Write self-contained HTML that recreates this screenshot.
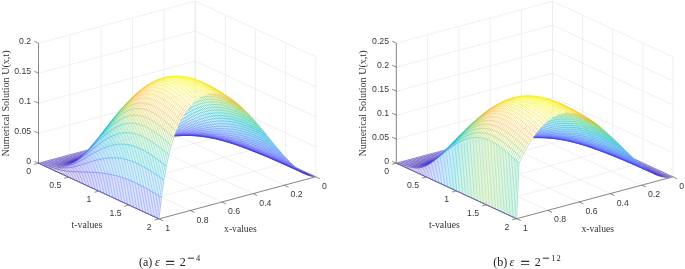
<!DOCTYPE html>
<html><head><meta charset="utf-8"><title>Numerical Solution</title>
<style>html,body{margin:0;padding:0;background:#fff}svg{display:block}
text{font-family:"Liberation Sans",sans-serif;font-size:8.7px;fill:#383838}
.s{font-family:"Liberation Serif",serif;font-size:10px;fill:#333}
.c{font-family:"Liberation Serif",serif;font-size:12px;fill:#222}
</style></head><body>
<svg width="685" height="269" viewBox="0 0 685 269">
<rect width="685" height="269" fill="#fff"/>
<path d="M38.50 163.20 L195.20 121.10M68.62 177.12 L225.32 135.03M98.75 191.05 L255.45 148.95M128.88 204.97 L285.57 162.88M159.00 218.90 L315.70 176.80M195.20 121.10 L315.70 176.80M163.86 129.52 L284.36 185.22M132.52 137.94 L253.02 193.64M101.18 146.36 L221.68 202.06M69.84 154.78 L190.34 210.48M38.50 163.20 L159.00 218.90M195.20 121.10 L195.20 1.10M163.86 129.52 L163.86 9.52M132.52 137.94 L132.52 17.94M101.18 146.36 L101.18 26.36M69.84 154.78 L69.84 34.78M38.50 163.20 L38.50 43.20M38.50 163.20 L195.20 121.10M195.20 121.10 L315.70 176.80M38.50 133.20 L195.20 91.10M195.20 91.10 L315.70 146.80M38.50 103.20 L195.20 61.10M195.20 61.10 L315.70 116.80M38.50 73.20 L195.20 31.10M195.20 31.10 L315.70 86.80M38.50 43.20 L195.20 1.10M195.20 1.10 L315.70 56.80M195.20 121.10 L195.20 1.10M225.32 135.03 L225.32 15.03M255.45 148.95 L255.45 28.95M285.57 162.88 L285.57 42.88M315.70 176.80 L315.70 56.80" fill="none" stroke="#e6e6e6" stroke-width="0.6"/>
<path d="M396.30 163.10 L552.60 121.20M426.38 177.00 L582.67 135.10M456.45 190.90 L612.75 149.00M486.53 204.80 L642.83 162.90M516.60 218.70 L672.90 176.80M552.60 121.20 L672.90 176.80M521.34 129.58 L641.64 185.18M490.08 137.96 L610.38 193.56M458.82 146.34 L579.12 201.94M427.56 154.72 L547.86 210.32M396.30 163.10 L516.60 218.70M552.60 121.20 L552.60 1.30M521.34 129.58 L521.34 9.68M490.08 137.96 L490.08 18.06M458.82 146.34 L458.82 26.44M427.56 154.72 L427.56 34.82M396.30 163.10 L396.30 43.20M396.30 163.10 L552.60 121.20M552.60 121.20 L672.90 176.80M396.30 139.12 L552.60 97.22M552.60 97.22 L672.90 152.82M396.30 115.14 L552.60 73.24M552.60 73.24 L672.90 128.84M396.30 91.16 L552.60 49.26M552.60 49.26 L672.90 104.86M396.30 67.18 L552.60 25.28M552.60 25.28 L672.90 80.88M396.30 43.20 L552.60 1.30M552.60 1.30 L672.90 56.90M552.60 121.20 L552.60 1.30M582.67 135.10 L582.67 15.20M612.75 149.00 L612.75 29.10M642.82 162.90 L642.82 43.00M672.90 176.80 L672.90 56.90" fill="none" stroke="#e6e6e6" stroke-width="0.6"/>
<path d="M38.50 163.20 L38.50 43.20M38.50 163.20 L159.00 218.90M159.00 218.90 L315.70 176.80M38.50 163.20 L34.06 164.39M68.62 177.12 L64.18 178.32M98.75 191.05 L94.31 192.24M128.88 204.97 L124.43 206.17M159.00 218.90 L154.56 220.09M315.70 176.80 L319.88 178.73M284.36 185.22 L288.54 187.15M253.02 193.64 L257.20 195.57M221.68 202.06 L225.86 203.99M190.34 210.48 L194.52 212.41M159.00 218.90 L163.18 220.83M38.50 163.20 L34.32 161.27M38.50 133.20 L34.32 131.27M38.50 103.20 L34.32 101.27M38.50 73.20 L34.32 71.27M38.50 43.20 L34.32 41.27" fill="none" stroke="#505050" stroke-width="0.65"/>
<path d="M396.30 163.10 L396.30 43.20M396.30 163.10 L516.60 218.70M516.60 218.70 L672.90 176.80M396.30 163.10 L391.86 164.29M426.38 177.00 L421.93 178.19M456.45 190.90 L452.01 192.09M486.53 204.80 L482.08 205.99M516.60 218.70 L512.16 219.89M672.90 176.80 L677.08 178.73M641.64 185.18 L645.82 187.11M610.38 193.56 L614.56 195.49M579.12 201.94 L583.30 203.87M547.86 210.32 L552.04 212.25M516.60 218.70 L520.78 220.63M396.30 163.10 L392.12 161.17M396.30 139.12 L392.12 137.19M396.30 115.14 L392.12 113.21M396.30 91.16 L392.12 89.23M396.30 67.18 L392.12 65.25M396.30 43.20 L392.12 41.27" fill="none" stroke="#505050" stroke-width="0.65"/>
<path fill="#fff" stroke="#fff" stroke-width="0.3" d="M195.2 121.1l-2.4 .7-2.5 .6-2.4 .7-2.5 .6-2.4 .7-2.5 .6-2.4 .7-2.5 .7-2.4 .6-2.5 .7-2.4 .6-2.5 .7-2.4 .7-2.5 .6-2.4 .7-2.5 .6-2.4 .7-2.5 .6-2.4 .7-2.5 .7-2.4 .6-2.5 .7-2.4 .6-2.5 .7-2.4 .6-2.5 .7-2.4 .7-2.5 .6-2.4 .7-2.5 .6-2.4 .7-2.5 .6-2.4 .7-2.4 .7-2.5 .6-2.4 .7-2.5 .6-2.4 .7-2.5 .7-2.4 .6-2.5 .7-2.4 .6-2.5 .7-2.4 .6-2.5 .7-2.4 .7-2.5 .6-2.4 .7-2.5 .6-2.4 .7-2.5 .6-2.4 .7-2.5 .7-2.4 .6-2.5 .7-2.4 .6-2.5 .7-2.4 .7-2.5 .6-2.4 .7-2.5 .6-2.4 .7-2.5 .6-2.4 .7 7.5 3.5 2.5-.8 2.4-.8 2.5-.7 2.4-.7 2.5-.7 2.4-.8 2.5-.7 2.4-.7 2.5-.7 2.4-.7 2.5-.7 2.4-.7 2.5-.7 2.4-.7 2.5-.6 2.4-.7 2.5-.7 2.4-.7 2.5-.7 2.4-.6 2.4-.7 2.5-.7 2.4-.7 2.5-.6 2.4-.7 2.5-.6 2.4-.7 2.5-.7 2.4-.6 2.5-.7 2.4-.6 2.5-.7 2.4-.6 2.5-.7 2.4-.6 2.5-.6 2.4-.7 2.5-.6 2.4-.6 2.5-.7 2.4-.6 2.5-.6 2.4-.7 2.5-.6 2.4-.6 2.5-.6 2.4-.7 2.5-.6 2.4-.6 2.5-.6 2.4-.6 2.5-.6 2.4-.7 2.4-.6 2.5-.6 2.4-.6 2.5-.6 2.4-.6 2.5-.7 2.4-.6 2.5-.6 2.4-.6 2.5-.7 2.4-.6zM199.7 123.2l-2.4 .6-2.5 .7-2.4 .6-2.5 .7-2.4 .6-2.5 .7-2.4 .6-2.5 .7-2.4 .6-2.5 .7-2.4 .6-2.5 .7-2.4 .6-2.5 .6-2.4 .7-2.5 .6-2.4 .7-2.5 .6-2.4 .7-2.4 .6-2.5 .7-2.4 .6-2.5 .7-2.4 .6-2.5 .7-2.4 .6-2.5 .7-2.4 .6-2.5 .7-2.4 .7-2.5 .6-2.4 .7-2.5 .6-2.4 .7-2.5 .6-2.4 .7-2.5 .6-2.4 .7-2.5 .7-2.4 .6-2.5 .7-2.4 .6-2.5 .7-2.4 .7-2.5 .6-2.4 .7-2.5 .7-2.4 .6-2.5 .7-2.4 .7-2.5 .6-2.4 .7-2.4 .7-2.5 .6-2.4 .7-2.5 .7-2.4 .6-2.5 .7-2.4 .7-2.5 .7-2.4 .6-2.5 .7-2.4 .7-2.5 .7 7.6 3.5 2.4-1.1 2.4-1.1 2.5-.9 2.4-.9 2.5-.9 2.4-.9 2.5-.8 2.4-.8 2.5-.8 2.4-.8 2.5-.8 2.4-.8 2.5-.7 2.4-.8 2.5-.7 2.4-.8 2.5-.7 2.4-.7 2.5-.7 2.4-.7 2.5-.7 2.4-.7 2.5-.7 2.4-.7 2.5-.7 2.4-.6 2.5-.7 2.4-.6 2.5-.6 2.4-.7 2.5-.6 2.4-.6 2.4-.6 2.5-.6 2.4-.6 2.5-.6 2.4-.6 2.5-.5 2.4-.6 2.5-.6 2.4-.5 2.5-.6 2.4-.5 2.5-.6 2.4-.5 2.5-.6 2.4-.5 2.5-.5 2.4-.5 2.5-.6 2.4-.5 2.5-.5 2.4-.5 2.5-.6 2.4-.5 2.5-.5 2.4-.6 2.5-.5 2.4-.6 2.5-.6 2.4-.5 2.5-.6 2.4-.6 2.4-.6zM204.2 125.3l-2.4 .6-2.5 .6-2.4 .7-2.5 .6-2.4 .6-2.5 .6-2.4 .6-2.5 .6-2.4 .6-2.4 .6-2.5 .6-2.4 .5-2.5 .6-2.4 .6-2.5 .6-2.4 .6-2.5 .6-2.4 .6-2.5 .6-2.4 .6-2.5 .6-2.4 .6-2.5 .6-2.4 .6-2.5 .7-2.4 .6-2.5 .6-2.4 .6-2.5 .6-2.4 .7-2.5 .6-2.4 .6-2.5 .7-2.4 .6-2.5 .7-2.4 .6-2.5 .7-2.4 .6-2.5 .7-2.4 .7-2.4 .6-2.5 .7-2.4 .7-2.5 .7-2.4 .7-2.5 .6-2.4 .7-2.5 .7-2.4 .7-2.5 .7-2.4 .7-2.5 .8-2.4 .7-2.5 .7-2.4 .7-2.5 .7-2.4 .8-2.5 .7-2.4 .8-2.5 .7-2.4 .8-2.5 .8-2.4 .8-2.5 .9 7.6 3.5 2.4-1.8 2.5-1.5 2.4-1.4 2.5-1.2 2.4-1.2 2.5-1.1 2.4-1 2.5-1 2.4-1 2.5-1 2.4-.9 2.4-.9 2.5-.9 2.4-.8 2.5-.9 2.4-.8 2.5-.8 2.4-.8 2.5-.7 2.4-.8 2.5-.7 2.4-.7 2.5-.7 2.4-.6 2.5-.7 2.4-.6 2.5-.6 2.4-.6 2.5-.6 2.4-.6 2.5-.5 2.4-.6 2.5-.5 2.4-.5 2.5-.5 2.4-.5 2.5-.5 2.4-.4 2.5-.5 2.4-.4 2.5-.4 2.4-.5 2.5-.4 2.4-.4 2.4-.4 2.5-.4 2.4-.3 2.5-.4 2.4-.4 2.5-.4 2.4-.4 2.5-.4 2.4-.4 2.5-.4 2.4-.4 2.5-.4 2.4-.4 2.5-.5 2.4-.4 2.5-.5 2.4-.5 2.5-.5 2.4-.6 2.5-.5zM208.8 127.4l-2.5 .6-2.4 .6-2.5 .5-2.4 .6-2.5 .5-2.4 .5-2.5 .6-2.4 .5-2.5 .5-2.4 .5-2.5 .4-2.4 .5-2.5 .5-2.4 .5-2.5 .5-2.4 .5-2.5 .5-2.4 .5-2.5 .4-2.4 .5-2.5 .5-2.4 .6-2.5 .5-2.4 .5-2.5 .5-2.4 .5-2.5 .6-2.4 .5-2.4 .6-2.5 .6-2.4 .5-2.5 .6-2.4 .6-2.5 .6-2.4 .6-2.5 .7-2.4 .6-2.5 .6-2.4 .7-2.5 .6-2.4 .7-2.5 .7-2.4 .7-2.5 .7-2.4 .7-2.5 .8-2.4 .7-2.5 .7-2.4 .8-2.5 .8-2.4 .8-2.5 .8-2.4 .8-2.5 .8-2.4 .8-2.5 .9-2.4 .9-2.5 .9-2.4 .9-2.5 .9-2.4 1.1-2.4 1-2.5 1.2-2.4 1.3 7.5 3.4 2.4-2.7 2.5-2.3 2.4-2 2.5-1.7 2.4-1.6 2.5-1.5 2.4-1.3 2.5-1.3 2.4-1.2 2.5-1.2 2.4-1.1 2.5-1 2.4-1 2.5-1 2.4-1 2.5-.9 2.4-.8 2.5-.9 2.4-.8 2.5-.7 2.4-.8 2.5-.7 2.4-.6 2.5-.7 2.4-.6 2.4-.6 2.5-.5 2.4-.5 2.5-.5 2.4-.5 2.5-.4 2.4-.4 2.5-.4 2.4-.4 2.5-.3 2.4-.4 2.5-.3 2.4-.3 2.5-.2 2.4-.3 2.5-.2 2.4-.3 2.5-.2 2.4-.2 2.5-.2 2.4-.2 2.5-.2 2.4-.2 2.5-.2 2.4-.2 2.5-.2 2.4-.2 2.5-.2 2.4-.2 2.5-.3 2.4-.3 2.4-.3 2.5-.3 2.4-.3 2.5-.4 2.4-.4 2.5-.4 2.4-.5 2.5-.6zM213.3 129.5l-2.5 .5-2.4 .5-2.5 .5-2.4 .5-2.5 .5-2.4 .4-2.5 .4-2.4 .4-2.5 .3-2.4 .4-2.5 .3-2.4 .4-2.5 .3-2.4 .3-2.5 .4-2.4 .3-2.4 .3-2.5 .3-2.4 .4-2.5 .3-2.4 .4-2.5 .3-2.4 .4-2.5 .3-2.4 .4-2.5 .4-2.4 .4-2.5 .5-2.4 .4-2.5 .4-2.4 .5-2.5 .5-2.4 .5-2.5 .5-2.4 .6-2.5 .5-2.4 .6-2.5 .6-2.4 .6-2.5 .7-2.4 .6-2.5 .7-2.4 .7-2.5 .7-2.4 .8-2.5 .8-2.4 .8-2.4 .8-2.5 .8-2.4 .9-2.5 .9-2.4 .9-2.5 1-2.4 .9-2.5 1-2.4 1.1-2.5 1.1-2.4 1.1-2.5 1.2-2.4 1.3-2.5 1.4-2.4 1.6-2.5 1.7-2.4 2.1 7.5 3.4 2.5-4 2.4-3.4 2.5-2.8 2.4-2.4 2.4-2.1 2.5-1.9 2.4-1.8 2.5-1.6 2.4-1.5 2.5-1.4 2.4-1.3 2.5-1.2 2.4-1.2 2.5-1.1 2.4-1 2.5-1 2.4-.9 2.5-.9 2.4-.8 2.5-.8 2.4-.7 2.5-.7 2.4-.6 2.5-.6 2.4-.5 2.5-.5 2.4-.5 2.5-.4 2.4-.3 2.5-.4 2.4-.2 2.5-.3 2.4-.2 2.5-.2 2.4-.1 2.4-.2 2.5-.1 2.4 0 2.5-.1 2.4 0 2.5 0 2.4 0 2.5 0 2.4 0 2.5 0 2.4 .1 2.5 0 2.4 0 2.5 .1 2.4 0 2.5 0 2.4 0 2.5 0 2.4-.1 2.5 0 2.4-.1 2.5-.2 2.4-.1 2.5-.2 2.4-.3 2.5-.3 2.4-.4 2.5-.4 2.4-.5zM217.8 131.5l-2.5 .6-2.4 .4-2.5 .4-2.4 .4-2.4 .3-2.5 .3-2.4 .3-2.5 .3-2.4 .2-2.5 .2-2.4 .1-2.5 .2-2.4 .1-2.5 .2-2.4 .1-2.5 .1-2.4 .1-2.5 .2-2.4 .1-2.5 .1-2.4 .1-2.5 .2-2.4 .1-2.5 .2-2.4 .2-2.5 .2-2.4 .2-2.5 .3-2.4 .2-2.5 .3-2.4 .3-2.5 .4-2.4 .3-2.5 .4-2.4 .5-2.5 .4-2.4 .5-2.4 .5-2.5 .6-2.4 .5-2.5 .7-2.4 .6-2.5 .7-2.4 .7-2.5 .8-2.4 .8-2.5 .9-2.4 .9-2.5 .9-2.4 1-2.5 1-2.4 1.1-2.5 1.1-2.4 1.2-2.5 1.2-2.4 1.3-2.5 1.4-2.4 1.4-2.5 1.6-2.4 1.8-2.5 1.9-2.4 2.3-2.5 2.6-2.4 3.1 7.5 3.5 2.5-5.6 2.4-4.6 2.5-3.8 2.4-3.3 2.5-2.7 2.4-2.5 2.5-2.2 2.4-1.9 2.5-1.8 2.4-1.7 2.5-1.5 2.4-1.4 2.5-1.4 2.4-1.2 2.5-1.1 2.4-1.1 2.4-1 2.5-.9 2.4-.8 2.5-.8 2.4-.7 2.5-.6 2.4-.5 2.5-.5 2.4-.4 2.5-.4 2.4-.3 2.5-.2 2.4-.2 2.5-.2 2.4-.1 2.5 0 2.4 0 2.5 0 2.4 .1 2.5 .1 2.4 .1 2.5 .2 2.4 .2 2.5 .2 2.4 .3 2.5 .2 2.4 .3 2.5 .3 2.4 .3 2.5 .2 2.4 .3 2.4 .3 2.5 .3 2.4 .3 2.5 .2 2.4 .2 2.5 .2 2.4 .2 2.5 .1 2.4 .1 2.5 .1 2.4-.1 2.5 0 2.4-.1 2.5-.2 2.4-.3 2.5-.3 2.4-.5zM222.3 133.6l-2.4 .5-2.5 .4-2.4 .3-2.5 .3-2.4 .2-2.5 .2-2.4 .1-2.5 0-2.4 .1-2.5 0-2.4 0-2.5-.1-2.4-.1-2.5-.1-2.4-.1-2.5-.1-2.4-.1-2.5-.1-2.4-.1-2.5-.1-2.4-.1-2.5-.1-2.4-.1-2.4-.1-2.5 0-2.4-.1-2.5 0-2.4 .1-2.5 0-2.4 .1-2.5 .1-2.4 .2-2.5 .1-2.4 .3-2.5 .2-2.4 .3-2.5 .4-2.4 .4-2.5 .4-2.4 .5-2.5 .6-2.4 .6-2.5 .7-2.4 .7-2.5 .7-2.4 .9-2.5 .8-2.4 1-2.5 1-2.4 1.1-2.5 1.1-2.4 1.3-2.5 1.3-2.4 1.3-2.5 1.5-2.4 1.6-2.4 1.7-2.5 1.9-2.4 2.1-2.5 2.3-2.4 2.7-2.5 3.1-2.4 3.8-2.5 4.5 7.5 3.5 2.5-7.5 2.4-6 2.5-4.9 2.4-4.1 2.5-3.5 2.4-3 2.5-2.7 2.4-2.4 2.5-2.1 2.4-1.9 2.5-1.8 2.4-1.6 2.5-1.4 2.4-1.4 2.5-1.2 2.4-1.1 2.5-1.1 2.4-.9 2.5-.8 2.4-.7 2.5-.6 2.4-.6 2.5-.4 2.4-.4 2.5-.3 2.4-.2 2.5-.1 2.4-.1 2.4 0 2.5 0 2.4 .1 2.5 .2 2.4 .2 2.5 .3 2.4 .3 2.5 .4 2.4 .4 2.5 .5 2.4 .4 2.5 .5 2.4 .5 2.5 .6 2.4 .5 2.5 .6 2.4 .5 2.5 .6 2.4 .6 2.5 .5 2.4 .5 2.5 .6 2.4 .4 2.5 .5 2.4 .4 2.5 .4 2.4 .3 2.5 .3 2.4 .2 2.5 .2 2.4 .1 2.4 0 2.5-.1 2.4-.1 2.5-.3 2.4-.4zM226.8 135.7l-2.4 .4-2.5 .4-2.4 .2-2.5 .1-2.4 .1-2.5 0-2.4 0-2.5-.1-2.4-.2-2.5-.2-2.4-.2-2.5-.3-2.4-.3-2.4-.3-2.5-.3-2.4-.4-2.5-.4-2.4-.4-2.5-.3-2.4-.4-2.5-.4-2.4-.4-2.5-.3-2.4-.3-2.5-.3-2.4-.3-2.5-.3-2.4-.2-2.5-.2-2.4-.2-2.5-.1-2.4 0-2.5-.1-2.4 .1-2.5 0-2.4 .2-2.5 .2-2.4 .2-2.5 .3-2.4 .4-2.5 .5-2.4 .5-2.5 .6-2.4 .6-2.4 .8-2.5 .8-2.4 .9-2.5 1-2.4 1.1-2.5 1.2-2.4 1.2-2.5 1.4-2.4 1.5-2.5 1.6-2.4 1.8-2.5 1.9-2.4 2.1-2.5 2.3-2.4 2.6-2.5 3-2.4 3.5-2.5 4.2-2.4 5.1-2.5 6.2 7.6 3.5 2.4-9.4 2.5-7.6 2.4-6.1 2.5-5 2.4-4.3 2.5-3.6 2.4-3.2 2.4-2.7 2.5-2.5 2.4-2.2 2.5-2 2.4-1.8 2.5-1.6 2.4-1.4 2.5-1.3 2.4-1.2 2.5-1 2.4-.9 2.5-.8 2.4-.7 2.5-.5 2.4-.5 2.5-.3 2.4-.3 2.5-.1 2.4-.1 2.5 .1 2.4 .1 2.5 .2 2.4 .3 2.5 .3 2.4 .4 2.5 .5 2.4 .5 2.5 .6 2.4 .6 2.5 .7 2.4 .7 2.5 .7 2.4 .8 2.4 .8 2.5 .8 2.4 .9 2.5 .8 2.4 .9 2.5 .8 2.4 .8 2.5 .9 2.4 .8 2.5 .7 2.4 .8 2.5 .7 2.4 .6 2.5 .6 2.4 .6 2.5 .4 2.4 .4 2.5 .4 2.4 .2 2.5 .1 2.4 .1 2.5-.1 2.4-.2 2.5-.3zM231.4 137.8l-2.5 .4-2.4 .2-2.5 .1-2.4 .1-2.5-.1-2.4-.1-2.5-.2-2.4-.3-2.5-.4-2.4-.4-2.5-.4-2.4-.5-2.5-.5-2.4-.6-2.5-.6-2.4-.6-2.5-.7-2.4-.6-2.5-.7-2.4-.6-2.5-.7-2.4-.6-2.5-.7-2.4-.6-2.5-.6-2.4-.5-2.5-.6-2.4-.5-2.5-.4-2.4-.4-2.5-.4-2.4-.3-2.4-.2-2.5-.2-2.4-.1-2.5-.1-2.4 0-2.5 .1-2.4 .2-2.5 .2-2.4 .3-2.5 .4-2.4 .6-2.5 .6-2.4 .7-2.5 .8-2.4 .9-2.5 1-2.4 1.1-2.5 1.3-2.4 1.4-2.5 1.5-2.4 1.7-2.5 1.8-2.4 2-2.5 2.2-2.4 2.5-2.5 2.9-2.4 3.2-2.5 3.7-2.4 4.5-2.5 5.3-2.4 6.5-2.5 8.1 7.6 3.5 2.4-11.4 2.5-9.1 2.4-7.4 2.5-6 2.4-5 2.5-4.2 2.4-3.7 2.5-3.2 2.4-2.7 2.5-2.5 2.4-2.2 2.5-1.9 2.4-1.8 2.5-1.5 2.4-1.4 2.5-1.2 2.4-1 2.5-.9 2.4-.8 2.5-.6 2.4-.4 2.4-.4 2.5-.2 2.4-.1 2.5 0 2.4 .1 2.5 .2 2.4 .3 2.5 .4 2.4 .5 2.5 .6 2.4 .6 2.5 .7 2.4 .8 2.5 .9 2.4 .9 2.5 .9 2.4 1 2.5 1 2.4 1.1 2.5 1.1 2.4 1.1 2.5 1.1 2.4 1.1 2.5 1.1 2.4 1.1 2.5 1.1 2.4 1.1 2.5 1.1 2.4 1 2.5 1 2.4 .9 2.4 .9 2.5 .8 2.4 .8 2.5 .7 2.4 .5 2.5 .5 2.4 .4 2.5 .3 2.4 .1 2.5 .1 2.4-.1 2.5-.3zM235.9 139.9l-2.5 .3-2.4 .2-2.5 0-2.4-.1-2.5-.2-2.4-.2-2.5-.4-2.4-.5-2.5-.5-2.4-.6-2.5-.7-2.4-.8-2.5-.7-2.4-.9-2.5-.8-2.4-.9-2.5-.9-2.4-.9-2.5-1-2.4-.9-2.4-.9-2.5-1-2.4-.9-2.5-.9-2.4-.8-2.5-.9-2.4-.8-2.5-.8-2.4-.7-2.5-.6-2.4-.7-2.5-.5-2.4-.5-2.5-.4-2.4-.4-2.5-.2-2.4-.2-2.5-.1-2.4 0-2.5 .1-2.4 .2-2.5 .3-2.4 .4-2.5 .6-2.4 .6-2.5 .8-2.4 .9-2.5 1-2.4 1.2-2.5 1.3-2.4 1.5-2.4 1.7-2.5 1.8-2.4 2-2.5 2.3-2.4 2.6-2.5 2.9-2.4 3.3-2.5 3.8-2.4 4.5-2.5 5.4-2.4 6.6-2.5 8-2.4 10.1 7.5 3.5 2.4-13.4 2.5-10.6 2.4-8.6 2.5-6.9 2.4-5.8 2.5-4.9 2.4-4.1 2.5-3.5 2.4-3.1 2.5-2.7 2.4-2.4 2.5-2.1 2.4-1.9 2.5-1.6 2.4-1.5 2.5-1.2 2.4-1 2.5-.9 2.4-.7 2.5-.5 2.4-.4 2.5-.3 2.4-.1 2.5 0 2.4 .2 2.5 .3 2.4 .3 2.5 .5 2.4 .6 2.5 .7 2.4 .8 2.4 .9 2.5 1 2.4 1 2.5 1.1 2.4 1.2 2.5 1.2 2.4 1.2 2.5 1.3 2.4 1.4 2.5 1.3 2.4 1.4 2.5 1.4 2.4 1.4 2.5 1.4 2.4 1.4 2.5 1.3 2.4 1.4 2.5 1.3 2.4 1.3 2.5 1.2 2.4 1.2 2.5 1.1 2.4 1 2.5 .9 2.4 .9 2.5 .8 2.4 .6 2.5 .5 2.4 .4 2.5 .3 2.4 .1 2.5 0 2.4-.2zM240.4 142l-2.5 .2-2.4 .1-2.5 0-2.4-.2-2.5-.3-2.4-.5-2.5-.5-2.4-.7-2.4-.7-2.5-.8-2.4-.9-2.5-1-2.4-1-2.5-1-2.4-1.2-2.5-1.1-2.4-1.2-2.5-1.2-2.4-1.2-2.5-1.2-2.4-1.2-2.5-1.2-2.4-1.2-2.5-1.2-2.4-1.1-2.5-1.2-2.4-1-2.5-1.1-2.4-1-2.5-.9-2.4-.8-2.5-.8-2.4-.8-2.5-.6-2.4-.6-2.5-.4-2.4-.4-2.5-.3-2.4-.2-2.5 0-2.4 .1-2.4 .1-2.5 .4-2.4 .4-2.5 .6-2.4 .7-2.5 .9-2.4 1.1-2.5 1.2-2.4 1.3-2.5 1.6-2.4 1.8-2.5 2-2.4 2.3-2.5 2.5-2.4 2.9-2.5 3.3-2.4 3.8-2.5 4.4-2.4 5.3-2.5 6.4-2.4 7.7-2.5 9.6-2.4 12.1 7.5 3.5 2.5-15.3 2.4-12.1 2.5-9.7 2.4-7.9 2.5-6.5 2.4-5.4 2.5-4.6 2.4-3.9 2.5-3.4 2.4-2.9 2.5-2.6 2.4-2.3 2.4-1.9 2.5-1.8 2.4-1.4 2.5-1.3 2.4-1 2.5-.9 2.4-.6 2.5-.5 2.4-.3 2.5-.2 2.4 0 2.5 .2 2.4 .3 2.5 .4 2.4 .5 2.5 .7 2.4 .8 2.5 .9 2.4 1 2.5 1.1 2.4 1.2 2.5 1.3 2.4 1.3 2.5 1.4 2.4 1.5 2.5 1.5 2.4 1.6 2.5 1.6 2.4 1.6 2.5 1.6 2.4 1.7 2.5 1.6 2.4 1.7 2.4 1.6 2.5 1.7 2.4 1.6 2.5 1.5 2.4 1.5 2.5 1.5 2.4 1.4 2.5 1.3 2.4 1.2 2.5 1.2 2.4 1 2.5 .9 2.4 .8 2.5 .7 2.4 .5 2.5 .4 2.4 .2 2.5 0 2.4-.1zM244.9 144.1l-2.4 .2-2.5 0-2.4-.2-2.5-.3-2.4-.4-2.5-.6-2.4-.7-2.5-.8-2.4-.9-2.5-1-2.4-1.1-2.5-1.2-2.4-1.3-2.5-1.3-2.4-1.3-2.5-1.4-2.4-1.4-2.5-1.5-2.4-1.5-2.5-1.5-2.4-1.4-2.5-1.5-2.4-1.5-2.5-1.4-2.4-1.5-2.5-1.3-2.4-1.4-2.4-1.3-2.5-1.2-2.4-1.2-2.5-1.1-2.4-1.1-2.5-.9-2.4-.9-2.5-.7-2.4-.7-2.5-.6-2.4-.4-2.5-.3-2.4-.2-2.5-.1-2.4 .1-2.5 .2-2.4 .3-2.5 .6-2.4 .7-2.5 .8-2.4 1.1-2.5 1.2-2.4 1.4-2.5 1.7-2.4 1.9-2.5 2.2-2.4 2.4-2.5 2.8-2.4 3.2-2.5 3.7-2.4 4.3-2.5 5-2.4 6-2.4 7.3-2.5 8.9-2.4 11.2-2.5 14 7.5 3.5 2.5-17.1 2.4-13.4 2.5-10.8 2.4-8.7 2.5-7.2 2.4-6 2.5-5 2.4-4.3 2.5-3.6 2.4-3.2 2.5-2.8 2.4-2.4 2.5-2 2.4-1.8 2.5-1.5 2.4-1.3 2.5-1.1 2.4-.8 2.5-.6 2.4-.5 2.5-.2 2.4-.1 2.5 .1 2.4 .3 2.4 .4 2.5 .6 2.4 .7 2.5 .9 2.4 .9 2.5 1.1 2.4 1.2 2.5 1.3 2.4 1.4 2.5 1.5 2.4 1.6 2.5 1.6 2.4 1.7 2.5 1.8 2.4 1.8 2.5 1.8 2.4 1.9 2.5 1.9 2.4 1.9 2.5 1.9 2.4 1.9 2.5 1.9 2.4 1.8 2.5 1.9 2.4 1.8 2.5 1.7 2.4 1.7 2.5 1.6 2.4 1.5 2.5 1.4 2.4 1.3 2.4 1.2 2.5 1.1 2.4 1 2.5 .8 2.4 .6 2.5 .5 2.4 .3 2.5 .1 2.4-.1zM249.4 146.2l-2.4 .1-2.5 0-2.4-.3-2.5-.4-2.4-.6-2.5-.7-2.4-.8-2.5-1-2.4-1.1-2.5-1.2-2.4-1.3-2.5-1.4-2.4-1.4-2.5-1.6-2.4-1.6-2.5-1.6-2.4-1.7-2.4-1.7-2.5-1.7-2.4-1.7-2.5-1.8-2.4-1.7-2.5-1.7-2.4-1.7-2.5-1.7-2.4-1.7-2.5-1.6-2.4-1.5-2.5-1.5-2.4-1.4-2.5-1.4-2.4-1.2-2.5-1.2-2.4-1.1-2.5-.9-2.4-.9-2.5-.7-2.4-.6-2.5-.5-2.4-.4-2.5-.1-2.4-.1-2.5 .1-2.4 .3-2.5 .5-2.4 .6-2.5 .9-2.4 1-2.4 1.3-2.5 1.5-2.4 1.7-2.5 2-2.4 2.3-2.5 2.7-2.4 3-2.5 3.5-2.4 4-2.5 4.8-2.4 5.6-2.5 6.7-2.4 8.2-2.5 10-2.4 12.6-2.5 15.9 7.6 3.4 2.4-18.6 2.5-14.7 2.4-11.8 2.4-9.5 2.5-7.8 2.4-6.4 2.5-5.4 2.4-4.6 2.5-3.9 2.4-3.4 2.5-3 2.4-2.5 2.5-2.2 2.4-1.8 2.5-1.6 2.4-1.3 2.5-1.1 2.4-.8 2.5-.6 2.4-.4 2.5-.2 2.4 .1 2.5 .2 2.4 .3 2.5 .6 2.4 .7 2.5 .8 2.4 1 2.5 1.2 2.4 1.3 2.5 1.3 2.4 1.5 2.5 1.6 2.4 1.7 2.5 1.8 2.4 1.8 2.4 2 2.5 1.9 2.4 2.1 2.5 2 2.4 2.1 2.5 2.1 2.4 2.2 2.5 2.1 2.4 2.1 2.5 2.1 2.4 2.1 2.5 2.1 2.4 2 2.5 1.9 2.4 1.9 2.5 1.8 2.4 1.7 2.5 1.6 2.4 1.5 2.5 1.3 2.4 1.3 2.5 1 2.4 1 2.5 .7 2.4 .6 2.5 .4 2.4 .1 2.5-.1zM253.9 148.3l-2.4 0-2.5-.1-2.4-.3-2.4-.5-2.5-.7-2.4-.8-2.5-1-2.4-1.1-2.5-1.3-2.4-1.4-2.5-1.5-2.4-1.5-2.5-1.7-2.4-1.8-2.5-1.8-2.4-1.8-2.5-1.9-2.4-2-2.5-1.9-2.4-2-2.5-2-2.4-2-2.5-1.9-2.4-2-2.5-1.9-2.4-1.9-2.5-1.8-2.4-1.8-2.5-1.7-2.4-1.6-2.5-1.6-2.4-1.4-2.5-1.4-2.4-1.3-2.5-1.1-2.4-1.1-2.4-.9-2.5-.7-2.4-.7-2.5-.4-2.4-.3-2.5-.2-2.4 .1-2.5 .2-2.4 .4-2.5 .6-2.4 .8-2.5 1.1-2.4 1.3-2.5 1.5-2.4 1.8-2.5 2.2-2.4 2.4-2.5 2.8-2.4 3.3-2.5 3.7-2.4 4.4-2.5 5.2-2.4 6.1-2.5 7.4-2.4 9-2.5 11.1-2.4 13.9-2.5 17.6 7.6 3.4 2.4-20 2.5-15.9 2.4-12.6 2.5-10.2 2.4-8.3 2.5-6.9 2.4-5.8 2.5-4.9 2.4-4.2 2.5-3.5 2.4-3.1 2.5-2.7 2.4-2.2 2.5-2 2.4-1.6 2.5-1.3 2.4-1.1 2.4-.8 2.5-.6 2.4-.3 2.5-.2 2.4 .1 2.5 .3 2.4 .5 2.5 .6 2.4 .8 2.5 1 2.4 1.1 2.5 1.3 2.4 1.4 2.5 1.6 2.4 1.7 2.5 1.7 2.4 1.9 2.5 2 2.4 2 2.5 2.1 2.4 2.2 2.5 2.2 2.4 2.3 2.5 2.3 2.4 2.3 2.5 2.3 2.4 2.4 2.5 2.3 2.4 2.3 2.5 2.3 2.4 2.3 2.4 2.1 2.5 2.2 2.4 2 2.5 2 2.4 1.9 2.5 1.7 2.4 1.7 2.5 1.5 2.4 1.4 2.5 1.2 2.4 1 2.5 .8 2.4 .7 2.5 .4 2.4 .3 2.5-.1zM258.5 150.3l-2.5 .1-2.4-.2-2.5-.4-2.4-.6-2.5-.8-2.4-.9-2.5-1.1-2.4-1.3-2.5-1.4-2.4-1.6-2.5-1.6-2.4-1.8-2.5-1.9-2.4-1.9-2.5-2-2.4-2.1-2.5-2.1-2.4-2.1-2.5-2.2-2.4-2.2-2.5-2.2-2.4-2.2-2.5-2.2-2.4-2.2-2.4-2.1-2.5-2.1-2.4-2-2.5-2-2.4-1.9-2.5-1.9-2.4-1.7-2.5-1.7-2.4-1.5-2.5-1.5-2.4-1.3-2.5-1.2-2.4-1-2.5-.9-2.4-.8-2.5-.6-2.4-.4-2.5-.2-2.4 0-2.5 .1-2.4 .4-2.5 .6-2.4 .8-2.5 1.1-2.4 1.3-2.5 1.6-2.4 1.9-2.5 2.2-2.4 2.5-2.5 3-2.4 3.5-2.4 4-2.5 4.7-2.4 5.5-2.5 6.6-2.4 8-2.5 9.7-2.4 12.1-2.5 15.1-2.4 19.1 7.5 3.5 2.4-21.3 2.5-16.8 2.4-13.4 2.5-10.8 2.4-8.8 2.5-7.3 2.4-6.1 2.5-5.1 2.4-4.4 2.5-3.7 2.4-3.2 2.5-2.8 2.4-2.4 2.5-2 2.4-1.6 2.5-1.4 2.4-1.1 2.5-.8 2.4-.6 2.5-.3 2.4-.1 2.5 .2 2.4 .3 2.5 .5 2.4 .8 2.5 .9 2.4 1.1 2.4 1.2 2.5 1.4 2.4 1.6 2.5 1.7 2.4 1.8 2.5 1.9 2.4 2 2.5 2.2 2.4 2.2 2.5 2.3 2.4 2.3 2.5 2.4 2.4 2.5 2.5 2.4 2.4 2.5 2.5 2.6 2.4 2.5 2.5 2.5 2.4 2.5 2.5 2.5 2.4 2.4 2.5 2.3 2.4 2.3 2.5 2.2 2.4 2.2 2.5 2 2.4 1.9 2.5 1.8 2.4 1.6 2.5 1.5 2.4 1.3 2.5 1.2 2.4 .9 2.4 .7 2.5 .5 2.4 .3 2.5 0zM263 152.4l-2.5 0-2.4-.2-2.5-.5-2.4-.6-2.5-.9-2.4-1.1-2.5-1.2-2.4-1.4-2.5-1.6-2.4-1.7-2.5-1.8-2.4-1.9-2.4-2-2.5-2.2-2.4-2.1-2.5-2.3-2.4-2.3-2.5-2.3-2.4-2.4-2.5-2.4-2.4-2.4-2.5-2.4-2.4-2.4-2.5-2.4-2.4-2.3-2.5-2.3-2.4-2.2-2.5-2.2-2.4-2.1-2.5-2-2.4-2-2.5-1.8-2.4-1.7-2.5-1.6-2.4-1.5-2.5-1.3-2.4-1.2-2.5-1-2.4-.8-2.5-.7-2.4-.5-2.5-.3-2.4-.1-2.5 .1-2.4 .3-2.4 .6-2.5 .8-2.4 1.1-2.5 1.4-2.4 1.6-2.5 2-2.4 2.3-2.5 2.7-2.4 3.1-2.5 3.6-2.4 4.3-2.5 4.9-2.4 5.9-2.5 7-2.4 8.5-2.5 10.4-2.4 12.9-2.5 16.2-2.4 20.5 7.5 3.5 2.5-22.3 2.4-17.6 2.5-14 2.4-11.3 2.5-9.2 2.4-7.6 2.5-6.4 2.4-5.3 2.4-4.6 2.5-3.9 2.4-3.3 2.5-2.9 2.4-2.4 2.5-2.1 2.4-1.7 2.5-1.4 2.4-1.1 2.5-.9 2.4-.5 2.5-.3 2.4-.1 2.5 .2 2.4 .4 2.5 .6 2.4 .8 2.5 1 2.4 1.1 2.5 1.4 2.4 1.5 2.5 1.7 2.4 1.7 2.5 2 2.4 2 2.5 2.2 2.4 2.2 2.5 2.4 2.4 2.4 2.5 2.5 2.4 2.6 2.5 2.6 2.4 2.6 2.4 2.7 2.5 2.6 2.4 2.7 2.5 2.7 2.4 2.6 2.5 2.7 2.4 2.5 2.5 2.5 2.4 2.5 2.5 2.3 2.4 2.3 2.5 2.2 2.4 2 2.5 1.9 2.4 1.7 2.5 1.6 2.4 1.4 2.5 1.3 2.4 1 2.5 .8 2.4 .6 2.5 .3 2.4 0zM267.5 154.5l-2.4 0-2.5-.3-2.4-.5-2.5-.8-2.4-.9-2.5-1.2-2.4-1.4-2.5-1.5-2.4-1.7-2.5-1.8-2.4-1.9-2.5-2.1-2.4-2.2-2.5-2.2-2.4-2.4-2.5-2.4-2.4-2.5-2.5-2.5-2.4-2.5-2.5-2.6-2.4-2.6-2.5-2.6-2.4-2.5-2.5-2.6-2.4-2.5-2.5-2.4-2.4-2.4-2.5-2.4-2.4-2.2-2.5-2.2-2.4-2.1-2.4-1.9-2.5-1.9-2.4-1.7-2.5-1.6-2.4-1.4-2.5-1.3-2.4-1.1-2.5-1-2.4-.7-2.5-.6-2.4-.4-2.5-.1-2.4 .1-2.5 .3-2.4 .5-2.5 .8-2.4 1.1-2.5 1.4-2.4 1.7-2.5 2-2.4 2.4-2.5 2.8-2.4 3.3-2.5 3.8-2.4 4.4-2.5 5.2-2.4 6.2-2.5 7.4-2.4 9-2.5 10.9-2.4 13.7-2.5 17.1-2.4 21.6 7.5 3.5 2.5-23.1 2.4-18.2 2.5-14.5 2.4-11.7 2.5-9.5 2.4-7.9 2.5-6.6 2.4-5.5 2.5-4.7 2.4-4 2.5-3.5 2.4-2.9 2.5-2.5 2.4-2.2 2.5-1.7 2.4-1.5 2.5-1.1 2.4-.9 2.5-.5 2.4-.3 2.4-.1 2.5 .2 2.4 .5 2.5 .6 2.4 .8 2.5 1.1 2.4 1.2 2.5 1.4 2.4 1.6 2.5 1.8 2.4 1.8 2.5 2.1 2.4 2.1 2.5 2.3 2.4 2.3 2.5 2.5 2.4 2.5 2.5 2.6 2.4 2.7 2.5 2.7 2.4 2.8 2.5 2.8 2.4 2.8 2.5 2.8 2.4 2.8 2.5 2.8 2.4 2.7 2.5 2.7 2.4 2.6 2.5 2.6 2.4 2.5 2.4 2.4 2.5 2.2 2.4 2.2 2.5 2 2.4 1.8 2.5 1.7 2.4 1.5 2.5 1.3 2.4 1.1 2.5 .9 2.4 .6 2.5 .3 2.4 .1zM272 156.6l-2.4 0-2.5-.4-2.4-.6-2.5-.8-2.4-1-2.5-1.3-2.4-1.4-2.5-1.6-2.4-1.8-2.5-2-2.4-2-2.5-2.2-2.4-2.3-2.5-2.4-2.4-2.5-2.5-2.6-2.4-2.6-2.5-2.7-2.4-2.6-2.5-2.8-2.4-2.7-2.4-2.7-2.5-2.7-2.4-2.7-2.5-2.6-2.4-2.6-2.5-2.6-2.4-2.4-2.5-2.4-2.4-2.3-2.5-2.2-2.4-2.1-2.5-2-2.4-1.8-2.5-1.7-2.4-1.5-2.5-1.4-2.4-1.2-2.5-1-2.4-.8-2.5-.6-2.4-.4-2.5-.2-2.4 0-2.5 .3-2.4 .6-2.5 .8-2.4 1.1-2.5 1.5-2.4 1.7-2.5 2.1-2.4 2.5-2.4 2.8-2.5 3.4-2.4 4-2.5 4.6-2.4 5.4-2.5 6.4-2.4 7.7-2.5 9.3-2.4 11.5-2.5 14.2-2.4 17.8-2.5 22.6 7.5 3.5 2.5-23.7 2.4-18.6 2.5-14.9 2.4-11.9 2.5-9.8 2.4-8 2.5-6.8 2.4-5.6 2.5-4.8 2.4-4.2 2.5-3.5 2.4-3 2.5-2.6 2.4-2.2 2.5-1.8 2.4-1.5 2.5-1.2 2.4-.9 2.5-.5 2.4-.4 2.5 0 2.4 .2 2.5 .4 2.4 .7 2.5 .9 2.4 1 2.5 1.3 2.4 1.5 2.5 1.6 2.4 1.8 2.5 1.9 2.4 2.1 2.4 2.2 2.5 2.4 2.4 2.4 2.5 2.5 2.4 2.7 2.5 2.7 2.4 2.7 2.5 2.8 2.4 2.9 2.5 2.9 2.4 2.9 2.5 2.9 2.4 2.9 2.5 2.9 2.4 2.8 2.5 2.8 2.4 2.8 2.5 2.6 2.4 2.6 2.5 2.5 2.4 2.3 2.5 2.3 2.4 2.1 2.5 1.9 2.4 1.7 2.5 1.6 2.4 1.4 2.5 1.1 2.4 .9 2.5 .7 2.4 .4 2.5 .1zM276.5 158.7l-2.4-.1-2.5-.4-2.4-.6-2.5-.9-2.4-1.1-2.5-1.3-2.4-1.5-2.4-1.7-2.5-1.9-2.4-2-2.5-2.2-2.4-2.3-2.5-2.4-2.4-2.5-2.5-2.6-2.4-2.7-2.5-2.7-2.4-2.8-2.5-2.8-2.4-2.9-2.5-2.8-2.4-2.9-2.5-2.8-2.4-2.8-2.5-2.7-2.4-2.7-2.5-2.7-2.4-2.6-2.5-2.4-2.4-2.4-2.5-2.3-2.4-2.2-2.5-2-2.4-2-2.5-1.7-2.4-1.6-2.5-1.4-2.4-1.3-2.5-1-2.4-.9-2.4-.7-2.5-.4-2.4-.2-2.5 .1-2.4 .3-2.5 .5-2.4 .9-2.5 1.1-2.4 1.5-2.5 1.8-2.4 2.1-2.5 2.6-2.4 2.9-2.5 3.5-2.4 4.1-2.5 4.7-2.4 5.6-2.5 6.6-2.4 8-2.5 9.6-2.4 11.8-2.5 14.6-2.4 18.4-2.5 23.3 7.6 3.5 2.4-24 2.5-18.9 2.4-15 2.5-12.2 2.4-9.9 2.5-8.2 2.4-6.8 2.5-5.8 2.4-4.9 2.5-4.2 2.4-3.6 2.5-3.1 2.4-2.7 2.4-2.2 2.5-1.9 2.4-1.5 2.5-1.2 2.4-.9 2.5-.7 2.4-.3 2.5-.1 2.4 .2 2.5 .4 2.4 .7 2.5 .9 2.4 1.1 2.5 1.2 2.4 1.5 2.5 1.7 2.4 1.8 2.5 2 2.4 2.1 2.5 2.2 2.4 2.4 2.5 2.5 2.4 2.6 2.5 2.7 2.4 2.7 2.5 2.9 2.4 2.9 2.5 2.9 2.4 3 2.5 2.9 2.4 3 2.4 3 2.5 2.9 2.4 3 2.5 2.8 2.4 2.9 2.5 2.7 2.4 2.7 2.5 2.5 2.4 2.5 2.5 2.3 2.4 2.1 2.5 2 2.4 1.8 2.5 1.7 2.4 1.4 2.5 1.2 2.4 .9 2.5 .7 2.4 .5 2.5 .1zM281.1 160.8l-2.5-.1-2.4-.4-2.5-.7-2.4-.9-2.5-1.2-2.4-1.4-2.5-1.6-2.4-1.7-2.5-2-2.4-2.1-2.5-2.3-2.4-2.4-2.5-2.5-2.4-2.6-2.5-2.7-2.4-2.7-2.5-2.9-2.4-2.8-2.5-2.9-2.4-3-2.5-2.9-2.4-2.9-2.5-2.9-2.4-2.9-2.5-2.9-2.4-2.8-2.5-2.7-2.4-2.6-2.4-2.6-2.5-2.5-2.4-2.3-2.5-2.2-2.4-2.1-2.5-2-2.4-1.8-2.5-1.6-2.4-1.5-2.5-1.3-2.4-1.1-2.5-.8-2.4-.7-2.5-.4-2.4-.2-2.5 0-2.4 .4-2.5 .5-2.4 .9-2.5 1.2-2.4 1.5-2.5 1.8-2.4 2.2-2.5 2.7-2.4 3-2.5 3.6-2.4 4.1-2.5 4.9-2.4 5.7-2.5 6.8-2.4 8.1-2.4 9.8-2.5 12-2.4 15-2.5 18.7-2.4 23.8 7.5 3.5 2.4-24.1 2.5-19 2.4-15.1 2.5-12.2 2.4-10 2.5-8.3 2.4-6.9 2.5-5.8 2.4-5 2.5-4.3 2.4-3.7 2.5-3.1 2.4-2.8 2.5-2.3 2.4-1.9 2.5-1.6 2.4-1.2 2.5-1 2.4-.6 2.5-.4 2.4-.1 2.5 .1 2.4 .4 2.4 .7 2.5 .8 2.4 1.1 2.5 1.3 2.4 1.4 2.5 1.7 2.4 1.8 2.5 2 2.4 2.1 2.5 2.3 2.4 2.4 2.5 2.5 2.4 2.6 2.5 2.8 2.4 2.8 2.5 2.8 2.4 3 2.5 2.9 2.4 3 2.5 3.1 2.4 3 2.5 3 2.4 3.1 2.5 2.9 2.4 3 2.5 2.9 2.4 2.8 2.5 2.7 2.4 2.6 2.5 2.5 2.4 2.3 2.5 2.3 2.4 2 2.4 1.9 2.5 1.7 2.4 1.4 2.5 1.3 2.4 1 2.5 .7 2.4 .4 2.5 .2zM285.6 162.9l-2.5-.2-2.4-.4-2.5-.7-2.4-1-2.5-1.2-2.4-1.4-2.5-1.6-2.4-1.9-2.5-2-2.4-2.2-2.5-2.3-2.4-2.5-2.5-2.6-2.4-2.6-2.5-2.8-2.4-2.8-2.4-2.9-2.5-3-2.4-3-2.5-3-2.4-3-2.5-3-2.4-2.9-2.5-3-2.4-2.9-2.5-2.8-2.4-2.8-2.5-2.7-2.4-2.6-2.5-2.5-2.4-2.4-2.5-2.3-2.4-2.1-2.5-2-2.4-1.8-2.5-1.6-2.4-1.5-2.5-1.3-2.4-1.1-2.5-.9-2.4-.6-2.5-.4-2.4-.2-2.5 .1-2.4 .3-2.5 .7-2.4 .9-2.5 1.2-2.4 1.5-2.4 1.9-2.5 2.3-2.4 2.7-2.5 3.1-2.4 3.6-2.5 4.3-2.4 4.9-2.5 5.8-2.4 6.9-2.5 8.2-2.4 9.9-2.5 12.2-2.4 15.1-2.5 19-2.4 24 7.5 3.5 2.5-24 2.4-19 2.5-15.1 2.4-12.2 2.4-10 2.5-8.2 2.4-7 2.5-5.9 2.4-5 2.5-4.3 2.4-3.8 2.5-3.2 2.4-2.8 2.5-2.3 2.4-2 2.5-1.7 2.4-1.3 2.5-1 2.4-.7 2.5-.4 2.4-.2 2.5 .2 2.4 .3 2.5 .6 2.4 .8 2.5 1.1 2.4 1.2 2.5 1.5 2.4 1.6 2.5 1.8 2.4 2 2.5 2.1 2.4 2.3 2.5 2.4 2.4 2.5 2.5 2.6 2.4 2.8 2.4 2.8 2.5 2.9 2.4 2.9 2.5 3 2.4 3.1 2.5 3 2.4 3.1 2.5 3.1 2.4 3 2.5 3 2.4 3 2.5 2.9 2.4 2.9 2.5 2.7 2.4 2.7 2.5 2.5 2.4 2.4 2.5 2.3 2.4 2.1 2.5 1.9 2.4 1.7 2.5 1.5 2.4 1.3 2.5 1 2.4 .7 2.5 .5 2.4 .2zM290.1 165l-2.5-.2-2.4-.4-2.5-.8-2.4-1-2.4-1.2-2.5-1.5-2.4-1.7-2.5-1.9-2.4-2-2.5-2.3-2.4-2.3-2.5-2.6-2.4-2.6-2.5-2.7-2.4-2.8-2.5-2.9-2.4-3-2.5-3-2.4-3-2.5-3.1-2.4-3-2.5-3-2.4-3.1-2.5-3-2.4-2.9-2.5-2.9-2.4-2.8-2.5-2.7-2.4-2.6-2.5-2.6-2.4-2.4-2.5-2.2-2.4-2.2-2.5-1.9-2.4-1.9-2.4-1.6-2.5-1.5-2.4-1.2-2.5-1.1-2.4-.9-2.5-.6-2.4-.4-2.5-.1-2.4 .1-2.5 .4-2.4 .7-2.5 .9-2.4 1.3-2.5 1.6-2.4 2-2.5 2.3-2.4 2.7-2.5 3.2-2.4 3.7-2.5 4.3-2.4 5-2.5 5.9-2.4 6.9-2.5 8.3-2.4 10-2.5 12.2-2.4 15.1-2.5 19-2.4 24.1 7.5 3.4 2.5-23.7 2.4-18.8 2.5-14.9 2.4-12.2 2.5-9.9 2.4-8.2 2.5-7 2.4-5.9 2.5-5 2.4-4.4 2.5-3.8 2.4-3.3 2.5-2.8 2.4-2.4 2.5-2.1 2.4-1.7 2.4-1.3 2.5-1.1 2.4-.8 2.5-.4 2.4-.3 2.5 .1 2.4 .3 2.5 .6 2.4 .7 2.5 1 2.4 1.2 2.5 1.4 2.4 1.6 2.5 1.8 2.4 2 2.5 2.1 2.4 2.2 2.5 2.4 2.4 2.5 2.5 2.6 2.4 2.7 2.5 2.9 2.4 2.8 2.5 3 2.4 3 2.5 3 2.4 3.1 2.5 3.1 2.4 3.1 2.5 3.1 2.4 3 2.4 3 2.5 2.9 2.4 2.9 2.5 2.8 2.4 2.7 2.5 2.6 2.4 2.4 2.5 2.3 2.4 2.1 2.5 1.9 2.4 1.8 2.5 1.5 2.4 1.3 2.5 1 2.4 .8 2.5 .5 2.4 .1zM294.6 167.1l-2.4-.2-2.5-.5-2.4-.7-2.5-1.1-2.4-1.2-2.5-1.5-2.4-1.8-2.5-1.9-2.4-2.1-2.5-2.3-2.4-2.4-2.5-2.5-2.4-2.7-2.5-2.8-2.4-2.8-2.5-3-2.4-2.9-2.5-3.1-2.4-3-2.5-3.1-2.4-3.1-2.5-3-2.4-3.1-2.5-3-2.4-2.9-2.4-2.9-2.5-2.8-2.4-2.8-2.5-2.6-2.4-2.5-2.5-2.4-2.4-2.3-2.5-2.1-2.4-2-2.5-1.8-2.4-1.6-2.5-1.4-2.4-1.3-2.5-1-2.4-.8-2.5-.6-2.4-.3-2.5-.1-2.4 .2-2.5 .4-2.4 .7-2.5 1-2.4 1.4-2.5 1.6-2.4 2-2.5 2.4-2.4 2.8-2.5 3.3-2.4 3.7-2.5 4.4-2.4 5-2.4 5.9-2.5 6.9-2.4 8.3-2.5 10-2.4 12.2-2.5 15-2.4 18.9-2.5 24 7.5 3.4 2.5-23.3 2.4-18.5 2.5-14.8 2.4-12 2.5-9.8 2.4-8.2 2.5-6.9 2.4-5.9 2.5-5 2.4-4.4 2.5-3.9 2.4-3.3 2.5-2.9 2.4-2.4 2.5-2.1 2.4-1.8 2.5-1.4 2.4-1.2 2.5-.8 2.4-.5 2.5-.3 2.4 0 2.5 .2 2.4 .5 2.5 .7 2.4 1 2.5 1.1 2.4 1.4 2.4 1.5 2.5 1.8 2.4 1.9 2.5 2 2.4 2.2 2.5 2.4 2.4 2.5 2.5 2.6 2.4 2.7 2.5 2.8 2.4 2.8 2.5 3 2.4 3 2.5 3 2.4 3.1 2.5 3.1 2.4 3 2.5 3.1 2.4 3.1 2.5 3 2.4 2.9 2.5 2.9 2.4 2.8 2.5 2.7 2.4 2.6 2.5 2.4 2.4 2.3 2.5 2.2 2.4 1.9 2.5 1.8 2.4 1.5 2.5 1.3 2.4 1.1 2.4 .8 2.5 .5 2.4 .1zM299.1 169.1l-2.4-.1-2.5-.5-2.4-.8-2.5-1-2.4-1.3-2.5-1.5-2.4-1.8-2.5-1.9-2.4-2.2-2.5-2.3-2.4-2.4-2.4-2.6-2.5-2.7-2.4-2.8-2.5-2.8-2.4-3-2.5-3-2.4-3-2.5-3.1-2.4-3.1-2.5-3.1-2.4-3.1-2.5-3-2.4-3-2.5-3-2.4-2.8-2.5-2.8-2.4-2.8-2.5-2.6-2.4-2.5-2.5-2.4-2.4-2.2-2.5-2.1-2.4-1.9-2.5-1.8-2.4-1.6-2.5-1.4-2.4-1.1-2.5-1-2.4-.8-2.5-.5-2.4-.3-2.5 0-2.4 .2-2.4 .5-2.5 .8-2.4 1.1-2.5 1.4-2.4 1.7-2.5 2.1-2.4 2.4-2.5 2.8-2.4 3.3-2.5 3.8-2.4 4.4-2.5 5.1-2.4 5.9-2.5 6.9-2.4 8.2-2.5 9.9-2.4 12.1-2.5 14.9-2.4 18.7-2.5 23.6 7.6 3.5 2.4-22.9 2.5-18.1 2.4-14.5 2.5-11.8 2.4-9.7 2.5-8 2.4-6.9 2.5-5.9 2.4-5 2.4-4.4 2.5-3.9 2.4-3.3 2.5-2.9 2.4-2.6 2.5-2.1 2.4-1.8 2.5-1.5 2.4-1.2 2.5-.9 2.4-.6 2.5-.4 2.4 0 2.5 .1 2.4 .4 2.5 .7 2.4 .9 2.5 1.1 2.4 1.3 2.5 1.5 2.4 1.6 2.5 1.9 2.4 2 2.5 2.2 2.4 2.3 2.5 2.4 2.4 2.5 2.5 2.7 2.4 2.8 2.5 2.8 2.4 2.9 2.4 3 2.5 3 2.4 3 2.5 3.1 2.4 3.1 2.5 3 2.4 3.1 2.5 3 2.4 2.9 2.5 2.9 2.4 2.8 2.5 2.7 2.4 2.6 2.5 2.5 2.4 2.3 2.5 2.1 2.4 2 2.5 1.7 2.4 1.6 2.5 1.3 2.4 1.1 2.5 .8 2.4 .4 2.5 .2zM303.6 171.2l-2.4-.1-2.4-.5-2.5-.8-2.4-1.1-2.5-1.3-2.4-1.5-2.5-1.8-2.4-1.9-2.5-2.2-2.4-2.3-2.5-2.5-2.4-2.5-2.5-2.7-2.4-2.8-2.5-2.9-2.4-3-2.5-3-2.4-3-2.5-3.1-2.4-3.1-2.5-3.1-2.4-3-2.5-3.1-2.4-2.9-2.5-3-2.4-2.8-2.5-2.8-2.4-2.7-2.5-2.6-2.4-2.4-2.5-2.4-2.4-2.2-2.4-2-2.5-1.9-2.4-1.7-2.5-1.6-2.4-1.3-2.5-1.1-2.4-1-2.5-.7-2.4-.4-2.5-.2-2.4 0-2.5 .3-2.4 .6-2.5 .8-2.4 1.1-2.5 1.5-2.4 1.8-2.5 2.1-2.4 2.5-2.5 2.9-2.4 3.3-2.5 3.9-2.4 4.4-2.5 5-2.4 5.9-2.5 6.9-2.4 8.1-2.5 9.8-2.4 11.9-2.5 14.7-2.4 18.4-2.4 23.2 7.5 3.5 2.4-22.3 2.5-17.7 2.4-14.2 2.5-11.5 2.4-9.6 2.5-7.9 2.4-6.8 2.5-5.8 2.4-5 2.5-4.4 2.4-3.9 2.5-3.4 2.4-2.9 2.5-2.6 2.4-2.2 2.5-1.9 2.4-1.5 2.5-1.3 2.4-1 2.4-.6 2.5-.4 2.4-.2 2.5 .1 2.4 .4 2.5 .6 2.4 .8 2.5 1 2.4 1.2 2.5 1.4 2.4 1.6 2.5 1.8 2.4 2 2.5 2.1 2.4 2.2 2.5 2.4 2.4 2.5 2.5 2.6 2.4 2.7 2.5 2.8 2.4 2.9 2.5 2.9 2.4 3 2.5 3 2.4 3.1 2.5 3 2.4 3 2.5 3.1 2.4 2.9 2.5 3 2.4 2.8 2.5 2.8 2.4 2.7 2.4 2.6 2.5 2.4 2.4 2.4 2.5 2.1 2.4 2 2.5 1.7 2.4 1.6 2.5 1.3 2.4 1.1 2.5 .7 2.4 .5 2.5 .2zM308.2 173.3l-2.5-.2-2.4-.5-2.5-.7-2.4-1.1-2.5-1.3-2.4-1.6-2.5-1.7-2.4-2-2.5-2.1-2.4-2.4-2.5-2.4-2.4-2.6-2.5-2.7-2.4-2.8-2.5-2.9-2.4-2.9-2.5-3-2.4-3-2.5-3.1-2.4-3.1-2.4-3-2.5-3.1-2.4-3-2.5-2.9-2.4-2.9-2.5-2.8-2.4-2.8-2.5-2.6-2.4-2.6-2.5-2.4-2.4-2.3-2.5-2.1-2.4-2-2.5-1.8-2.4-1.7-2.5-1.5-2.4-1.2-2.5-1.1-2.4-.9-2.5-.6-2.4-.4-2.5-.1-2.4 .1-2.5 .3-2.4 .7-2.5 .9-2.4 1.2-2.5 1.5-2.4 1.8-2.5 2.2-2.4 2.6-2.5 2.9-2.4 3.4-2.4 3.8-2.5 4.4-2.4 5.1-2.5 5.8-2.4 6.8-2.5 8.1-2.4 9.6-2.5 11.7-2.4 14.4-2.5 18-2.4 22.7 7.5 3.5 2.4-21.7 2.5-17.2 2.4-13.9 2.5-11.2 2.4-9.3 2.5-7.9 2.4-6.6 2.5-5.8 2.4-5 2.5-4.4 2.4-3.8 2.5-3.4 2.4-3 2.5-2.6 2.4-2.3 2.5-1.9 2.4-1.6 2.5-1.3 2.4-1 2.5-.8 2.4-.5 2.5-.2 2.4 .1 2.5 .2 2.4 .5 2.5 .8 2.4 .9 2.5 1.2 2.4 1.3 2.5 1.6 2.4 1.7 2.5 1.9 2.4 2 2.4 2.2 2.5 2.3 2.4 2.4 2.5 2.6 2.4 2.6 2.5 2.8 2.4 2.8 2.5 2.9 2.4 2.9 2.5 3 2.4 3 2.5 3 2.4 3 2.5 3 2.4 2.9 2.5 2.9 2.4 2.9 2.5 2.7 2.4 2.7 2.5 2.6 2.4 2.4 2.5 2.3 2.4 2.1 2.5 2 2.4 1.7 2.5 1.6 2.4 1.3 2.5 1 2.4 .8 2.5 .5 2.4 .2zM312.7 175.4l-2.5-.2-2.4-.5-2.5-.8-2.4-1-2.5-1.3-2.4-1.6-2.5-1.7-2.4-2-2.4-2.1-2.5-2.3-2.4-2.5-2.5-2.6-2.4-2.7-2.5-2.7-2.4-2.9-2.5-2.9-2.4-3-2.5-3-2.4-3-2.5-3.1-2.4-3-2.5-3-2.4-2.9-2.5-3-2.4-2.8-2.5-2.8-2.4-2.7-2.5-2.6-2.4-2.5-2.5-2.3-2.4-2.2-2.5-2.1-2.4-2-2.5-1.7-2.4-1.6-2.5-1.4-2.4-1.2-2.5-1-2.4-.8-2.4-.5-2.5-.4-2.4-.1-2.5 .2-2.4 .4-2.5 .7-2.4 1-2.5 1.3-2.4 1.6-2.5 1.9-2.4 2.2-2.5 2.6-2.4 2.9-2.5 3.4-2.4 3.9-2.5 4.4-2.4 5-2.5 5.8-2.4 6.7-2.5 8-2.4 9.4-2.5 11.5-2.4 14-2.5 17.6-2.4 22.1 3 1.4 2.4-21.7 2.5-17.2 2.4-13.9 2.5-11.2 2.4-9.3 2.5-7.9 2.4-6.6 2.5-5.8 2.4-5 2.5-4.4 2.4-3.8 2.5-3.4 2.4-3 2.5-2.6 2.4-2.3 2.5-1.9 2.4-1.6 2.5-1.3 2.4-1 2.5-.8 2.4-.5 2.5-.2 2.4 .1 2.5 .2 2.4 .5 2.5 .8 2.4 .9 2.5 1.2 2.4 1.3 2.5 1.6 2.4 1.7 2.5 1.9 2.4 2 2.4 2.2 2.5 2.3 2.4 2.4 2.5 2.6 2.4 2.6 2.5 2.8 2.4 2.8 2.5 2.9 2.4 2.9 2.5 3 2.4 3 2.5 3 2.4 3 2.5 3 2.4 2.9 2.5 2.9 2.4 2.9 2.5 2.7 2.4 2.7 2.5 2.6 2.4 2.4 2.5 2.3 2.4 2.1 2.5 2 2.4 1.7 2.5 1.6 2.4 1.3 2.5 1 2.4 .8 2.5 .5 2.4 .2z"/><g fill="none" stroke-width="0.45" stroke-opacity="1.0" stroke-linejoin="round"><path stroke="#3f29b2" d="M88.3 149.8l-.8 .2-2.5 .7-2.4 .7-2.5 .6-2.4 .7-2.5 .6-2.4 .7-2.5 .6-2.4 .7-2.5 .7-2.4 .6-2.5 .7-2.4 .6-2.5 .7-2.4 .7-2.5 .6-2.4 .7-2.5 .6-2.4 .7-2.5 .6-2.4 .7M86.5 151.4l-2.4 .6-2.5 .7-2.4 .7-2.5 .6-2.4 .7-2.5 .6-2.4 .7-2.5 .6-2.4 .7-2.5 .7-2.4 .6-2.5 .7-2.4 .6-2.5 .7-2.4 .7-2.4 .6-2.5 .7-2.4 .6-2.5 .7M84.8 152.9l-1.7 .4-2.4 .7-2.5 .6-2.4 .7-2.5 .7-2.4 .6-2.5 .7-2.4 .7-2.5 .6-2.4 .7-2.4 .6-2.5 .7-2.4 .7-2.5 .6-2.4 .7-2.5 .7-2.4 .6-2.5 .7M83.8 154.1l-1.6 .4-2.5 .7-2.4 .7-2.5 .6-2.4 .7-2.4 .7-2.5 .6-2.4 .7-2.5 .7-2.4 .6-2.5 .7-2.4 .7-2.5 .7-2.4 .6-2.5 .7-2.4 .7-2.5 .7M82.1 155.4l-.8 .2-2.5 .7-2.4 .7-2.5 .7-2.4 .6-2.5 .7-2.4 .7-2.5 .7-2.4 .7-2.5 .7-2.4 .7-2.5 .7-2.4 .6-2.5 .8-2.4 .7-2.5 .7M81.1 156.4l-.8 .2-2.4 .7-2.5 .7-2.4 .7-2.5 .7-2.4 .7-2.5 .7-2.4 .7-2.5 .7-2.4 .8-2.5 .7-2.4 .7-2.5 .7-2.4 .8-2.5 .8M80.2 157.3l-.8 .2-2.5 .8-2.4 .7-2.5 .7-2.4 .7-2.5 .7-2.4 .8-2.5 .7-2.4 .8-2.5 .7-2.4 .8-2.5 .8-2.4 .8-2.5 .9M79.2 158.1l-.8 .2-2.4 .8-2.5 .7-2.4 .8-2.5 .7-2.4 .8-2.5 .8-2.4 .8-2.5 .8-2.4 .8-2.5 .9-2.4 .9-2.5 1M77.5 159l-2.5 .8-2.4 .8-2.5 .8-2.4 .8-2.5 .8-2.4 .9-2.5 .9-2.4 .9-2.5 .9-2.4 1.1-2.4 1.1M71.6 161.3l-2.4 .9-2.5 .9-2.4 .9-2.5 .9-2.4 1.1-2.4 1-2.5 1.2-2.4 1.3M65.8 164l-2.4 1-2.5 1.1-2.4 1.2-2.5 1.4-2.4 1.5M62.4 166.2l-2.4 1.4-2.5 1.5-2.4 1.8M61.5 167.8l-2.5 1.7-2.4 2.1M60.5 169.9l-2.4 2.4M62 170.2l-2.4 2.7M63.5 170.5l-2.4 3.1M65 170.8l-2.4 3.5M297.6 168.4l-.8 0M299.1 169.1l-1.6-.1M300.6 169.8l-1.6-.1M302.1 170.5l-2.4-.1M303.6 171.2l-2.4-.1-.8-.2M305.2 171.9l-2.5-.2-1.6-.3M306.7 172.6l-2.5-.2-2.4-.4M308.2 173.3l-2.5-.2-2.4-.5M309.7 174l-2.5-.2-2.4-.5-1.7-.5M311.2 174.7l-2.5-.2-2.4-.5-1.6-.5M312.7 175.4l-2.5-.2-2.4-.5-2.5-.8M314.2 176.1l-2.5-.2-2.4-.5-2.5-.8M315.7 176.8l-2.4-.2-2.5-.5-2.4-.8M296.1 167.7l1.5 .7 1.5 .7 1.5 .7 1.5 .7 1.5 .7 1.6 .7 1.5 .7 1.5 .7 1.5 .7 1.5 .7 1.5 .7 1.5 .7 1.5 .7M299.7 170.4l1.5 .7 1.5 .6 1.5 .7 1.5 .7 1.5 .7 1.5 .7 1.5 .7 1.5 .7 1.6 .7M302.5 172.3l.8 .3 1.5 .7 1.5 .7 1.5 .7 1.5 .7 1.5 .7M85 150.7l1.5 .7M82.6 151.4l1.5 .6 1.5 .7M80.1 152l1.5 .7 1.5 .6 .8 .3M77.7 152.7l1.5 .7 1.5 .6 1.5 .5 .7 .2M75.2 153.3l1.5 .7 1.5 .6 1.5 .6 1.6 .4 .7 .2M72.8 154l1.5 .7 1.5 .6 1.5 .6 1.5 .4 1.5 .3 .8 .1M70.3 154.6l1.5 .7 1.5 .7 1.5 .5 1.6 .5 1.5 .3 1.5 .2 .7 .1M67.9 155.3l1.5 .7 1.5 .6 1.5 .6 1.5 .5 1.5 .3 1.5 .3 1.5 0M65.4 156l1.5 .6 1.5 .7 1.6 .6 1.5 .4 1.5 .4 1.5 .3 1.5 .1 1.5-.1 .7-.1M63 156.6l1.5 .7 1.5 .7 1.5 .5 1.5 .5 1.5 .4 1.5 .3 1.5 .1 1.5 0 1.5-.2M60.5 157.3l1.5 .7 1.5 .6 1.6 .6 1.5 .5 1.5 .4 1.5 .3 1.5 .2 1.5 0 1.5-.2M58.1 157.9l1.5 .7 1.5 .7 1.5 .6 1.5 .5 1.5 .4 1.5 .3 1.5 .2 1.5 .1 1.5-.1 1.6-.2M55.6 158.6l1.5 .7 1.6 .6 1.5 .6 1.5 .6 1.5 .4 1.5 .4 1.5 .2 1.5 .1 1.5 0 1.5-.2M53.2 159.3l1.5 .6 1.5 .7 1.5 .6 1.5 .6 1.5 .4 1.5 .4 1.5 .3 1.5 .1 1.5 .1 1.6-.1M50.7 159.9l1.5 .7 1.6 .7 1.5 .6 1.5 .6 1.5 .5 1.5 .4 1.5 .3 1.5 .2 1.5 .1 1.5 0 1.5-.2M48.3 160.6l1.5 .7 1.5 .6 1.5 .7 1.5 .6 1.5 .5 1.5 .4 1.5 .4 1.5 .3 1.5 .1 1.6 .1 1.5 0M45.8 161.2l1.6 .7 1.5 .7 1.5 .6 1.5 .6 1.5 .6 1.5 .5 1.5 .4 1.5 .4 1.5 .3 1.5 .1 1.5 .1 1.5 0M43.4 161.9l1.5 .7 1.5 .7 1.5 .6 1.5 .7 1.5 .5 1.5 .6 1.5 .5 1.5 .4 1.6 .4 1.5 .3 1.5 .3 1.5 .2 1.5 .1M40.9 162.5l1.6 .7 1.5 .7 1.5 .7 1.5 .7 1.5 .6 1.5 .6 1.5 .6 1.5 .6 1.5 .5 1.5 .5 1.5 .4 1.5 .4 1.5 .4 1.5 .3 1.5 .3 1.5 .3 1.6 .2M38.5 163.2l1.5 .7 1.5 .7 1.5 .7 1.5 .7 1.5 .7 1.5 .7 1.5 .7 1.6 .7 1.5 .7 1.5 .7 1.5 .7 1.5 .7 1.5 .7 1.5 .6 1.5 .7 1.5 .7 1.5 .7 1.5 .7 1.5 .7 1.5 .7 1.5 .7 1.5 .7 1.5 .7 1.5 .7 1.6 .7 1.5 .7 1.5 .7 1.5 .7 1.5 .7 1.5 .7 1.5 .7 1.5 .7 1.5 .7 1.5 .7 1.5 .7 1.5 .7 1.5 .7 1.5 .7 1.5 .7 1.6 .6 1.5 .7 1.5 .7 1.5 .7 1.5 .7 1.5 .7 1.5 .7 1.5 .7 1.5 .7 1.5 .7 1.5 .7 1.5 .7 1.5 .7 1.5 .7 1.5 .7 1.5 .7 1.5 .7 1.6 .7 1.5 .7 1.5 .7 1.5 .7 1.5 .7 1.5 .7 1.5 .7 1.5 .7 1.5 .7 1.5 .7 1.5 .6 1.5 .7 1.5 .7 1.5 .7 1.5 .7 1.6 .7 1.5 .7 1.5 .7 1.5 .7 1.5 .7 1.5 .7 1.5 .7 1.5 .7 1.5 .7"/>
<path stroke="#4230c4" d="M77.4 159.3l-.9 .3-2.4 .8-2.5 .9M76.4 159.9l-.8 .2-2.4 1-2.5 .9-2.4 1-2.5 1M75.5 160.3l-.8 .4-2.5 1-2.4 1-2.5 1.1-2.4 1.2-2.5 1.2M73.7 161.2l-2.4 1.1-2.5 1.2-2.4 1.3-2.5 1.4-2.4 1.6M175.6 135.9l-1.6 .1M70.3 163.1l-2.4 1.5-2.5 1.5-2.4 1.8-2.5 2M179.6 135.6l-2.5 .2-2.4 .2M66.9 165.9l-2.4 2-2.5 2.3M182.7 135.5l-1.6 .1-2.5 .1M66 167.9l-2.5 2.6M187.5 135.4l-2.5 .1M67.5 167.8l-2.5 3M66.6 171l-2.5 4M194.6 135.6l-.9 0M68.1 171.2l-2.5 4.5M196.9 135.8l-2.5-.1M69.6 171.3l-2.5 5.1M71.1 171.5l-2.5 5.6M72.6 171.6l-2.5 6.2M207 137.1l-1.6-.2M212.5 138.1l-1.7-.2M214.8 138.6l-2.5-.4M219.4 139.7l-.8-.1M220.9 140.1l-1.6-.3M223.2 140.8l-2.4-.7M226.4 141.6l-.8-.2M227.9 142.1l-1.6-.4M230.2 142.8l-2.4-.7M231.7 143.3l-2.4-.7M233.2 143.8l-2.4-.8M234.7 144.3l-2.4-.8M240.2 146.2l-2.5-.8M241.7 146.7l-2.4-.8M244 147.5l-.8-.2-2.4-.9M244.7 147.9l-2.4-1M246.2 148.4l-2.4-.9M249.4 149.6l-1.7-.6-2.4-1M250.9 150.2l-.9-.3M249.2 149.6l-2.4-1M253.2 151.1l-2.5-.9-2.4-1.1M254.7 151.7l-2.5-.9-2.4-1.1M256.2 152.3l-2.4-.9-2.5-1.2M257.7 152.9l-2.4-.9M259.2 153.6l-2.4-1M260.7 154.2l-2.4-1M262.2 154.8l-2.4-1M263.7 155.5l-2.4-1.1M265.2 156.1l-2.4-1.1M266.7 156.7l-2.4-1.1M268.2 157.4l-2.4-1.1M269.8 158l-2.5-1.1M272.9 159.3l-.8-.3M271.3 158.7l-2.5-1.2M274.4 160l-.8-.4M272.8 159.3l-2.5-1.1M275.9 160.6l-1.6-.6-2.5-1.2M277.4 161.3l-1.6-.7-2.5-1.2M277.3 161.3l-2.5-1.2M279.6 162.3l-.8-.3-2.5-1.3M281.9 163.3l-1.6-.7-2.4-1.2M284.3 164.3l-2.5-1-2.4-1.3M284.9 164.7l-1.6-.7-2.4-1.3M287.3 165.7l-2.5-1.1-2.4-1.2M288 166l-1.7-.7-2.4-1.3M289.5 166.7l-1.7-.7-2.4-1.3M291 167.4l-1.7-.7-2.4-1.3M292.5 168.1l-1.7-.7-2.4-1.3M294 168.7l-1.6-.7-2.5-1.3M295.5 169.4l-1.6-.7-2.5-1.3M297.8 170.5l-2.4-1.1-2.5-1.3M298.5 170.8l-1.6-.7-2.5-1.3M300 171.5l-.8-.3M298.4 170.8l-2.5-1.3M302.3 172.6l-2.4-1.1-2.5-1.3M303 172.9l-1.6-.7-2.5-1.3M305.3 173.9l-2.4-1-2.5-1.3M306.8 174.6l-2.4-1-2.4-1.3M308.4 175.3l-2.5-1-2.4-1.3M305.3 173.9l1.5 .7 1.6 .7M253.9 151.4l.8 .3M255.4 152l.8 .3M257 152.6l.7 .3M258.5 153.2l.7 .4M260 153.9l.7 .3M261.5 154.5l.7 .3M263 155.1l.7 .4M264.5 155.8l.7 .3 .8 .3M266.7 156.7l.8 .4M268.2 157.4l.8 .3M269.8 158l1.5 .7 1.5 .6 1.5 .7 1.5 .6 1.5 .7 1.5 .7 1.5 .6 1.5 .7 1.5 .7 1.5 .6 1.5 .7 1.5 .7 1.5 .7 1.5 .7 1.6 .6 1.5 .7 1.5 .7 1.5 .7 1.5 .7 1.5 .7 1.5 .7 1.5 .7 1.5 .7 1.5 .7M242.5 147l.7 .3 1.5 .6 1.5 .5 1.5 .6 1.5 .6 1.5 .6 1.5 .6 1.6 .6 1.5 .6M231.7 143.3l1.5 .5 1.5 .5 1.5 .5M223.2 140.8l.8 .2M196.9 135.8l.7 .1M191.4 135.5l.8 0M187.5 135.4l.7 0M181.1 135.6l1.5-.1M177.1 135.8l1.5-.1M76.5 159.6l.8-.2M74.1 160.4l1.5-.3 .8-.2M73.2 161.1l1.5-.4 1.5-.6M70.7 162l1.5-.3 1.5-.5 1.5-.6M68.3 163l1.5-.3 1.5-.4 1.5-.5M67.3 163.8l1.5-.3 1.5-.4 1.5-.5M64.9 165l1.5-.2 1.5-.2 1.5-.4M63.9 166.2l1.5-.1 1.5-.2 1.5-.3M63 167.9l1.5 0 1.5 0 1.5-.1 1.5-.2M66.6 171l1.5 .2 1.5 .1 1.5 .2 1.5 .1 1.5 .1"/>
<path stroke="#4536d5" d="M75.3 160.5l-1.6 .7M75.2 160.6l-2.4 1.2-2.5 1.3M76.7 159.8l-2.4 1.3-2.5 1.5-2.4 1.6-2.5 1.7M178.6 135.7l-2.4 .1-1.7 .1M73.3 161.9l-2.4 1.8-2.5 1.9-2.4 2.3M185 135.5l-2.4 0-2.5 .1-2.4 0-2.5 .1-.8 0M72.4 163.1l-2.5 2.2-2.4 2.5M189 135.5l-2.5 0-2.4 0-2.5-.1-2.4 0-2.5 0M71.5 164.8l-2.5 2.8-2.4 3.4M192.9 135.6l-2.4-.1-2.5-.1-2.4-.1-2.5-.1M70.5 167.4l-2.4 3.8M194.4 135.7l-2.4-.1-2.5-.2-2.4-.2M72 167.2l-2.4 4.1M198.4 136l-2.5-.2-2.4-.2-2.5-.2M202.3 136.4l-2.4-.2-2.5-.3-2.4-.3-2.4-.3M203.9 136.7l-2.5-.3-2.4-.4-2.5-.4M74.1 171.7l-2.5 6.8M205.4 136.9l-2.5-.4-2.4-.4M75.6 171.7l-2.5 7.5M209.3 137.5l-2.4-.4-2.5-.4-2.4-.5M77.1 171.8l-2.5 8.1M210.8 137.9l-2.4-.5-2.5-.5M78.6 171.8l-2.4 8.8M212.3 138.2l-2.4-.6-2.5-.6M80.1 171.9l-2.4 9.4M216.3 139l-2.5-.5-2.4-.6-2.5-.7M217.8 139.4l-2.5-.6-2.4-.7M219.3 139.8l-2.5-.7-2.4-.8M220.8 140.1l-2.4-.7-2.5-.8M224.8 141.2l-2.5-.7-2.4-.8M226.3 141.7l-2.5-.8-2.4-.9M227.8 142.1l-2.5-.8-2.4-.9M229.3 142.6l-2.5-.9-2.4-1M230.8 143l-2.5-.9-2.4-1M232.3 143.5l-2.5-1M236.2 144.8l-2.4-.9-2.5-1M237.7 145.4l-2.4-1-2.5-1.1M239.3 145.9l-2.5-1-2.4-1.1M240.8 146.4l-2.5-1-2.4-1.2M242.3 146.9l-2.5-1-2.4-1.3M243.8 147.5l-2.5-1.1-2.4-1.3M245.3 148l-2.5-1.2M246.8 148.6l-2.5-1.2M248.3 149.1l-2.5-1.2M249.8 149.7l-2.5-1.3M251.3 150.2l-2.4-1.3M255.3 152l-2.5-1.2-2.4-1.4M256.8 152.6l-2.5-1.2-2.4-1.4M258.3 153.2l-2.5-1.3-2.4-1.4M259.8 153.8l-2.5-1.3-2.4-1.4M261.3 154.4l-2.5-1.3-2.4-1.5M262.8 155l-2.5-1.3-2.4-1.5M264.3 155.6l-2.5-1.3-2.4-1.5M265.8 156.3l-2.4-1.4-2.5-1.5M267.3 156.9l-2.4-1.4-2.5-1.6M268.8 157.5l-2.4-1.4-2.5-1.6M270.3 158.2l-2.4-1.5-2.5-1.6M271.8 158.8l-2.4-1.4-2.5-1.7M273.3 159.4l-2.4-1.4M274.8 160.1l-2.4-1.5M276.3 160.7l-2.4-1.4M277.9 161.4l-2.5-1.5M279.4 162l-2.5-1.4M280.9 162.7l-2.5-1.5M282.4 163.4l-2.5-1.5M283.9 164l-2.5-1.5M285.4 164.7l-2.5-1.5M286.9 165.4l-2.5-1.5M288.4 166.1l-2.5-1.6M289.9 166.7l-2.4-1.5M291.4 167.4l-2.4-1.5M292.9 168.1l-2.4-1.5M294.4 168.8l-2.4-1.6M295.9 169.5l-2.4-1.6M297.4 170.2l-2.4-1.6M298.9 170.9l-2.4-1.6M300.4 171.6l-2.4-1.6M302 172.3l-2.5-1.6M303.5 173l-2.5-1.6M255.3 152l1.5 .6 1.5 .6 1.5 .6 1.5 .6 1.5 .6 1.5 .6 1.5 .7 1.5 .6 1.5 .6 1.5 .7 1.5 .6 1.5 .6 1.5 .7 1.5 .6 1.6 .7 1.5 .6 1.5 .7 1.5 .7 1.5 .6 1.5 .7 1.5 .7 1.5 .7 1.5 .6 1.5 .7 1.5 .7 1.5 .7 1.5 .7 1.5 .7 1.5 .7 1.5 .7 1.6 .7 1.5 .7M236.2 144.8l1.5 .6 1.6 .5 1.5 .5 1.5 .5 1.5 .6 1.5 .5 1.5 .6 1.5 .5 1.5 .6 1.5 .5 1.5 .6 1.5 .6 1.5 .5 1.5 .6 1.5 .6 1.5 .6 1.5 .6 1.6 .6 1.5 .6 1.5 .6 1.5 .6 1.5 .7 1.5 .6M224.8 141.2l1.5 .5 1.5 .4 1.5 .5 1.5 .4 1.5 .5 1.5 .4 1.5 .5 1.5 .5 1.5 .5 1.5 .5 1.5 .5 1.5 .4M216.3 139l1.5 .4 1.5 .4 1.5 .3 1.5 .4 1.5 .4 1.5 .4 1.5 .4 1.5 .4 1.5 .4M209.3 137.5l1.5 .4 1.5 .3 1.5 .3 1.5 .3 1.5 .3 1.6 .3 1.5 .3M203.9 136.7l1.5 .2 1.5 .2 1.5 .3 1.5 .2 1.5 .3 1.5 .2M198.4 136l1.5 .2 1.5 .2 1.5 .1 1.5 .2 1.5 .2M192.9 135.6l1.5 .1 1.5 .1 1.5 .1 1.6 .1 1.5 .1M189 135.5l1.5 0 1.5 .1 1.5 0 1.5 0 1.5 0M185 135.5l1.5 0 1.5-.1 1.5 0 1.5 0M182.6 135.5l1.5 0 1.5-.2 1.5-.1M178.6 135.7l1.5-.1 1.5-.2 1.5-.2M174.7 136l1.5-.2 1.5-.2 1.5-.2 1.5-.3M174.5 135.8l.7-.1 1.5-.3M75.2 160.6l1.5-.8 .8-.5M72.8 161.8l1.5-.7 1.5-.8M71.8 162.6l1.5-.7 1.5-.7M69.4 164.2l1.5-.5 1.5-.6 1.5-.7M68.4 165.6l1.5-.3 1.6-.5 1.5-.5M69 167.6l1.5-.2 1.5-.2 1.5-.3M74.1 171.7l1.5 0 1.5 .1 1.5 0 1.5 .1 1.5 0"/>
<path stroke="#473fe2" d="M78.2 158.9l-2.4 1.4-2.5 1.6M77.3 159.4l-2.5 1.8-2.4 1.9M176.7 135.4l-2.4-.1M76.3 160.3l-2.4 2.1-2.4 2.4M183.1 135.2l-2.4-.1-2.5-.1-2.4-.1-.8 0M75.4 161.6l-2.4 2.7-2.5 3.1M187.1 135.2l-2.5-.2-2.4-.2-2.5-.2-2.4-.2M74.5 163.7l-2.5 3.5M191 135.4l-2.4-.3-2.5-.3-2.4-.3-2.4-.3M73.5 166.9l-2.4 4.6M192.6 135.3l-2.5-.3-2.4-.4-2.5-.4M75 166.5l-2.4 5.1M196.5 135.6l-2.4-.4-2.5-.4-2.4-.4M76.5 166.1l-2.4 5.6M200.5 136.1l-2.5-.5-2.4-.4-2.5-.6M202 136.2l-2.5-.5-2.4-.6M205.9 136.9l-2.4-.6-2.5-.6-2.4-.7M207.4 137l-2.4-.6-2.5-.7M208.9 137.2l-2.4-.8-2.5-.7M81.6 171.9l-2.4 10.1M212.9 138.1l-2.5-.8-2.4-.8M83.1 171.9l-2.4 10.8M214.4 138.3l-2.5-.8-2.4-.9M84.6 172l-2.4 11.4M215.9 138.6l-2.4-.9-2.5-1M86.1 172l-2.4 12.1M219.9 139.7l-2.5-.9-2.4-.9M221.4 140l-2.5-.9-2.4-1M222.9 140.4l-2.5-1-2.4-1.1M224.4 140.7l-2.5-1.1M225.9 141.1l-2.5-1.2M229.8 142.5l-2.4-1.1-2.5-1.2M231.3 142.9l-2.4-1.1-2.5-1.3M232.8 143.3l-2.4-1.2-2.4-1.3M234.4 143.8l-2.5-1.3-2.4-1.4M235.9 144.2l-2.5-1.3M237.4 144.6l-2.5-1.3M238.9 145.1l-2.5-1.4M242.8 146.8l-2.4-1.3-2.5-1.4M244.3 147.4l-2.4-1.4-2.5-1.5M245.8 147.9l-2.4-1.4-2.5-1.6M247.3 148.4l-2.4-1.5-2.4-1.6M248.9 148.9l-2.5-1.5-2.4-1.6M250.4 149.4l-2.5-1.5M251.9 150l-2.5-1.6M253.4 150.5l-2.5-1.6M254.9 151.1l-2.5-1.6M256.4 151.6l-2.5-1.6M257.9 152.2l-2.5-1.7M259.4 152.8l-2.4-1.7M260.9 153.4l-2.4-1.8M262.4 153.9l-2.4-1.7M263.9 154.5l-2.4-1.7M265.4 155.1l-2.4-1.8M266.9 155.7l-2.4-1.8M270.9 158l-2.5-1.6-2.4-1.9M272.4 158.6l-2.5-1.6-2.4-1.9M273.9 159.3l-2.5-1.7-2.4-1.9M275.4 159.9l-2.4-1.7-2.5-1.9M276.9 160.6l-2.4-1.7-2.5-1.9M278.4 161.2l-2.4-1.7-2.5-1.9M279.9 161.9l-2.4-1.8-2.5-1.9M281.4 162.5l-2.4-1.7-2.5-1.9M282.9 163.2l-2.4-1.8-2.5-1.9M284.4 163.9l-2.4-1.8-2.5-1.9M285.9 164.5l-2.4-1.7-2.5-2M287.5 165.2l-2.5-1.8M289 165.9l-2.5-1.8M290.5 166.6l-2.5-1.8M292 167.2l-2.5-1.7M293.5 167.9l-2.5-1.7M295 168.6l-2.5-1.7M296.5 169.3l-2.5-1.7M298 170l-2.5-1.7M299.5 170.7l-2.4-1.7M301 171.4l-2.4-1.7M270.9 158l1.5 .6 1.5 .7 1.5 .6 1.5 .7 1.5 .6 1.5 .7 1.5 .6 1.5 .7 1.5 .7 1.5 .6 1.6 .7 1.5 .7 1.5 .7 1.5 .6 1.5 .7 1.5 .7 1.5 .7 1.5 .7 1.5 .7 1.5 .7M242.8 146.8l1.5 .6 1.5 .5 1.5 .5 1.6 .5 1.5 .5 1.5 .6 1.5 .5 1.5 .6 1.5 .5 1.5 .6 1.5 .6 1.5 .6 1.5 .5 1.5 .6 1.5 .6 1.5 .6 1.5 .7 1.5 .6 1.5 .6 1.6 .6 1.5 .7 1.5 .6 1.5 .6 1.5 .7 1.5 .6 1.5 .7 1.5 .7 1.5 .6M229.8 142.5l1.5 .4 1.5 .4 1.6 .5 1.5 .4 1.5 .4 1.5 .5 1.5 .4 1.5 .5 1.5 .5 1.5 .4 1.5 .5 1.5 .5M219.9 139.7l1.5 .3 1.5 .4 1.5 .3 1.5 .4 1.5 .3 1.5 .4 1.5 .3 1.5 .4 1.5 .4M212.9 138.1l1.5 .2 1.5 .3 1.5 .2 1.5 .3 1.5 .3 1.5 .2M205.9 136.9l1.5 .1 1.5 .2 1.5 .1 1.5 .2 1.6 .2 1.5 .2M200.5 136.1l1.5 .1 1.5 .1 1.5 .1 1.5 0 1.5 .1M196.5 135.6l1.5 0 1.5 .1 1.5 0 1.5 0M191 135.4l1.6-.1 1.5-.1 1.5 0 1.5-.1M187.1 135.2l1.5-.1 1.5-.1 1.5-.2 1.5-.2M183.1 135.2l1.5-.2 1.5-.2 1.6-.2 1.5-.2M180.7 135.1l1.5-.3 1.5-.3 1.5-.3M176.7 135.4l1.5-.4 1.5-.4 1.6-.4M175 135.1l.8-.2 1.5-.5M75.8 160.3l1.5-.9 1.5-1M74.8 161.2l1.5-.9 1.6-1M73.9 162.4l1.5-.8 1.5-.8M73 164.3l1.5-.6 1.5-.6M73.5 166.9l1.5-.4 1.5-.4 1.5-.4M81.6 171.9l1.5 0 1.5 .1 1.5 0 1.5 .1"/>
<path stroke="#4747ec" d="M78.9 158.3l-1.6 1.1M80 157.5l-1.2 .9-2.5 1.9M80.3 157.2l-2.4 2.1-2.5 2.3M177.3 134.4l-2.5-.2M76.9 160.8l-2.4 2.9M181.3 134.2l-2.5-.2-2.4-.3-.9-.1M76 163.1l-2.5 3.8M185.2 134.2l-2.4-.4-2.5-.3M77.5 162.3l-2.5 4.2M189.2 134.4l-2.5-.5-2.4-.5M193.1 134.6l-2.4-.5-2.5-.5M78 165.7l-2.4 6M197.1 135.1l-2.5-.6-2.4-.6-2.5-.7M79.5 165.3l-2.4 6.5M198.6 135l-2.5-.7-2.4-.7M81.1 164.8l-2.5 7M202.5 135.7l-2.4-.8-2.5-.7M204 135.7l-2.4-.9-2.5-.8M208 136.5l-2.5-.8-2.4-.9M209.5 136.6l-2.4-.9-2.5-1M211 136.7l-2.4-1M215 137.9l-2.5-1.1-2.4-1M87.6 172.1l-2.4 12.7M216.5 138.1l-2.5-1.1-2.4-1.2M89.1 172.1l-2.4 13.4M218 138.3l-2.5-1.2M90.7 172.2l-2.5 14M221.9 139.6l-2.4-1.1-2.5-1.3M92.2 172.2l-2.5 14.7M223.4 139.9l-2.4-1.2-2.5-1.3M93.7 172.3l-2.5 15.3M224.9 140.2l-2.4-1.3-2.5-1.4M226.4 140.5l-2.4-1.4M228 140.8l-2.5-1.4M229.5 141.1l-2.5-1.5M233.4 142.9l-2.4-1.5-2.5-1.5M234.9 143.3l-2.4-1.5-2.5-1.6M236.4 143.7l-2.4-1.6M237.9 144.1l-2.4-1.6M239.4 144.5l-2.4-1.7M240.9 144.9l-2.4-1.7M242.5 145.3l-2.5-1.7M244 145.8l-2.5-1.8M247.9 147.9l-2.4-1.7-2.5-1.8M249.4 148.4l-2.4-1.7-2.5-1.9M250.9 148.9l-2.4-1.7M252.4 149.5l-2.4-1.8M253.9 150l-2.4-1.8M255.4 150.5l-2.4-1.8M257 151.1l-2.5-1.9M258.5 151.6l-2.5-1.9M260 152.2l-2.5-1.9M261.5 152.8l-2.5-2M263 153.3l-2.5-1.9M264.5 153.9l-2.5-2M266 154.5l-2.5-2M267.5 155.1l-2.5-2M269 155.7l-2.4-2M270.5 156.3l-2.4-2M272 157l-2.4-2.1M273.5 157.6l-2.4-2.1M275 158.2l-2.4-2.1M276.5 158.9l-2.4-2.2M278 159.5l-2.4-2.1M279.5 160.2l-2.4-2.2M281 160.8l-2.4-2.1M285 163.4l-2.4-1.9-2.5-2.2M286.5 164.1l-2.4-1.9-2.5-2.2M288 164.8l-2.4-2-2.5-2.1M289.5 165.5l-2.4-2-2.5-2.1M291 166.2l-2.4-2-2.5-2.1M292.5 166.9l-2.4-2-2.5-2.1M294 167.6l-2.4-2-2.5-2.1M295.5 168.3l-2.4-2-2.4-2.1M297.1 169l-2.5-2-2.4-2.1M298.6 169.7l-2.5-2-2.4-2.1M285 163.4l1.5 .7 1.5 .7 1.5 .7 1.5 .7 1.5 .7 1.5 .7 1.5 .7 1.6 .7 1.5 .7M247.9 147.9l1.5 .5 1.5 .5 1.5 .6 1.5 .5 1.5 .5 1.6 .6 1.5 .5 1.5 .6 1.5 .6 1.5 .5 1.5 .6 1.5 .6 1.5 .6 1.5 .6 1.5 .6 1.5 .7 1.5 .6 1.5 .6 1.5 .7 1.5 .6 1.5 .7 1.5 .6 1.6 .7 1.5 .7 1.5 .6 1.5 .7 1.5 .7 1.5 .7 1.5 .7 1.5 .7 1.5 .7 1.5 .7M233.4 142.9l1.5 .4 1.5 .4 1.5 .4 1.5 .4 1.5 .4 1.6 .4 1.5 .5 1.5 .4 1.5 .5 1.5 .5M221.9 139.6l1.5 .3 1.5 .3 1.5 .3 1.6 .3 1.5 .3 1.5 .3 1.5 .4 1.5 .3M215 137.9l1.5 .2 1.5 .2 1.5 .2 1.5 .2 1.5 .2 1.5 .2M208 136.5l1.5 .1 1.5 .1 1.5 .1 1.5 .2 1.5 .1M202.5 135.7l1.5 0 1.5 0 1.6 0 1.5 0M197.1 135.1l1.5-.1 1.5-.1 1.5-.1 1.5 0M193.1 134.6l1.5-.1 1.5-.2 1.5-.1M189.2 134.4l1.5-.3 1.5-.2 1.5-.3M185.2 134.2l1.5-.3 1.5-.3M181.3 134.2l1.5-.4 1.5-.4M177.3 134.4l1.5-.4 1.5-.5M174.8 134.2l1.6-.5 1.5-.6M78.8 158.4l1.5-1.2 1.5-1.2M77.9 159.3l1.5-1.1M76.9 160.8l1.5-1M76 163.1l1.5-.8 1.5-.7M78 165.7l1.5-.4 1.6-.5 1.5-.5M87.6 172.1l1.5 0 1.6 .1 1.5 0 1.5 .1 1.5 .1"/>
<path stroke="#4850f3" d="M81.5 156.3l-1.2 .9M81.8 156l-2.4 2.2-2.5 2.6M80.9 157.1l-2.5 2.7-2.4 3.3M180.3 133.5l-2.4-.4-2.5-.4M79.9 158.8l-2.4 3.5M184.3 133.4l-2.5-.4-2.4-.5-2.5-.5M79 161.6l-2.5 4.5M188.2 133.6l-2.4-.6-2.5-.6-2.4-.5M80.5 160.8l-2.5 4.9M189.7 133.2l-2.4-.6-2.5-.7M193.7 133.6l-2.5-.7-2.4-.8M197.6 134.2l-2.4-.8-2.5-.9M82.6 164.3l-2.5 7.6M199.1 134l-2.4-.9-2.5-.9M84.1 163.9l-2.5 8M203.1 134.8l-2.5-1-2.4-.9M204.6 134.7l-2.4-1-2.5-1.1M208.6 135.7l-2.5-1-2.4-1.2M210.1 135.8l-2.5-1.2-2.4-1.2M211.6 135.8l-2.5-1.2M215.5 137.1l-2.4-1.3-2.5-1.3M217 137.2l-2.4-1.3-2.5-1.4M218.5 137.4l-2.4-1.4M220 137.5l-2.4-1.4M95.2 172.4l-2.5 15.9M224 139.1l-2.4-1.4-2.5-1.5M96.7 172.5l-2.5 16.5M225.5 139.4l-2.4-1.5M98.2 172.6l-2.5 17.1M227 139.6l-2.4-1.5M99.7 172.8l-2.5 17.6M228.5 139.9l-2.4-1.6M101.2 172.9l-2.4 18.1M230 140.2l-2.4-1.7M234 142.1l-2.5-1.6-2.4-1.8M235.5 142.5l-2.5-1.7-2.4-1.9M237 142.8l-2.5-1.7M238.5 143.2l-2.5-1.8M240 143.6l-2.4-1.9M241.5 144l-2.4-1.9M243 144.4l-2.4-1.9M244.5 144.8l-2.4-1.9M248.5 147.2l-2.5-1.9-2.4-2M250 147.7l-2.5-2-2.4-2M251.5 148.2l-2.5-2M253 148.7l-2.5-2M254.5 149.2l-2.4-2M256 149.7l-2.4-2M257.5 150.3l-2.4-2.1M259 150.8l-2.4-2.1M260.5 151.4l-2.4-2.2M262 151.9l-2.4-2.1M263.5 152.5l-2.4-2.2M265 153.1l-2.4-2.2M266.6 153.7l-2.5-2.3M268.1 154.3l-2.5-2.3M269.6 154.9l-2.5-2.3M271.1 155.5l-2.5-2.3M272.6 156.1l-2.5-2.3M274.1 156.7l-2.5-2.2M275.6 157.4l-2.5-2.3M277.1 158l-2.5-2.3M278.6 158.7l-2.4-2.3M280.1 159.3l-2.4-2.3M281.6 160l-2.4-2.3M283.1 160.7l-2.4-2.3M284.6 161.4l-2.4-2.3M286.1 162.1l-2.4-2.4M287.6 162.8l-2.4-2.4M289.1 163.5l-2.4-2.4M290.7 164.2l-2.5-2.3M292.2 164.9l-2.5-2.3M293.7 165.6l-2.5-2.3M248.5 147.2l1.5 .5 1.5 .5 1.5 .5 1.5 .5 1.5 .5 1.5 .6 1.5 .5 1.5 .6 1.5 .5 1.5 .6 1.5 .6 1.6 .6 1.5 .6 1.5 .6 1.5 .6 1.5 .6 1.5 .6 1.5 .7 1.5 .6 1.5 .7 1.5 .6 1.5 .7 1.5 .7 1.5 .7 1.5 .7 1.5 .7 1.5 .7 1.6 .7 1.5 .7 1.5 .7M234 142.1l1.5 .4 1.5 .3 1.5 .4 1.5 .4 1.5 .4 1.5 .4 1.5 .4 1.5 .5 1.5 .4 1.5 .5M224 139.1l1.5 .3 1.5 .2 1.5 .3 1.5 .3 1.5 .3 1.5 .3 1.5 .3M215.5 137.1l1.5 .1 1.5 .2 1.5 .1 1.6 .2 1.5 .2M208.6 135.7l1.5 .1 1.5 0 1.5 0 1.5 .1 1.5 .1M203.1 134.8l1.5-.1 1.5 0 1.5-.1 1.5 0M197.6 134.2l1.5-.2 1.5-.2 1.6-.1 1.5-.2M193.7 133.6l1.5-.2 1.5-.3 1.5-.2M188.2 133.6l1.5-.4 1.5-.3 1.5-.4M184.3 133.4l1.5-.4 1.5-.4 1.5-.5M180.3 133.5l1.5-.5 1.5-.6 1.5-.5M177.9 133.1l1.5-.6 1.5-.6M175.4 132.7l1.5-.7M81.8 156l1.5-1.4M79.4 158.2l1.5-1.1 1.5-1.3M78.4 159.8l1.5-1 1.5-1M79 161.6l1.5-.8 1.5-.8M82.6 164.3l1.5-.4 1.5-.5M95.2 172.4l1.5 .1 1.5 .1 1.5 .2 1.5 .1 1.5 .2"/>
<path stroke="#4759f8" d="M83.6 154.4l-1.8 1.6M85.2 153l-1.9 1.6-2.4 2.5M82.4 155.8l-2.5 3M176.9 132l-.8-.1M81.4 157.8l-2.4 3.8M180.9 131.9l-2.5-.6-2.4-.5M82.9 156.7l-2.4 4.1M184.8 131.9l-2.4-.6-2.5-.7M82 160l-2.5 5.3M188.8 132.1l-2.5-.7-2.4-.8M83.5 159.1l-2.4 5.7M192.7 132.5l-2.4-.8-2.5-.8M194.2 132.2l-2.4-.9-2.5-1M198.2 132.9l-2.4-1-2.5-1M85.6 163.4l-2.5 8.5M199.7 132.6l-2.4-1.1M87.1 162.9l-2.5 9.1M203.7 133.5l-2.5-1.1-2.4-1.2M88.6 162.4l-2.5 9.6M205.2 133.4l-2.5-1.2M209.1 134.6l-2.4-1.3-2.5-1.3M210.6 134.5l-2.4-1.3M212.1 134.5l-2.4-1.4M216.1 136l-2.5-1.5-2.4-1.5M217.6 136.1l-2.5-1.6M219.1 136.2l-2.4-1.6M223.1 137.9l-2.5-1.6-2.4-1.7M224.6 138.1l-2.5-1.7-2.4-1.8M226.1 138.3l-2.5-1.8M227.6 138.5l-2.5-1.8M102.7 173.1l-2.4 18.6M229.1 138.7l-2.5-1.9M104.2 173.3l-2.4 19.1M230.6 138.9l-2.5-1.9M105.7 173.5l-2.4 19.6M234.5 141.1l-2.4-1.9-2.5-2M107.2 173.8l-2.4 20M236 141.4l-2.4-1.9M108.7 174l-2.4 20.5M237.6 141.7l-2.5-1.9M110.2 174.3l-2.4 20.9M239.1 142.1l-2.5-2M240.6 142.5l-2.5-2.1M242.1 142.9l-2.5-2.2M243.6 143.3l-2.5-2.2M245.1 143.7l-2.5-2.2M249 146.2l-2.4-2.1-2.5-2.2M250.5 146.7l-2.4-2.2M252.1 147.2l-2.5-2.2M253.6 147.7l-2.5-2.2M255.1 148.2l-2.5-2.3M256.6 148.7l-2.5-2.3M258.1 149.2l-2.5-2.3M259.6 149.8l-2.5-2.3M261.1 150.3l-2.5-2.3M262.6 150.9l-2.5-2.4M264.1 151.4l-2.4-2.3M265.6 152l-2.4-2.3M267.1 152.6l-2.4-2.4M268.6 153.2l-2.4-2.4M270.1 153.8l-2.4-2.4M271.6 154.5l-2.4-2.5M273.1 155.1l-2.4-2.4M274.6 155.7l-2.4-2.4M276.2 156.4l-2.5-2.5M277.7 157l-2.5-2.4M279.2 157.7l-2.5-2.5M280.7 158.4l-2.5-2.5M282.2 159.1l-2.5-2.5M283.7 159.7l-2.5-2.4M285.2 160.4l-2.5-2.4M286.7 161.1l-2.5-2.4M288.2 161.9l-2.4-2.5M289.7 162.6l-2.4-2.5M291.2 163.3l-2.4-2.4M249 146.2l1.5 .5 1.6 .5 1.5 .5 1.5 .5 1.5 .5 1.5 .5 1.5 .6 1.5 .5 1.5 .6 1.5 .5 1.5 .6 1.5 .6 1.5 .6 1.5 .6 1.5 .7 1.5 .6 1.5 .6 1.6 .7 1.5 .6 1.5 .7 1.5 .7 1.5 .7 1.5 .6 1.5 .7 1.5 .7 1.5 .8 1.5 .7 1.5 .7M234.5 141.1l1.5 .3 1.6 .3 1.5 .4 1.5 .4 1.5 .4 1.5 .4 1.5 .4 1.5 .4 1.5 .4M223.1 137.9l1.5 .2 1.5 .2 1.5 .2 1.5 .2 1.5 .2 1.5 .3 1.5 .3M216.1 136l1.5 .1 1.5 .1 1.5 .1 1.5 .1 1.5 .1M209.1 134.6l1.5-.1 1.5 0 1.5 0 1.5 0M203.7 133.5l1.5-.1 1.5-.1 1.5-.1M198.2 132.9l1.5-.3 1.5-.2 1.5-.2M192.7 132.5l1.5-.3 1.6-.3 1.5-.4M188.8 132.1l1.5-.4 1.5-.4 1.5-.4M184.8 131.9l1.5-.5 1.5-.5M180.9 131.9l1.5-.6 1.5-.7M176.9 132l1.5-.7 1.5-.7M83.3 154.6l1.5-1.4M82.4 155.8l1.5-1.3M81.4 157.8l1.5-1.1 1.5-1.2M82 160l1.5-.9 1.5-.9M85.6 163.4l1.5-.5 1.5-.5 1.5-.5M102.7 173.1l1.5 .2 1.5 .2 1.5 .3 1.5 .2 1.5 .3 1.5 .3"/>
<path stroke="#4562fc" d="M87.3 150.9l-2.5 2.3-2.4 2.6M86.3 151.7l-2.4 2.8-2.5 3.3M85.4 153.2l-2.5 3.5M179.9 130.6l-2.4-.6-.8-.2M84.4 155.5l-2.4 4.5M183.9 130.6l-2.5-.7-2.4-.7M187.8 130.9l-2.4-.9-2.5-.8M85 158.2l-2.4 6.1M189.3 130.3l-2.4-.9M86.5 157.3l-2.4 6.6M193.3 130.9l-2.4-1.1-2.5-1M197.3 131.5l-2.5-1.1-2.4-1.1M198.8 131.2l-2.5-1.2M202.7 132.2l-2.4-1.3-2.5-1.3M90.1 161.9l-2.5 10.2M204.2 132l-2.4-1.4M91.6 161.5l-2.5 10.6M208.2 133.2l-2.5-1.4-2.4-1.4M209.7 133.1l-2.5-1.5M211.2 133l-2.5-1.5M215.1 134.5l-2.4-1.6-2.5-1.6M216.7 134.6l-2.5-1.7M218.2 134.6l-2.5-1.7M219.7 134.6l-2.5-1.8M223.6 136.5l-2.4-1.8M225.1 136.7l-2.4-1.9M226.6 136.8l-2.4-1.9M228.1 137l-2.4-2M229.6 137.2l-2.4-2M233.6 139.5l-2.4-2M235.1 139.8l-2.4-2.1M236.6 140.1l-2.4-2.2M111.7 174.6l-2.4 21.3M238.1 140.4l-2.4-2.2M113.2 175l-2.4 21.6M239.6 140.7l-2.4-2.2M114.8 175.3l-2.5 22M241.1 141.1l-2.4-2.3M116.3 175.7l-2.5 22.3M242.6 141.5l-2.4-2.3M117.8 176.1l-2.5 22.6M244.1 141.9l-2.4-2.4M119.3 176.5l-2.5 22.9M248.1 144.5l-2.5-2.2M120.8 177l-2.5 23.1M249.6 145l-2.4-2.3M122.3 177.5l-2.5 23.3M251.1 145.5l-2.4-2.4M123.8 178l-2.5 23.5M252.6 145.9l-2.4-2.3M125.3 178.5l-2.5 23.7M254.1 146.4l-2.4-2.4M126.8 179.1l-2.4 23.8M255.6 146.9l-2.4-2.4M128.3 179.7l-2.4 23.9M257.1 147.5l-2.4-2.5M129.8 180.3l-2.4 24M258.6 148l-2.4-2.5M131.3 181l-2.4 24M260.1 148.5l-2.4-2.5M261.7 149.1l-2.5-2.5M263.2 149.7l-2.5-2.6M264.7 150.2l-2.5-2.5M137.3 183.7l-2.4 24.1M266.2 150.8l-2.5-2.5M138.9 184.5l-2.5 24M267.7 151.4l-2.5-2.5M140.4 185.2l-2.5 24M269.2 152l-2.5-2.5M141.9 186l-2.5 23.8M270.7 152.7l-2.5-2.6M143.4 186.8l-2.5 23.7M272.2 153.3l-2.4-2.6M144.9 187.6l-2.5 23.6M273.7 153.9l-2.4-2.5M146.4 188.4l-2.5 23.5M275.2 154.6l-2.4-2.6M147.9 189.3l-2.5 23.3M276.7 155.2l-2.4-2.5M149.4 190.1l-2.4 23.2M278.2 155.9l-2.4-2.6M150.9 191l-2.4 23M279.7 156.6l-2.4-2.6M152.4 191.8l-2.4 22.9M281.2 157.3l-2.4-2.6M153.9 192.7l-2.4 22.7M282.7 158l-2.4-2.6M155.4 193.6l-2.4 22.5M284.2 158.7l-2.4-2.6M156.9 194.5l-2.4 22.3M285.8 159.4l-2.5-2.6M158.4 195.4l-2.4 22.1M287.3 160.1l-2.5-2.5M159.9 196.3l-2.4 21.9M288.8 160.9l-2.5-2.6M161.4 197.2l-2.4 21.7M248.1 144.5l1.5 .5 1.5 .5 1.5 .4 1.5 .5 1.5 .5 1.5 .6 1.5 .5 1.5 .5 1.6 .6 1.5 .6 1.5 .5 1.5 .6 1.5 .6 1.5 .6 1.5 .7 1.5 .6 1.5 .6 1.5 .7 1.5 .6 1.5 .7 1.5 .7 1.5 .7 1.5 .7 1.5 .7 1.6 .7 1.5 .7 1.5 .8M233.6 139.5l1.5 .3 1.5 .3 1.5 .3 1.5 .3 1.5 .4 1.5 .4 1.5 .4 1.5 .4M223.6 136.5l1.5 .2 1.5 .1 1.5 .2 1.5 .2 1.6 .3M215.1 134.5l1.6 .1 1.5 0 1.5 0 1.5 .1M208.2 133.2l1.5-.1 1.5-.1 1.5-.1 1.5 0M202.7 132.2l1.5-.2 1.5-.2 1.5-.2M197.3 131.5l1.5-.3 1.5-.3 1.5-.3M193.3 130.9l1.5-.5 1.5-.4M187.8 130.9l1.5-.6 1.6-.5 1.5-.5M183.9 130.6l1.5-.6 1.5-.6M179.9 130.6l1.5-.7 1.5-.7M176.7 130.4l.8-.4 1.5-.8M84.8 153.2l1.5-1.5 1.5-1.5M83.9 154.5l1.5-1.3 1.5-1.4M84.4 155.5l1.6-1.1M85 158.2l1.5-.9 1.5-.9M90.1 161.9l1.5-.4 1.5-.5M111.7 174.6l1.5 .4 1.6 .3 1.5 .4 1.5 .4 1.5 .4 1.5 .5 1.5 .5 1.5 .5 1.5 .5 1.5 .6 1.5 .6 1.5 .6 1.5 .7 1.5 .6M137.3 183.7l1.6 .8 1.5 .7 1.5 .8 1.5 .8 1.5 .8 1.5 .8 1.5 .9 1.5 .8 1.5 .9 1.5 .8 1.5 .9 1.5 .9 1.5 .9 1.5 .9 1.5 .9 1.5 .9"/>
<path stroke="#416bfe" d="M88.8 149.2l-2.5 2.5M87.8 150.2l-2.4 3M86.9 151.8l-2.5 3.7M179 129.2l-1.6-.5M86 154.4l-2.5 4.7M182.9 129.2l-2.4-.9-2.5-.8M87.5 153.2l-2.5 5M186.9 129.4l-2.4-.9-2.5-1M188.4 128.8l-2.4-1M88 156.4l-2.4 7M192.4 129.3l-2.5-1.1-2.4-1.1M89.5 155.5l-2.4 7.4M196.3 130l-2.4-1.2-2.5-1.2M197.8 129.6l-2.4-1.3M201.8 130.6l-2.5-1.3-2.4-1.4M203.3 130.4l-2.5-1.5M93.1 161l-2.4 11.2M207.2 131.6l-2.4-1.5-2.5-1.5M94.6 160.6l-2.4 11.6M208.7 131.5l-2.4-1.6M96.1 160.2l-2.4 12.1M210.2 131.3l-2.4-1.7M214.2 132.9l-2.4-1.7-2.5-1.8M215.7 132.9l-2.4-1.8M217.2 132.8l-2.4-1.8M221.2 134.7l-2.5-1.9-2.4-1.9M222.7 134.8l-2.5-1.9M224.2 134.9l-2.5-2M225.7 135l-2.5-2M227.2 135.2l-2.5-2.2M231.2 137.5l-2.5-2.2-2.4-2.1M232.7 137.7l-2.5-2.2M234.2 137.9l-2.5-2.2M235.7 138.2l-2.5-2.2M237.2 138.5l-2.5-2.3M238.7 138.8l-2.5-2.3M240.2 139.2l-2.5-2.4M245.6 142.3l-2.4-2.4M247.2 142.7l-2.5-2.4M248.7 143.1l-2.5-2.4M250.2 143.6l-2.5-2.5M251.7 144l-2.5-2.5M253.2 144.5l-2.5-2.5M254.7 145l-2.5-2.5M256.2 145.5l-2.5-2.6M257.7 146l-2.4-2.5M132.8 181.6l-2.4 24.1M259.2 146.6l-2.4-2.6M134.3 182.3l-2.4 24.1M260.7 147.1l-2.4-2.6M135.8 183l-2.4 24.1M262.2 147.7l-2.4-2.6M263.7 148.3l-2.4-2.7M265.2 148.9l-2.4-2.7M266.7 149.5l-2.4-2.7M268.2 150.1l-2.4-2.7M245.6 142.3l1.6 .4 1.5 .4 1.5 .5 1.5 .4 1.5 .5 1.5 .5 1.5 .5 1.5 .5 1.5 .6 1.5 .5 1.5 .6 1.5 .6 1.5 .6 1.5 .6 1.5 .6 1.6 .6M231.2 137.5l1.5 .2 1.5 .2 1.5 .3 1.5 .3 1.5 .3 1.5 .4 1.5 .3M221.2 134.7l1.5 .1 1.5 .1 1.5 .1 1.5 .2 1.5 .1 1.5 .2M214.2 132.9l1.5 0 1.5-.1 1.5 0 1.5 .1M207.2 131.6l1.5-.1 1.5-.2 1.6-.1 1.5-.1M201.8 130.6l1.5-.2 1.5-.3 1.5-.2M196.3 130l1.5-.4 1.5-.3 1.5-.4M192.4 129.3l1.5-.5 1.5-.5M186.9 129.4l1.5-.6 1.5-.6 1.5-.6M182.9 129.2l1.6-.7 1.5-.7M179 129.2l1.5-.9 1.5-.8M177.3 128l.7-.5M87.8 150.2l1.5-1.6M86.9 151.8l1.5-1.4M86 154.4l1.5-1.2 1.5-1.3M88 156.4l1.5-.9 1.5-.8M93.1 161l1.5-.4 1.5-.4 1.5-.4M132.8 181.6l1.5 .7 1.5 .7 1.5 .7"/>
<path stroke="#3875fe" d="M90.3 147.5l-2.5 2.7M89.3 148.6l-2.4 3.2M88.4 150.4l-2.4 4M89.9 148.9l-2.4 4.3M182 127.5l-2.4-.9-1.7-.6M89 151.9l-2.5 5.4M186 127.8l-2.5-1.1-2.4-1M187.5 127.1l-2.5-1.1M191.4 127.6l-2.4-1.2M91 154.7l-2.4 7.7M195.4 128.3l-2.5-1.3-2.4-1.3M92.5 153.8l-2.4 8.1M196.9 127.9l-2.5-1.4M200.8 128.9l-2.4-1.5-2.5-1.5M202.3 128.6l-2.4-1.6M206.3 129.9l-2.5-1.7-2.4-1.6M207.8 129.6l-2.4-1.7M97.6 159.8l-2.4 12.6M209.3 129.4l-2.4-1.8M99.1 159.5l-2.4 13M213.3 131.1l-2.5-1.9M100.6 159.2l-2.4 13.4M214.8 131l-2.5-1.9M216.3 130.9l-2.5-2M220.2 132.9l-2.4-2M221.7 132.9l-2.4-2.1M223.2 133l-2.4-2.2M224.7 133l-2.4-2.1M226.3 133.2l-2.5-2.3M230.2 135.5l-2.4-2.2M231.7 135.7l-2.4-2.3M233.2 136l-2.4-2.4M234.7 136.2l-2.4-2.4M236.2 136.5l-2.4-2.5M237.7 136.8l-2.4-2.5M241.7 139.5l-2.5-2.4M243.2 139.9l-2.4-2.5M244.7 140.3l-2.4-2.5M246.2 140.7l-2.4-2.6M247.7 141.1l-2.4-2.6M249.2 141.5l-2.4-2.6M250.7 142l-2.4-2.6M252.2 142.5l-2.4-2.7M253.7 142.9l-2.4-2.6M255.3 143.5l-2.5-2.7M256.8 144l-2.5-2.7M258.3 144.5l-2.5-2.7M259.8 145.1l-2.5-2.8M269.8 150.7l-2.5-2.7M271.3 151.4l-2.5-2.7M272.8 152l-2.5-2.7M274.3 152.7l-2.5-2.7M275.8 153.3l-2.5-2.7M277.3 154l-2.5-2.7M278.8 154.7l-2.5-2.7M280.3 155.4l-2.5-2.7M281.8 156.1l-2.4-2.7M283.3 156.8l-2.4-2.7M284.8 157.6l-2.4-2.7M286.3 158.3l-2.4-2.7M269.8 150.7l1.5 .7 1.5 .6 1.5 .7 1.5 .6 1.5 .7 1.5 .7 1.5 .7 1.5 .7 1.5 .7 1.5 .8 1.5 .7M241.7 139.5l1.5 .4 1.5 .4 1.5 .4 1.5 .4 1.5 .4 1.5 .5 1.5 .5 1.5 .4 1.6 .6 1.5 .5 1.5 .5 1.5 .6 1.5 .5M230.2 135.5l1.5 .2 1.5 .3 1.5 .2 1.5 .3 1.5 .3 1.5 .3M220.2 132.9l1.5 0 1.5 .1 1.5 0 1.6 .2 1.5 .1M213.3 131.1l1.5-.1 1.5-.1 1.5 0M206.3 129.9l1.5-.3 1.5-.2 1.5-.2M200.8 128.9l1.5-.3 1.5-.4 1.6-.3M195.4 128.3l1.5-.4 1.5-.5 1.5-.4M191.4 127.6l1.5-.6 1.5-.5M186 127.8l1.5-.7 1.5-.7M182 127.5l1.5-.8 1.5-.7M178 127.5l1.6-.9 1.5-.9M90.3 147.5l1-1.2M89.3 148.6l1.5-1.7M88.4 150.4l1.5-1.5 1.5-1.5M89 151.9l1.5-1.2M91 154.7l1.5-.9 1.5-.9M97.6 159.8l1.5-.3 1.5-.3 1.5-.3"/>
<path stroke="#307ffb" d="M92.4 145.1l-.6 .6-2.5 2.9M93.3 143.9l-2.5 3-2.4 3.5M92.4 145.3l-2.5 3.6M91.4 147.4l-2.4 4.5M181.1 125.7l-2.5-1M90.5 150.7l-2.5 5.7M185 126l-2.4-1.1-2.5-1.1M92 149.5l-2.5 6M189 126.4l-2.5-1.2-2.4-1.2M190.5 125.7l-2.5-1.3M194.4 126.5l-2.4-1.4-2.5-1.4M94 152.9l-2.4 8.6M195.9 125.9l-2.4-1.4M95.6 152.1l-2.5 8.9M199.9 127l-2.5-1.6M201.4 126.6l-2.4-1.7M205.4 127.9l-2.5-1.7M206.9 127.6l-2.5-1.8M210.8 129.2l-2.4-1.8-2.5-1.9M212.3 129.1l-2.4-2M102.1 158.9l-2.4 13.9M213.8 128.9l-2.4-2M103.6 158.6l-2.4 14.3M217.8 130.9l-2.5-2.1-2.4-2.1M105.2 158.4l-2.5 14.7M219.3 130.8l-2.5-2.1M220.8 130.8l-2.5-2.1M222.3 130.9l-2.4-2.3M223.8 130.9l-2.4-2.3M227.8 133.3l-2.5-2.3M229.3 133.4l-2.5-2.3M230.8 133.6l-2.5-2.4M232.3 133.8l-2.5-2.5M233.8 134l-2.5-2.5M239.2 137.1l-2.4-2.6M240.8 137.4l-2.5-2.6M242.3 137.8l-2.5-2.6M243.8 138.1l-2.5-2.6M245.3 138.5l-2.5-2.6M246.8 138.9l-2.5-2.7M248.3 139.4l-2.5-2.8M249.8 139.8l-2.5-2.7M251.3 140.3l-2.5-2.8M252.8 140.8l-2.4-2.8M261.3 145.6l-2.5-2.7M262.8 146.2l-2.5-2.8M264.3 146.8l-2.5-2.8M265.8 147.4l-2.5-2.8M267.3 148l-2.4-2.8M268.8 148.7l-2.4-2.8M270.3 149.3l-2.4-2.8M271.8 150l-2.4-2.8M273.3 150.6l-2.4-2.8M274.8 151.3l-2.4-2.8M276.3 152l-2.4-2.8M277.8 152.7l-2.4-2.8M279.4 153.4l-2.5-2.8M280.9 154.1l-2.5-2.7M282.4 154.9l-2.5-2.8M283.9 155.6l-2.5-2.7M261.3 145.6l1.5 .6 1.5 .6 1.5 .6 1.5 .6 1.5 .7 1.5 .6 1.5 .7 1.5 .6 1.5 .7 1.5 .7 1.5 .7 1.6 .7 1.5 .7 1.5 .8 1.5 .7M239.2 137.1l1.6 .3 1.5 .4 1.5 .3 1.5 .4 1.5 .4 1.5 .5 1.5 .4 1.5 .5 1.5 .5 1.5 .5M227.8 133.3l1.5 .1 1.5 .2 1.5 .2 1.5 .2 1.5 .3M217.8 130.9l1.5-.1 1.5 0 1.5 .1 1.5 0 1.5 .1M210.8 129.2l1.5-.1 1.5-.2 1.5-.1 1.5-.1M205.4 127.9l1.5-.3 1.5-.2 1.5-.3M199.9 127l1.5-.4 1.5-.4M194.4 126.5l1.5-.6 1.5-.5M189 126.4l1.5-.7 1.5-.6 1.5-.6M185 126l1.5-.8 1.5-.8M181.1 125.7l1.5-.8 1.5-.9M179.4 124.3l.7-.5M91.8 145.7l1.5-1.8 1.5-1.8M90.8 146.9l1.6-1.6 1.5-1.7M91.4 147.4l1.5-1.4M90.5 150.7l1.5-1.2 1.5-1.2M94 152.9l1.6-.8 1.5-.8M102.1 158.9l1.5-.3 1.6-.2 1.5-.2"/>
<path stroke="#2d87f6" d="M94.5 142.6l-1.2 1.3M94.8 142.1l-2.4 3.2M93.9 143.6l-2.5 3.8M92.9 146l-2.4 4.7M180.1 123.8l-.8-.4M184.1 124l-2.5-1.2-1.6-.8M93.5 148.3l-2.5 6.4M188 124.4l-2.4-1.3-2.5-1.2M95 147.1l-2.5 6.7M189.5 123.7l-2.4-1.4M193.5 124.5l-2.5-1.5M197.4 125.4l-2.4-1.5-2.5-1.6M97.1 151.3l-2.5 9.3M199 124.9l-2.5-1.6M202.9 126.2l-2.4-1.7-2.5-1.8M204.4 125.8l-2.4-1.8M205.9 125.5l-2.4-1.9M209.9 127.1l-2.5-1.9M211.4 126.9l-2.5-2M212.9 126.7l-2.5-2.1M216.8 128.7l-2.4-2.1M106.7 158.2l-2.5 15.1M218.3 128.7l-2.4-2.3M108.2 158l-2.5 15.5M219.9 128.6l-2.5-2.3M109.7 157.9l-2.5 15.9M221.4 128.6l-2.5-2.3M225.3 131l-2.4-2.4M226.8 131.1l-2.4-2.4M228.3 131.2l-2.4-2.5M229.8 131.3l-2.4-2.5M231.3 131.5l-2.4-2.5M235.3 134.3l-2.5-2.6M236.8 134.5l-2.5-2.6M238.3 134.8l-2.4-2.6M239.8 135.2l-2.4-2.7M241.3 135.5l-2.4-2.7M242.8 135.9l-2.4-2.8M244.3 136.2l-2.4-2.7M245.8 136.6l-2.4-2.8M247.3 137.1l-2.4-2.9M254.3 141.3l-2.4-2.8M255.8 141.8l-2.4-2.8M257.3 142.3l-2.4-2.8M258.8 142.9l-2.4-2.9M260.3 143.4l-2.4-2.8M261.8 144l-2.4-2.8M263.3 144.6l-2.4-2.9M264.9 145.2l-2.5-2.8M266.4 145.9l-2.5-2.9M267.9 146.5l-2.5-2.9M269.4 147.2l-2.5-2.9M270.9 147.8l-2.5-2.9M272.4 148.5l-2.5-2.9M273.9 149.2l-2.5-2.9M275.4 149.9l-2.5-2.9M276.9 150.6l-2.4-2.8M278.4 151.4l-2.4-2.9M279.9 152.1l-2.4-2.8M281.4 152.9l-2.4-2.9M254.3 141.3l1.5 .5 1.5 .5 1.5 .6 1.5 .5 1.5 .6 1.5 .6 1.6 .6 1.5 .7 1.5 .6 1.5 .7 1.5 .6 1.5 .7 1.5 .7 1.5 .7 1.5 .7 1.5 .8 1.5 .7 1.5 .8M235.3 134.3l1.5 .2 1.5 .3 1.5 .4 1.5 .3 1.5 .4 1.5 .3 1.5 .4 1.5 .5 1.5 .4M225.3 131l1.5 .1 1.5 .1 1.5 .1 1.5 .2 1.5 .2M216.8 128.7l1.5 0 1.6-.1 1.5 0 1.5 0M209.9 127.1l1.5-.2 1.5-.2 1.5-.1M202.9 126.2l1.5-.4 1.5-.3 1.5-.3M197.4 125.4l1.6-.5 1.5-.4 1.5-.5M193.5 124.5l1.5-.6 1.5-.6M188 124.4l1.5-.7 1.5-.7M184.1 124l1.5-.9 1.5-.8M180.1 123.8l1.5-1 1.5-.9M94.8 142.1l1.5-1.8M93.9 143.6l1.5-1.7M92.9 146l1.5-1.5M93.5 148.3l1.5-1.2 1.5-1.1M97.1 151.3l1.5-.8M106.7 158.2l1.5-.2 1.5-.1 1.5-.1"/>
<path stroke="#2c90f0" d="M96.6 140.1l-1.8 2M96.3 140.3l-2.4 3.3M95.4 141.9l-2.5 4.1M94.4 144.5l-2.4 5M95.9 143l-2.4 5.3M183.1 121.9l-2.4-1.3M187.1 122.3l-2.5-1.3M96.5 146l-2.5 6.9M191 123l-2.4-1.5-2.5-1.4M192.5 122.3l-2.4-1.6M196.5 123.3l-2.4-1.7M98.6 150.5l-2.5 9.7M198 122.7l-2.4-1.7M100.1 149.8l-2.5 10M202 124l-2.5-1.8M101.6 149.1l-2.5 10.4M203.5 123.6l-2.5-1.9M207.4 125.2l-2.4-2M208.9 124.9l-2.4-2.1M210.4 124.6l-2.4-2.1M214.4 126.6l-2.5-2.2M215.9 126.4l-2.5-2.2M217.4 126.3l-2.4-2.3M111.2 157.8l-2.5 16.2M222.9 128.6l-2.5-2.4M112.7 157.8l-2.5 16.5M224.4 128.7l-2.5-2.5M114.2 157.8l-2.5 16.8M225.9 128.7l-2.5-2.5M115.7 157.9l-2.5 17.1M227.4 128.8l-2.5-2.5M232.8 131.7l-2.4-2.6M234.3 131.9l-2.4-2.6M235.9 132.2l-2.5-2.7M237.4 132.5l-2.5-2.7M238.9 132.8l-2.5-2.8M240.4 133.1l-2.5-2.8M241.9 133.5l-2.5-2.9M248.8 137.5l-2.4-2.8M250.4 138l-2.5-2.9M251.9 138.5l-2.5-2.9M253.4 139l-2.5-2.9M254.9 139.5l-2.5-2.9M256.4 140l-2.5-2.9M257.9 140.6l-2.5-3M259.4 141.2l-2.5-3M260.9 141.7l-2.5-2.9M262.4 142.4l-2.4-3M263.9 143l-2.4-3M265.4 143.6l-2.4-2.9M266.9 144.3l-2.4-3M268.4 144.9l-2.4-2.9M269.9 145.6l-2.4-2.9M271.4 146.3l-2.4-2.9M272.9 147l-2.4-2.9M274.5 147.8l-2.5-3M276 148.5l-2.5-2.9M277.5 149.3l-2.5-3M162.4 178.9l-2.5 17.4M279 150l-2.5-2.9M163.9 180l-2.5 17.2M248.8 137.5l1.6 .5 1.5 .5 1.5 .5 1.5 .5 1.5 .5 1.5 .6 1.5 .6 1.5 .5 1.5 .7 1.5 .6 1.5 .6 1.5 .7 1.5 .6 1.5 .7 1.5 .7 1.5 .7 1.6 .8 1.5 .7 1.5 .8 1.5 .7M232.8 131.7l1.5 .2 1.6 .3 1.5 .3 1.5 .3 1.5 .3 1.5 .4 1.5 .3M222.9 128.6l1.5 .1 1.5 0 1.5 .1 1.5 .2M214.4 126.6l1.5-.2 1.5-.1 1.5 0M207.4 125.2l1.5-.3 1.5-.3 1.5-.2M202 124l1.5-.4 1.5-.4M196.5 123.3l1.5-.6 1.5-.5M191 123l1.5-.7 1.6-.7M187.1 122.3l1.5-.8 1.5-.8M183.1 121.9l1.5-.9M96.3 140.3l1.5-1.9M95.4 141.9l1.5-1.6M94.4 144.5l1.5-1.5 1.5-1.4M96.5 146l1.5-1.2M98.6 150.5l1.5-.7 1.5-.7 1.5-.7M111.2 157.8l1.5 0 1.5 0 1.5 .1 1.5 .1M162.4 178.9l1.5 1.1"/>
<path stroke="#2798ea" d="M98.1 138.1l-1.8 2.2M97.8 138.4l-2.4 3.5M96.9 140.3l-2.5 4.2M97.4 141.6l-2.4 5.5M184.6 121l-2.4-1.4-.8-.4M186.1 120.1l-2.4-1.5M98 144.8l-2.4 7.3M190.1 120.7l-2.5-1.5M99.5 143.7l-2.4 7.6M194.1 121.6l-2.5-1.6-2.4-1.6M195.6 121l-2.5-1.7M199.5 122.2l-2.4-1.8M201 121.7l-2.4-1.9M103.1 148.4l-2.5 10.8M205 123.2l-2.5-2-2.4-2M104.6 147.8l-2.5 11.1M206.5 122.8l-2.5-2M208 122.5l-2.5-2.1M211.9 124.4l-2.4-2.2M213.4 124.2l-2.4-2.3M215 124l-2.5-2.3M218.9 126.3l-2.4-2.4M220.4 126.2l-2.4-2.4M221.9 126.2l-2.4-2.5M223.4 126.2l-2.4-2.5M224.9 126.3l-2.4-2.6M117.2 158l-2.4 17.3M228.9 129l-2.5-2.7M118.7 158.1l-2.4 17.6M230.4 129.1l-2.5-2.7M120.2 158.3l-2.4 17.8M231.9 129.3l-2.4-2.7M121.7 158.5l-2.4 18M233.4 129.5l-2.4-2.7M123.2 158.8l-2.4 18.2M234.9 129.8l-2.4-2.8M124.7 159.1l-2.4 18.4M236.4 130l-2.4-2.8M126.2 159.5l-2.4 18.5M243.4 133.8l-2.5-2.8M244.9 134.2l-2.5-2.8M246.4 134.7l-2.4-2.9M247.9 135.1l-2.4-2.9M249.4 135.6l-2.4-3M250.9 136.1l-2.4-3M252.4 136.6l-2.4-3M253.9 137.1l-2.4-3M255.4 137.6l-2.4-2.9M256.9 138.2l-2.4-3M258.4 138.8l-2.4-3M260 139.4l-2.5-3M261.5 140l-2.5-3M148.8 169.8l-2.4 18.6M263 140.7l-2.5-3M150.3 170.8l-2.4 18.5M264.5 141.3l-2.5-3M151.8 171.7l-2.4 18.4M266 142l-2.5-3M153.4 172.7l-2.5 18.3M267.5 142.7l-2.5-3M154.9 173.7l-2.5 18.1M269 143.4l-2.5-3M156.4 174.7l-2.5 18M270.5 144.1l-2.4-3M157.9 175.7l-2.5 17.9M272 144.8l-2.4-2.9M159.4 176.8l-2.5 17.7M273.5 145.6l-2.4-3M160.9 177.8l-2.5 17.6M275 146.3l-2.4-2.9M276.5 147.1l-2.4-2.9M243.4 133.8l1.5 .4 1.5 .5 1.5 .4 1.5 .5 1.5 .5 1.5 .5 1.5 .5 1.5 .5 1.5 .6 1.5 .6 1.6 .6 1.5 .6 1.5 .7 1.5 .6 1.5 .7 1.5 .7 1.5 .7 1.5 .7 1.5 .7 1.5 .8 1.5 .7 1.5 .8M228.9 129l1.5 .1 1.5 .2 1.5 .2 1.5 .3 1.5 .2 1.5 .3M218.9 126.3l1.5-.1 1.5 0 1.5 0 1.5 .1 1.5 0M211.9 124.4l1.5-.2 1.6-.2 1.5-.1M205 123.2l1.5-.4 1.5-.3 1.5-.3M199.5 122.2l1.5-.5 1.5-.5 1.5-.4M194.1 121.6l1.5-.6 1.5-.6M190.1 120.7l1.5-.7 1.5-.7M184.6 121l1.5-.9 1.5-.9M180.7 120.6l1.5-1 1.5-1M97.8 138.4l1.5-1.8M96.9 140.3l1.5-1.7M97.4 141.6l1.5-1.4M98 144.8l1.5-1.1 1.5-1.1M103.1 148.4l1.5-.6 1.5-.6M117.2 158l1.5 .1 1.5 .2 1.5 .2 1.5 .3 1.5 .3 1.5 .4 1.5 .4M148.8 169.8l1.5 1 1.5 .9 1.6 1 1.5 1 1.5 1 1.5 1 1.5 1.1 1.5 1 1.5 1.1"/>
<path stroke="#249fe5" d="M100.3 135.4l-2.5 3M99.3 136.6l-2.4 3.7M98.4 138.6l-2.5 4.4M98.9 140.2l-2.4 5.8M183.7 118.6l-1.6-.9M187.6 119.2l-2.4-1.5-1.6-1M189.2 118.4l-2.5-1.6M101 142.6l-2.4 7.9M193.1 119.3l-2.4-1.7M197.1 120.4l-2.5-1.8-2.4-1.8M198.6 119.8l-2.5-1.9M200.1 119.2l-2.5-1.9M204 120.8l-2.4-2.1M106.1 147.2l-2.5 11.4M205.5 120.4l-2.4-2.2M107.6 146.6l-2.4 11.8M209.5 122.2l-2.5-2.2M211 121.9l-2.4-2.2M212.5 121.7l-2.4-2.4M216.5 123.9l-2.5-2.4M218 123.8l-2.5-2.5M219.5 123.7l-2.5-2.5M221 123.7l-2.5-2.6M226.4 126.3l-2.4-2.6M227.9 126.4l-2.4-2.6M229.5 126.6l-2.5-2.7M231 126.8l-2.5-2.8M232.5 127l-2.5-2.8M237.9 130.3l-2.4-2.8M127.7 159.9l-2.4 18.6M239.4 130.6l-2.4-2.8M129.3 160.4l-2.5 18.7M240.9 131l-2.4-2.9M130.8 160.9l-2.5 18.8M242.4 131.4l-2.4-3M132.3 161.4l-2.5 18.9M244 131.8l-2.5-3M133.8 162l-2.5 19M245.5 132.2l-2.5-3M135.3 162.6l-2.5 19M247 132.6l-2.5-2.9M136.8 163.3l-2.5 19M248.5 133.1l-2.5-3M138.3 164l-2.5 19M250 133.6l-2.5-3M139.8 164.8l-2.5 18.9M251.5 134.1l-2.5-3M141.3 165.5l-2.4 19M253 134.7l-2.5-3.1M142.8 166.3l-2.4 18.9M254.5 135.2l-2.5-3M144.3 167.2l-2.4 18.8M256 135.8l-2.4-3M145.8 168l-2.4 18.8M147.3 168.9l-2.4 18.7M274.1 144.2l-2.5-3M237.9 130.3l1.5 .3 1.5 .4 1.5 .4 1.6 .4 1.5 .4 1.5 .4 1.5 .5 1.5 .5 1.5 .5 1.5 .6 1.5 .5 1.5 .6 1.5 .6M226.4 126.3l1.5 .1 1.6 .2 1.5 .2 1.5 .2 1.5 .2M216.5 123.9l1.5-.1 1.5-.1 1.5 0 1.5 0M209.5 122.2l1.5-.3 1.5-.2 1.5-.2M204 120.8l1.5-.4 1.5-.4M197.1 120.4l1.5-.6 1.5-.6 1.5-.5M193.1 119.3l1.5-.7 1.5-.7M187.6 119.2l1.6-.8 1.5-.8M183.7 118.6l1.5-.9 1.5-.9M100.3 135.4l.5-.6M99.3 136.6l1.5-1.8M98.4 138.6l1.5-1.6M98.9 140.2l1.5-1.4M101 142.6l1.5-1M106.1 147.2l1.5-.6 1.5-.5M127.7 159.9l1.6 .5 1.5 .5 1.5 .5 1.5 .6 1.5 .6 1.5 .7 1.5 .7 1.5 .8 1.5 .7 1.5 .8 1.5 .9 1.5 .8 1.5 .9 1.5 .9"/>
<path stroke="#1ea7e1" d="M101.8 133.4l-2.5 3.2M100.8 134.8l-2.4 3.8M99.9 137l-2.5 4.6M101.4 135.3l-2.5 4.9M100.4 138.8l-2.4 6M102 137.4l-2.5 6.3M186.7 116.8l-2.4-1.6M190.7 117.6l-2.5-1.7-2.4-1.7M102.5 141.6l-2.4 8.2M192.2 116.8l-2.5-1.8M104 140.6l-2.4 8.5M196.1 117.9l-2.4-1.9M197.6 117.3l-2.4-2M201.6 118.7l-2.5-2M203.1 118.2l-2.5-2.1M207 120l-2.4-2.2M109.1 146.1l-2.4 12.1M208.6 119.7l-2.5-2.3M110.6 145.7l-2.4 12.3M210.1 119.3l-2.5-2.3M112.1 145.3l-2.4 12.6M214 121.5l-2.4-2.4M215.5 121.3l-2.4-2.4M217 121.2l-2.4-2.5M218.5 121.1l-2.4-2.6M222.5 123.7l-2.5-2.7M224 123.7l-2.5-2.7M225.5 123.8l-2.5-2.8M227 123.9l-2.4-2.8M228.5 124l-2.4-2.8M234 127.2l-2.5-2.8M235.5 127.5l-2.5-2.9M237 127.8l-2.5-2.9M238.5 128.1l-2.5-2.9M240 128.4l-2.5-2.9M241.5 128.8l-2.4-3M243 129.2l-2.4-3M244.5 129.7l-2.4-3.1M246 130.1l-2.4-3M257.5 136.4l-2.4-3M259 137l-2.4-3M260.5 137.7l-2.4-3.1M262 138.3l-2.4-3M263.5 139l-2.4-3.1M265 139.7l-2.4-3.1M266.5 140.4l-2.4-3M268.1 141.1l-2.5-3M269.6 141.9l-2.5-3.1M271.1 142.6l-2.5-3M272.6 143.4l-2.5-3M257.5 136.4l1.5 .6 1.5 .7 1.5 .6 1.5 .7 1.5 .7 1.5 .7 1.6 .7 1.5 .8 1.5 .7 1.5 .8 1.5 .8M234 127.2l1.5 .3 1.5 .3 1.5 .3 1.5 .3 1.5 .4 1.5 .4 1.5 .5 1.5 .4 1.5 .5M222.5 123.7l1.5 0 1.5 .1 1.5 .1 1.5 .1 1.5 .2M214 121.5l1.5-.2 1.5-.1 1.5-.1 1.5-.1M207 120l1.6-.3 1.5-.4 1.5-.2M201.6 118.7l1.5-.5 1.5-.4M196.1 117.9l1.5-.6 1.5-.6M190.7 117.6l1.5-.8 1.5-.8M186.7 116.8l1.5-.9 1.5-.9M183.5 115.7l.8-.5M101.8 133.4l1.5-1.9M100.8 134.8l1.5-1.8M99.9 137l1.5-1.7 1.5-1.5M100.4 138.8l1.6-1.4 1.5-1.3M102.5 141.6l1.5-1 1.5-.9M109.1 146.1l1.5-.4 1.5-.4 1.5-.4"/>
<path stroke="#18addb" d="M102.4 132.8l-.6 .6M105.1 129.3l-1.8 2.2-2.5 3.3M102.3 133l-2.4 4M103.8 131.2l-2.4 4.1M102.9 133.8l-2.5 5M103.5 136.1l-2.5 6.5M185.8 114.2l-.9-.5M189.7 115l-2.4-1.7M193.7 116l-2.5-1.8M105.5 139.7l-2.4 8.7M195.2 115.3l-2.5-1.9M107 138.8l-2.4 9M199.1 116.7l-2.4-2M200.6 116.1l-2.4-2.1M204.6 117.8l-2.5-2.2M206.1 117.4l-2.4-2.3M207.6 117l-2.4-2.3M211.6 119.1l-2.5-2.4M113.6 144.9l-2.4 12.9M213.1 118.9l-2.5-2.5M115.1 144.7l-2.4 13.1M214.6 118.7l-2.5-2.6M116.6 144.4l-2.4 13.4M220 121l-2.4-2.6M221.5 121l-2.4-2.7M223 121l-2.4-2.7M224.6 121.1l-2.5-2.8M230 124.2l-2.4-2.9M231.5 124.4l-2.4-2.9M233 124.6l-2.4-2.9M234.5 124.9l-2.4-3M236 125.2l-2.4-3M237.5 125.5l-2.4-3M239.1 125.8l-2.5-3M247.5 130.6l-2.4-3M249 131.1l-2.4-3M250.5 131.6l-2.4-3M252 132.2l-2.4-3.1M253.6 132.8l-2.5-3.1M255.1 133.4l-2.5-3.1M256.6 134l-2.5-3.1M258.1 134.6l-2.5-3.1M259.6 135.3l-2.5-3.1M261.1 135.9l-2.5-3M262.6 136.6l-2.5-3M264.1 137.4l-2.5-3.1M265.6 138.1l-2.4-3.1M267.1 138.8l-2.4-3M268.6 139.6l-2.4-3M270.1 140.4l-2.4-3M271.6 141.2l-2.4-3M247.5 130.6l1.5 .5 1.5 .5 1.5 .6 1.6 .6 1.5 .6 1.5 .6 1.5 .6 1.5 .7 1.5 .6 1.5 .7 1.5 .8 1.5 .7 1.5 .7 1.5 .8 1.5 .8 1.5 .8M230 124.2l1.5 .2 1.5 .2 1.5 .3 1.5 .3 1.5 .3 1.6 .3 1.5 .4M220 121l1.5 0 1.5 0 1.6 .1 1.5 .1M211.6 119.1l1.5-.2 1.5-.2 1.5-.2M204.6 117.8l1.5-.4 1.5-.4 1.5-.3M199.1 116.7l1.5-.6 1.5-.5M193.7 116l1.5-.7 1.5-.6M189.7 115l1.5-.8M184.3 115.2l1.5-1 1.5-.9M103.3 131.5l1.5-1.9M102.3 133l1.5-1.8 1.5-1.7M102.9 133.8l1.5-1.6M103.5 136.1l1.5-1.2M105.5 139.7l1.5-.9 1.5-.9M113.6 144.9l1.5-.2 1.5-.3 1.5-.2"/>
<path stroke="#0cb3d3" d="M107.2 126.6l-2.4 3-2.5 3.4M106.3 127.7l-2.5 3.5M105.3 129.5l-2.4 4.3M104.4 132.2l-2.4 5.2M105 134.9l-2.5 6.7M187.3 113.3l-1.7-1.1M106.5 133.7l-2.5 6.9M191.2 114.2l-2.4-1.8-1.9-1.3M192.7 113.4l-2.4-1.9M196.7 114.7l-2.5-2M108.5 137.9l-2.4 9.3M198.2 114l-2.5-2M110 137.1l-2.4 9.5M202.1 115.6l-2.4-2.2M203.7 115.1l-2.5-2.2M205.2 114.7l-2.5-2.3M209.1 116.7l-2.4-2.4M210.6 116.4l-2.4-2.5M212.1 116.1l-2.4-2.5M216.1 118.5l-2.5-2.6M118.1 144.2l-2.4 13.7M217.6 118.4l-2.5-2.6M119.7 144.1l-2.5 13.9M219.1 118.3l-2.5-2.6M121.2 144.1l-2.5 14M220.6 118.3l-2.4-2.7M226.1 121.2l-2.5-2.8M227.6 121.3l-2.5-2.8M229.1 121.5l-2.5-2.9M230.6 121.7l-2.5-2.9M232.1 121.9l-2.5-2.9M233.6 122.2l-2.5-3M240.6 126.2l-2.5-3M242.1 126.6l-2.5-3M243.6 127.1l-2.5-3.1M245.1 127.6l-2.5-3.1M246.6 128.1l-2.5-3.1M248.1 128.6l-2.5-3.1M249.6 129.1l-2.4-3.1M251.1 129.7l-2.4-3.1M252.6 130.3l-2.4-3.1M254.1 130.9l-2.4-3.1M255.6 131.5l-2.4-3M257.1 132.2l-2.4-3.1M258.6 132.9l-2.4-3.1M260.1 133.6l-2.4-3.1M261.6 134.3l-2.4-3.1M263.2 135l-2.5-3M264.7 135.8l-2.5-3M161.8 162.6l-2.4 14.2M266.2 136.6l-2.5-3.1M163.3 163.8l-2.4 14M267.7 137.4l-2.5-3.1M164.8 164.9l-2.4 14M269.2 138.2l-2.5-3M166.3 166.1l-2.4 13.9M240.6 126.2l1.5 .4 1.5 .5 1.5 .5 1.5 .5 1.5 .5 1.5 .5 1.5 .6 1.5 .6 1.5 .6 1.5 .6 1.5 .7 1.5 .7 1.5 .7 1.5 .7 1.6 .7 1.5 .8 1.5 .8 1.5 .8 1.5 .8M226.1 121.2l1.5 .1 1.5 .2 1.5 .2 1.5 .2 1.5 .3 1.5 .3M216.1 118.5l1.5-.1 1.5-.1 1.5 0 1.5 0M209.1 116.7l1.5-.3 1.5-.3 1.5-.2M202.1 115.6l1.6-.5 1.5-.4 1.5-.4M196.7 114.7l1.5-.7 1.5-.6M191.2 114.2l1.5-.8 1.5-.7M187.3 113.3l1.5-.9 1.5-.9M107.2 126.6l.5-.7M104.8 129.6l1.5-1.9 1.5-1.9M105.3 129.5l1.6-1.7M104.4 132.2l1.5-1.5M105 134.9l1.5-1.2 1.5-1.2M108.5 137.9l1.5-.8 1.6-.7M118.1 144.2l1.6-.1 1.5 0 1.5 0M161.8 162.6l1.5 1.2 1.5 1.1 1.5 1.2"/>
<path stroke="#01b8c9" d="M108.7 124.6l-2.4 3.1M107.8 125.8l-2.5 3.7M106.9 127.8l-2.5 4.4M105.9 130.7l-2.4 5.4M107.4 129.3l-2.4 5.6M108 132.5l-2.5 7.2M190.3 111.5l-2.5-1.8M194.2 112.7l-2.4-2-2.5-1.9M195.7 112l-2.4-2.1M199.7 113.4l-2.4-2.1-2.5-2.1M111.6 136.4l-2.5 9.7M201.2 112.9l-2.4-2.2M113.1 135.7l-2.5 10M202.7 112.4l-2.4-2.3M206.7 114.3l-2.5-2.4M208.2 113.9l-2.5-2.4M209.7 113.6l-2.5-2.4M213.6 115.9l-2.4-2.5M215.1 115.8l-2.4-2.6M216.6 115.7l-2.4-2.7M218.2 115.6l-2.5-2.7M122.7 144.1l-2.5 14.2M222.1 118.3l-2.4-2.7M124.2 144.1l-2.5 14.4M223.6 118.4l-2.4-2.8M125.7 144.3l-2.5 14.5M225.1 118.5l-2.4-2.9M127.2 144.5l-2.5 14.6M226.6 118.6l-2.4-2.9M128.7 144.7l-2.5 14.8M228.1 118.8l-2.4-2.9M130.2 145l-2.5 14.9M131.7 145.4l-2.4 15M235.1 122.5l-2.4-3M236.6 122.8l-2.4-3M238.1 123.2l-2.4-3M239.6 123.6l-2.4-3M241.1 124l-2.4-3M242.6 124.5l-2.4-3.1M244.1 125l-2.4-3.1M245.6 125.5l-2.4-3.1M247.2 126l-2.5-3M248.7 126.6l-2.5-3.1M148.3 153.1l-2.5 14.9M250.2 127.2l-2.5-3.1M149.8 154l-2.5 14.9M251.7 127.8l-2.5-3.1M151.3 155l-2.5 14.8M253.2 128.5l-2.5-3.1M152.8 156l-2.5 14.8M254.7 129.1l-2.5-3.1M154.3 157l-2.5 14.7M256.2 129.8l-2.5-3.1M155.8 158.1l-2.4 14.6M257.7 130.5l-2.5-3.1M157.3 159.2l-2.4 14.5M259.2 131.2l-2.4-3M158.8 160.3l-2.4 14.4M260.7 132l-2.4-3.1M160.3 161.4l-2.4 14.3M262.2 132.8l-2.4-3.1M263.7 133.5l-2.4-3M265.2 134.3l-2.4-3M266.7 135.2l-2.4-3M235.1 122.5l1.5 .3 1.5 .4 1.5 .4 1.5 .4 1.5 .5 1.5 .5 1.5 .5 1.6 .5 1.5 .6 1.5 .6 1.5 .6 1.5 .7 1.5 .6 1.5 .7 1.5 .7 1.5 .7 1.5 .8 1.5 .8 1.5 .7 1.5 .8 1.5 .9M222.1 118.3l1.5 .1 1.5 .1 1.5 .1 1.5 .2 1.5 .2M213.6 115.9l1.5-.1 1.5-.1 1.6-.1 1.5 0M206.7 114.3l1.5-.4 1.5-.3 1.5-.2M199.7 113.4l1.5-.5 1.5-.5 1.5-.5M194.2 112.7l1.5-.7 1.6-.7 1.5-.6M190.3 111.5l1.5-.8 1.5-.8M108.7 124.6l1.5-2M107.8 125.8l1.5-1.8M106.9 127.8l1.5-1.7M105.9 130.7l1.5-1.4 1.5-1.4M108 132.5l1.5-1.1M111.6 136.4l1.5-.7 1.5-.6M122.7 144.1l1.5 0 1.5 .2 1.5 .2 1.5 .2 1.5 .3 1.5 .4 1.5 .5M148.3 153.1l1.5 .9 1.5 1 1.5 1 1.5 1 1.5 1.1 1.5 1.1 1.5 1.1 1.5 1.1 1.5 1.2"/>
<path stroke="#08bcbe" d="M110.2 122.6l-2.4 3.2M109.3 124l-2.4 3.8M108.4 126.1l-2.5 4.6M108.9 127.9l-2.4 5.8M109.5 131.4l-2.5 7.4M189.3 108.8l-.6-.5M111 130.3l-2.5 7.6M193.3 109.9l-2.5-1.9M194.8 109.2l-2.4-2M198.8 110.7l-2.5-2.2M200.3 110.1l-2.5-2.2M114.6 135.1l-2.5 10.2M204.2 111.9l-2.4-2.3M116.1 134.5l-2.5 10.4M205.7 111.5l-2.4-2.4M207.2 111.2l-2.4-2.5M211.2 113.4l-2.5-2.6M212.7 113.2l-2.5-2.6M214.2 113l-2.4-2.6M219.7 115.6l-2.5-2.8M221.2 115.6l-2.5-2.8M222.7 115.6l-2.5-2.8M224.2 115.7l-2.5-2.8M229.6 119l-2.4-2.9M231.1 119.2l-2.4-2.9M133.2 145.9l-2.4 15M232.7 119.5l-2.5-2.9M134.7 146.4l-2.4 15M234.2 119.8l-2.5-3M136.2 146.9l-2.4 15.1M235.7 120.2l-2.5-3M137.7 147.5l-2.4 15.1M237.2 120.6l-2.5-3.1M139.2 148.2l-2.4 15.1M238.7 121l-2.5-3M140.7 148.9l-2.4 15.1M240.2 121.4l-2.5-3M142.2 149.6l-2.4 15.2M241.7 121.9l-2.5-3M143.8 150.4l-2.5 15.1M243.2 122.4l-2.5-3M145.3 151.3l-2.5 15M146.8 152.1l-2.5 15.1M264.3 132.2l-2.5-3M229.6 119l1.5 .2 1.6 .3 1.5 .3 1.5 .4 1.5 .4 1.5 .4 1.5 .4 1.5 .5 1.5 .5 1.5 .6M219.7 115.6l1.5 0 1.5 0 1.5 .1 1.5 .2M211.2 113.4l1.5-.2 1.5-.2 1.5-.1M204.2 111.9l1.5-.4 1.5-.3 1.5-.4M198.8 110.7l1.5-.6 1.5-.5M193.3 109.9l1.5-.7 1.5-.7M187.8 109.7l1.5-.9 1.5-.8M110.2 122.6l1.5-1.9M109.3 124l1.5-1.8M108.4 126.1l1.5-1.6M108.9 127.9l1.5-1.4M109.5 131.4l1.5-1.1 1.5-1M114.6 135.1l1.5-.6 1.5-.5M133.2 145.9l1.5 .5 1.5 .5 1.5 .6 1.5 .7 1.5 .7 1.5 .7 1.6 .8 1.5 .9 1.5 .8 1.5 1"/>
<path stroke="#1cc0b4" d="M111.5 121.2l-1.3 1.4M111.7 120.7l-2.4 3.3M110.8 122.2l-2.4 3.9M109.9 124.5l-2.5 4.8M111.4 123l-2.5 4.9M110.4 126.5l-2.4 6M111.9 125.3l-2.4 6.1M190.8 108l-1.2-1M112.5 129.3l-2.5 7.8M192.4 107.2l-1.9-1.5M114 128.4l-2.4 8M196.3 108.5l-2.4-2.1M197.8 107.9l-2.4-2.2M201.8 109.6l-2.5-2.3M203.3 109.1l-2.5-2.3M117.6 134l-2.5 10.7M119.1 133.6l-2.5 10.8M208.7 110.8l-2.4-2.5M120.6 133.3l-2.5 10.9M210.2 110.6l-2.4-2.6M211.8 110.4l-2.5-2.6M215.7 112.9l-2.4-2.7M217.2 112.8l-2.4-2.7M218.7 112.8l-2.4-2.8M220.2 112.8l-2.4-2.8M225.7 115.9l-2.5-2.9M227.2 116.1l-2.5-2.9M228.7 116.3l-2.5-2.9M230.2 116.6l-2.4-3M231.7 116.8l-2.4-2.9M233.2 117.2l-2.4-3M234.7 117.5l-2.4-3M244.7 123l-2.4-3.1M246.2 123.5l-2.4-3.1M247.7 124.1l-2.4-3.1M249.2 124.7l-2.4-3M250.7 125.4l-2.4-3.1M252.2 126l-2.4-3M253.7 126.7l-2.4-3M255.2 127.4l-2.4-3M256.8 128.2l-2.5-3.1M258.3 128.9l-2.5-3M259.8 129.7l-2.5-3M261.3 130.5l-2.5-3M262.8 131.3l-2.5-2.9M168.8 154.9l-2.5 11.2M244.7 123l1.5 .5 1.5 .6 1.5 .6 1.5 .7 1.5 .6 1.5 .7 1.5 .7 1.6 .8 1.5 .7 1.5 .8 1.5 .8 1.5 .8 1.5 .9M225.7 115.9l1.5 .2 1.5 .2 1.5 .3 1.5 .2 1.5 .4 1.5 .3 1.5 .5M215.7 112.9l1.5-.1 1.5 0 1.5 0 1.5 .1M208.7 110.8l1.5-.2 1.6-.2 1.5-.2M201.8 109.6l1.5-.5 1.5-.4M196.3 108.5l1.5-.6 1.5-.6M190.8 108l1.6-.8 1.5-.8M111.7 120.7l1.6-1.9M110.8 122.2l1.5-1.7M109.9 124.5l1.5-1.5 1.5-1.5M110.4 126.5l1.5-1.2 1.5-1.3M112.5 129.3l1.5-.9 1.5-.9M117.6 134l1.5-.4 1.5-.3 1.5-.3"/>
<path stroke="#2bc3a8" d="M113.6 118.5l-1.9 2.2M113.3 118.8l-2.5 3.4M112.3 120.5l-2.4 4M112.9 121.5l-2.5 5M113.4 124l-2.4 6.3M193.9 106.4l-1.9-1.5M115.5 127.5l-2.4 8.2M195.4 105.7l-2.5-2.1M117 126.8l-2.4 8.3M199.3 107.3l-2.4-2.2M200.8 106.8l-2.4-2.3M204.8 108.7l-2.5-2.4M206.3 108.3l-2.5-2.4M207.8 108l-2.5-2.5M122.1 133l-2.4 11.1M123.6 132.8l-2.4 11.3M213.3 110.2l-2.5-2.6M125.1 132.6l-2.4 11.5M214.8 110.1l-2.5-2.7M126.6 132.6l-2.4 11.5M216.3 110l-2.5-2.7M221.7 112.9l-2.4-2.8M223.2 113l-2.4-2.9M224.7 113.2l-2.4-2.9M226.2 113.4l-2.4-3M227.8 113.6l-2.5-2.9M229.3 113.9l-2.5-3M236.2 118l-2.4-3.1M237.7 118.4l-2.4-3M239.2 118.9l-2.4-3.1M240.7 119.4l-2.4-3.1M242.3 119.9l-2.5-3.1M243.8 120.4l-2.5-3M245.3 121l-2.5-3M246.8 121.7l-2.5-3.1M248.3 122.3l-2.5-3M249.8 123l-2.5-3.1M251.3 123.7l-2.5-3M252.8 124.4l-2.5-3M254.3 125.1l-2.4-3M161.3 148.6l-2.5 11.7M255.8 125.9l-2.4-3M162.8 149.8l-2.5 11.6M257.3 126.7l-2.4-3M164.3 151.1l-2.5 11.5M258.8 127.5l-2.4-2.9M165.8 152.3l-2.5 11.5M260.3 128.4l-2.4-3M167.3 153.6l-2.5 11.3M261.8 129.2l-2.4-2.9M236.2 118l1.5 .4 1.5 .5 1.5 .5 1.6 .5 1.5 .5 1.5 .6 1.5 .7 1.5 .6 1.5 .7 1.5 .7 1.5 .7 1.5 .7 1.5 .8 1.5 .8 1.5 .8 1.5 .9 1.5 .8M221.7 112.9l1.5 .1 1.5 .2 1.5 .2 1.6 .2 1.5 .3 1.5 .3M213.3 110.2l1.5-.1 1.5-.1 1.5 0M204.8 108.7l1.5-.4 1.5-.3 1.5-.2M199.3 107.3l1.5-.5 1.5-.5M193.9 106.4l1.5-.7 1.5-.6M114.2 117.8l1-1.3M113.3 118.8l1.5-1.8M112.3 120.5l1.5-1.7M112.9 121.5l1.5-1.4M113.4 124l1.5-1.1M115.5 127.5l1.5-.7 1.5-.8M122.1 133l1.5-.2 1.5-.2 1.5 0 1.5 0M161.3 148.6l1.5 1.2 1.5 1.3 1.5 1.2 1.5 1.3 1.5 1.3"/>
<path stroke="#34c79c" d="M115.7 115.9l-2.4 2.9M114.8 117l-2.5 3.5M113.8 118.8l-2.4 4.2M115.3 117.2l-2.4 4.3M114.4 120.1l-2.5 5.2M114.9 122.9l-2.4 6.4M116.5 121.8l-2.5 6.6M196.9 105.1l-2.5-2.2M118.5 126l-2.4 8.5M198.4 104.5l-2.5-2.3M120 125.4l-2.4 8.6M202.3 106.3l-2.4-2.3M203.8 105.9l-2.4-2.4M205.3 105.5l-2.4-2.4M209.3 107.8l-2.4-2.6M210.8 107.6l-2.4-2.6M212.3 107.4l-2.4-2.6M213.8 107.3l-2.4-2.7M128.1 132.6l-2.4 11.7M217.8 110l-2.5-2.7M129.6 132.7l-2.4 11.8M219.3 110.1l-2.5-2.8M131.1 132.8l-2.4 11.9M220.8 110.1l-2.5-2.8M132.6 133.1l-2.4 11.9M222.3 110.3l-2.5-2.9M134.2 133.4l-2.5 12M223.8 110.4l-2.4-2.8M135.7 133.8l-2.5 12.1M230.8 114.2l-2.5-3M232.3 114.5l-2.5-2.9M233.8 114.9l-2.5-3M235.3 115.4l-2.5-3M236.8 115.8l-2.5-3M238.3 116.3l-2.5-3M239.8 116.8l-2.4-3M149.2 140l-2.4 12.1M241.3 117.4l-2.4-3M150.7 140.9l-2.4 12.2M242.8 118l-2.4-3M152.2 141.9l-2.4 12.1M244.3 118.6l-2.4-3M153.7 143l-2.4 12M245.8 119.3l-2.4-3M155.2 144l-2.4 12M247.3 119.9l-2.4-2.9M156.7 145.1l-2.4 11.9M248.8 120.7l-2.4-3M158.2 146.3l-2.4 11.8M250.3 121.4l-2.4-3M159.8 147.4l-2.5 11.8M251.9 122.1l-2.5-2.9M253.4 122.9l-2.5-2.9M254.9 123.7l-2.5-2.9M256.4 124.6l-2.5-3M257.9 125.4l-2.5-2.9M259.4 126.3l-2.5-2.9M230.8 114.2l1.5 .3 1.5 .4 1.5 .5 1.5 .4 1.5 .5 1.5 .5 1.5 .6 1.5 .6 1.5 .6 1.5 .7 1.5 .6 1.5 .8 1.5 .7 1.6 .7 1.5 .8 1.5 .8 1.5 .9 1.5 .8 1.5 .9M217.8 110l1.5 .1 1.5 0 1.5 .2 1.5 .1 1.5 .3M209.3 107.8l1.5-.2 1.5-.2 1.5-.1 1.5 0M202.3 106.3l1.5-.4 1.5-.4 1.6-.3M196.9 105.1l1.5-.6 1.5-.5M192.9 103.6l1.5-.7M115.7 115.9l1.5-1.9M114.8 117l1.5-1.7M113.8 118.8l1.5-1.6 1.5-1.5M114.4 120.1l1.5-1.3M114.9 122.9l1.6-1.1 1.5-1M118.5 126l1.5-.6 1.5-.6M128.1 132.6l1.5 .1 1.5 .1 1.5 .3 1.6 .3 1.5 .4 1.5 .4M149.2 140l1.5 .9 1.5 1 1.5 1.1 1.5 1 1.5 1.1 1.5 1.2 1.6 1.1 1.5 1.2"/>
<path stroke="#3fca8e" d="M119 112l-1.8 2-2.4 3M116.3 115.3l-2.5 3.5M117.8 113.6l-2.5 3.6M116.8 115.7l-2.4 4.4M115.9 118.8l-2.5 5.2M117.4 117.5l-2.5 5.4M118 120.8l-2.5 6.7M119.5 119.9l-2.5 6.9M194.4 102.9l-.6-.5M195.9 102.2l-.6-.5M199.9 104l-2.5-2.3M121.5 124.8l-2.4 8.8M201.4 103.5l-2.5-2.4M123 124.3l-2.4 9M202.9 103.1l-2.5-2.4M124.5 123.9l-2.4 9.1M206.9 105.2l-2.5-2.5M208.4 105l-2.5-2.6M209.9 104.8l-2.5-2.6M215.3 107.3l-2.4-2.7M216.8 107.3l-2.4-2.8M218.3 107.3l-2.4-2.7M219.8 107.4l-2.4-2.8M225.3 110.7l-2.4-2.9M137.2 134.2l-2.5 12.2M226.8 110.9l-2.4-2.9M138.7 134.7l-2.5 12.2M228.3 111.2l-2.4-2.9M140.2 135.3l-2.5 12.2M229.8 111.6l-2.4-3M141.7 136l-2.5 12.2M231.3 111.9l-2.4-2.9M143.2 136.7l-2.5 12.2M232.8 112.4l-2.4-3M144.7 137.4l-2.5 12.2M234.3 112.8l-2.4-2.9M146.2 138.2l-2.4 12.2M235.8 113.3l-2.4-2.9M147.7 139.1l-2.4 12.2M237.4 113.8l-2.5-2.9M238.9 114.4l-2.5-3M240.4 115l-2.5-3M241.9 115.6l-2.5-2.9M243.4 116.3l-2.5-3M244.9 117l-2.5-3M246.4 117.7l-2.5-2.9M247.9 118.4l-2.4-2.9M249.4 119.2l-2.4-2.9M250.9 120l-2.4-2.9M252.4 120.8l-2.4-2.9M253.9 121.6l-2.4-2.8M255.4 122.5l-2.4-2.8M256.9 123.4l-2.4-2.8M171.2 145.6l-2.4 9.3M225.3 110.7l1.5 .2 1.5 .3 1.5 .4 1.5 .3 1.5 .5 1.5 .4 1.5 .5 1.6 .5 1.5 .6 1.5 .6 1.5 .6 1.5 .7 1.5 .7 1.5 .7 1.5 .7 1.5 .8 1.5 .8 1.5 .8 1.5 .8 1.5 .9 1.5 .9M215.3 107.3l1.5 0 1.5 0 1.5 .1 1.6 .2M206.9 105.2l1.5-.2 1.5-.2 1.5-.2M199.9 104l1.5-.5 1.5-.4 1.5-.4M194.4 102.9l1.5-.7 1.5-.5M117.2 114l1.5-1.8M116.3 115.3l1.5-1.7 1.5-1.6M116.8 115.7l1.5-1.4M115.9 118.8l1.5-1.3 1.5-1.2M118 120.8l1.5-.9 1.5-.9M121.5 124.8l1.5-.5 1.5-.4 1.6-.3M137.2 134.2l1.5 .5 1.5 .6 1.5 .7 1.5 .7 1.5 .7 1.5 .8 1.5 .9 1.5 .9"/>
<path stroke="#52cc7e" d="M120.6 110.1l-1.9 2.1-2.4 3.1M120.2 110.4l-2.4 3.2M119.3 112l-2.5 3.7M118.3 114.3l-2.4 4.5M118.9 116.3l-2.4 5.5M121 119l-2.5 7M122.5 118.2l-2.5 7.2M197.4 101.7l-1.2-1.1M198.9 101.1l-1.8-1.7M200.4 100.7l-1.8-1.7M204.4 102.7l-2.4-2.4M126.1 123.6l-2.5 9.2M205.9 102.4l-2.4-2.4M127.6 123.3l-2.5 9.3M207.4 102.2l-2.4-2.5M129.1 123.1l-2.5 9.5M211.4 104.6l-2.5-2.6M212.9 104.6l-2.5-2.7M214.4 104.5l-2.5-2.6M215.9 104.6l-2.5-2.7M221.4 107.6l-2.5-2.8M222.9 107.8l-2.5-2.9M224.4 108l-2.5-2.8M225.9 108.3l-2.5-2.9M227.4 108.6l-2.5-2.8M228.9 109l-2.5-2.9M230.4 109.4l-2.5-2.9M231.9 109.9l-2.5-2.9M165.2 140.3l-2.4 9.5M166.7 141.5l-2.4 9.6M251.5 118.8l-2.5-2.8M168.2 142.9l-2.4 9.4M253 119.7l-2.5-2.8M169.7 144.2l-2.4 9.4M254.5 120.6l-2.5-2.8M221.4 107.6l1.5 .2 1.5 .2 1.5 .3 1.5 .3 1.5 .4 1.5 .4 1.5 .5 1.5 .5M251.5 118.8l1.5 .9 1.5 .9M211.4 104.6l1.5 0 1.5-.1 1.5 .1 1.5 0M204.4 102.7l1.5-.3 1.5-.2 1.5-.2M197.4 101.7l1.5-.6 1.5-.4 1.6-.4M118.7 112.2l1.5-1.8 1.5-1.7M119.3 112l1.5-1.6M118.3 114.3l1.5-1.4M118.9 116.3l1.5-1.2M121 119l1.5-.8 1.5-.7M126.1 123.6l1.5-.3 1.5-.2 1.5 0M165.2 140.3l1.5 1.2 1.5 1.4 1.5 1.3 1.5 1.4"/>
<path stroke="#66cd6d" d="M122.7 107.6l-2.5 2.8M121.7 108.7l-2.4 3.3M120.8 110.4l-2.5 3.9M119.8 112.9l-2.4 4.6M121.4 111.6l-2.5 4.7M120.4 115.1l-2.4 5.7M121.9 114.1l-2.4 5.8M124 117.5l-2.5 7.3M125.5 116.9l-2.5 7.4M202 100.3l-2.5-2.4M203.5 100l-2.5-2.4M208.9 102l-2.4-2.5M130.6 123.1l-2.5 9.5M210.4 101.9l-2.4-2.6M132.1 123.1l-2.5 9.6M211.9 101.9l-2.4-2.6M133.6 123.2l-2.5 9.6M213.4 101.9l-2.4-2.7M135.1 123.3l-2.5 9.8M217.4 104.6l-2.5-2.7M136.6 123.6l-2.4 9.8M218.9 104.8l-2.4-2.8M220.4 104.9l-2.4-2.7M221.9 105.2l-2.4-2.8M223.4 105.4l-2.4-2.7M224.9 105.8l-2.4-2.8M226.4 106.1l-2.4-2.8M233.4 110.4l-2.4-2.9M234.9 110.9l-2.4-2.9M236.4 111.4l-2.4-2.8M237.9 112l-2.4-2.8M154.7 132l-2.5 9.9M239.4 112.7l-2.4-2.9M156.2 133.1l-2.5 9.9M240.9 113.3l-2.4-2.8M157.7 134.2l-2.5 9.8M242.4 114l-2.4-2.8M159.2 135.3l-2.5 9.8M243.9 114.8l-2.4-2.9M160.7 136.5l-2.5 9.8M245.5 115.5l-2.5-2.8M162.2 137.7l-2.4 9.7M247 116.3l-2.5-2.8M163.7 139l-2.4 9.6M248.5 117.1l-2.5-2.8M250 117.9l-2.5-2.8M233.4 110.4l1.5 .5 1.5 .5 1.5 .6 1.5 .7 1.5 .6 1.5 .7 1.5 .8 1.6 .7 1.5 .8 1.5 .8 1.5 .8 1.5 .9M217.4 104.6l1.5 .2 1.5 .1 1.5 .3 1.5 .2 1.5 .4 1.5 .3 1.5 .4M208.9 102l1.5-.1 1.5 0 1.5 0 1.5 0M202 100.3l1.5-.3 1.5-.3M122.7 107.6l.5-.5M121.7 108.7l1.5-1.6M120.8 110.4l1.5-1.4M119.8 112.9l1.6-1.3 1.5-1.2M120.4 115.1l1.5-1 1.5-1M124 117.5l1.5-.6 1.5-.5M130.6 123.1l1.5 0 1.5 .1 1.5 .1 1.5 .3 1.5 .3M154.7 132l1.5 1.1 1.5 1.1 1.5 1.1 1.5 1.2 1.5 1.2 1.5 1.3 1.5 1.3"/>
<path stroke="#7dcc5c" d="M124.2 105.9l-2.5 2.8M123.2 107.1l-2.4 3.3M122.3 109l-2.5 3.9M122.9 110.4l-2.5 4.7M123.4 113.1l-2.4 5.9M124.9 112.2l-2.4 6M127 116.4l-2.5 7.5M128.5 116l-2.4 7.6M201 97.6l-.6-.6M205 99.7l-2.5-2.4M206.5 99.5l-2.5-2.5M208 99.3l-2.5-2.4M209.5 99.3l-2.5-2.6M214.9 101.9l-2.4-2.6M216.5 102l-2.5-2.6M138.1 123.9l-2.4 9.9M218 102.2l-2.5-2.7M139.6 124.3l-2.4 9.9M219.5 102.4l-2.5-2.7M141.1 124.8l-2.4 9.9M221 102.7l-2.5-2.8M142.6 125.4l-2.4 9.9M144.1 126l-2.4 10M145.6 126.7l-2.4 10M227.9 106.5l-2.4-2.8M147.1 127.4l-2.4 10M229.4 107l-2.4-2.8M148.6 128.2l-2.4 10M231 107.5l-2.5-2.8M150.2 129.1l-2.5 10M232.5 108l-2.5-2.8M151.7 130l-2.5 10M234 108.6l-2.5-2.9M153.2 131l-2.5 9.9M235.5 109.2l-2.5-2.8M237 109.8l-2.5-2.8M238.5 110.5l-2.5-2.8M240 111.2l-2.5-2.8M241.5 111.9l-2.5-2.8M243 112.7l-2.4-2.8M244.5 113.5l-2.4-2.8M246 114.3l-2.4-2.7M247.5 115.1l-2.4-2.7M249 116l-2.4-2.7M170.7 134.9l-2.5 8M250.5 116.9l-2.4-2.7M172.2 136.3l-2.5 7.9M252 117.8l-2.4-2.6M173.7 137.7l-2.5 7.9M227.9 106.5l1.5 .5 1.6 .5 1.5 .5 1.5 .6 1.5 .6 1.5 .6 1.5 .7 1.5 .7 1.5 .7 1.5 .8 1.5 .8 1.5 .8 1.5 .8 1.5 .9 1.5 .9 1.5 .9M214.9 101.9l1.6 .1 1.5 .2 1.5 .2 1.5 .3 1.5 .3M205 99.7l1.5-.2 1.5-.2 1.5 0 1.5-.1M199.5 97.9l1.5-.3 1.5-.3M124.2 105.9l1.5-1.7M123.2 107.1l1.5-1.5M122.3 109l1.5-1.4M122.9 110.4l1.5-1.2M123.4 113.1l1.5-.9 1.5-.8M127 116.4l1.5-.4 1.5-.4M170.7 134.9l1.5 1.4 1.5 1.4M138.1 123.9l1.5 .4 1.5 .5 1.5 .6 1.5 .6 1.5 .7 1.5 .7 1.5 .8 1.6 .9 1.5 .9 1.5 1 1.5 1"/>
<path stroke="#94ca4a" d="M126 104.1l-1.8 1.8M128.1 101.7l-2.4 2.5-2.5 2.9M127.2 102.6l-2.5 3-2.4 3.4M126.2 104.1l-2.4 3.5-2.4 4M125.3 106.3l-2.4 4.1M124.4 109.2l-2.5 4.9M125.9 108.2l-2.5 4.9M126.4 111.4l-2.4 6.1M127.9 110.7l-2.4 6.2M130 115.6l-2.4 7.7M202.5 97.3l-.6-.6M131.5 115.4l-2.4 7.7M204 97l-1.2-1.2M133 115.2l-2.4 7.9M205.5 96.9l-1.2-1.2M134.5 115.1l-2.4 8M207 96.7l-1.8-1.8M211 99.2l-2.5-2.5M212.5 99.3l-2.4-2.6M214 99.4l-2.4-2.6M215.5 99.5l-2.4-2.6M217 99.7l-2.4-2.6M222.5 103l-2.5-2.8M224 103.3l-2.5-2.7M225.5 103.7l-2.5-2.7M227 104.2l-2.4-2.8M228.5 104.7l-2.4-2.8M230 105.2l-2.4-2.7M231.5 105.7l-2.4-2.7M233 106.4l-2.4-2.8M234.5 107l-2.4-2.7M236 107.7l-2.4-2.7M237.5 108.4l-2.4-2.7M239 109.1l-2.4-2.6M163.1 128.4l-2.4 8.1M240.6 109.9l-2.5-2.7M164.7 129.7l-2.5 8M242.1 110.7l-2.5-2.6M166.2 130.9l-2.5 8.1M243.6 111.6l-2.5-2.7M167.7 132.2l-2.5 8.1M245.1 112.4l-2.5-2.6M169.2 133.6l-2.5 7.9M246.6 113.3l-2.5-2.6M248.1 114.2l-2.5-2.5M249.6 115.2l-2.5-2.6M222.5 103l1.5 .3 1.5 .4 1.5 .5 1.5 .5 1.5 .5 1.5 .5 1.5 .7 1.5 .6 1.5 .7 1.5 .7 1.5 .7 1.6 .8 1.5 .8 1.5 .9 1.5 .8 1.5 .9 1.5 .9 1.5 1M211 99.2l1.5 .1 1.5 .1 1.5 .1 1.5 .2 1.5 .2M202.5 97.3l1.5-.3 1.5-.1 1.5-.2 1.5 0M125.7 104.2l1.5-1.6 1.5-1.5M124.7 105.6l1.5-1.5 1.6-1.3M123.8 107.6l1.5-1.3 1.5-1.3M124.4 109.2l1.5-1 1.5-1M126.4 111.4l1.5-.7 1.5-.6M130 115.6l1.5-.2 1.5-.2 1.5-.1 1.5 .1M163.1 128.4l1.6 1.3 1.5 1.2 1.5 1.3 1.5 1.4 1.5 1.3"/>
<path stroke="#aac73a" d="M129.6 100.1l-2.4 2.5M128.7 101.1l-2.5 3M127.8 102.8l-2.5 3.5M126.8 105l-2.4 4.2M128.3 103.9l-2.4 4.3M127.4 107.2l-2.5 5M128.9 106.3l-2.5 5.1M129.4 110.1l-2.4 6.3M131 109.6l-2.5 6.4M136 115.2l-2.4 8M208.5 96.7l-1.8-1.8M137.5 115.3l-2.4 8M210.1 96.7l-2.5-2.5M139 115.5l-2.4 8.1M211.6 96.8l-2.5-2.5M140.6 115.8l-2.5 8.1M213.1 96.9l-2.5-2.5M142.1 116.1l-2.5 8.2M143.6 116.6l-2.5 8.2M218.5 99.9l-2.4-2.6M145.1 117.1l-2.5 8.3M220 100.2l-2.4-2.6M146.6 117.7l-2.5 8.3M221.5 100.6l-2.4-2.6M148.1 118.4l-2.5 8.3M223 101l-2.4-2.6M149.6 119.2l-2.5 8.2M224.6 101.4l-2.5-2.6M151.1 120l-2.5 8.2M226.1 101.9l-2.5-2.6M152.6 120.8l-2.4 8.3M227.6 102.5l-2.5-2.7M154.1 121.8l-2.4 8.2M229.1 103l-2.5-2.6M155.6 122.8l-2.4 8.2M230.6 103.6l-2.5-2.6M157.1 123.8l-2.4 8.2M232.1 104.3l-2.5-2.6M158.6 124.9l-2.4 8.2M233.6 105l-2.5-2.6M160.1 126l-2.4 8.2M235.1 105.7l-2.5-2.6M161.6 127.2l-2.4 8.1M236.6 106.5l-2.4-2.6M238.1 107.2l-2.4-2.5M239.6 108.1l-2.4-2.6M241.1 108.9l-2.4-2.5M242.6 109.8l-2.4-2.5M244.1 110.7l-2.4-2.5M173.1 128.2l-2.4 6.7M245.6 111.7l-2.4-2.5M174.6 129.6l-2.4 6.7M247.1 112.6l-2.4-2.4M176.1 131.1l-2.4 6.6M218.5 99.9l1.5 .3 1.5 .4 1.5 .4 1.6 .4 1.5 .5 1.5 .6 1.5 .5 1.5 .6 1.5 .7 1.5 .7 1.5 .7 1.5 .8 1.5 .7 1.5 .9 1.5 .8 1.5 .9 1.5 .9 1.5 1 1.5 .9M208.5 96.7l1.6 0 1.5 .1 1.5 .1 1.5 .2M129.6 100.1l1.5-1.5M128.7 101.1l1.5-1.4M127.8 102.8l1.5-1.3M126.8 105l1.5-1.1 1.5-1M127.4 107.2l1.5-.9 1.5-.8M129.4 110.1l1.6-.5 1.5-.4M173.1 128.2l1.5 1.4 1.5 1.5M136 115.2l1.5 .1 1.5 .2 1.6 .3 1.5 .3 1.5 .5 1.5 .5 1.5 .6 1.5 .7 1.5 .8 1.5 .8 1.5 .8 1.5 1 1.5 1 1.5 1 1.5 1.1 1.5 1.1 1.5 1.2 1.5 1.2"/>
<path stroke="#bfc32e" d="M130.2 99.6l-.6 .5M133 96.9l-1.9 1.7-2.4 2.5M130.2 99.7l-2.4 3.1M129.3 101.5l-2.5 3.5M130.8 100.3l-2.5 3.6M129.8 102.9l-2.4 4.3M130.4 105.5l-2.5 5.2M131.9 104.8l-2.5 5.3M132.5 109.2l-2.5 6.4M134 108.9l-2.5 6.5M135.5 108.6l-2.5 6.6M137 108.5l-2.5 6.6M209.1 94.3l-.6-.6M210.6 94.4l-.6-.6M214.6 97.1l-2.5-2.5M216.1 97.3l-2.5-2.5M217.6 97.6l-2.5-2.5M219.1 98l-2.5-2.6M220.6 98.4l-2.5-2.6M222.1 98.8l-2.4-2.5M223.6 99.3l-2.4-2.5M225.1 99.8l-2.4-2.5M226.6 100.4l-2.4-2.5M228.1 101l-2.4-2.5M229.6 101.7l-2.4-2.5M231.1 102.4l-2.4-2.5M232.6 103.1l-2.4-2.4M234.2 103.9l-2.5-2.5M235.7 104.7l-2.5-2.4M167.1 122.8l-2.4 6.9M237.2 105.5l-2.5-2.4M168.6 124.1l-2.4 6.8M238.7 106.4l-2.5-2.4M170.1 125.4l-2.4 6.8M240.2 107.3l-2.5-2.4M171.6 126.8l-2.4 6.8M241.7 108.2l-2.5-2.3M243.2 109.2l-2.5-2.3M244.7 110.2l-2.5-2.3M214.6 97.1l1.5 .2 1.5 .3 1.5 .4 1.5 .4 1.5 .4 1.5 .5 1.5 .5 1.5 .6 1.5 .6 1.5 .7 1.5 .7 1.5 .7 1.6 .8 1.5 .8 1.5 .8 1.5 .9 1.5 .9 1.5 .9 1.5 1 1.5 1M207.6 94.2l1.5 .1 1.5 .1 1.5 .2M131.1 98.6l1.5-1.5M130.2 99.7l1.5-1.3M129.3 101.5l1.5-1.2 1.5-1.1M129.8 102.9l1.5-1M130.4 105.5l1.5-.7 1.5-.5M132.5 109.2l1.5-.3 1.5-.3 1.5-.1 1.5 0M167.1 122.8l1.5 1.3 1.5 1.3 1.5 1.4 1.5 1.4"/>
<path stroke="#d2bf27" d="M135.1 94.9l-2.5 2.2-2.4 2.6M134.2 95.7l-2.5 2.7-2.4 3.1M133.2 97.2l-2.4 3.1M132.3 99.2l-2.5 3.7M131.3 101.9l-2.4 4.4M132.8 101.1l-2.4 4.4M133.4 104.3l-2.4 5.3M134.9 103.8l-2.4 5.4M138.5 108.5l-2.5 6.7M140 108.5l-2.5 6.8M141.5 108.7l-2.5 6.8M143 109l-2.4 6.8M144.5 109.3l-2.4 6.8M212.1 94.6l-1.2-1.2M213.6 94.8l-1.2-1.2M215.1 95.1l-1.2-1.2M216.6 95.4l-1.8-1.8M218.1 95.8l-2.4-2.4M219.7 96.3l-2.5-2.4M221.2 96.8l-2.5-2.4M155.1 113.9l-2.5 6.9M222.7 97.3l-2.5-2.4M156.6 114.8l-2.5 7M224.2 97.9l-2.5-2.4M158.1 115.8l-2.5 7M225.7 98.5l-2.5-2.4M159.6 116.9l-2.5 6.9M227.2 99.2l-2.5-2.4M161.1 118l-2.5 6.9M228.7 99.9l-2.5-2.4M162.6 119.1l-2.5 6.9M230.2 100.7l-2.5-2.4M164.1 120.3l-2.5 6.9M231.7 101.4l-2.4-2.3M165.6 121.5l-2.5 6.9M233.2 102.3l-2.4-2.3M234.7 103.1l-2.4-2.3M236.2 104l-2.4-2.3M237.7 104.9l-2.4-2.2M174.1 121l-2.5 5.8M239.2 105.9l-2.4-2.2M175.6 122.4l-2.5 5.8M240.7 106.9l-2.4-2.2M177.1 123.9l-2.5 5.7M242.2 107.9l-2.4-2.2M178.6 125.3l-2.5 5.8M212.1 94.6l1.5 .2 1.5 .3 1.5 .3 1.5 .4 1.6 .5 1.5 .5 1.5 .5 1.5 .6 1.5 .6 1.5 .7 1.5 .7 1.5 .8 1.5 .7 1.5 .9 1.5 .8 1.5 .9 1.5 .9 1.5 1 1.5 1 1.5 1M135.1 94.9l1.5-1.4M132.6 97.1l1.6-1.4 1.5-1.2M131.7 98.4l1.5-1.2 1.5-1.2M132.3 99.2l1.5-1M131.3 101.9l1.5-.8 1.5-.8M133.4 104.3l1.5-.5 1.5-.4M174.1 121l1.5 1.4 1.5 1.5 1.5 1.4M138.5 108.5l1.5 0 1.5 .2 1.5 .3 1.5 .3 1.5 .4M155.1 113.9l1.5 .9 1.5 1 1.5 1.1 1.5 1.1 1.5 1.1 1.5 1.2 1.5 1.2 1.5 1.3"/>
<path stroke="#e2bc2b" d="M137.8 92.5l-1.2 1-2.4 2.2M135.7 94.5l-2.5 2.7M134.7 96l-2.4 3.2M133.8 98.2l-2.5 3.7M135.3 97.3l-2.5 3.8M134.3 100.3l-2.4 4.5M135.8 99.7l-2.4 4.6M136.4 103.4l-2.4 5.5M137.9 103.1l-2.4 5.5M139.4 102.9l-2.4 5.6M140.9 102.9l-2.4 5.6M146 109.7l-2.4 6.9M147.5 110.2l-2.4 6.9M149 110.8l-2.4 6.9M150.5 111.5l-2.4 6.9M152 112.2l-2.4 7M153.5 113l-2.4 7M218.7 94.4l-.6-.6M220.2 94.9l-.6-.5M221.7 95.5l-1.2-1.1M223.2 96.1l-1.2-1.1M224.7 96.8l-1.8-1.6M226.2 97.5l-1.8-1.6M227.7 98.3l-2.4-2.2M229.3 99.1l-2.5-2.2M168 115.7l-2.4 5.8M230.8 100l-2.5-2.2M169.6 116.9l-2.5 5.9M232.3 100.8l-2.5-2.1M171.1 118.3l-2.5 5.8M233.8 101.7l-2.5-2.1M172.6 119.6l-2.5 5.8M235.3 102.7l-2.5-2.1M236.8 103.7l-2.5-2.1M238.3 104.7l-2.5-2.1M179.5 118.8l-2.4 5.1M239.8 105.7l-2.4-2M181 120.3l-2.4 5M216.5 93.7l.7 .2 1.5 .5 1.5 .5 1.5 .6 1.5 .6 1.5 .7 1.5 .7 1.5 .8 1.6 .8 1.5 .9 1.5 .8 1.5 .9 1.5 1 1.5 1 1.5 1 1.5 1M136.6 93.5l1.5-1.3M135.7 94.5l1.5-1.2M134.7 96l1.5-1M133.8 98.2l1.5-.9 1.5-.8M134.3 100.3l1.5-.6 1.6-.5M179.5 118.8l1.5 1.5M136.4 103.4l1.5-.3 1.5-.2 1.5 0 1.5 0M168 115.7l1.6 1.2 1.5 1.4 1.5 1.3 1.5 1.4M146 109.7l1.5 .5 1.5 .6 1.5 .7 1.5 .7 1.5 .8 1.6 .9"/>
<path stroke="#f1ba37" d="M140.6 90.2l-2.5 2-2.4 2.3M139.6 90.9l-2.4 2.4-2.5 2.7M138.7 92.2l-2.5 2.8-2.4 3.2M137.7 94l-2.4 3.3M136.8 96.5l-2.5 3.8M138.3 95.8l-2.5 3.9M137.4 99.2l-2.5 4.6M138.9 98.7l-2.5 4.7M140.4 98.4l-2.5 4.7M142.4 102.9l-2.4 5.6M143.9 103l-2.4 5.7M145.5 103.2l-2.5 5.8M147 103.5l-2.5 5.8M148.5 103.9l-2.5 5.8M150 104.4l-2.5 5.8M151.5 105l-2.5 5.8M153 105.6l-2.5 5.9M154.5 106.3l-2.5 5.9M156 107.1l-2.5 5.9M157.5 108l-2.4 5.9M159 108.9l-2.4 5.9M160.5 109.9l-2.4 5.9M162 111l-2.4 5.9M163.5 112.1l-2.4 5.9M165 113.2l-2.4 5.9M166.5 114.4l-2.4 5.9M228.3 97.8l-.6-.5M229.8 98.7l-.6-.5M173.5 113.2l-2.4 5.1M231.3 99.6l-1.2-1M175 114.6l-2.4 5M232.8 100.6l-1.2-1M176.5 116l-2.4 5M234.3 101.6l-1.8-1.5M178 117.4l-2.4 5M235.8 102.6l-2.4-1.9M237.4 103.7l-2.5-1.9M183.5 115.9l-2.5 4.4M226.8 96.9l1.5 .9 1.5 .9 1.5 .9 1.5 1 1.5 1 1.5 1 1.6 1.1M138.1 92.2l1.5-1.3 1.5-1.1M137.2 93.3l1.5-1.1 1.5-1M136.2 95l1.5-1 1.5-.8M136.8 96.5l1.5-.7 1.5-.6M137.4 99.2l1.5-.5 1.5-.3 1.5-.2M173.5 113.2l1.5 1.4 1.5 1.4 1.5 1.4 1.5 1.4M142.4 102.9l1.5 .1 1.6 .2 1.5 .3 1.5 .4 1.5 .5 1.5 .6 1.5 .6 1.5 .7 1.5 .8 1.5 .9 1.5 .9 1.5 1 1.5 1.1 1.5 1.1 1.5 1.1 1.5 1.2 1.5 1.3"/>
<path stroke="#fcbd3d" d="M144.5 87.3l-2.4 1.7-2.5 1.9M143.6 87.8l-2.5 2-2.4 2.4M142.6 88.8l-2.4 2.4-2.5 2.8M141.7 90.4l-2.5 2.8-2.4 3.3M140.7 92.5l-2.4 3.3M139.8 95.2l-2.4 4M141.3 94.8l-2.4 3.9M142.8 94.4l-2.4 4M141.9 98.2l-2.5 4.7M143.4 98.1l-2.5 4.8M144.9 98.1l-2.5 4.8M146.4 98.1l-2.5 4.9M147.9 98.3l-2.4 4.9M164.5 105.9l-2.5 5.1M166 107l-2.5 5.1M167.5 108.2l-2.5 5M169 109.4l-2.5 5M170.5 110.6l-2.5 5.1M172 111.9l-2.4 5M227 96.3l-.6-.5M177.5 110.2l-2.5 4.4M229.8 98.2l-1.9-1.4M179 111.6l-2.5 4.4M231.9 99.6l-2.5-1.7M180.5 113l-2.5 4.4M233.4 100.7l-2.5-1.7M182 114.5l-2.5 4.3M234.9 101.8l-2.4-1.7-2.5-1.6M231.9 99.6l1.5 1.1 1.5 1.1M142.1 89l1.5-1.2 1.5-1M141.1 89.8l1.5-1 1.5-.9M140.2 91.2l1.5-.8 1.5-.8M139.2 93.2l1.5-.7 1.6-.7M139.8 95.2l1.5-.4 1.5-.4 1.5-.3M177.5 110.2l1.5 1.4 1.5 1.4 1.5 1.5 1.5 1.4M141.9 98.2l1.5-.1 1.5 0 1.5 0 1.5 .2 1.5 .3M164.5 105.9l1.5 1.1 1.5 1.2 1.5 1.2 1.5 1.2 1.5 1.3 1.5 1.3"/>
<path stroke="#fec537" d="M147.7 85.2l-1.7 1-2.4 1.6M147.5 85.1l-2.4 1.7-2.5 2M146.6 85.9l-2.5 2-2.4 2.5M145.6 87.2l-2.4 2.4-2.5 2.9M144.7 89l-2.4 2.8-2.5 3.4M143.8 91.3l-2.5 3.5M145.3 90.9l-2.5 3.5M144.3 94.1l-2.4 4.1M145.8 94l-2.4 4.1M147.3 93.9l-2.4 4.2M148.8 94l-2.4 4.1M149.4 98.6l-2.4 4.9M150.9 99l-2.4 4.9M152.4 99.4l-2.4 5M153.9 100l-2.4 5M155.4 100.6l-2.4 5M156.9 101.3l-2.4 5M158.4 102.1l-2.4 5M159.9 103l-2.4 5M161.5 103.9l-2.5 5M163 104.9l-2.5 5M169.9 103.8l-2.4 4.4M171.4 105l-2.4 4.4M172.9 106.2l-2.4 4.4M222.6 93.4l-1.6-1.1M174.4 107.5l-2.4 4.4M224.9 94.9l-2.4-1.7M176 108.8l-2.5 4.4M226.4 95.8l-2.4-1.6M227.9 96.8l-2.4-1.6M181.4 107.7l-2.4 3.9M229.4 97.9l-2.4-1.6-2.5-1.4M182.9 109.1l-2.4 3.9M230.9 99l-2.4-1.6-2.5-1.4M184.4 110.6l-2.4 3.9M230 98.5l-2.4-1.3M188.4 108.7l-2.5 3.4-2.4 3.8M224.9 94.9l.8 .5M226.4 95.8l1.5 1 1.5 1.1 1.5 1.1 1.6 1.1M227 96.3l1.5 1.1 1.5 1.1M146 86.2l1.5-1.1 1.5-.9M145.1 86.8l1.5-.9 1.5-.8M144.1 87.9l1.5-.7 1.5-.7M143.2 89.6l1.5-.6 1.5-.6M142.3 91.8l1.5-.5 1.5-.4 1.5-.3M181.4 107.7l1.5 1.4 1.5 1.5 1.5 1.5M144.3 94.1l1.5-.1 1.5-.1 1.5 .1 1.5 .1M169.9 103.8l1.5 1.2 1.5 1.2 1.5 1.3 1.6 1.3 1.5 1.4M149.4 98.6l1.5 .4 1.5 .4 1.5 .6 1.5 .6 1.5 .7 1.5 .8 1.5 .9 1.6 .9 1.5 1 1.5 1"/>
<path stroke="#fccf30" d="M150 83.7l-2.5 1.4M153.1 82.1l-1.6 .7-2.5 1.4-2.4 1.7M150.5 83.4l-2.4 1.7-2.5 2.1M149.6 84.4l-2.5 2.1-2.4 2.5M148.7 85.9l-2.5 2.5-2.4 2.9M147.7 88l-2.4 2.9M149.2 87.7l-2.4 2.9-2.5 3.5M148.3 90.5l-2.5 3.5M149.8 90.4l-2.5 3.5M151.3 90.4l-2.5 3.6M150.3 94.1l-2.4 4.2M151.9 94.4l-2.5 4.2M153.4 94.7l-2.5 4.3M154.9 95.2l-2.5 4.2M156.4 95.7l-2.5 4.3M157.9 96.3l-2.5 4.3M159.4 97l-2.5 4.3M160.9 97.8l-2.5 4.3M162.4 98.6l-2.5 4.4M163.9 99.5l-2.4 4.4M165.4 100.5l-2.4 4.4M166.9 101.5l-2.4 4.4M168.4 102.6l-2.4 4.4M215.6 89.1l-1.6-1M218 90.5l-2.5-1.6M173.9 101.1l-2.5 3.9M219.5 91.3l-2.5-1.5M175.4 102.4l-2.5 3.8M221 92.3l-2.5-1.5M176.9 103.6l-2.5 3.9M222.5 93.2l-2.5-1.5-2.4-1.2M178.4 105l-2.4 3.8M224 94.2l-2.5-1.4-2.4-1.3M179.9 106.3l-2.4 3.9M225.5 95.2l-2.5-1.4-2.4-1.2M183.9 104.3l-2.5 3.4M224.5 94.9l-2.4-1.2M185.4 105.7l-2.5 3.4M226 96l-2.4-1.2M186.9 107.2l-2.5 3.4M227.6 97.2l-2.5-1.2-2.4-.9M190.8 105.7l-2.4 3M218.7 90.9l.8 .4M221 92.3l1.5 .9 1.5 1 1.5 1 1.5 1.1M220 91.7l1.5 1.1 1.5 1 1.5 1.1 1.5 1.1 1.6 1.2M151.5 82.8l1.5-.8M149 84.2l1.5-.8 1.5-.7M148.1 85.1l1.5-.7 1.5-.6M147.1 86.5l1.6-.6 1.5-.4M146.2 88.4l1.5-.4 1.5-.3 1.5-.2M183.9 104.3l1.5 1.4 1.5 1.5 1.5 1.5M146.8 90.6l1.5-.1 1.5-.1 1.5 0 1.5 .1M173.9 101.1l1.5 1.3 1.5 1.2 1.5 1.4 1.5 1.3 1.5 1.4M150.3 94.1l1.6 .3 1.5 .3 1.5 .5 1.5 .5 1.5 .6 1.5 .7 1.5 .8 1.5 .8 1.5 .9 1.5 1 1.5 1 1.5 1.1 1.5 1.2"/>
<path stroke="#f8d92c" d="M155.4 80.9l-2.4 1.1-2.5 1.4M158.6 79.6l-1.7 .5-2.4 1.1-2.5 1.5-2.4 1.7M153.6 82.1l-2.5 1.7-2.4 2.1M152.6 83.3l-2.4 2.2-2.5 2.5M151.7 85.1l-2.5 2.6M153.2 84.9l-2.5 2.6-2.4 3M152.2 87.4l-2.4 3M153.7 87.4l-2.4 3M152.8 90.5l-2.5 3.6M154.3 90.8l-2.4 3.6M155.8 91.1l-2.4 3.6M157.3 91.5l-2.4 3.7M158.8 92l-2.4 3.7M160.3 92.6l-2.4 3.7M161.8 93.3l-2.4 3.7M163.3 94l-2.4 3.8M164.8 94.9l-2.4 3.7M166.4 95.8l-2.5 3.7M167.9 96.7l-2.5 3.8M210.2 86.1l-1.7-1M169.4 97.7l-2.5 3.8M212.5 87.3l-2.5-1.4M170.9 98.8l-2.5 3.8M214 88.1l-2.4-1.4-2.5-1.1M174.8 96.6l-2.4 3.3-2.5 3.9M215.5 88.9l-2.4-1.3-2.5-1.1M176.3 97.8l-2.4 3.3M217 89.8l-2.4-1.3-2.5-1.1M177.8 99l-2.4 3.4M218.5 90.8l-2.4-1.3-2.5-1.1M179.3 100.3l-2.4 3.3M217.6 90.5l-2.5-1.1M180.8 101.6l-2.4 3.4M219.1 91.5l-2.5-1M184.8 100l-2.4 2.9-2.5 3.4M220.6 92.6l-2.5-1-2.4-.8M186.3 101.4l-2.4 2.9M222.1 93.7l-2.5-1-2.4-.8M190.3 100.2l-2.5 2.6-2.4 2.9M223.6 94.8l-2.4-.9-2.5-.8M191.8 101.6l-2.5 2.6-2.4 3M222.7 95.1l-2.5-.8-2.4-.5M193.3 103.1l-2.5 2.6M214 88.1l1.5 .8 1.5 .9 1.5 1 1.5 .9M211.6 86.7l1.5 .9 1.5 .9 1.5 1 1.5 1 1.5 1 1.5 1.1 1.5 1.1 1.5 1.1 1.5 1.2M218.1 91.6l1.5 1.1 1.6 1.2 1.5 1.2M156.2 80.5l.7-.4 1.5-.6M153 82l1.5-.8 1.5-.6M152 82.7l1.6-.6 1.5-.5M151.1 83.8l1.5-.5 1.5-.3M190.3 100.2l1.5 1.4 1.5 1.5M150.2 85.5l1.5-.4 1.5-.2 1.5-.1M184.8 100l1.5 1.4 1.5 1.4 1.5 1.4 1.5 1.5M150.7 87.5l1.5-.1 1.5 0 1.5 .1M174.8 96.6l1.5 1.2 1.5 1.2 1.5 1.3 1.5 1.3 1.6 1.3 1.5 1.4M152.8 90.5l1.5 .3 1.5 .3 1.5 .4 1.5 .5 1.5 .6 1.5 .7 1.5 .7 1.5 .9 1.6 .9 1.5 .9 1.5 1 1.5 1.1 1.5 1.1 1.5 1.2"/>
<path stroke="#f5e327" d="M160.9 78.7l-2.5 .8-2.4 1.1-2.4 1.5M164.9 77.6l-2.5 .5-2.4 .9-2.5 1.1-2.4 1.5-2.5 1.7M167.2 77.1l-.8 .1M161.5 78.6l-2.5 1.1-2.4 1.5-2.5 1.8-2.4 2.1M158.1 80.9l-2.5 1.8-2.4 2.2M157.1 82.6l-2.4 2.2-2.5 2.6M156.2 84.7l-2.5 2.7M157.7 84.8l-2.5 2.7-2.4 3M159.2 85l-2.4 2.7-2.5 3.1M158.3 88l-2.5 3.1M159.8 88.4l-2.5 3.1M191.5 78.5l-.9-.3M161.3 88.9l-2.5 3.1M162.8 89.4l-2.5 3.2M164.3 90.1l-2.5 3.2M200.1 81.4l-2.5-1.1M165.8 90.8l-2.5 3.2M201.6 81.9l-2.5-1M167.3 91.6l-2.5 3.3M203.1 82.5l-2.5-1M168.8 92.5l-2.4 3.3M207 84.4l-2.4-1.2-2.5-1M170.3 93.4l-2.4 3.3M208.5 85.1l-2.4-1.1-2.5-1M174.3 91.6l-2.5 2.8-2.4 3.3M210 85.9l-2.4-1.2-2.5-.9M175.8 92.6l-2.5 2.9-2.4 3.3M209.1 85.6l-2.4-1M177.3 93.7l-2.5 2.9M210.6 86.5l-2.4-1M178.8 94.9l-2.5 2.9M212.1 87.4l-2.4-.9-2.5-.7M180.3 96.1l-2.5 2.9M213.6 88.4l-2.4-.9-2.5-.7M184.2 94.8l-2.4 2.6-2.5 2.9M215.1 89.4l-2.4-.9-2.5-.6M185.7 96.1l-2.4 2.6-2.5 2.9M216.6 90.5l-2.4-.9-2.5-.6M189.7 95.2l-2.4 2.2-2.5 2.6M215.7 90.8l-2.5-.6-2.4-.4M191.2 96.6l-2.4 2.2-2.5 2.6M217.2 91.9l-2.4-.5-2.5-.4M195.2 96.1l-2.5 1.9-2.4 2.2M218.7 93.1l-2.4-.5-2.5-.3-2.4-.1M196.7 97.5l-2.5 1.9-2.4 2.2M217.8 93.8l-2.5-.2-2.4-.1-2.5 .2M203.1 96l-2.5 1.3-2.4 1.6-2.5 1.9-2.4 2.3M207 84.4l1.5 .7 1.5 .8 1.6 .8M201.6 81.9l.7 .3M203.1 82.5l1.5 .7 1.5 .8 1.5 .7 1.5 .9 1.5 .9 1.5 .9 1.5 1 1.5 1 1.5 1.1 1.5 1.1M209.7 86.5l1.5 1 1.5 1 1.5 1.1 1.5 1.2 1.5 1.1 1.5 1.2 1.5 1.2M213.2 90.2l1.6 1.2 1.5 1.2 1.5 1.2M213.8 92.3l1.5 1.3M164.9 77.6l.7-.2M160.9 78.7l1.5-.6 1.5-.4M158.4 79.5l1.6-.5 1.5-.4 1.5-.3M156 80.6l1.5-.5 1.5-.4 1.5-.3M195.2 96.1l1.5 1.4 1.5 1.4M155.1 81.6l1.5-.4 1.5-.3 1.5-.1M189.7 95.2l1.5 1.4 1.5 1.4 1.5 1.4 1.5 1.4M154.1 83l1.5-.3 1.5-.1 1.5-.1M184.2 94.8l1.5 1.3 1.6 1.3 1.5 1.4 1.5 1.4M154.7 84.8l1.5-.1 1.5 .1 1.5 .2 1.5 .3M174.3 91.6l1.5 1 1.5 1.1 1.5 1.2 1.5 1.2 1.5 1.3 1.5 1.3 1.5 1.3M155.2 87.5l1.6 .2 1.5 .3 1.5 .4 1.5 .5 1.5 .5 1.5 .7 1.5 .7 1.5 .8 1.5 .9 1.5 .9 1.5 1 1.5 1.1 1.5 1.1"/>
<path stroke="#f5ed22" d="M166.4 77.2l-2.5 .5-2.4 .9M170.3 76.6l-2.4 .3-2.5 .5-2.4 .9-2.5 1.1-2.4 1.5M174.3 76.3l-2.5 0-2.4 .4-2.5 .5-2.4 .9-2.5 1.2-2.4 1.5-2.5 1.8M176.6 76.2l-.8 0-2.5 0-2.4 .4-2.5 .5-2.4 .9-2.5 1.2-2.4 1.5-2.5 1.8-2.4 2.2M179.7 76.4l-2.4-.2-2.5 0M165 79.2l-2.4 1.5-2.5 1.9-2.4 2.2M182.1 76.6l-.9-.2-2.4-.2M164.1 80.9l-2.5 1.9-2.4 2.2M186 77.2l-.8-.2-2.5-.4-2.4-.2M165.6 81.1l-2.4 1.9-2.5 2.3-2.4 2.7M188.3 77.7l-1.6-.5-2.5-.4M164.7 83.4l-2.5 2.3-2.4 2.7M190.6 78.2l-2.4-.7-2.4-.4M166.2 83.8l-2.5 2.3-2.4 2.8M194.6 79.4l-2.4-.9-2.5-.6-2.4-.4M167.7 84.4l-2.5 2.3-2.4 2.7M196.1 79.8l-2.4-.8-2.5-.6M169.2 85l-2.5 2.3-2.4 2.8M197.6 80.3l-2.4-.8-2.5-.6M170.7 85.7l-2.5 2.3-2.4 2.8M199.1 80.9l-2.4-.8-2.5-.6M172.2 86.4l-2.5 2.4-2.4 2.8M200.6 81.5l-2.4-.8-2.5-.5M173.7 87.3l-2.5 2.4-2.4 2.8M202.1 82.2l-2.4-.7-2.5-.6M175.2 88.2l-2.4 2.4-2.5 2.8M203.6 83l-2.4-.8-2.5-.5M176.7 89.2l-2.4 2.4M205.1 83.8l-2.4-.8-2.4-.5M180.7 88.1l-2.5 2.1-2.4 2.4M206.7 84.6l-2.5-.7-2.4-.5M182.2 89.2l-2.5 2.1-2.4 2.4M208.2 85.5l-2.5-.7-2.4-.4-2.5-.2M183.7 90.3l-2.5 2.1-2.4 2.5M207.2 85.8l-2.4-.4-2.5-.2M187.6 89.7l-2.4 1.8-2.5 2.1-2.4 2.5M208.7 86.8l-2.4-.4-2.5-.1-2.4 0M189.1 90.9l-2.4 1.8-2.5 2.1M210.2 87.9l-2.4-.4-2.5-.1-2.4 .1M193.1 90.6l-2.5 1.5-2.4 1.8-2.5 2.2M211.7 89l-2.4-.4-2.5-.1-2.4 .1-2.5 .4-2.4 .7-2.5 .9-2.4 1.2-2.4 1.6-2.5 1.8M210.8 89.8l-2.5-.1-2.4 .2-2.5 .4-2.4 .6-2.4 1-2.5 1.3-2.4 1.5-2.5 1.9M212.3 91l-2.4-.1-2.5 .2-2.4 .4-2.5 .7-2.4 1-2.5 1.3-2.4 1.6M211.4 92.2l-2.5 .2-2.4 .5-2.5 .7-2.4 1-2.5 1.3-2.4 1.6M210.4 93.7l-2.4 .5-2.5 .8-2.4 1M194.6 79.4l1.5 .4 1.5 .5 1.5 .6 1.5 .6 1.5 .7 1.5 .8 1.5 .8 1.6 .8 1.5 .9 1.5 1M189.9 78l.7 .2 1.6 .3 1.5 .5 1.5 .5 1.5 .6 1.5 .6 1.5 .8 1.5 .7 1.5 .8 1.5 .9 1.5 .9 1.5 1 1.5 1 1.5 1.1 1.5 1.1 1.5 1.2M185.2 77l1.5 .2 1.5 .3 1.5 .4 1.5 .5M203.3 84.4l1.5 1 1.5 1 1.5 1.1 1.5 1.1 1.5 1.2 1.5 1.2 1.5 1.3M179.7 76.4l.8 0M181.2 76.4l1.5 .2 1.5 .2M203.8 86.3l1.5 1.1 1.5 1.1 1.5 1.2 1.6 1.2 1.5 1.3 1.5 1.3M175.8 76.2l1.5 0 1.5 0M204.4 88.6l1.5 1.3 1.5 1.2 1.5 1.3 1.5 1.3M170.3 76.6l1.5-.3 1.5-.1 1.5 0M201.9 89l1.5 1.3 1.6 1.2 1.5 1.4 1.5 1.3M166.4 77.2l1.5-.3 1.5-.2 1.5-.1 1.5 0M199.5 89.7l1.5 1.2 1.5 1.3 1.5 1.4 1.5 1.4M163.9 77.7l1.5-.3 1.5-.2 1.5-.1 1.5 .1M197 90.6l1.6 1.3 1.5 1.3 1.5 1.4 1.5 1.4M163 78.3l1.5-.2 1.5-.1 1.5 0M193.1 90.6l1.5 1.2 1.5 1.4 1.5 1.3 1.5 1.4 1.5 1.4M160.5 79.4l1.5-.1 1.5-.1 1.5 0 1.5 .2M187.6 89.7l1.5 1.2 1.5 1.2 1.6 1.3 1.5 1.3 1.5 1.4M159.6 80.8l1.5-.1 1.5 0 1.5 .2 1.5 .2 1.5 .4M180.7 88.1l1.5 1.1 1.5 1.1 1.5 1.2 1.5 1.2 1.5 1.2 1.5 1.3M158.6 82.5l1.5 .1 1.5 .2 1.6 .2 1.5 .4 1.5 .4 1.5 .6 1.5 .6 1.5 .7 1.5 .7 1.5 .9 1.5 .9 1.5 1 1.5 1 1.5 1.1 1.5 1.1 1.5 1.2 1.5 1.2M160.7 85.3l1.5 .4 1.5 .4 1.5 .6 1.5 .6 1.5 .7 1.5 .8 1.5 .9 1.6 .9 1.5 1"/>
<path stroke="#f8f61a" d="M174.8 76.2l-2.4 .4-2.5 .6-2.4 .8-2.5 1.2M178.8 76.2l-2.5 .1-2.4 .3-2.5 .7-2.4 .9-2.5 1.2-2.4 1.5M180.3 76.4l-2.5 .1-2.4 .3-2.5 .7-2.4 .9-2.5 1.2-2.4 1.5M184.2 76.8l-2.4-.2-2.4 .1-2.5 .4-2.4 .6-2.5 1-2.4 1.2-2.5 1.6-2.4 1.9M185.8 77.1l-2.5-.1-2.4 .1-2.5 .4-2.4 .6-2.5 1-2.4 1.2-2.5 1.6-2.4 1.9M187.3 77.5l-2.5-.1-2.4 .1-2.5 .4-2.4 .7-2.5 .9-2.4 1.3-2.5 1.6-2.4 2M191.2 78.4l-2.4-.4-2.5-.1-2.4 .1-2.5 .4-2.4 .7-2.5 1-2.4 1.3-2.5 1.6-2.4 2M192.7 78.9l-2.4-.3-2.5-.2-2.4 .2-2.5 .4-2.4 .7-2.5 1-2.4 1.3-2.5 1.7-2.4 2M194.2 79.5l-2.4-.3-2.5-.1-2.4 .2-2.5 .4-2.4 .7-2.5 1-2.4 1.4-2.5 1.6-2.4 2M195.7 80.2l-2.4-.3-2.5-.1-2.4 .2-2.5 .4-2.4 .8-2.5 1-2.4 1.4-2.5 1.7-2.4 2M197.2 80.9l-2.4-.3-2.5-.1-2.4 .3-2.5 .4-2.4 .8-2.5 1.1-2.4 1.3-2.4 1.7-2.5 2.1M198.7 81.7l-2.4-.3-2.5 0-2.4 .2-2.4 .5-2.5 .8-2.4 1.1-2.5 1.4-2.4 1.7-2.5 2.1M200.3 82.5l-2.5-.2-2.4 0-2.5 .2-2.4 .5-2.5 .8-2.4 1.1-2.5 1.5-2.4 1.7M201.8 83.4l-2.5-.2-2.4 0-2.5 .3-2.4 .5-2.5 .8-2.4 1.2-2.5 1.4-2.4 1.8M200.8 84.2l-2.4 0-2.5 .3-2.4 .6-2.5 .8-2.4 1.1-2.5 1.5-2.4 1.8M202.3 85.2l-2.4 0-2.5 .4-2.4 .5-2.5 .9-2.4 1.2-2.5 1.5M201.4 86.3l-2.5 .4-2.4 .6-2.5 .9-2.4 1.2-2.5 1.5M202.9 87.5l-2.5 .3-2.4 .7-2.5 .9-2.4 1.2M191.2 78.4l1.5 .5 1.5 .6 1.5 .7 1.5 .7 1.5 .8 1.6 .8 1.5 .9 1.5 1M184.2 76.8l1.6 .3 1.5 .4 1.5 .5 1.5 .6 1.5 .6 1.5 .7 1.5 .7 1.5 .8 1.5 .9 1.5 .9 1.5 1 1.5 1 1.5 1.1M178.8 76.2l1.5 .2 1.5 .2 1.5 .4 1.5 .4 1.5 .5 1.5 .5 1.5 .7 1.5 .7 1.5 .7 1.5 .9 1.6 .9 1.5 .9 1.5 1 1.5 1 1.5 1.1 1.5 1.2 1.5 1.1M174.8 76.2l1.5 .1 1.5 .2 1.6 .2 1.5 .4 1.5 .4 1.5 .5 1.5 .6 1.5 .7 1.5 .7 1.5 .8 1.5 .8 1.5 .9 1.5 1 1.5 1 1.5 1.1 1.5 1.1 1.5 1.1 1.5 1.2M172.4 76.6l1.5 0 1.5 .2 1.5 .3 1.5 .4 1.5 .4 1.5 .5 1.5 .6 1.5 .7 1.5 .7 1.5 .8 1.6 .9 1.5 .9 1.5 1 1.5 1.1 1.5 1 1.5 1.2 1.5 1.2 1.5 1.2M169.9 77.2l1.5 .1 1.5 .2 1.6 .2 1.5 .4 1.5 .5 1.5 .5 1.5 .6 1.5 .7 1.5 .8 1.5 .8 1.5 .9 1.5 .9 1.5 1 1.5 1.1 1.5 1.1 1.5 1.2 1.5 1.2 1.5 1.2M167.5 78l1.5 .2 1.5 .2 1.5 .3 1.5 .4 1.5 .4 1.5 .6 1.5 .6 1.5 .7 1.5 .8 1.5 .9 1.6 .9 1.5 .9 1.5 1.1 1.5 1 1.5 1.2 1.5 1.2 1.5 1.2M166.5 79.4l1.5 .2 1.6 .3 1.5 .4 1.5 .5 1.5 .6 1.5 .6 1.5 .8 1.5 .8 1.5 .8 1.5 1 1.5 1 1.5 1 1.5 1.1 1.5 1.2M167.1 81.5l1.5 .4 1.5 .5 1.5 .6 1.5 .7 1.5 .7 1.5 .9 1.6 .8 1.5 1 1.5 1"/></g><path d="M38.5 163.2L159.0 218.9" stroke="#50448c" stroke-width="0.65" fill="none"/>
<path fill="#fff" stroke="#fff" stroke-width="0.3" d="M552.6 121.2l-2.4 .7-2.5 .6-2.4 .7-2.5 .6-2.4 .7-2.5 .6-2.4 .7-2.4 .6-2.5 .7-2.4 .6-2.5 .7-2.4 .7-2.4 .6-2.5 .7-2.4 .6-2.5 .7-2.4 .6-2.5 .7-2.4 .6-2.4 .7-2.5 .6-2.4 .7-2.5 .7-2.4 .6-2.5 .7-2.4 .6-2.4 .7-2.5 .6-2.4 .7-2.5 .6-2.4 .7-2.5 .7-2.4 .6-2.4 .7-2.5 .6-2.4 .7-2.5 .6-2.4 .7-2.4 .6-2.5 .7-2.4 .6-2.5 .7-2.4 .7-2.5 .6-2.4 .7-2.4 .6-2.5 .7-2.4 .6-2.5 .7-2.4 .6-2.5 .7-2.4 .6-2.4 .7-2.5 .7-2.4 .6-2.5 .7-2.4 .6-2.4 .7-2.5 .6-2.4 .7-2.5 .6-2.4 .7-2.5 .6-2.4 .7 7.5 3.5 2.5-.9 2.4-.7 2.4-.7 2.5-.7 2.4-.7 2.5-.7 2.4-.7 2.5-.7 2.4-.7 2.4-.6 2.5-.7 2.4-.7 2.5-.7 2.4-.7 2.5-.6 2.4-.7 2.4-.7 2.5-.7 2.4-.6 2.5-.7 2.4-.7 2.4-.6 2.5-.7 2.4-.7 2.5-.6 2.4-.7 2.5-.6 2.4-.7 2.4-.6 2.5-.7 2.4-.6 2.5-.7 2.4-.6 2.5-.7 2.4-.6 2.4-.7 2.5-.6 2.4-.6 2.5-.7 2.4-.6 2.4-.6 2.5-.7 2.4-.6 2.5-.6 2.4-.6 2.5-.7 2.4-.6 2.4-.6 2.5-.6 2.4-.6 2.5-.7 2.4-.6 2.5-.6 2.4-.6 2.4-.6 2.5-.7 2.4-.6 2.5-.6 2.4-.6 2.4-.7 2.5-.6 2.4-.6 2.5-.7 2.4-.6zM557.1 123.3l-2.4 .6-2.5 .7-2.4 .6-2.5 .7-2.4 .6-2.4 .7-2.5 .6-2.4 .7-2.5 .6-2.4 .7-2.5 .6-2.4 .6-2.4 .7-2.5 .6-2.4 .7-2.5 .6-2.4 .7-2.4 .6-2.5 .7-2.4 .6-2.5 .7-2.4 .6-2.5 .7-2.4 .6-2.4 .7-2.5 .6-2.4 .7-2.5 .6-2.4 .7-2.5 .6-2.4 .7-2.4 .6-2.5 .7-2.4 .6-2.5 .7-2.4 .6-2.4 .7-2.5 .6-2.4 .7-2.5 .6-2.4 .7-2.5 .7-2.4 .6-2.4 .7-2.5 .6-2.4 .7-2.5 .7-2.4 .6-2.5 .7-2.4 .6-2.4 .7-2.5 .7-2.4 .6-2.5 .7-2.4 .7-2.5 .6-2.4 .7-2.4 .7-2.5 .6-2.4 .7-2.5 .7-2.4 .6-2.4 .7-2.5 .7 7.5 3.5 2.5-1.5 2.4-.8 2.5-.8 2.4-.8 2.4-.8 2.5-.8 2.4-.8 2.5-.8 2.4-.7 2.5-.8 2.4-.8 2.4-.7 2.5-.7 2.4-.8 2.5-.7 2.4-.7 2.4-.7 2.5-.7 2.4-.7 2.5-.7 2.4-.7 2.5-.7 2.4-.7 2.4-.6 2.5-.7 2.4-.7 2.5-.6 2.4-.6 2.5-.7 2.4-.6 2.4-.6 2.5-.6 2.4-.7 2.5-.6 2.4-.6 2.4-.5 2.5-.6 2.4-.6 2.5-.6 2.4-.6 2.5-.5 2.4-.6 2.4-.6 2.5-.5 2.4-.6 2.5-.5 2.4-.6 2.5-.5 2.4-.5 2.4-.6 2.5-.5 2.4-.6 2.5-.5 2.4-.6 2.5-.5 2.4-.6 2.4-.5 2.5-.6 2.4-.6 2.5-.6 2.4-.6 2.4-.6 2.5-.6 2.4-.6zM561.6 125.4l-2.4 .6-2.5 .7-2.4 .6-2.4 .6-2.5 .6-2.4 .6-2.5 .6-2.4 .7-2.5 .6-2.4 .6-2.4 .6-2.5 .5-2.4 .6-2.5 .6-2.4 .6-2.5 .6-2.4 .6-2.4 .6-2.5 .7-2.4 .6-2.5 .6-2.4 .6-2.4 .6-2.5 .6-2.4 .6-2.5 .6-2.4 .7-2.5 .6-2.4 .6-2.4 .7-2.5 .6-2.4 .6-2.5 .7-2.4 .6-2.5 .7-2.4 .6-2.4 .7-2.5 .6-2.4 .7-2.5 .6-2.4 .7-2.4 .7-2.5 .6-2.4 .7-2.5 .7-2.4 .7-2.5 .6-2.4 .7-2.4 .7-2.5 .7-2.4 .7-2.5 .7-2.4 .7-2.5 .7-2.4 .7-2.4 .7-2.5 .7-2.4 .7-2.5 .8-2.4 .7-2.5 .7-2.4 .7-2.4 .8-2.5 1 7.5 3.4 2.5-2.8 2.4-1 2.5-1 2.4-1 2.5-.9 2.4-1 2.4-.9 2.5-.9 2.4-.9 2.5-.8 2.4-.9 2.4-.8 2.5-.9 2.4-.8 2.5-.8 2.4-.7 2.5-.8 2.4-.8 2.4-.7 2.5-.7 2.4-.7 2.5-.7 2.4-.7 2.5-.6 2.4-.7 2.4-.6 2.5-.6 2.4-.6 2.5-.6 2.4-.6 2.4-.5 2.5-.6 2.4-.5 2.5-.5 2.4-.5 2.5-.5 2.4-.5 2.4-.5 2.5-.5 2.4-.4 2.5-.5 2.4-.4 2.5-.5 2.4-.4 2.4-.4 2.5-.4 2.4-.5 2.5-.4 2.4-.4 2.5-.4 2.4-.4 2.4-.5 2.5-.4 2.4-.5 2.5-.4 2.4-.5 2.4-.4 2.5-.5 2.4-.6 2.5-.5 2.4-.5 2.5-.6 2.4-.6 2.4-.7zM566.1 127.5l-2.4 .6-2.5 .6-2.4 .6-2.4 .6-2.5 .6-2.4 .5-2.5 .6-2.4 .5-2.4 .5-2.5 .6-2.4 .5-2.5 .5-2.4 .5-2.5 .5-2.4 .5-2.4 .5-2.5 .5-2.4 .5-2.5 .5-2.4 .6-2.5 .5-2.4 .5-2.4 .5-2.5 .6-2.4 .5-2.5 .5-2.4 .6-2.4 .6-2.5 .5-2.4 .6-2.5 .6-2.4 .6-2.5 .6-2.4 .6-2.4 .6-2.5 .6-2.4 .6-2.5 .7-2.4 .6-2.5 .7-2.4 .7-2.4 .6-2.5 .7-2.4 .7-2.5 .7-2.4 .7-2.4 .7-2.5 .8-2.4 .7-2.5 .8-2.4 .7-2.5 .8-2.4 .7-2.4 .8-2.5 .8-2.4 .8-2.5 .8-2.4 .9-2.5 .8-2.4 .8-2.4 .9-2.5 .8-2.4 .9-2.5 1.9 7.6 3.4 2.4-5.1 2.4-1.3 2.5-1.2 2.4-1.2 2.5-1.2 2.4-1.1 2.4-1.1 2.5-1.1 2.4-1.1 2.5-1 2.4-1 2.5-.9 2.4-.9 2.4-.9 2.5-.9 2.4-.8 2.5-.8 2.4-.8 2.5-.8 2.4-.7 2.4-.7 2.5-.7 2.4-.6 2.5-.6 2.4-.6 2.4-.6 2.5-.5 2.4-.6 2.5-.4 2.4-.5 2.5-.5 2.4-.4 2.4-.4 2.5-.4 2.4-.4 2.5-.3 2.4-.4 2.5-.3 2.4-.3 2.4-.3 2.5-.3 2.4-.3 2.5-.2 2.4-.3 2.5-.3 2.4-.2 2.4-.3 2.5-.3 2.4-.2 2.5-.3 2.4-.3 2.4-.3 2.5-.3 2.4-.3 2.5-.3 2.4-.4 2.5-.3 2.4-.4 2.4-.5 2.5-.4 2.4-.5 2.5-.6 2.4-.5 2.5-.7zM570.6 129.5l-2.4 .7-2.4 .6-2.5 .5-2.4 .6-2.5 .5-2.4 .5-2.5 .4-2.4 .5-2.4 .4-2.5 .4-2.4 .4-2.5 .4-2.4 .4-2.4 .4-2.5 .4-2.4 .3-2.5 .4-2.4 .4-2.5 .3-2.4 .4-2.4 .4-2.5 .4-2.4 .4-2.5 .4-2.4 .4-2.5 .4-2.4 .4-2.4 .5-2.5 .4-2.4 .5-2.5 .5-2.4 .5-2.4 .5-2.5 .5-2.4 .6-2.5 .5-2.4 .6-2.5 .6-2.4 .6-2.4 .6-2.5 .7-2.4 .7-2.5 .6-2.4 .7-2.5 .8-2.4 .7-2.4 .8-2.5 .7-2.4 .8-2.5 .9-2.4 .8-2.4 .9-2.5 .8-2.4 .9-2.5 1-2.4 .9-2.5 .9-2.4 1-2.4 1-2.5 1-2.4 1.1-2.5 1-2.4 1.1-2.5 3.5 7.6 3.5 2.4-8.5 2.4-1.5 2.5-1.6 2.4-1.4 2.5-1.4 2.4-1.4 2.5-1.3 2.4-1.3 2.4-1.2 2.5-1.2 2.4-1.1 2.5-1.1 2.4-1 2.5-1 2.4-.9 2.4-.9 2.5-.8 2.4-.8 2.5-.8 2.4-.7 2.4-.7 2.5-.6 2.4-.6 2.5-.5 2.4-.5 2.5-.5 2.4-.4 2.4-.4 2.5-.4 2.4-.3 2.5-.3 2.4-.3 2.5-.2 2.4-.3 2.4-.1 2.5-.2 2.4-.2 2.5-.1 2.4-.1 2.5-.1 2.4-.1 2.4-.1 2.5-.1 2.4-.1 2.5 0 2.4-.1 2.4-.1 2.5 0 2.4-.1 2.5-.1 2.4-.1 2.5-.2 2.4-.1 2.4-.2 2.5-.2 2.4-.2 2.5-.3 2.4-.3 2.5-.3 2.4-.4 2.4-.4 2.5-.5 2.4-.6 2.5-.6zM575.2 131.6l-2.5 .6-2.4 .6-2.5 .5-2.4 .5-2.5 .5-2.4 .4-2.4 .3-2.5 .4-2.4 .3-2.5 .3-2.4 .2-2.5 .3-2.4 .2-2.4 .2-2.5 .3-2.4 .2-2.5 .2-2.4 .2-2.4 .2-2.5 .2-2.4 .2-2.5 .2-2.4 .2-2.5 .2-2.4 .3-2.4 .2-2.5 .3-2.4 .3-2.5 .3-2.4 .3-2.5 .3-2.4 .4-2.4 .4-2.5 .4-2.4 .4-2.5 .4-2.4 .5-2.4 .5-2.5 .6-2.4 .5-2.5 .6-2.4 .7-2.5 .6-2.4 .7-2.4 .7-2.5 .8-2.4 .8-2.5 .8-2.4 .9-2.5 .9-2.4 .9-2.4 .9-2.5 1-2.4 1.1-2.5 1-2.4 1.1-2.4 1.2-2.5 1.1-2.4 1.3-2.5 1.2-2.4 1.3-2.5 1.3-2.4 1.4-2.4 6.1 7.5 3.5 2.4-12.7 2.5-2 2.4-1.8 2.4-1.7 2.5-1.7 2.4-1.6 2.5-1.6 2.4-1.4 2.5-1.4 2.4-1.4 2.4-1.2 2.5-1.2 2.4-1.1 2.5-1 2.4-1 2.4-.9 2.5-.9 2.4-.7 2.5-.8 2.4-.6 2.5-.6 2.4-.6 2.4-.5 2.5-.4 2.4-.4 2.5-.3 2.4-.3 2.5-.3 2.4-.2 2.4-.2 2.5-.1 2.4-.1 2.5 0 2.4 0 2.5 0 2.4 0 2.4 .1 2.5 0 2.4 .1 2.5 .1 2.4 .2 2.4 .1 2.5 .1 2.4 .2 2.5 .1 2.4 .2 2.5 .1 2.4 .1 2.4 .2 2.5 .1 2.4 0 2.5 .1 2.4 0 2.5 0 2.4-.1 2.4-.1 2.5-.1 2.4-.2 2.5-.2 2.4-.4 2.4-.3 2.5-.5 2.4-.5 2.5-.6zM579.7 133.7l-2.5 .6-2.4 .6-2.5 .4-2.4 .5-2.4 .3-2.5 .3-2.4 .3-2.5 .2-2.4 .2-2.5 .2-2.4 .1-2.4 .1-2.5 0-2.4 .1-2.5 0-2.4 0-2.4 0-2.5 0-2.4 0-2.5 0-2.4 0-2.5 0-2.4 .1-2.4 0-2.5 0-2.4 .1-2.5 0-2.4 .1-2.5 .1-2.4 .2-2.4 .1-2.5 .2-2.4 .2-2.5 .3-2.4 .2-2.5 .4-2.4 .3-2.4 .4-2.5 .4-2.4 .5-2.5 .5-2.4 .6-2.4 .6-2.5 .6-2.4 .7-2.5 .8-2.4 .7-2.5 .9-2.4 .9-2.4 .9-2.5 1-2.4 1.1-2.5 1.1-2.4 1.2-2.5 1.2-2.4 1.3-2.4 1.3-2.5 1.4-2.4 1.4-2.5 1.5-2.4 1.6-2.4 1.6-2.5 1.7-2.4 9.8 7.5 3.5 2.4-17.8 2.5-2.2 2.4-2.2 2.5-2 2.4-2 2.4-1.8 2.5-1.8 2.4-1.6 2.5-1.6 2.4-1.4 2.5-1.4 2.4-1.3 2.4-1.1 2.5-1.1 2.4-1 2.5-.9 2.4-.9 2.4-.7 2.5-.7 2.4-.6 2.5-.5 2.4-.5 2.5-.3 2.4-.4 2.4-.2 2.5-.2 2.4-.1 2.5-.1 2.4 0 2.5 0 2.4 .1 2.4 .1 2.5 .1 2.4 .2 2.5 .3 2.4 .2 2.4 .3 2.5 .3 2.4 .3 2.5 .4 2.4 .3 2.5 .4 2.4 .4 2.4 .3 2.5 .4 2.4 .4 2.5 .3 2.4 .4 2.5 .3 2.4 .3 2.4 .2 2.5 .3 2.4 .2 2.5 .1 2.4 .1 2.4 0 2.5 0 2.4 0 2.5-.2 2.4-.2 2.5-.3 2.4-.4 2.4-.5 2.5-.6zM584.2 135.8l-2.5 .6-2.4 .5-2.4 .4-2.5 .4-2.4 .3-2.5 .2-2.4 .1-2.5 .1-2.4 .1-2.4 0-2.5 0-2.4-.1-2.5-.1-2.4-.2-2.5-.1-2.4-.2-2.4-.2-2.5-.2-2.4-.2-2.5-.2-2.4-.3-2.4-.2-2.5-.2-2.4-.2-2.5-.2-2.4-.2-2.5-.1-2.4-.1-2.4-.2-2.5 0-2.4-.1-2.5 0-2.4 0-2.5 .1-2.4 .1-2.4 .1-2.5 .2-2.4 .3-2.5 .3-2.4 .3-2.5 .4-2.4 .5-2.4 .5-2.5 .6-2.4 .6-2.5 .7-2.4 .8-2.4 .8-2.5 .9-2.4 1-2.5 1.1-2.4 1.1-2.5 1.2-2.4 1.3-2.4 1.4-2.5 1.4-2.4 1.5-2.5 1.7-2.4 1.6-2.5 1.8-2.4 1.9-2.4 1.9-2.5 2.1-2.4 14.3 7.5 3.5 2.4-23.3 2.5-2.6 2.4-2.5 2.5-2.3 2.4-2.2 2.5-2.1 2.4-1.9 2.4-1.8 2.5-1.7 2.4-1.6 2.5-1.5 2.4-1.3 2.4-1.2 2.5-1.1 2.4-1 2.5-.9 2.4-.8 2.5-.7 2.4-.6 2.4-.6 2.5-.4 2.4-.3 2.5-.3 2.4-.2 2.5-.1 2.4 0 2.4 0 2.5 .1 2.4 .2 2.5 .2 2.4 .3 2.4 .3 2.5 .4 2.4 .4 2.5 .5 2.4 .5 2.5 .5 2.4 .5 2.4 .6 2.5 .6 2.4 .5 2.5 .7 2.4 .6 2.5 .6 2.4 .6 2.4 .5 2.5 .6 2.4 .6 2.5 .5 2.4 .5 2.4 .4 2.5 .4 2.4 .4 2.5 .3 2.4 .3 2.5 .2 2.4 .1 2.4 0 2.5 0 2.4-.2 2.5-.2 2.4-.4 2.5-.4 2.4-.6zM588.7 137.9l-2.5 .6-2.4 .5-2.4 .3-2.5 .3-2.4 .2-2.5 .1-2.4 .1-2.4 0-2.5-.1-2.4-.2-2.5-.2-2.4-.2-2.5-.3-2.4-.4-2.4-.3-2.5-.4-2.4-.4-2.5-.4-2.4-.5-2.5-.4-2.4-.5-2.4-.4-2.5-.5-2.4-.4-2.5-.4-2.4-.4-2.4-.4-2.5-.4-2.4-.3-2.5-.3-2.4-.3-2.5-.2-2.4-.2-2.4-.1-2.5-.1-2.4 0-2.5 0-2.4 0-2.5 .2-2.4 .2-2.4 .3-2.5 .3-2.4 .4-2.5 .5-2.4 .6-2.5 .6-2.4 .8-2.4 .8-2.5 .9-2.4 1-2.5 1.1-2.4 1.2-2.4 1.3-2.5 1.4-2.4 1.5-2.5 1.6-2.4 1.7-2.5 1.8-2.4 1.9-2.4 2-2.5 2.2-2.4 2.3-2.5 2.3-2.4 19.6 7.5 3.5 2.5-29 2.4-3 2.4-2.7 2.5-2.6 2.4-2.5 2.5-2.3 2.4-2.1 2.4-2 2.5-1.8 2.4-1.6 2.5-1.6 2.4-1.4 2.5-1.2 2.4-1.2 2.4-1 2.5-.9 2.4-.7 2.5-.7 2.4-.5 2.5-.4 2.4-.3 2.4-.3 2.5-.1 2.4 0 2.5 0 2.4 .1 2.4 .3 2.5 .2 2.4 .4 2.5 .4 2.4 .5 2.5 .5 2.4 .6 2.4 .6 2.5 .7 2.4 .7 2.5 .8 2.4 .8 2.5 .8 2.4 .8 2.4 .8 2.5 .8 2.4 .9 2.5 .8 2.4 .8 2.4 .8 2.5 .8 2.4 .8 2.5 .7 2.4 .7 2.5 .7 2.4 .5 2.4 .6 2.5 .5 2.4 .4 2.5 .3 2.4 .2 2.5 .2 2.4 0 2.4-.1 2.5-.1 2.4-.3 2.5-.5 2.4-.5zM593.2 140l-2.4 .5-2.5 .5-2.4 .3-2.5 .2-2.4 .2-2.5 0-2.4-.1-2.4-.1-2.5-.3-2.4-.3-2.5-.3-2.4-.5-2.4-.4-2.5-.5-2.4-.6-2.5-.6-2.4-.6-2.5-.7-2.4-.6-2.4-.7-2.5-.7-2.4-.7-2.5-.6-2.4-.7-2.5-.7-2.4-.6-2.4-.6-2.5-.6-2.4-.6-2.5-.5-2.4-.5-2.4-.4-2.5-.4-2.4-.4-2.5-.3-2.4-.2-2.5-.2-2.4-.1-2.4 0-2.5 .1-2.4 .1-2.5 .2-2.4 .3-2.5 .4-2.4 .5-2.4 .6-2.5 .7-2.4 .7-2.5 .9-2.4 1-2.5 1.2-2.4 1.2-2.4 1.4-2.5 1.4-2.4 1.7-2.5 1.7-2.4 1.9-2.4 2-2.5 2.1-2.4 2.3-2.5 2.4-2.4 2.6-2.5 2.7-2.4 25.2 7.5 3.4 2.5-34.7 2.4-3.2 2.4-3.1 2.5-2.8 2.4-2.7 2.5-2.4 2.4-2.3 2.5-2.1 2.4-2 2.4-1.7 2.5-1.6 2.4-1.5 2.5-1.3 2.4-1.1 2.5-1 2.4-.9 2.4-.7 2.5-.6 2.4-.4 2.5-.4 2.4-.2 2.4-.1 2.5 0 2.4 .1 2.5 .2 2.4 .3 2.5 .3 2.4 .5 2.4 .5 2.5 .7 2.4 .6 2.5 .8 2.4 .8 2.5 .8 2.4 .9 2.4 1 2.5 .9 2.4 1 2.5 1.1 2.4 1 2.4 1.1 2.5 1 2.4 1.1 2.5 1 2.4 1.1 2.5 1 2.4 1 2.4 1 2.5 .9 2.4 .9 2.5 .8 2.4 .8 2.5 .7 2.4 .6 2.4 .6 2.5 .4 2.4 .4 2.5 .2 2.4 .2 2.5 0 2.4-.1 2.4-.3 2.5-.4 2.4-.6zM597.7 142l-2.4 .6-2.5 .4-2.4 .3-2.5 .2-2.4 0-2.4-.1-2.5-.1-2.4-.3-2.5-.4-2.4-.4-2.5-.6-2.4-.5-2.4-.7-2.5-.7-2.4-.8-2.5-.8-2.4-.8-2.4-.8-2.5-.9-2.4-.9-2.5-.9-2.4-.9-2.5-1-2.4-.9-2.4-.9-2.5-.8-2.4-.9-2.5-.8-2.4-.8-2.5-.7-2.4-.8-2.4-.6-2.5-.6-2.4-.6-2.5-.5-2.4-.4-2.4-.3-2.5-.3-2.4-.2-2.5-.1-2.4 0-2.5 .1-2.4 .2-2.4 .3-2.5 .4-2.4 .5-2.5 .6-2.4 .8-2.5 .8-2.4 1.1-2.4 1.1-2.5 1.3-2.4 1.4-2.5 1.5-2.4 1.7-2.4 1.9-2.5 2-2.4 2.2-2.5 2.3-2.4 2.5-2.5 2.7-2.4 2.9-2.4 3-2.5 31 7.5 3.4 2.5-40.2 2.4-3.5 2.5-3.3 2.4-3.1 2.4-2.8 2.5-2.7 2.4-2.4 2.5-2.3 2.4-2 2.5-1.9 2.4-1.6 2.4-1.5 2.5-1.4 2.4-1.1 2.5-1 2.4-.8 2.4-.7 2.5-.5 2.4-.4 2.5-.3 2.4-.1 2.5 0 2.4 .1 2.4 .2 2.5 .4 2.4 .4 2.5 .5 2.4 .7 2.5 .7 2.4 .8 2.4 .8 2.5 1 2.4 1 2.5 1 2.4 1.1 2.4 1.2 2.5 1.2 2.4 1.2 2.5 1.2 2.4 1.3 2.5 1.3 2.4 1.3 2.4 1.2 2.5 1.3 2.4 1.2 2.5 1.3 2.4 1.2 2.5 1.1 2.4 1.2 2.4 1 2.5 1 2.4 1 2.5 .8 2.4 .8 2.5 .7 2.4 .6 2.4 .4 2.5 .4 2.4 .2 2.5 .1 2.4 0 2.4-.2 2.5-.4 2.4-.6zM602.2 144.1l-2.4 .6-2.5 .4-2.4 .2-2.4 .1-2.5 0-2.4-.2-2.5-.3-2.4-.4-2.5-.5-2.4-.6-2.4-.6-2.5-.8-2.4-.8-2.5-.9-2.4-1-2.5-1-2.4-1-2.4-1.1-2.5-1-2.4-1.2-2.5-1.1-2.4-1.1-2.4-1.2-2.5-1.1-2.4-1.1-2.5-1.1-2.4-1.1-2.5-1-2.4-1-2.4-1-2.5-.9-2.4-.9-2.5-.8-2.4-.7-2.5-.7-2.4-.6-2.4-.5-2.5-.5-2.4-.3-2.5-.3-2.4-.1-2.4 0-2.5 0-2.4 .2-2.5 .3-2.4 .5-2.5 .6-2.4 .7-2.4 .8-2.5 1-2.4 1.2-2.5 1.3-2.4 1.4-2.5 1.6-2.4 1.8-2.4 2-2.5 2.2-2.4 2.3-2.5 2.5-2.4 2.8-2.4 2.9-2.5 3.1-2.4 3.4-2.5 36.5 7.5 3.5 2.5-45.3 2.4-3.8 2.5-3.5 2.4-3.3 2.5-3.1 2.4-2.8 2.4-2.5 2.5-2.4 2.4-2.2 2.5-1.9 2.4-1.7 2.4-1.6 2.5-1.3 2.4-1.2 2.5-1 2.4-.8 2.5-.7 2.4-.4 2.4-.4 2.5-.2 2.4 0 2.5 .1 2.4 .2 2.5 .4 2.4 .4 2.4 .6 2.5 .7 2.4 .8 2.5 .9 2.4 .9 2.5 1.1 2.4 1.1 2.4 1.2 2.5 1.2 2.4 1.3 2.5 1.4 2.4 1.4 2.4 1.4 2.5 1.4 2.4 1.5 2.5 1.5 2.4 1.5 2.5 1.4 2.4 1.5 2.4 1.4 2.5 1.5 2.4 1.4 2.5 1.3 2.4 1.3 2.5 1.2 2.4 1.2 2.4 1.1 2.5 1 2.4 .9 2.5 .8 2.4 .7 2.4 .6 2.5 .5 2.4 .3 2.5 .2 2.4 0 2.5-.2 2.4-.3 2.4-.6zM606.7 146.2l-2.4 .6-2.4 .3-2.5 .2-2.4 .1-2.5-.2-2.4-.2-2.5-.4-2.4-.5-2.4-.6-2.5-.8-2.4-.8-2.5-.9-2.4-1-2.5-1.1-2.4-1.1-2.4-1.2-2.5-1.2-2.4-1.2-2.5-1.3-2.4-1.4-2.5-1.3-2.4-1.3-2.4-1.4-2.5-1.3-2.4-1.4-2.5-1.3-2.4-1.3-2.4-1.2-2.5-1.2-2.4-1.2-2.5-1.1-2.4-1.1-2.5-1-2.4-.9-2.4-.9-2.5-.7-2.4-.7-2.5-.6-2.4-.5-2.5-.4-2.4-.3-2.4-.1-2.5 0-2.4 .1-2.5 .2-2.4 .4-2.4 .5-2.5 .7-2.4 .8-2.5 1-2.4 1.1-2.5 1.4-2.4 1.5-2.4 1.7-2.5 1.9-2.4 2-2.5 2.3-2.4 2.5-2.5 2.7-2.4 2.9-2.4 3.2-2.5 3.4-2.4 3.6-2.5 41.9 7.6 3.5 2.4-50 2.4-4 2.5-3.7 2.4-3.5 2.5-3.2 2.4-3 2.4-2.7 2.5-2.5 2.4-2.3 2.5-2 2.4-1.8 2.5-1.6 2.4-1.4 2.4-1.1 2.5-1 2.4-.8 2.5-.7 2.4-.4 2.5-.3 2.4-.1 2.4 0 2.5 .2 2.4 .3 2.5 .5 2.4 .6 2.5 .7 2.4 .8 2.4 .9 2.5 1.1 2.4 1.1 2.5 1.2 2.4 1.3 2.4 1.3 2.5 1.5 2.4 1.4 2.5 1.6 2.4 1.5 2.5 1.6 2.4 1.7 2.4 1.6 2.5 1.7 2.4 1.7 2.5 1.6 2.4 1.7 2.5 1.6 2.4 1.6 2.4 1.6 2.5 1.5 2.4 1.4 2.5 1.4 2.4 1.4 2.4 1.2 2.5 1.2 2.4 1 2.5 1 2.4 .8 2.5 .7 2.4 .5 2.4 .4 2.5 .2 2.4 .1 2.5-.1 2.4-.4 2.5-.5zM611.2 148.3l-2.4 .5-2.4 .4-2.5 .1-2.4 0-2.5-.2-2.4-.3-2.4-.5-2.5-.6-2.4-.8-2.5-.8-2.4-1-2.5-1-2.4-1.2-2.4-1.2-2.5-1.3-2.4-1.4-2.5-1.4-2.4-1.4-2.5-1.5-2.4-1.5-2.4-1.5-2.5-1.6-2.4-1.5-2.5-1.6-2.4-1.5-2.5-1.5-2.4-1.5-2.4-1.4-2.5-1.4-2.4-1.4-2.5-1.3-2.4-1.3-2.4-1.1-2.5-1.1-2.4-1-2.5-1-2.4-.8-2.5-.7-2.4-.7-2.4-.5-2.5-.4-2.4-.2-2.5-.2-2.4 .1-2.5 .1-2.4 .3-2.4 .5-2.5 .6-2.4 .9-2.5 .9-2.4 1.2-2.4 1.4-2.5 1.5-2.4 1.8-2.5 2-2.4 2.2-2.5 2.4-2.4 2.6-2.4 2.9-2.5 3.1-2.4 3.3-2.5 3.6-2.4 3.9-2.5 46.9 7.6 3.5 2.4-54.1 2.4-4.2 2.5-4 2.4-3.6 2.5-3.4 2.4-3.1 2.5-2.9 2.4-2.6 2.4-2.3 2.5-2.1 2.4-1.9 2.5-1.6 2.4-1.4 2.5-1.2 2.4-1 2.4-.8 2.5-.6 2.4-.5 2.5-.2 2.4-.1 2.5 .1 2.4 .3 2.4 .4 2.5 .6 2.4 .7 2.5 .8 2.4 .9 2.4 1.1 2.5 1.1 2.4 1.3 2.5 1.3 2.4 1.5 2.5 1.5 2.4 1.6 2.4 1.6 2.5 1.7 2.4 1.7 2.5 1.8 2.4 1.8 2.5 1.8 2.4 1.9 2.4 1.8 2.5 1.8 2.4 1.8 2.5 1.8 2.4 1.8 2.4 1.7 2.5 1.7 2.4 1.6 2.5 1.6 2.4 1.4 2.5 1.4 2.4 1.3 2.4 1.2 2.5 1 2.4 .9 2.5 .8 2.4 .6 2.5 .5 2.4 .3 2.4 .1 2.5-.1 2.4-.3 2.5-.5zM615.8 150.4l-2.5 .5-2.4 .3-2.5 .2-2.4-.1-2.5-.3-2.4-.4-2.4-.6-2.5-.7-2.4-.8-2.5-1-2.4-1.1-2.4-1.2-2.5-1.3-2.4-1.4-2.5-1.4-2.4-1.5-2.5-1.6-2.4-1.6-2.4-1.7-2.5-1.7-2.4-1.7-2.5-1.7-2.4-1.7-2.5-1.7-2.4-1.8-2.4-1.6-2.5-1.7-2.4-1.6-2.5-1.6-2.4-1.6-2.5-1.4-2.4-1.4-2.4-1.4-2.5-1.2-2.4-1.2-2.5-1.1-2.4-1-2.4-.8-2.5-.8-2.4-.6-2.5-.5-2.4-.3-2.5-.2-2.4-.1-2.4 .1-2.5 .3-2.4 .4-2.5 .6-2.4 .8-2.5 1-2.4 1.2-2.4 1.4-2.5 1.6-2.4 1.8-2.5 2.1-2.4 2.3-2.4 2.5-2.5 2.8-2.4 3-2.5 3.2-2.4 3.6-2.5 3.8-2.4 4.1-2.4 51.4 7.5 3.5 2.4-57.6 2.5-4.4 2.4-4.1 2.4-3.9 2.5-3.5 2.4-3.2 2.5-3 2.4-2.7 2.5-2.4 2.4-2.2 2.4-2 2.5-1.6 2.4-1.5 2.5-1.2 2.4-1 2.5-.8 2.4-.6 2.4-.4 2.5-.2 2.4 0 2.5 .1 2.4 .3 2.4 .5 2.5 .6 2.4 .8 2.5 .9 2.4 1.1 2.5 1.1 2.4 1.3 2.4 1.4 2.5 1.5 2.4 1.5 2.5 1.7 2.4 1.7 2.5 1.8 2.4 1.8 2.4 1.9 2.5 1.9 2.4 2 2.5 1.9 2.4 2 2.4 2 2.5 2 2.4 1.9 2.5 2 2.4 1.9 2.5 1.9 2.4 1.8 2.4 1.7 2.5 1.7 2.4 1.6 2.5 1.5 2.4 1.4 2.5 1.3 2.4 1.1 2.4 1 2.5 .9 2.4 .7 2.5 .5 2.4 .4 2.4 .1 2.5 0 2.4-.3 2.5-.5zM620.3 152.5l-2.5 .5-2.4 .3-2.5 .1-2.4-.2-2.4-.3-2.5-.5-2.4-.6-2.5-.8-2.4-1-2.5-1.1-2.4-1.2-2.4-1.3-2.5-1.4-2.4-1.5-2.5-1.6-2.4-1.7-2.4-1.7-2.5-1.7-2.4-1.9-2.5-1.8-2.4-1.9-2.5-1.9-2.4-1.9-2.4-1.8-2.5-1.9-2.4-1.9-2.5-1.8-2.4-1.8-2.5-1.7-2.4-1.7-2.4-1.7-2.5-1.5-2.4-1.5-2.5-1.4-2.4-1.3-2.4-1.2-2.5-1.1-2.4-.9-2.5-.9-2.4-.7-2.5-.6-2.4-.4-2.4-.3-2.5-.1-2.4 0-2.5 .3-2.4 .4-2.5 .6-2.4 .8-2.4 1-2.5 1.2-2.4 1.4-2.5 1.6-2.4 1.9-2.5 2.2-2.4 2.3-2.4 2.7-2.5 2.9-2.4 3.1-2.5 3.5-2.4 3.7-2.4 4-2.5 4.3-2.4 55.3 7.5 3.4 2.4-60.3 2.5-4.6 2.4-4.3 2.5-4 2.4-3.6 2.4-3.4 2.5-3.1 2.4-2.8 2.5-2.5 2.4-2.2 2.5-2 2.4-1.8 2.4-1.4 2.5-1.3 2.4-1 2.5-.8 2.4-.6 2.4-.4 2.5-.2 2.4 0 2.5 .2 2.4 .4 2.5 .5 2.4 .7 2.4 .9 2.5 .9 2.4 1.2 2.5 1.2 2.4 1.4 2.5 1.4 2.4 1.6 2.4 1.7 2.5 1.7 2.4 1.9 2.5 1.9 2.4 1.9 2.4 2 2.5 2.1 2.4 2.1 2.5 2.1 2.4 2.1 2.5 2.1 2.4 2.1 2.4 2.1 2.5 2.1 2.4 2 2.5 2 2.4 1.9 2.5 1.9 2.4 1.8 2.4 1.7 2.5 1.6 2.4 1.5 2.5 1.3 2.4 1.3 2.4 1.1 2.5 .9 2.4 .8 2.5 .6 2.4 .4 2.5 .1 2.4 0 2.4-.2 2.5-.5zM624.8 154.6l-2.5 .5-2.4 .2-2.4 .1-2.5-.2-2.4-.3-2.5-.6-2.4-.7-2.5-.9-2.4-1-2.4-1.2-2.5-1.3-2.4-1.5-2.5-1.5-2.4-1.6-2.5-1.7-2.4-1.8-2.4-1.9-2.5-1.9-2.4-1.9-2.5-2-2.4-2-2.4-2.1-2.5-2-2.4-2-2.5-2.1-2.4-1.9-2.5-2-2.4-1.9-2.4-1.9-2.5-1.8-2.4-1.8-2.5-1.7-2.4-1.6-2.5-1.5-2.4-1.4-2.4-1.3-2.5-1.2-2.4-1.1-2.5-.9-2.4-.8-2.4-.7-2.5-.5-2.4-.3-2.5-.2-2.4 0-2.5 .2-2.4 .4-2.4 .6-2.5 .8-2.4 1-2.5 1.3-2.4 1.4-2.5 1.7-2.4 2-2.4 2.2-2.5 2.4-2.4 2.8-2.5 3-2.4 3.3-2.5 3.5-2.4 3.9-2.4 4.2-2.5 4.5-2.4 58.6 7.5 3.4 2.4-62.5 2.5-4.7 2.4-4.4 2.5-4.1 2.4-3.8 2.5-3.5 2.4-3.1 2.4-2.9 2.5-2.6 2.4-2.3 2.5-2 2.4-1.8 2.4-1.6 2.5-1.2 2.4-1.1 2.5-.8 2.4-.6 2.5-.4 2.4-.1 2.4 0 2.5 .2 2.4 .4 2.5 .5 2.4 .8 2.5 .9 2.4 1 2.4 1.2 2.5 1.3 2.4 1.4 2.5 1.6 2.4 1.6 2.4 1.8 2.5 1.8 2.4 1.9 2.5 2 2.4 2.1 2.5 2.1 2.4 2.1 2.4 2.2 2.5 2.2 2.4 2.2 2.5 2.2 2.4 2.3 2.5 2.2 2.4 2.1 2.4 2.2 2.5 2.1 2.4 2 2.5 2 2.4 1.8 2.5 1.8 2.4 1.7 2.4 1.6 2.5 1.5 2.4 1.3 2.5 1.1 2.4 1 2.4 .9 2.5 .6 2.4 .5 2.5 .2 2.4 0 2.5-.3 2.4-.5zM629.3 156.6l-2.5 .6-2.4 .2-2.4 0-2.5-.2-2.4-.4-2.5-.6-2.4-.8-2.4-.9-2.5-1.2-2.4-1.2-2.5-1.4-2.4-1.6-2.5-1.6-2.4-1.7-2.4-1.8-2.5-1.9-2.4-2-2.5-2-2.4-2.1-2.5-2.1-2.4-2.1-2.4-2.2-2.5-2.1-2.4-2.2-2.5-2.1-2.4-2.1-2.4-2.1-2.5-2.1-2.4-2-2.5-1.9-2.4-1.8-2.5-1.8-2.4-1.7-2.4-1.6-2.5-1.5-2.4-1.4-2.5-1.3-2.4-1.1-2.5-1-2.4-.9-2.4-.7-2.5-.6-2.4-.3-2.5-.2-2.4-.1-2.4 .2-2.5 .4-2.4 .6-2.5 .8-2.4 1-2.5 1.3-2.4 1.5-2.4 1.7-2.5 2-2.4 2.3-2.5 2.6-2.4 2.8-2.5 3.1-2.4 3.4-2.4 3.7-2.5 4-2.4 4.3-2.5 4.7-2.4 61.1 7.5 3.5 2.5-63.9 2.4-4.8 2.4-4.6 2.5-4.2 2.4-3.8 2.5-3.6 2.4-3.2 2.4-3 2.5-2.6 2.4-2.4 2.5-2.1 2.4-1.8 2.5-1.6 2.4-1.3 2.4-1.1 2.5-.9 2.4-.6 2.5-.4 2.4-.1 2.5 0 2.4 .2 2.4 .4 2.5 .6 2.4 .7 2.5 1 2.4 1 2.4 1.2 2.5 1.4 2.4 1.5 2.5 1.6 2.4 1.7 2.5 1.8 2.4 1.9 2.4 2 2.5 2 2.4 2.1 2.5 2.2 2.4 2.2 2.5 2.3 2.4 2.3 2.4 2.3 2.5 2.3 2.4 2.3 2.5 2.3 2.4 2.2 2.5 2.2 2.4 2.2 2.4 2.1 2.5 2.1 2.4 1.9 2.5 1.9 2.4 1.8 2.4 1.6 2.5 1.6 2.4 1.3 2.5 1.3 2.4 1 2.5 .9 2.4 .7 2.4 .5 2.5 .2 2.4 0 2.5-.2 2.4-.5zM633.8 158.7l-2.4 .5-2.5 .3-2.4 0-2.5-.3-2.4-.4-2.5-.7-2.4-.8-2.4-1.1-2.5-1.1-2.4-1.4-2.5-1.5-2.4-1.6-2.4-1.7-2.5-1.8-2.4-1.9-2.5-2-2.4-2.1-2.5-2.1-2.4-2.2-2.4-2.2-2.5-2.2-2.4-2.2-2.5-2.3-2.4-2.2-2.5-2.3-2.4-2.2-2.4-2.1-2.5-2.2-2.4-2.1-2.5-2-2.4-1.9-2.4-1.9-2.5-1.7-2.4-1.7-2.5-1.6-2.4-1.4-2.5-1.4-2.4-1.2-2.4-1-2.5-.9-2.4-.7-2.5-.6-2.4-.4-2.5-.2-2.4-.1-2.4 .2-2.5 .4-2.4 .6-2.5 .8-2.4 1.1-2.4 1.3-2.5 1.5-2.4 1.8-2.5 2.1-2.4 2.3-2.5 2.6-2.4 2.9-2.4 3.2-2.5 3.5-2.4 3.8-2.5 4.1-2.4 4.5-2.5 4.8-2.4 63 7.5 3.5 2.5-64.6 2.4-4.9 2.4-4.6 2.5-4.3 2.4-4 2.5-3.6 2.4-3.3 2.5-3 2.4-2.8 2.4-2.4 2.5-2.2 2.4-1.8 2.5-1.7 2.4-1.3 2.5-1.1 2.4-.9 2.4-.7 2.5-.4 2.4-.2 2.5 0 2.4 .2 2.4 .4 2.5 .6 2.4 .7 2.5 1 2.4 1 2.5 1.3 2.4 1.3 2.4 1.5 2.5 1.7 2.4 1.7 2.5 1.8 2.4 2 2.5 2 2.4 2.1 2.4 2.2 2.5 2.2 2.4 2.3 2.5 2.3 2.4 2.3 2.5 2.4 2.4 2.4 2.4 2.3 2.5 2.4 2.4 2.3 2.5 2.3 2.4 2.2 2.4 2.2 2.5 2.1 2.4 2 2.5 2 2.4 1.8 2.5 1.7 2.4 1.6 2.4 1.4 2.5 1.3 2.4 1.1 2.5 1 2.4 .7 2.5 .5 2.4 .3 2.4 0 2.5-.2 2.4-.5zM638.3 160.8l-2.4 .5-2.5 .2-2.4 0-2.5-.3-2.4-.4-2.4-.7-2.5-.9-2.4-1.1-2.5-1.3-2.4-1.4-2.5-1.5-2.4-1.7-2.4-1.8-2.5-1.9-2.4-2-2.5-2-2.4-2.2-2.4-2.2-2.5-2.2-2.4-2.3-2.5-2.3-2.4-2.3-2.5-2.4-2.4-2.3-2.4-2.3-2.5-2.3-2.4-2.2-2.5-2.2-2.4-2.1-2.5-2.1-2.4-2-2.4-1.9-2.5-1.8-2.4-1.8-2.5-1.6-2.4-1.5-2.4-1.3-2.5-1.2-2.4-1.1-2.5-.9-2.4-.8-2.5-.6-2.4-.4-2.4-.2-2.5 0-2.4 .2-2.5 .4-2.4 .6-2.5 .9-2.4 1-2.4 1.4-2.5 1.6-2.4 1.8-2.5 2.1-2.4 2.4-2.4 2.7-2.5 3-2.4 3.3-2.5 3.5-2.4 3.9-2.5 4.3-2.4 4.5-2.4 4.9-2.5 64.2 7.5 3.5 2.5-64.6 2.4-5 2.5-4.7 2.4-4.3 2.4-4.1 2.5-3.7 2.4-3.4 2.5-3 2.4-2.8 2.5-2.5 2.4-2.3 2.4-1.9 2.5-1.7 2.4-1.4 2.5-1.2 2.4-.9 2.4-.7 2.5-.4 2.4-.3 2.5 0 2.4 .2 2.5 .3 2.4 .6 2.4 .7 2.5 .9 2.4 1.1 2.5 1.2 2.4 1.4 2.5 1.5 2.4 1.6 2.4 1.8 2.5 1.8 2.4 2 2.5 2 2.4 2.2 2.5 2.2 2.4 2.2 2.4 2.3 2.5 2.4 2.4 2.4 2.5 2.4 2.4 2.4 2.4 2.4 2.5 2.4 2.4 2.3 2.5 2.4 2.4 2.3 2.5 2.2 2.4 2.2 2.4 2.1 2.5 2 2.4 1.8 2.5 1.8 2.4 1.6 2.5 1.5 2.4 1.3 2.4 1.2 2.5 .9 2.4 .8 2.5 .5 2.4 .3 2.4 .1 2.5-.2 2.4-.5zM642.8 162.9l-2.4 .5-2.5 .2-2.4 0-2.4-.3-2.5-.6-2.4-.7-2.5-.9-2.4-1.1-2.5-1.3-2.4-1.5-2.4-1.6-2.5-1.7-2.4-1.9-2.5-1.9-2.4-2.1-2.4-2.1-2.5-2.2-2.4-2.3-2.5-2.3-2.4-2.3-2.5-2.4-2.4-2.4-2.4-2.4-2.5-2.3-2.4-2.4-2.5-2.3-2.4-2.3-2.5-2.2-2.4-2.2-2.4-2.1-2.5-2.1-2.4-1.9-2.5-1.9-2.4-1.7-2.5-1.6-2.4-1.5-2.4-1.4-2.5-1.2-2.4-1.1-2.5-.9-2.4-.8-2.4-.5-2.5-.4-2.4-.2-2.5 0-2.4 .2-2.5 .4-2.4 .7-2.4 .9-2.5 1.1-2.4 1.4-2.5 1.6-2.4 1.9-2.5 2.2-2.4 2.5-2.4 2.7-2.5 3.1-2.4 3.3-2.5 3.7-2.4 3.9-2.4 4.3-2.5 4.7-2.4 5-2.5 64.6 7.5 3.5 2.5-64 2.4-5.1 2.5-4.7 2.4-4.4 2.5-4.1 2.4-3.8 2.4-3.4 2.5-3.2 2.4-2.8 2.5-2.6 2.4-2.3 2.5-2 2.4-1.7 2.4-1.5 2.5-1.2 2.4-1 2.5-.8 2.4-.5 2.4-.3 2.5 0 2.4 .1 2.5 .3 2.4 .5 2.5 .7 2.4 .9 2.4 1.1 2.5 1.2 2.4 1.3 2.5 1.5 2.4 1.6 2.5 1.8 2.4 1.8 2.4 2 2.5 2 2.4 2.2 2.5 2.2 2.4 2.2 2.4 2.4 2.5 2.3 2.4 2.4 2.5 2.5 2.4 2.4 2.5 2.4 2.4 2.5 2.4 2.4 2.5 2.4 2.4 2.3 2.5 2.3 2.4 2.2 2.5 2.1 2.4 2 2.4 1.9 2.5 1.8 2.4 1.7 2.5 1.5 2.4 1.4 2.4 1.1 2.5 1 2.4 .8 2.5 .6 2.4 .3 2.5 .1 2.4-.2 2.4-.5zM647.3 165l-2.4 .5-2.4 .2-2.5-.1-2.4-.3-2.5-.5-2.4-.8-2.5-1-2.4-1.1-2.4-1.4-2.5-1.5-2.4-1.6-2.5-1.8-2.4-1.9-2.5-2-2.4-2.1-2.4-2.1-2.5-2.3-2.4-2.3-2.5-2.4-2.4-2.3-2.4-2.5-2.5-2.4-2.4-2.4-2.5-2.4-2.4-2.4-2.5-2.4-2.4-2.3-2.4-2.2-2.5-2.2-2.4-2.2-2.5-2-2.4-2-2.5-1.8-2.4-1.8-2.4-1.6-2.5-1.5-2.4-1.4-2.5-1.2-2.4-1.1-2.5-.9-2.4-.7-2.4-.5-2.5-.4-2.4-.1-2.5 0-2.4 .3-2.4 .4-2.5 .7-2.4 1-2.5 1.2-2.4 1.4-2.5 1.7-2.4 2-2.4 2.2-2.5 2.5-2.4 2.8-2.5 3.1-2.4 3.5-2.5 3.7-2.4 4-2.4 4.4-2.5 4.7-2.4 5.1-2.5 64.4 7.6 3.5 2.4-62.9 2.4-5.1 2.5-4.8 2.4-4.5 2.5-4.1 2.4-3.9 2.5-3.5 2.4-3.2 2.4-2.9 2.5-2.6 2.4-2.4 2.5-2.1 2.4-1.8 2.4-1.5 2.5-1.3 2.4-1 2.5-.8 2.4-.6 2.5-.4 2.4-.1 2.4 .1 2.5 .3 2.4 .5 2.5 .6 2.4 .9 2.5 1 2.4 1.1 2.4 1.3 2.5 1.5 2.4 1.6 2.5 1.7 2.4 1.9 2.4 1.9 2.5 2 2.4 2.2 2.5 2.2 2.4 2.2 2.5 2.4 2.4 2.4 2.4 2.4 2.5 2.4 2.4 2.5 2.5 2.4 2.4 2.5 2.5 2.4 2.4 2.4 2.4 2.3 2.5 2.3 2.4 2.3 2.5 2.1 2.4 2.1 2.4 1.9 2.5 1.8 2.4 1.7 2.5 1.6 2.4 1.3 2.5 1.2 2.4 1 2.4 .8 2.5 .6 2.4 .4 2.5 0 2.4-.2 2.5-.4zM651.8 167.1l-2.4 .5-2.4 .2-2.5-.1-2.4-.4-2.5-.5-2.4-.8-2.4-1-2.5-1.2-2.4-1.3-2.5-1.6-2.4-1.6-2.5-1.9-2.4-1.9-2.4-2-2.5-2.2-2.4-2.2-2.5-2.2-2.4-2.4-2.5-2.4-2.4-2.4-2.4-2.4-2.5-2.5-2.4-2.4-2.5-2.4-2.4-2.5-2.4-2.3-2.5-2.4-2.4-2.2-2.5-2.2-2.4-2.2-2.5-2-2.4-2-2.4-1.8-2.5-1.8-2.4-1.6-2.5-1.5-2.4-1.3-2.5-1.2-2.4-1-2.4-.9-2.5-.7-2.4-.5-2.5-.3-2.4-.1-2.5 .1-2.4 .3-2.4 .5-2.5 .8-2.4 1-2.5 1.2-2.4 1.5-2.4 1.8-2.5 2-2.4 2.3-2.5 2.6-2.4 2.9-2.5 3.2-2.4 3.4-2.4 3.8-2.5 4.1-2.4 4.5-2.5 4.7-2.4 5.1-2.5 63.7 7.6 3.4 2.4-61.4 2.5-5.1 2.4-4.8 2.4-4.5 2.5-4.2 2.4-3.9 2.5-3.6 2.4-3.2 2.4-3 2.5-2.7 2.4-2.4 2.5-2.1 2.4-1.9 2.5-1.6 2.4-1.4 2.4-1.1 2.5-.8 2.4-.7 2.5-.4 2.4-.2 2.5 0 2.4 .3 2.4 .4 2.5 .6 2.4 .8 2.5 1 2.4 1.1 2.4 1.2 2.5 1.5 2.4 1.5 2.5 1.7 2.4 1.8 2.5 1.9 2.4 2.1 2.4 2.1 2.5 2.2 2.4 2.2 2.5 2.3 2.4 2.4 2.5 2.4 2.4 2.4 2.4 2.5 2.5 2.4 2.4 2.5 2.5 2.4 2.4 2.4 2.4 2.4 2.5 2.3 2.4 2.2 2.5 2.2 2.4 2.1 2.5 1.9 2.4 1.9 2.4 1.7 2.5 1.5 2.4 1.4 2.5 1.3 2.4 1 2.5 .8 2.4 .6 2.4 .3 2.5 .1 2.4-.2 2.5-.5zM656.4 169.2l-2.5 .4-2.4 .2-2.5-.1-2.4-.3-2.5-.6-2.4-.8-2.4-1-2.5-1.2-2.4-1.4-2.5-1.5-2.4-1.7-2.4-1.9-2.5-1.9-2.4-2.1-2.5-2.1-2.4-2.3-2.5-2.3-2.4-2.3-2.4-2.4-2.5-2.5-2.4-2.4-2.5-2.5-2.4-2.4-2.5-2.4-2.4-2.5-2.4-2.3-2.5-2.4-2.4-2.2-2.5-2.2-2.4-2.1-2.4-2.1-2.5-1.9-2.4-1.8-2.5-1.8-2.4-1.5-2.5-1.5-2.4-1.3-2.4-1.2-2.5-.9-2.4-.9-2.5-.6-2.4-.5-2.5-.2-2.4-.1-2.4 .2-2.5 .3-2.4 .6-2.5 .8-2.4 1.1-2.5 1.3-2.4 1.6-2.4 1.8-2.5 2.1-2.4 2.4-2.5 2.6-2.4 3-2.4 3.2-2.5 3.5-2.4 3.9-2.5 4.1-2.4 4.5-2.5 4.8-2.4 5.1-2.4 62.5 7.5 3.4 2.4-59.6 2.5-5.2 2.4-4.8 2.4-4.5 2.5-4.3 2.4-3.9 2.5-3.6 2.4-3.3 2.5-3 2.4-2.8 2.4-2.4 2.5-2.2 2.4-2 2.5-1.6 2.4-1.5 2.5-1.1 2.4-1 2.4-.7 2.5-.4 2.4-.3 2.5 0 2.4 .1 2.4 .4 2.5 .6 2.4 .7 2.5 .9 2.4 1.1 2.5 1.2 2.4 1.4 2.4 1.5 2.5 1.6 2.4 1.8 2.5 1.9 2.4 1.9 2.5 2.1 2.4 2.2 2.4 2.2 2.5 2.3 2.4 2.4 2.5 2.3 2.4 2.5 2.4 2.4 2.5 2.4 2.4 2.5 2.5 2.4 2.4 2.4 2.5 2.4 2.4 2.3 2.4 2.2 2.5 2.2 2.4 2.1 2.5 1.9 2.4 1.9 2.5 1.7 2.4 1.6 2.4 1.4 2.5 1.2 2.4 1 2.5 .9 2.4 .5 2.5 .4 2.4 .1 2.4-.2 2.5-.5zM660.9 171.2l-2.5 .5-2.4 .2-2.5-.1-2.4-.3-2.4-.6-2.5-.8-2.4-1.1-2.5-1.2-2.4-1.4-2.5-1.5-2.4-1.8-2.4-1.8-2.5-2-2.4-2-2.5-2.2-2.4-2.2-2.4-2.4-2.5-2.3-2.4-2.4-2.5-2.5-2.4-2.4-2.5-2.5-2.4-2.4-2.4-2.4-2.5-2.4-2.4-2.4-2.5-2.3-2.4-2.3-2.5-2.1-2.4-2.1-2.4-2-2.5-1.9-2.4-1.8-2.5-1.7-2.4-1.6-2.4-1.4-2.5-1.2-2.4-1.1-2.5-1-2.4-.8-2.5-.5-2.4-.4-2.4-.2-2.5-.1-2.4 .3-2.5 .4-2.4 .6-2.5 .9-2.4 1.2-2.4 1.3-2.5 1.7-2.4 1.9-2.5 2.1-2.4 2.4-2.5 2.7-2.4 3-2.4 3.3-2.5 3.6-2.4 3.9-2.5 4.2-2.4 4.5-2.4 4.8-2.5 5.2-2.4 60.8 7.5 3.5 2.4-57.6 2.5-5.2 2.4-4.8 2.5-4.6 2.4-4.2 2.4-4 2.5-3.6 2.4-3.4 2.5-3 2.4-2.8 2.5-2.6 2.4-2.2 2.4-2 2.5-1.7 2.4-1.5 2.5-1.2 2.4-1 2.4-.8 2.5-.5 2.4-.4 2.5-.1 2.4 .1 2.5 .3 2.4 .5 2.4 .7 2.5 .8 2.4 1 2.5 1.2 2.4 1.3 2.5 1.5 2.4 1.6 2.4 1.7 2.5 1.8 2.4 2 2.5 2 2.4 2.1 2.4 2.2 2.5 2.3 2.4 2.3 2.5 2.4 2.4 2.4 2.5 2.4 2.4 2.4 2.4 2.4 2.5 2.4 2.4 2.4 2.5 2.4 2.4 2.3 2.5 2.2 2.4 2.2 2.4 2 2.5 2 2.4 1.8 2.5 1.8 2.4 1.5 2.5 1.4 2.4 1.3 2.4 1 2.5 .8 2.4 .6 2.5 .4 2.4 .1 2.4-.2 2.5-.5zM665.4 173.3l-2.5 .5-2.4 .2-2.4-.1-2.5-.4-2.4-.6-2.5-.8-2.4-1-2.5-1.2-2.4-1.4-2.4-1.6-2.5-1.7-2.4-1.9-2.5-2-2.4-2-2.5-2.2-2.4-2.2-2.4-2.3-2.5-2.4-2.4-2.4-2.5-2.4-2.4-2.5-2.4-2.4-2.5-2.4-2.4-2.4-2.5-2.4-2.4-2.4-2.5-2.2-2.4-2.3-2.4-2.1-2.5-2.1-2.4-1.9-2.5-1.9-2.4-1.7-2.5-1.7-2.4-1.5-2.4-1.3-2.5-1.2-2.4-1.1-2.5-.9-2.4-.7-2.4-.5-2.5-.4-2.4-.1-2.5 .1-2.4 .2-2.5 .5-2.4 .7-2.4 1-2.5 1.2-2.4 1.4-2.5 1.7-2.4 2-2.5 2.2-2.4 2.5-2.4 2.7-2.5 3.1-2.4 3.3-2.5 3.6-2.4 4-2.5 4.2-2.4 4.5-2.4 4.9-2.5 5.1-2.4 59 7.5 3.5 2.4-55.5 2.5-5.1 2.4-4.9 2.5-4.5 2.4-4.3 2.5-3.9 2.4-3.7 2.4-3.4 2.5-3.1 2.4-2.8 2.5-2.6 2.4-2.3 2.4-2 2.5-1.8 2.4-1.6 2.5-1.3 2.4-1 2.5-.9 2.4-.6 2.4-.3 2.5-.2 2.4 0 2.5 .3 2.4 .4 2.5 .6 2.4 .8 2.4 .9 2.5 1.1 2.4 1.3 2.5 1.4 2.4 1.5 2.5 1.7 2.4 1.7 2.4 1.9 2.5 2 2.4 2.1 2.5 2.1 2.4 2.3 2.4 2.2 2.5 2.3 2.4 2.4 2.5 2.4 2.4 2.4 2.5 2.4 2.4 2.4 2.4 2.3 2.5 2.4 2.4 2.2 2.5 2.3 2.4 2.1 2.5 2.1 2.4 1.9 2.4 1.9 2.5 1.7 2.4 1.5 2.5 1.4 2.4 1.3 2.4 1 2.5 .8 2.4 .6 2.5 .4 2.4 .1 2.5-.2 2.4-.5zM669.9 175.4l-2.4 .5-2.5 .2-2.4-.1-2.5-.4-2.4-.6-2.5-.8-2.4-1-2.4-1.3-2.5-1.4-2.4-1.5-2.5-1.8-2.4-1.8-2.5-2-2.4-2-2.4-2.2-2.5-2.2-2.4-2.3-2.5-2.4-2.4-2.3-2.5-2.4-2.4-2.5-2.4-2.4-2.5-2.4-2.4-2.4-2.5-2.3-2.4-2.3-2.4-2.3-2.5-2.1-2.4-2.1-2.5-2.1-2.4-1.9-2.5-1.8-2.4-1.7-2.4-1.6-2.5-1.4-2.4-1.3-2.5-1.2-2.4-.9-2.5-.9-2.4-.6-2.4-.5-2.5-.3-2.4 0-2.5 .1-2.4 .3-2.4 .6-2.5 .8-2.4 1-2.5 1.2-2.4 1.5-2.5 1.8-2.4 2-2.4 2.3-2.5 2.5-2.4 2.8-2.5 3.1-2.4 3.4-2.5 3.6-2.4 4-2.4 4.2-2.5 4.6-2.4 4.8-2.5 5.2-2.4 56.9 3 1.4 2.4-55.5 2.5-5.1 2.4-4.9 2.5-4.5 2.4-4.3 2.5-3.9 2.4-3.7 2.4-3.4 2.5-3.1 2.4-2.8 2.5-2.6 2.4-2.3 2.4-2 2.5-1.8 2.4-1.6 2.5-1.3 2.4-1 2.5-.9 2.4-.6 2.4-.3 2.5-.2 2.4 0 2.5 .3 2.4 .4 2.5 .6 2.4 .8 2.4 .9 2.5 1.1 2.4 1.3 2.5 1.4 2.4 1.5 2.5 1.7 2.4 1.7 2.4 1.9 2.5 2 2.4 2.1 2.5 2.1 2.4 2.3 2.4 2.2 2.5 2.3 2.4 2.4 2.5 2.4 2.4 2.4 2.5 2.4 2.4 2.4 2.4 2.3 2.5 2.4 2.4 2.2 2.5 2.3 2.4 2.1 2.5 2.1 2.4 1.9 2.4 1.9 2.5 1.7 2.4 1.5 2.5 1.4 2.4 1.3 2.4 1 2.5 .8 2.4 .6 2.5 .4 2.4 .1 2.5-.2 2.4-.5z"/><g fill="none" stroke-width="0.45" stroke-opacity="1.0" stroke-linejoin="round"><path stroke="#3f29b2" d="M446 149.8l-.9 .2-2.4 .7-2.4 .6-2.5 .7-2.4 .6-2.5 .7-2.4 .6-2.5 .7-2.4 .6-2.4 .7-2.5 .7-2.4 .6-2.5 .7-2.4 .6-2.4 .7-2.5 .6-2.4 .7-2.5 .6-2.4 .7-2.5 .6-2.4 .7M444.2 151.3l-2.4 .7-2.5 .7-2.4 .6-2.5 .7-2.4 .6-2.4 .7-2.5 .6-2.4 .7-2.5 .6-2.4 .7-2.5 .6-2.4 .7-2.4 .7-2.5 .6-2.4 .7-2.5 .6-2.4 .7-2.5 .6-2.4 .7M442.5 152.9l-1.7 .4-2.4 .6-2.5 .7-2.4 .7-2.4 .6-2.5 .7-2.4 .6-2.5 .7-2.4 .6-2.5 .7-2.4 .7-2.4 .6-2.5 .7-2.4 .6-2.5 .7-2.4 .7-2.5 .6-2.4 .7M441.5 154.1l-1.6 .4-2.5 .7-2.4 .6-2.4 .7-2.5 .7-2.4 .6-2.5 .7-2.4 .7-2.5 .6-2.4 .7-2.4 .7-2.5 .6-2.4 .7-2.5 .7-2.4 .6-2.4 .7-2.5 .7M439.8 155.4l-.9 .3-2.4 .6-2.4 .7-2.5 .7-2.4 .6-2.5 .7-2.4 .7-2.4 .7-2.5 .6-2.4 .7-2.5 .7-2.4 .7-2.5 .7-2.4 .6-2.4 .7-2.5 .8M438.8 156.5l-.8 .2-2.4 .7-2.5 .7-2.4 .7-2.5 .7-2.4 .6-2.4 .7-2.5 .7-2.4 .7-2.5 .7-2.4 .7-2.5 .7-2.4 .7-2.4 .7-2.5 .9M437.1 157.7l-2.5 .7-2.4 .7-2.5 .7-2.4 .7-2.4 .7-2.5 .7-2.4 .7-2.5 .8-2.4 .7-2.5 .7-2.4 .7-2.4 .8-2.5 1M436.1 158.6l-2.4 .7-2.5 .7-2.4 .7-2.4 .8-2.5 .7-2.4 .8-2.5 .7-2.4 .8-2.4 .7-2.5 .8-2.4 .8-2.5 1.2M435.2 159.3l-2.4 .8-2.5 .8-2.4 .7-2.5 .8-2.4 .8-2.5 .8-2.4 .8-2.4 .8-2.5 .8-2.4 .8-2.5 1.5M426.9 162.4l-2.4 .9-2.5 .8-2.4 .8-2.4 .9-2.5 .8-2.4 .9-2.5 1.9M418.7 165.9l-2.5 .9-2.4 .9-2.5 2.3M415.3 167.9l-2.5 2.8M636.8 160.1l-.8 .2M638.3 160.8l-1.6 .3M639.8 161.5l-2.4 .5M641.3 162.2l-2.4 .5M642.8 162.9l-2.4 .5-.8 .1M644.3 163.6l-2.4 .5-1.6 .1M645.8 164.3l-2.4 .5-1.6 .1M647.3 165l-2.4 .5-2.4 .2M648.8 165.7l-2.4 .5-2.4 .2-.9-.1M650.3 166.4l-2.4 .5-2.4 .2-1.7-.1M651.8 167.1l-2.4 .5-2.4 .2-2.5-.1M653.4 167.8l-2.5 .4-2.4 .2-2.5 0M654.9 168.5l-2.5 .4-2.4 .2-2.5 0-.8-.2M656.4 169.2l-2.5 .4-2.4 .2-2.5-.1-1.6-.2M657.9 169.9l-2.5 .4-2.4 .2-2.5-.1-2.4-.3M659.4 170.5l-2.5 .5-2.4 .2-2.5-.1-2.4-.3-.8-.2M660.9 171.2l-2.5 .5-2.4 .2-2.5-.1-2.4-.3-1.6-.4M662.4 171.9l-2.5 .5-2.4 .2-2.5-.1-2.4-.3-1.6-.4M663.9 172.6l-2.5 .5-2.4 .2-2.4-.1-2.5-.4-2.4-.5M665.4 173.3l-2.5 .5-2.4 .2-2.4-.1-2.5-.4-2.4-.6M666.9 174l-2.5 .5-2.4 .2-2.4-.1-2.5-.4-2.4-.6M668.4 174.7l-2.5 .5-2.4 .2-2.4-.1-2.5-.4-2.4-.6M669.9 175.4l-2.4 .5-2.5 .2-2.4-.1-2.5-.4-2.4-.6M671.4 176.1l-2.4 .5-2.5 .2-2.4-.1-2.5-.4-2.4-.6M672.9 176.8l-2.4 .5-2.5 .2-2.4-.1-2.5-.4-2.4-.6M634.6 159.1l.7 .3 1.5 .7 1.5 .7 1.5 .7 1.5 .7 1.5 .7 1.5 .7 1.5 .7 1.5 .7 1.5 .7 1.5 .7 1.5 .7 1.6 .7 1.5 .7 1.5 .7 1.5 .7 1.5 .6 1.5 .7 1.5 .7 1.5 .7 1.5 .7 1.5 .7 1.5 .7 1.5 .7 1.5 .7 1.5 .7M638.1 162.4l.8 .3 1.5 .7 1.5 .7 1.5 .7 1.5 .7 1.5 .7 1.5 .7 1.5 .7 1.5 .6 1.5 .7 1.5 .7 1.5 .7 1.5 .7 1.5 .7 1.5 .7 1.5 .7 1.5 .7 1.5 .7 1.5 .7 1.6 .7 1.5 .7 1.5 .7M642.5 165.7l1.5 .7 1.5 .7 1.5 .7 1.5 .6 1.5 .7 1.5 .7 1.5 .7 1.5 .7 1.5 .7 1.5 .7 1.5 .7 1.5 .7 1.5 .7 1.5 .7 1.5 .7 1.5 .7 1.5 .7M645.3 168l.7 .4 1.5 .7 1.5 .6 1.5 .7 1.5 .7 1.5 .7 1.5 .7 1.6 .7 1.5 .7 1.5 .7 1.5 .7 1.5 .7 1.5 .7 1.5 .7M648.8 170.4l.8 .4 1.5 .7 1.5 .7 1.5 .6 1.5 .7 1.5 .7 1.5 .7 1.5 .7 1.5 .7 1.5 .7M442.7 150.7l1.5 .6M440.3 151.3l1.5 .7 1.5 .6M437.8 152l1.5 .7 1.5 .6 .8 .3M435.4 152.6l1.5 .7 1.5 .6 1.5 .6 .7 .3M432.9 153.3l1.5 .7 1.5 .6 1.5 .6 1.5 .5 .8 .2M430.5 153.9l1.5 .7 1.5 .7 1.5 .5 1.5 .5 1.5 .4M428 154.6l1.6 .7 1.5 .6 1.5 .6 1.5 .5 1.5 .4 1.5 .3M425.6 155.2l1.5 .7 1.5 .7 1.5 .6 1.5 .5 1.5 .4 1.5 .3 1.5 .2M423.2 155.9l1.5 .7 1.5 .6 1.5 .6 1.5 .5 1.5 .5 1.5 .3 1.5 .2 1.5 0M420.7 156.6l1.5 .6 1.5 .7 1.5 .6 1.5 .5 1.5 .5 1.5 .3 1.5 .2 1.6 .1 1.5-.1M418.3 157.2l1.5 .7 1.5 .6 1.5 .7 1.5 .5 1.5 .4 1.5 .4 1.5 .2 1.5 .2 1.5-.1M415.8 157.9l1.5 .6 1.5 .7 1.5 .6 1.6 .6 1.5 .4 1.5 .4 1.5 .3 1.5 .1 1.5 0M413.4 158.5l1.5 .7 1.5 .7 1.5 .6 1.5 .5 1.5 .5 1.5 .4 1.5 .3 1.5 .2 1.5 0 1.5-.1M411 159.2l1.5 .7 1.5 .6 1.5 .7 1.5 .5 1.5 .5 1.5 .4 1.5 .4 1.5 .2 1.5 .1 1.5-.1M408.5 159.8l1.5 .7 1.5 .7 1.5 .6 1.5 .6 1.5 .5 1.5 .5 1.5 .3 1.5 .3 1.5 .1 1.5 0M406.1 160.5l1.5 .7 1.5 .6 1.5 .7 1.5 .6 1.5 .5 1.5 .5 1.5 .4 1.5 .3 1.5 .1 1.5 .1M403.6 161.1l1.5 .7 1.5 .7 1.5 .7 1.5 .6 1.5 .5 1.5 .5 1.6 .4 1.5 .4 1.5 .2 1.5 .1 1.5 0M401.2 161.8l1.5 .7 1.5 .7 1.5 .6 1.5 .6 1.5 .6 1.5 .5 1.5 .5 1.5 .4 1.5 .2 1.5 .2 1.5 .1M398.7 162.4l1.5 .7 1.5 .7 1.6 .7 1.5 .6 1.5 .6 1.5 .6 1.5 .5 1.5 .4 1.5 .3 1.5 .2 1.5 .2 1.5 0M396.3 163.1l1.5 .7 1.5 .7 1.5 .7 1.5 .7 1.5 .7 1.5 .7 1.5 .7 1.5 .7 1.5 .7 1.5 .6 1.5 .7 1.5 .7 1.5 .7 1.6 .7 1.5 .7 1.5 .7 1.5 .7 1.5 .7 1.5 .7 1.5 .7 1.5 .7 1.5 .7 1.5 .7 1.5 .7 1.5 .7 1.5 .7 1.5 .7 1.5 .7 1.5 .7 1.5 .7 1.5 .6 1.5 .7 1.5 .7 1.5 .7 1.5 .7 1.5 .7 1.5 .7 1.5 .7 1.5 .7 1.5 .7 1.6 .7 1.5 .7 1.5 .7 1.5 .7 1.5 .7 1.5 .7 1.5 .7 1.5 .7 1.5 .7 1.5 .6 1.5 .7 1.5 .7 1.5 .7 1.5 .7 1.5 .7 1.5 .7 1.5 .7 1.5 .7 1.5 .7 1.5 .7 1.5 .7 1.5 .7 1.5 .7 1.5 .7 1.5 .7 1.5 .7 1.6 .7 1.5 .7 1.5 .7 1.5 .7 1.5 .6 1.5 .7 1.5 .7 1.5 .7 1.5 .7 1.5 .7 1.5 .7 1.5 .7 1.5 .7 1.5 .7"/>
<path stroke="#4230c4" d="M434.3 160l-2.5 .8-2.4 .8-2.5 .8M433.3 160.6l-2.4 .9-2.5 .8-2.4 .9-2.5 .9-2.4 .9-2.4 .9M433.2 160.9l-.8 .3-2.5 .9-2.4 .9-2.4 1-2.5 .9-2.4 1-2.5 1-2.4 1M429 162.7l-2.4 1-2.5 1-2.4 1.1-2.5 1-2.4 1.1-2.5 3.5M423.2 165.5l-2.5 1.2-2.4 1.2-2.5 4.2M419.8 167.7l-2.4 5.1M595.5 149l-.8-.2M614.5 156.3l-.8-.3M616 156.9l-.8-.3M617.5 157.6l-.8-.3M619 158.2l-.8-.3M620.5 158.8l-.8-.3M625.9 161l-.9-.3M627.4 161.7l-.9-.3M628.9 162.4l-1.7-.7M651.7 172.3l-.8-.3M653.2 172.9l-.8-.2M654.7 173.6l-1.7-.5M656.2 174.3l-2.5-.8M657.7 175l-2.5-.8M659.2 175.7l-2.5-.8M660.7 176.4l-2.5-.8M650.9 171.9l.8 .4 1.5 .6 1.5 .7 1.5 .7 1.5 .7 1.5 .7 1.5 .7M431.8 160.8l1.5-.2M429.4 161.6l1.5-.1 1.5-.3 .7-.2M428.4 162.3l1.5-.2 1.5-.4M426 163.2l1.5-.2 1.5-.3 1.5-.4M423.5 164.1l1.6-.1 1.5-.3 1.5-.4M421.1 165l1.5-.1 1.5-.2 1.5-.3M420.2 165.9l1.5-.1 1.5-.3 1.5-.3M417.7 166.9l1.5-.1 1.5-.1 1.5-.3M416.8 167.9l1.5 0 1.5-.2 1.5-.3"/>
<path stroke="#4536d5" d="M432.3 161.4l-.9 .3-2.4 1M431.3 161.9l-.8 .4-2.4 1-2.5 1.1-2.4 1.1M431.2 162.1l-1.6 .7-2.5 1.2-2.4 1.2-2.5 1.2-2.4 1.3M426.2 164.7l-2.5 1.3-2.4 1.4-2.4 6.1M422.8 167l-2.4 7.2M536.6 137.6l-2.4 .1-.8 0M541.4 137.6l-.8 0-2.4 0-2.5 0M543.7 137.7l-1.6 0-2.4-.1M547.7 137.9l-1.7 0-2.4-.2M550 138.1l-2.5-.1M553.1 138.4l-.8 0M555.4 138.7l-2.4-.2M557.8 139.1l-.9-.1M560.1 139.4l-1.7-.2M562.4 139.8l-2.5-.4M567 140.8l-1.6-.4M571 141.6l-.8-.2M569.3 141.3l-2.4-.6M572.5 142l-.8-.2M574 142.4l-1.6-.4M576.3 143l-2.4-.6M577.8 143.4l-2.4-.6M581.7 144.5l-1.6-.4M582.4 144.8l-1.6-.5M584.8 145.5l-2.5-.8M587.9 146.4l-.8-.2M586.3 146l-2.5-.8M589.4 146.9l-.8-.2M587.8 146.4l-2.5-.8M590.9 147.4l-.8-.2M589.3 146.9l-2.5-.8M593.2 148.2l-2.4-.8M594.7 148.8l-2.4-.8M596.2 149.3l-2.4-.8M597.7 149.9l-2.4-.9M599.2 150.4l-2.4-.9M602.4 151.5l-.9-.2M600.7 151l-2.4-1M602.2 151.6l-2.4-1M605.4 152.7l-1.7-.6-2.4-1M607.7 153.6l-1.6-.6M605.2 152.7l-2.4-1M609.2 154.2l-2.5-.9-2.4-1.1M610.7 154.8l-2.5-.9M612.2 155.4l-2.4-.9M613.7 156l-2.4-1M615.2 156.6l-2.4-1M616.7 157.3l-2.4-1.1M618.2 157.9l-2.4-1M619.7 158.5l-2.4-1M621.2 159.2l-2.4-1.1M622.7 159.8l-2.4-1.1M624.2 160.4l-2.4-1.1M625.7 161.1l-2.4-1.1M627.2 161.7l-2.4-1.1M628.7 162.4l-2.4-1.2M631.9 163.7l-.8-.4M630.2 163l-2.4-1.1M633.4 164.3l-.8-.3M631.7 163.7l-2.4-1.2M634.9 165l-1.7-.7-2.4-1.1M634.8 165l-2.5-1.2M637.9 166.3l-.8-.3M636.3 165.7l-2.5-1.2M639.4 167l-1.6-.7-2.5-1.2M640.9 167.7l-.8-.4M639.3 167l-2.5-1.2M642.4 168.4l-.8-.4M640.8 167.7l-2.5-1.2M643.9 169l-1.6-.6-2.5-1.3M645.4 169.7l-.8-.3M643.8 169l-2.5-1.2M646.9 170.4l-1.6-.7-2.5-1.2M646.8 170.4l-2.5-1.2M649.1 171.4l-.8-.3-2.5-1.2M649.8 171.8l-2.5-1.3M651.3 172.5l-2.4-1.3M655.2 174.2l-1.6-.7M652.8 173.2l-2.4-1.3M656.7 174.9l-2.4-1-2.4-1.3M658.2 175.6l-2.4-1-2.4-1.3M655.2 174.2l1.5 .7 1.5 .7M608.4 153.9l.8 .3M609.9 154.5l.8 .3M611.4 155.1l.8 .3M613.7 156l.8 .3M615.2 156.6l.8 .4M616.7 157.3l.8 .3M618.2 157.9l.8 .3M619.7 158.5l1.5 .7 1.5 .6 1.5 .6 1.5 .7 1.5 .6 1.5 .7 .8 .3M630.2 163l1.5 .7 1.5 .6 1.6 .7 1.5 .7 1.5 .6 1.5 .7 1.5 .7 1.5 .7 1.5 .6 1.5 .7 1.5 .7 1.5 .7 1.5 .7 1.5 .7 .7 .3M652.8 173.2l1.5 .7 1.5 .7M594 148.5l.7 .3 1.5 .5M597.7 149.9l1.5 .5 1.5 .6 1.5 .6 1.5 .5 1.5 .6 1.5 .6 1.5 .6M586.3 146l1.5 .4 1.5 .5 1.5 .5M577.8 143.4l1.5 .5M566.3 140.6l.8 .1M567.8 140.9l.8 .2M569.3 141.3l1.5 .3M560.9 139.6l.7 .1M562.4 139.8l.7 .2M555.4 138.7l1.5 .3M550 138.1l1.5 .2M543 137.6l.8 .1M544.5 137.7l.8 .1M546 137.9l1.5 .1M540.6 137.6l1.5 .1 1.5 0M536.6 137.6l1.6 0 1.5 0M534.2 137.7l1.5-.1M431.4 161.7l.8-.2M430.5 162.3l.8-.3M428.1 163.3l1.5-.5 1.5-.6M425.6 164.4l1.5-.4 1.5-.6M424.7 165.2l1.5-.5 1.5-.6M422.2 166.4l1.5-.4 1.5-.5M421.3 167.4l1.5-.4 1.5-.6"/>
<path stroke="#473fe2" d="M431.1 162.2l-2.5 1.2-2.4 1.3M431.8 161.8l-1.7 .9-2.4 1.4-2.5 1.4-2.4 1.5M429.2 163.3l-2.5 1.6-2.4 1.5-2.4 8.5M535.7 137.6l-2.4 0M425.8 165.8l-2.4 9.8M539.7 137.6l-2.5 0-2.4-.1-1.7 0M543.6 137.7l-2.4-.1-2.5-.1-2.4-.2M547.5 138l-2.4-.2-2.4-.2-2.5-.2M551.5 138.3l-2.5-.2-2.4-.3-2.4-.2M553 138.5l-2.4-.3-2.5-.3M556.9 139l-2.4-.4-2.4-.3-2.5-.4M558.4 139.2l-2.4-.4-2.4-.4M559.9 139.4l-2.4-.4-2.4-.5M563.9 140.1l-2.4-.4-2.5-.5M565.4 140.4l-2.4-.5-2.5-.6M566.9 140.7l-2.4-.5-2.5-.7M570.8 141.6l-2.4-.5-2.4-.7M572.4 142l-2.5-.6-2.4-.8M573.9 142.4l-2.5-.7-2.4-.8M575.4 142.8l-2.5-.8M579.3 143.9l-2.4-.8-2.5-.8M580.8 144.3l-2.4-.8-2.5-.8M582.3 144.7l-2.4-.8-2.5-.9M583.8 145.2l-2.4-.9M585.3 145.6l-2.4-.9M586.8 146.1l-2.4-1M590.8 147.4l-2.5-.9-2.4-1M592.3 148l-2.5-1-2.4-1M593.8 148.5l-2.5-1-2.4-1.1M595.3 149l-2.5-1-2.4-1.2M596.8 149.5l-2.5-1M598.3 150l-2.5-1.1M599.8 150.6l-2.4-1.1M601.3 151.1l-2.4-1.1M602.8 151.7l-2.4-1.2M604.3 152.2l-2.4-1.2M608.2 153.9l-2.4-1.1-2.4-1.3M609.8 154.5l-2.5-1.2-2.4-1.2M611.3 155l-2.5-1.1-2.4-1.3M612.8 155.6l-2.5-1.1-2.4-1.3M614.3 156.2l-2.5-1.1-2.4-1.4M615.8 156.9l-2.5-1.3-2.4-1.3M617.3 157.5l-2.5-1.3M618.8 158.1l-2.5-1.3M620.3 158.7l-2.5-1.3M621.8 159.3l-2.5-1.3M623.3 160l-2.5-1.3M624.8 160.6l-2.5-1.3M626.3 161.2l-2.4-1.3M627.8 161.9l-2.4-1.4M629.3 162.5l-2.4-1.3M630.8 163.2l-2.4-1.4M632.3 163.8l-2.4-1.3M633.8 164.5l-2.4-1.4M635.3 165.1l-2.4-1.3M636.8 165.8l-2.4-1.4M638.3 166.5l-2.4-1.4M639.8 167.1l-2.4-1.4M641.3 167.8l-2.4-1.4M642.8 168.5l-2.4-1.4M644.3 169.2l-2.4-1.4M645.8 169.9l-2.4-1.4M647.3 170.5l-2.4-1.4M648.9 171.2l-2.5-1.4M650.4 171.9l-2.5-1.4M651.9 172.6l-2.5-1.4M653.4 173.3l-2.5-1.4M608.2 153.9l1.6 .6 1.5 .5 1.5 .6 1.5 .6 1.5 .7 1.5 .6 1.5 .6 1.5 .6 1.5 .6 1.5 .7 1.5 .6 1.5 .6 1.5 .7 1.5 .6 1.5 .7 1.5 .6 1.5 .7 1.5 .6 1.5 .7 1.5 .7 1.5 .6 1.5 .7 1.5 .7 1.5 .7 1.5 .7 1.5 .6 1.6 .7 1.5 .7 1.5 .7 1.5 .7M590.8 147.4l1.5 .6 1.5 .5 1.5 .5 1.5 .5 1.5 .5 1.5 .6 1.5 .5 1.5 .6 1.5 .5 1.5 .6 1.5 .5 1.5 .6 1.5 .6 1.5 .6 1.5 .5 1.5 .6M579.3 143.9l1.5 .4 1.5 .4 1.5 .5 1.5 .4 1.5 .5 1.5 .4 1.5 .5 1.5 .5 1.5 .5 1.5 .5M570.8 141.6l1.6 .4 1.5 .4 1.5 .4 1.5 .3 1.5 .4 1.5 .4 1.5 .4M563.9 140.1l.7 .2M565.4 140.4l1.5 .3 1.5 .4 1.5 .3 1.5 .3 1.5 .3M556.9 139l1.5 .2 1.5 .2 1.6 .3 1.5 .2 1.5 .3 1.5 .2M551.5 138.3l1.5 .2 1.5 .1 1.5 .2 1.5 .2 1.5 .2M547.5 138l1.5 .1 1.6 .1 1.5 .1 1.5 .1M543.6 137.7l1.5 .1 1.5 0 1.5 .1M539.7 137.6l1.5 0 1.5 0 1.5 0M535.7 137.6l1.5 0 1.5-.1 1.5-.1M533.3 137.6l1.5-.1 1.5-.2M428.6 163.4l.8-.3M430.1 162.7l1.5-.8M427.7 164.1l1.5-.8 1.5-.8M425.2 165.5l1.5-.6 1.6-.8M424.3 166.4l1.5-.6 1.5-.7"/>
<path stroke="#4747ec" d="M431.6 161.9l-2.4 1.4M433.1 160.9l-2.4 1.6-2.4 1.6-2.5 1.7M429.8 163.3l-2.5 1.8-2.4 11.2M536.3 137.3l-2.5-.1M428.8 164.3l-2.4 12.7M540.2 137.4l-2.4-.2-2.5-.2-1.6-.2M544.2 137.6l-2.5-.3-2.4-.3-2.5-.3M548.1 137.9l-2.4-.4-2.5-.3-2.4-.4M549.6 137.9l-2.4-.4-2.5-.4M553.6 138.4l-2.5-.5-2.4-.4M555.1 138.5l-2.5-.5-2.4-.6M559 139.2l-2.4-.6-2.5-.6M560.5 139.3l-2.4-.6-2.5-.7M562 139.5l-2.4-.7M566 140.4l-2.5-.7-2.4-.8M567.5 140.6l-2.5-.7-2.4-.8M569 140.9l-2.5-.8M572.9 142l-2.4-.8-2.5-.9M574.4 142.3l-2.4-.9-2.5-.9M575.9 142.7l-2.4-1M577.4 143l-2.4-1M581.4 144.3l-2.5-1-2.4-1M582.9 144.7l-2.5-1-2.4-1.1M584.4 145.1l-2.5-1-2.4-1.2M585.9 145.5l-2.5-1.1M587.4 146l-2.5-1.2M588.9 146.4l-2.4-1.2M590.4 146.8l-2.4-1.2M594.3 148.5l-2.4-1.2-2.4-1.3M595.8 148.9l-2.4-1.2-2.4-1.3M597.4 149.5l-2.5-1.3-2.4-1.3M598.9 150l-2.5-1.3M600.4 150.5l-2.5-1.3M601.9 151l-2.5-1.3M603.4 151.5l-2.5-1.3M604.9 152.1l-2.5-1.4M606.4 152.6l-2.5-1.4M607.9 153.2l-2.5-1.5M609.4 153.7l-2.5-1.5M610.9 154.3l-2.5-1.5M614.8 156.2l-2.4-1.3-2.5-1.6M616.3 156.8l-2.4-1.4-2.5-1.5M617.8 157.4l-2.4-1.4-2.4-1.5M619.3 158l-2.4-1.4-2.4-1.6M620.8 158.7l-2.4-1.5M622.3 159.3l-2.4-1.5M623.9 159.9l-2.5-1.5M625.4 160.5l-2.5-1.5M626.9 161.2l-2.5-1.5M628.4 161.8l-2.5-1.5M629.9 162.5l-2.5-1.6M631.4 163.1l-2.5-1.5M632.9 163.8l-2.5-1.6M634.4 164.4l-2.5-1.5M635.9 165.1l-2.5-1.6M637.4 165.7l-2.5-1.5M638.9 166.4l-2.5-1.5M640.4 167.1l-2.4-1.6M641.9 167.8l-2.4-1.6M643.4 168.5l-2.4-1.6M644.9 169.1l-2.4-1.5M646.4 169.8l-2.4-1.5M647.9 170.5l-2.4-1.5M649.4 171.2l-2.4-1.5M650.9 171.9l-2.4-1.5M614.8 156.2l1.5 .6 1.5 .6 1.5 .6 1.5 .7 1.5 .6 1.6 .6 1.5 .6 1.5 .7 1.5 .6 1.5 .7 1.5 .6 1.5 .7 1.5 .6 1.5 .7 1.5 .6 1.5 .7 1.5 .7 1.5 .7 1.5 .7 1.5 .6 1.5 .7 1.5 .7 1.5 .7 1.5 .7M594.3 148.5l1.5 .4 1.6 .6 1.5 .5 1.5 .5 1.5 .5 1.5 .5 1.5 .6 1.5 .5 1.5 .6 1.5 .5 1.5 .6 1.5 .6 1.5 .5 1.5 .6 1.5 .6 1.5 .6M581.4 144.3l1.5 .4 1.5 .4 1.5 .4 1.5 .5 1.5 .4 1.5 .4 1.5 .5 1.5 .4 1.5 .5 1.5 .5M572.9 142l1.5 .3 1.5 .4 1.5 .3 1.5 .3 1.5 .4 1.5 .4 1.5 .3M566 140.4l1.5 .2 1.5 .3 1.5 .3 1.5 .2 1.5 .3M559 139.2l1.5 .1 1.5 .2 1.5 .2 1.5 .2 1.5 .2M553.6 138.4l1.5 .1 1.5 .1 1.5 .1 1.5 .1M548.1 137.9l1.5 0 1.5 0 1.5 .1 1.5 0M544.2 137.6l1.5-.1 1.5 0 1.5 0M540.2 137.4l1.5-.1 1.5-.1 1.5-.1M536.3 137.3l1.5-.1 1.5-.2 1.5-.2M533.1 137.3l.7-.1 1.5-.2 1.5-.3M430.7 162.5l1.5-.9M428.3 164.1l1.5-.8 1.5-1M427.3 165.1l1.5-.8 1.5-.9"/>
<path stroke="#4850f3" d="M433.8 160.4l-1.6 1.2-2.4 1.7M433.7 160.5l-2.4 1.8-2.5 2M430.3 163.4l-2.4 14.3M536.8 136.7l-2.4-.3M540.8 136.8l-2.5-.4-2.4-.3M544.7 137.1l-2.4-.5-2.5-.4M548.7 137.5l-2.5-.5-2.4-.6-2.5-.5M550.2 137.4l-2.5-.6-2.4-.5M554.1 138l-2.4-.6-2.5-.7M555.6 138l-2.4-.6-2.5-.8M559.6 138.8l-2.5-.7-2.4-.8M561.1 138.9l-2.5-.8-2.4-.8M562.6 139.1l-2.5-.9M566.5 140.1l-2.4-.9-2.5-.9M568 140.3l-2.4-1M569.5 140.5l-2.4-1M573.5 141.7l-2.5-1-2.4-1M575 142l-2.5-1.1-2.4-1.1M576.5 142.3l-2.5-1.1M578 142.6l-2.4-1.2M579.5 142.9l-2.4-1.2M583.4 144.4l-2.4-1.2-2.4-1.2M584.9 144.8l-2.4-1.2M586.5 145.2l-2.5-1.3M588 145.6l-2.5-1.3M589.5 146l-2.5-1.4M591 146.4l-2.5-1.4M592.5 146.9l-2.5-1.5M596.4 148.7l-2.4-1.4-2.5-1.5M597.9 149.2l-2.4-1.5M599.4 149.7l-2.4-1.5M600.9 150.2l-2.4-1.5M602.4 150.7l-2.4-1.6M603.9 151.2l-2.4-1.6M605.4 151.7l-2.4-1.6M606.9 152.2l-2.4-1.6M608.4 152.8l-2.4-1.6M609.9 153.3l-2.4-1.6M611.4 153.9l-2.4-1.7M613 154.5l-2.5-1.7M614.5 155l-2.5-1.7M618.4 157.2l-2.4-1.6-2.5-1.7M619.9 157.8l-2.4-1.6-2.5-1.7M621.4 158.4l-2.4-1.6M622.9 159l-2.4-1.6M624.4 159.7l-2.4-1.7M625.9 160.3l-2.4-1.7M627.4 160.9l-2.4-1.6M628.9 161.6l-2.4-1.7M630.4 162.2l-2.4-1.7M631.9 162.9l-2.4-1.7M633.4 163.5l-2.4-1.7M634.9 164.2l-2.4-1.7M636.4 164.9l-2.4-1.8M638 165.5l-2.5-1.7M639.5 166.2l-2.5-1.7M641 166.9l-2.5-1.7M642.5 167.6l-2.5-1.7M644 168.3l-2.5-1.8M645.5 169l-2.5-1.8M647 169.7l-2.5-1.8M648.5 170.4l-2.5-1.7M618.4 157.2l1.5 .6 1.5 .6 1.5 .6 1.5 .7 1.5 .6 1.5 .6 1.5 .7 1.5 .6 1.5 .7 1.5 .6 1.5 .7 1.5 .7 1.6 .6 1.5 .7 1.5 .7 1.5 .7 1.5 .7 1.5 .7 1.5 .7 1.5 .7M596.4 148.7l1.5 .5 1.5 .5 1.5 .5 1.5 .5 1.5 .5 1.5 .5 1.5 .5 1.5 .6 1.5 .5 1.5 .6 1.6 .6 1.5 .5 1.5 .6 1.5 .6 1.5 .6M583.4 144.4l1.5 .4 1.6 .4 1.5 .4 1.5 .4 1.5 .4 1.5 .5 1.5 .4 1.5 .4M573.5 141.7l1.5 .3 1.5 .3 1.5 .3 1.5 .3 1.5 .3 1.5 .4M566.5 140.1l1.5 .2 1.5 .2 1.5 .2 1.5 .2 1.5 .3M559.6 138.8l1.5 .1 1.5 .2 1.5 .1 1.5 .1M554.1 138l1.5 0 1.5 .1 1.5 0 1.5 .1M548.7 137.5l1.5-.1 1.5 0 1.5 0 1.5-.1M544.7 137.1l1.5-.1 1.5-.2 1.5-.1M540.8 136.8l1.5-.2 1.5-.2 1.5-.1M536.8 136.7l1.5-.3 1.5-.2M533.6 136.6l.8-.2 1.5-.3M432.2 161.6l1.5-1.1 1.5-1.1M431.3 162.3l1.5-1M430.3 163.4l1.5-1"/>
<path stroke="#4759f8" d="M434.9 159.6l-1.2 .9M435.2 159.4l-2.4 1.9-2.5 2.1M434.3 160.2l-2.5 2.2-2.4 16M535.9 136.1l-1.6-.3M539.8 136.2l-2.4-.5-2.4-.4M541.3 135.9l-2.4-.5-2.4-.5M545.3 136.3l-2.4-.6-2.5-.6M549.2 136.7l-2.4-.6-2.4-.7M550.7 136.6l-2.4-.7M554.7 137.3l-2.5-.8-2.4-.8M556.2 137.3l-2.4-.8M560.1 138.2l-2.4-.9-2.4-.9M561.6 138.3l-2.4-1M565.6 139.3l-2.5-1-2.4-1M567.1 139.5l-2.4-1.1-2.5-1.1M568.6 139.7l-2.4-1.2M570.1 139.8l-2.4-1.2M574 141.2l-2.4-1.2-2.4-1.2M575.6 141.4l-2.5-1.2M577.1 141.7l-2.5-1.3M578.6 142l-2.5-1.4M582.5 143.6l-2.4-1.4-2.5-1.4M584 143.9l-2.4-1.4-2.5-1.4M585.5 144.3l-2.4-1.5M587 144.6l-2.4-1.4M588.5 145l-2.4-1.5M590 145.4l-2.4-1.6M591.5 145.8l-2.4-1.6M595.5 147.7l-2.5-1.5-2.4-1.6M597 148.2l-2.5-1.6M598.5 148.7l-2.5-1.6M600 149.1l-2.5-1.6M601.5 149.6l-2.5-1.6M603 150.1l-2.4-1.7M604.5 150.6l-2.4-1.7M606 151.2l-2.4-1.8M607.5 151.7l-2.4-1.8M609 152.2l-2.4-1.8M610.5 152.8l-2.4-1.8M612 153.3l-2.4-1.8M613.5 153.9l-2.4-1.9M615 154.5l-2.4-1.9M619 156.8l-2.5-1.8M620.5 157.4l-2.5-1.8M622 158l-2.5-1.8M623.5 158.6l-2.5-1.8M625 159.3l-2.5-1.9M626.5 159.9l-2.5-1.8M628 160.5l-2.5-1.8M629.5 161.2l-2.4-1.9M631 161.8l-2.4-1.8M632.5 162.5l-2.4-1.9M634 163.1l-2.4-1.8M635.5 163.8l-2.4-1.8M637 164.5l-2.4-1.9M638.5 165.2l-2.4-1.9M640 165.9l-2.4-1.9M641.5 166.5l-2.4-1.8M643 167.2l-2.4-1.8M644.5 167.9l-2.4-1.8M646 168.7l-2.4-1.9M619 156.8l1.5 .6 1.5 .6 1.5 .6 1.5 .7 1.5 .6 1.5 .6 1.5 .7 1.5 .6 1.5 .7 1.5 .6 1.5 .7 1.5 .7 1.5 .7 1.5 .7 1.5 .6 1.5 .7 1.5 .7 1.5 .8M595.5 147.7l1.5 .5 1.5 .5 1.5 .4 1.5 .5 1.5 .5 1.5 .5 1.5 .6 1.5 .5 1.5 .5 1.5 .6 1.5 .5 1.5 .6 1.5 .6 1.5 .5M582.5 143.6l1.5 .3 1.5 .4 1.5 .3 1.5 .4 1.5 .4 1.5 .4 1.5 .4 1.5 .4M574 141.2l1.6 .2 1.5 .3 1.5 .3 1.5 .2 1.5 .3 1.5 .3M565.6 139.3l1.5 .2 1.5 .2 1.5 .1 1.5 .2 1.5 .2M560.1 138.2l1.5 .1 1.5 0 1.6 .1 1.5 .1M554.7 137.3l1.5 0 1.5 0 1.5 0M549.2 136.7l1.5-.1 1.5-.1 1.6 0M545.3 136.3l1.5-.2 1.5-.2M539.8 136.2l1.5-.3 1.6-.2 1.5-.3M535.9 136.1l1.5-.4 1.5-.3 1.5-.3M535 135.3l1.5-.4M435.2 159.4l1.5-1.2M432.8 161.3l1.5-1.1 1.5-1.1M431.8 162.4l1.5-1.1"/>
<path stroke="#4562fc" d="M437 158l-1.8 1.4M436.7 158.2l-2.4 2M435.8 159.1l-2.5 2.2-2.4 17.8M434.8 160.2l-2.4 19.6M536.5 134.9l-.8-.2M540.4 135.1l-2.4-.6-2.5-.7M544.4 135.4l-2.5-.7-2.4-.7M548.3 135.9l-2.4-.7-2.5-.8M549.8 135.7l-2.4-.8M553.8 136.5l-2.5-.9-2.4-.9M555.3 136.4l-2.5-1M559.2 137.3l-2.4-1-2.5-1M560.7 137.3l-2.4-1.1M562.2 137.3l-2.4-1.1M566.2 138.5l-2.5-1.1-2.4-1.2M567.7 138.6l-2.5-1.2M569.2 138.8l-2.5-1.3M573.1 140.2l-2.4-1.3-2.5-1.3M574.6 140.4l-2.4-1.4M576.1 140.6l-2.4-1.4M577.6 140.8l-2.4-1.4M579.1 141.1l-2.4-1.5M583.1 142.8l-2.5-1.5M584.6 143.2l-2.5-1.6M586.1 143.5l-2.5-1.6M587.6 143.8l-2.5-1.6M589.1 144.2l-2.5-1.7M590.6 144.6l-2.5-1.7M594.5 146.6l-2.4-1.6-2.4-1.8M596 147.1l-2.4-1.7M597.5 147.5l-2.4-1.7M599 148l-2.4-1.8M600.6 148.4l-2.5-1.8M602.1 148.9l-2.5-1.8M603.6 149.4l-2.5-1.8M605.1 149.9l-2.5-1.9M606.6 150.4l-2.5-1.9M608.1 151l-2.5-2M609.6 151.5l-2.5-2M611.1 152l-2.5-1.9M616.5 155l-2.4-1.8M618 155.6l-2.4-1.9M619.5 156.2l-2.4-1.9M621 156.8l-2.4-1.9M622.5 157.4l-2.4-1.9M624 158.1l-2.4-2M625.5 158.7l-2.4-1.9M627.1 159.3l-2.5-1.9M628.6 160l-2.5-2M630.1 160.6l-2.5-1.9M631.6 161.3l-2.5-2M633.1 162l-2.5-2M634.6 162.6l-2.5-1.9M636.1 163.3l-2.5-2M637.6 164l-2.5-2M639.1 164.7l-2.5-2M640.6 165.4l-2.5-2M642.1 166.1l-2.5-2M643.6 166.8l-2.4-1.9M616.5 155l1.5 .6 1.5 .6 1.5 .6 1.5 .6 1.5 .7 1.5 .6 1.6 .6 1.5 .7 1.5 .6 1.5 .7 1.5 .7 1.5 .6 1.5 .7 1.5 .7 1.5 .7 1.5 .7 1.5 .7 1.5 .7M594.5 146.6l1.5 .5 1.5 .4 1.5 .5 1.6 .4 1.5 .5 1.5 .5 1.5 .5 1.5 .5 1.5 .6 1.5 .5 1.5 .5 1.5 .6M583.1 142.8l1.5 .4 1.5 .3 1.5 .3 1.5 .4 1.5 .4 1.5 .4 1.5 .4M573.1 140.2l1.5 .2 1.5 .2 1.5 .2 1.5 .3 1.5 .2M566.2 138.5l1.5 .1 1.5 .2 1.5 .1 1.5 .1M559.2 137.3l1.5 0 1.5 0 1.5 .1 1.5 0M553.8 136.5l1.5-.1 1.5-.1 1.5-.1M548.3 135.9l1.5-.2 1.5-.1 1.5-.2M544.4 135.4l1.5-.2 1.5-.3M540.4 135.1l1.5-.4 1.5-.3M536.5 134.9l1.5-.4 1.5-.5M436.7 158.2l1.5-1.3M435.8 159.1l1.5-1.2M433.3 161.3l1.5-1.1 1.5-1.1"/>
<path stroke="#416bfe" d="M437.9 157.2l-1.2 1M440 155.4l-.6 .5M438.8 156.4l-.6 .5-2.4 2.2M437.3 157.9l-2.5 2.3M436.3 159.1l-2.4 21.4M539.5 134l-2.5-.6-.8-.3M543.4 134.4l-2.4-.8-2.5-.7M547.4 134.9l-2.5-.8-2.4-.9M548.9 134.7l-2.5-.9M552.8 135.4l-2.4-.9-2.5-1M554.3 135.3l-2.4-1.1M558.3 136.2l-2.5-1-2.4-1.2M559.8 136.2l-2.5-1.2M561.3 136.2l-2.5-1.3M565.2 137.4l-2.4-1.2-2.5-1.3M566.7 137.5l-2.4-1.3M568.2 137.6l-2.4-1.4M572.2 139l-2.5-1.4-2.4-1.4M573.7 139.2l-2.5-1.5M575.2 139.4l-2.5-1.5M576.7 139.6l-2.5-1.6M580.6 141.3l-2.4-1.5-2.5-1.6M582.1 141.6l-2.4-1.6M583.6 141.9l-2.4-1.7M585.1 142.2l-2.4-1.7M586.6 142.5l-2.4-1.7M588.1 142.9l-2.4-1.8M589.7 143.2l-2.5-1.8M593.6 145.4l-2.4-1.8M595.1 145.8l-2.4-1.8M596.6 146.2l-2.4-1.9M598.1 146.6l-2.4-1.8M599.6 147.1l-2.4-1.9M601.1 147.6l-2.4-2M602.6 148l-2.4-1.9M604.1 148.5l-2.4-2M605.6 149l-2.4-2M607.1 149.5l-2.4-2M612.6 152.6l-2.5-2M614.1 153.2l-2.5-2M615.6 153.7l-2.5-2M617.1 154.3l-2.5-2M618.6 154.9l-2.4-2M620.1 155.5l-2.4-2M621.6 156.1l-2.4-2M623.1 156.8l-2.4-2.1M624.6 157.4l-2.4-2.1M626.1 158l-2.4-2M627.6 158.7l-2.4-2.1M629.1 159.3l-2.4-2M630.6 160l-2.4-2.1M632.1 160.7l-2.4-2.1M633.6 161.3l-2.4-2M635.1 162l-2.4-2M636.6 162.7l-2.4-2M638.1 163.4l-2.4-2M639.6 164.1l-2.4-2M641.2 164.9l-2.5-2.1M612.6 152.6l1.5 .6 1.5 .5 1.5 .6 1.5 .6 1.5 .6 1.5 .6 1.5 .7 1.5 .6 1.5 .6 1.5 .7 1.5 .6 1.5 .7 1.5 .7 1.5 .6 1.5 .7 1.5 .7 1.5 .7 1.5 .7 1.6 .8M593.6 145.4l1.5 .4 1.5 .4 1.5 .4 1.5 .5 1.5 .5 1.5 .4 1.5 .5 1.5 .5 1.5 .5 1.5 .6M580.6 141.3l1.5 .3 1.5 .3 1.5 .3 1.5 .3 1.5 .4 1.6 .3 1.5 .4M572.2 139l1.5 .2 1.5 .2 1.5 .2 1.5 .2 1.5 .2M565.2 137.4l1.5 .1 1.5 .1 1.5 0 1.5 .1M558.3 136.2l1.5 0 1.5 0 1.5 0 1.5 0M552.8 135.4l1.5-.1 1.5-.1 1.5-.2M547.4 134.9l1.5-.2 1.5-.2 1.5-.3M543.4 134.4l1.5-.3 1.5-.3M539.5 134l1.5-.4 1.5-.4M536.3 133.6l.7-.2 1.5-.5M438.2 156.9l1.5-1.3M437.3 157.9l1.5-1.3M436.3 159.1l1.5-1.2"/>
<path stroke="#3875fe" d="M441.5 154l-1.8 1.6-2.4 2.3M441.2 154.2l-2.4 2.4-2.5 2.5M437.8 157.9l-2.4 23.3M538.5 132.9l-1.6-.5M542.5 133.2l-2.5-.8-2.4-.8M546.4 133.8l-2.4-.9-2.5-1M547.9 133.5l-2.4-1M551.9 134.2l-2.5-1-2.4-1.1M553.4 134l-2.5-1.1M557.3 135l-2.4-1.1-2.5-1.2M558.8 134.9l-2.4-1.2M560.3 134.9l-2.4-1.4M564.3 136.2l-2.5-1.4M565.8 136.2l-2.5-1.5M567.3 136.2l-2.5-1.5M571.2 137.7l-2.4-1.5M572.7 137.9l-2.4-1.6M574.2 138l-2.4-1.6M575.7 138.2l-2.4-1.7M579.7 140l-2.5-1.7M581.2 140.2l-2.4-1.7M582.7 140.5l-2.4-1.8M584.2 140.8l-2.4-1.8M585.7 141.1l-2.4-1.9M587.2 141.4l-2.4-1.9M591.2 143.6l-2.5-1.9M592.7 144l-2.5-1.9M594.2 144.3l-2.5-1.9M595.7 144.8l-2.5-2M597.2 145.2l-2.5-2M598.7 145.6l-2.5-2M600.2 146.1l-2.5-2.1M601.7 146.5l-2.5-2M603.2 147l-2.5-2.1M608.6 150.1l-2.4-2.1M610.1 150.6l-2.4-2.1M611.6 151.2l-2.4-2.1M613.1 151.7l-2.4-2.1M614.6 152.3l-2.4-2.1M616.2 152.9l-2.5-2.1M617.7 153.5l-2.5-2.2M619.2 154.1l-2.5-2.2M620.7 154.7l-2.5-2.1M622.2 155.3l-2.5-2.1M623.7 156l-2.5-2.2M625.2 156.6l-2.5-2.2M626.7 157.3l-2.5-2.2M628.2 157.9l-2.5-2.1M629.7 158.6l-2.5-2.2M631.2 159.3l-2.5-2.2M632.7 160l-2.4-2.2M634.2 160.7l-2.4-2.2M635.7 161.4l-2.4-2.2M637.2 162.1l-2.4-2.2M638.7 162.8l-2.4-2.1M608.6 150.1l1.5 .5 1.5 .6 1.5 .5 1.5 .6 1.6 .6 1.5 .6 1.5 .6 1.5 .6 1.5 .6 1.5 .7 1.5 .6 1.5 .7 1.5 .6 1.5 .7 1.5 .7 1.5 .7 1.5 .7 1.5 .7 1.5 .7 1.5 .7M591.2 143.6l1.5 .4 1.5 .3 1.5 .5 1.5 .4 1.5 .4 1.5 .5 1.5 .4 1.5 .5 1.5 .5M579.7 140l1.5 .2 1.5 .3 1.5 .3 1.5 .3 1.5 .3 1.5 .3M571.2 137.7l1.5 .2 1.5 .1 1.5 .2 1.5 .1M564.3 136.2l1.5 0 1.5 0 1.5 0M557.3 135l1.5-.1 1.5 0 1.5-.1M551.9 134.2l1.5-.2 1.5-.1 1.5-.2M546.4 133.8l1.5-.3 1.5-.3 1.5-.3M542.5 133.2l1.5-.3 1.5-.4M538.5 132.9l1.5-.5 1.5-.5M439.7 155.6l1.5-1.4 1.5-1.4M438.8 156.6l1.5-1.3M437.8 157.9l1.5-1.2"/>
<path stroke="#307ffb" d="M443.1 152.5l-1.9 1.7M442.7 152.8l-2.4 2.5-2.5 2.6M441.8 154l-2.5 2.7-2.4 25.2M440.8 155.5l-2.4 27.1M541.5 131.9l-2.4-.9-.8-.3M545.5 132.5l-2.5-1-2.4-1M547 132.1l-2.5-1M550.9 132.9l-2.4-1.1-2.4-1.2M552.4 132.7l-2.4-1.2M556.4 133.7l-2.5-1.3M557.9 133.5l-2.5-1.3M561.8 134.8l-2.4-1.4-2.4-1.4M563.3 134.7l-2.4-1.4M564.8 134.7l-2.4-1.5M568.8 136.2l-2.5-1.5-2.4-1.6M570.3 136.3l-2.4-1.6M571.8 136.4l-2.4-1.7M573.3 136.5l-2.4-1.7M577.2 138.3l-2.4-1.7M578.8 138.5l-2.5-1.7M580.3 138.7l-2.5-1.8M581.8 139l-2.5-1.9M583.3 139.2l-2.5-1.9M588.7 141.7l-2.4-1.9M590.2 142.1l-2.4-2M591.7 142.4l-2.4-2M593.2 142.8l-2.4-2M594.7 143.2l-2.4-2.1M596.2 143.6l-2.4-2.1M597.7 144l-2.4-2.1M604.7 147.5l-2.5-2.1M606.2 148l-2.4-2.1M607.7 148.5l-2.4-2.1M609.2 149.1l-2.4-2.2M610.7 149.6l-2.4-2.1M612.2 150.2l-2.4-2.2M613.7 150.8l-2.4-2.2M615.2 151.3l-2.4-2.2M616.7 151.9l-2.4-2.2M618.2 152.6l-2.4-2.3M619.7 153.2l-2.4-2.3M621.2 153.8l-2.4-2.2M622.7 154.4l-2.4-2.2M624.2 155.1l-2.4-2.2M625.7 155.8l-2.4-2.3M627.2 156.4l-2.4-2.2M628.7 157.1l-2.4-2.2M630.3 157.8l-2.5-2.2M631.8 158.5l-2.5-2.2M633.3 159.2l-2.5-2.2M634.8 159.9l-2.5-2.2M636.3 160.7l-2.5-2.3M604.7 147.5l1.5 .5 1.5 .5 1.5 .6 1.5 .5 1.5 .6 1.5 .6 1.5 .5 1.5 .6 1.5 .7 1.5 .6 1.5 .6 1.5 .6 1.5 .7 1.5 .7 1.5 .6 1.5 .7 1.6 .7 1.5 .7 1.5 .7 1.5 .7 1.5 .8M588.7 141.7l1.5 .4 1.5 .3 1.5 .4 1.5 .4 1.5 .4 1.5 .4 1.5 .5M577.2 138.3l1.6 .2 1.5 .2 1.5 .3 1.5 .2 1.5 .3M568.8 136.2l1.5 .1 1.5 .1 1.5 .1 1.5 .1M561.8 134.8l1.5-.1 1.5 0 1.5 0 1.6 0M556.4 133.7l1.5-.2 1.5-.1 1.5-.1M550.9 132.9l1.5-.2 1.5-.3M545.5 132.5l1.5-.4 1.5-.3 1.5-.3M541.5 131.9l1.5-.4 1.5-.4M537.6 131.6l1.5-.6 1.5-.5M442.7 152.8l1.5-1.4M440.3 155.3l1.5-1.3 1.5-1.3M439.3 156.7l1.5-1.2 1.6-1.2"/>
<path stroke="#2d87f6" d="M445.2 150.5l-2.5 2.3M444.2 151.4l-2.4 2.6M443.3 152.7l-2.5 2.8M442.4 154.3l-2.5 29M540.6 130.5l-1.6-.6M544.5 131.1l-2.4-1.1-2.4-1M546.1 130.6l-2.5-1.1M550 131.5l-2.4-1.2M553.9 132.4l-2.4-1.2-2.4-1.3M555.4 132.2l-2.4-1.3M557 132l-2.5-1.4M560.9 133.3l-2.4-1.5M562.4 133.2l-2.4-1.5M563.9 133.1l-2.4-1.6M567.9 134.7l-2.5-1.6M569.4 134.7l-2.5-1.7M570.9 134.8l-2.5-1.8M574.8 136.6l-2.4-1.8M576.3 136.8l-2.4-1.9M577.8 136.9l-2.4-1.8M579.3 137.1l-2.4-1.9M580.8 137.3l-2.4-1.9M584.8 139.5l-2.5-2M586.3 139.8l-2.5-2M587.8 140.1l-2.5-2M589.3 140.4l-2.5-2M590.8 140.8l-2.5-2.1M592.3 141.1l-2.5-2.1M593.8 141.5l-2.5-2.1M599.2 144.5l-2.4-2.2M600.7 144.9l-2.4-2.1M602.2 145.4l-2.4-2.2M603.8 145.9l-2.5-2.2M605.3 146.4l-2.5-2.2M606.8 146.9l-2.5-2.2M608.3 147.5l-2.5-2.3M609.8 148l-2.5-2.3M611.3 148.6l-2.5-2.3M612.8 149.1l-2.5-2.2M614.3 149.7l-2.5-2.3M615.8 150.3l-2.5-2.3M617.3 150.9l-2.5-2.3M618.8 151.6l-2.5-2.3M620.3 152.2l-2.5-2.3M621.8 152.9l-2.4-2.4M623.3 153.5l-2.4-2.3M624.8 154.2l-2.4-2.3M626.3 154.9l-2.4-2.3M627.8 155.6l-2.4-2.3M629.3 156.3l-2.4-2.3M630.8 157l-2.4-2.3M632.3 157.7l-2.4-2.3M633.8 158.4l-2.4-2.2M599.2 144.5l1.5 .4 1.5 .5 1.6 .5 1.5 .5 1.5 .5 1.5 .6 1.5 .5 1.5 .6 1.5 .5 1.5 .6 1.5 .6 1.5 .6 1.5 .7 1.5 .6 1.5 .7 1.5 .6 1.5 .7 1.5 .7 1.5 .7 1.5 .7 1.5 .7 1.5 .7 1.5 .7M584.8 139.5l1.5 .3 1.5 .3 1.5 .3 1.5 .4 1.5 .3 1.5 .4 1.5 .4M574.8 136.6l1.5 .2 1.5 .1 1.5 .2 1.5 .2 1.5 .2M567.9 134.7l1.5 0 1.5 .1 1.5 0M560.9 133.3l1.5-.1 1.5-.1 1.5 0M553.9 132.4l1.5-.2 1.6-.2 1.5-.2M550 131.5l1.5-.3 1.5-.3M544.5 131.1l1.6-.5 1.5-.3M540.6 130.5l1.5-.5 1.5-.5M444.2 151.4l1.5-1.4M443.3 152.7l1.5-1.4M442.4 154.3l1.5-1.3"/>
<path stroke="#2c90f0" d="M446.7 149l-2.5 2.4M445.7 150l-2.4 2.7M444.8 151.3l-2.4 3M443.9 153l-2.5 31M543.6 129.5l-2.4-1.1M547.6 130.3l-2.5-1.3-2.4-1.1M549.1 129.9l-2.5-1.3M553 130.9l-2.4-1.4M554.5 130.6l-2.4-1.4M558.5 131.8l-2.5-1.4-2.4-1.5M560 131.7l-2.5-1.6M561.5 131.5l-2.5-1.6M565.4 133.1l-2.4-1.7M566.9 133l-2.4-1.7M568.4 133l-2.4-1.7M572.4 134.8l-2.5-1.8M573.9 134.9l-2.5-1.8M575.4 135.1l-2.5-1.9M576.9 135.2l-2.5-2M578.4 135.4l-2.5-2M582.3 137.5l-2.4-2M583.8 137.8l-2.4-2M585.3 138.1l-2.4-2.1M586.8 138.4l-2.4-2.1M588.3 138.7l-2.4-2.2M589.8 139l-2.4-2.2M595.3 141.9l-2.4-2.2M596.8 142.3l-2.4-2.2M598.3 142.8l-2.4-2.3M599.8 143.2l-2.4-2.2M601.3 143.7l-2.4-2.3M602.8 144.2l-2.4-2.3M604.3 144.7l-2.4-2.3M605.8 145.2l-2.4-2.3M607.3 145.7l-2.4-2.3M608.8 146.3l-2.4-2.3M610.3 146.9l-2.4-2.4M611.8 147.4l-2.4-2.3M613.3 148l-2.4-2.3M614.8 148.6l-2.4-2.3M595.3 141.9l1.5 .4 1.5 .5 1.5 .4 1.5 .5 1.5 .5 1.5 .5 1.5 .5 1.5 .5 1.5 .6 1.5 .6 1.5 .5 1.5 .6 1.5 .6 1.5 .7M582.3 137.5l1.5 .3 1.5 .3 1.5 .3 1.5 .3 1.5 .3 1.5 .4M572.4 134.8l1.5 .1 1.5 .2 1.5 .1 1.5 .2 1.5 .1M565.4 133.1l1.5-.1 1.5 0 1.5 0M558.5 131.8l1.5-.1 1.5-.2 1.5-.1M553 130.9l1.5-.3 1.5-.2 1.5-.3M547.6 130.3l1.5-.4 1.5-.4M543.6 129.5l1.5-.5 1.5-.4M539.7 129l1.5-.6M446.7 149l1.5-1.5M445.7 150l1.5-1.4M444.8 151.3l1.5-1.3M443.9 153l1.5-1.2"/>
<path stroke="#2798ea" d="M447.3 148.4l-.6 .6M448.2 147.5l-2.5 2.5M447.2 148.6l-2.4 2.7M446.3 150l-2.4 3M445.4 151.8l-2.5 32.8M446.9 150.6l-2.5 34.7M541.2 128.4l-.8-.4M542.7 127.9l-1.7-.8M546.6 128.6l-2.4-1.3M550.6 129.5l-2.5-1.3-2.4-1.4M552.1 129.2l-2.5-1.4M553.6 128.9l-2.5-1.5M557.5 130.1l-2.4-1.5M559 129.9l-2.4-1.6M563 131.4l-2.5-1.6M564.5 131.3l-2.5-1.7M566 131.3l-2.5-1.8M569.9 133l-2.4-1.8M571.4 133.1l-2.4-1.9M572.9 133.2l-2.4-2M574.4 133.2l-2.4-1.9M579.9 135.5l-2.5-2M581.4 135.8l-2.5-2.1M582.9 136l-2.5-2.1M584.4 136.3l-2.4-2.2M585.9 136.5l-2.4-2.1M591.3 139.4l-2.4-2.2M592.9 139.7l-2.5-2.2M594.4 140.1l-2.5-2.2M595.9 140.5l-2.5-2.2M597.4 141l-2.5-2.3M598.9 141.4l-2.5-2.3M600.4 141.9l-2.5-2.3M601.9 142.4l-2.5-2.4M603.4 142.9l-2.5-2.4M604.9 143.4l-2.5-2.3M616.3 149.3l-2.4-2.4M617.8 149.9l-2.4-2.4M619.4 150.5l-2.5-2.3M620.9 151.2l-2.5-2.4M622.4 151.9l-2.5-2.4M623.9 152.6l-2.5-2.4M625.4 153.3l-2.5-2.4M626.9 154l-2.5-2.4M628.4 154.7l-2.5-2.4M629.9 155.4l-2.5-2.3M631.4 156.2l-2.5-2.4M616.3 149.3l1.5 .6 1.6 .6 1.5 .7 1.5 .7 1.5 .7 1.5 .7 1.5 .7 1.5 .7 1.5 .7 1.5 .8M591.3 139.4l1.6 .3 1.5 .4 1.5 .4 1.5 .5 1.5 .4 1.5 .5 1.5 .5 1.5 .5 1.5 .5 1.5 .6M579.9 135.5l1.5 .3 1.5 .2 1.5 .3 1.5 .2 1.5 .3M569.9 133l1.5 .1 1.5 .1 1.5 0 1.5 .2M563 131.4l1.5-.1 1.5 0 1.5-.1M557.5 130.1l1.5-.2 1.5-.1M550.6 129.5l1.5-.3 1.5-.3 1.5-.3M546.6 128.6l1.5-.4 1.5-.4M541.2 128.4l1.5-.5 1.5-.6M448.2 147.5l1.5-1.5M447.2 148.6l1.5-1.5M446.3 150l1.5-1.3M445.4 151.8l1.5-1.2 1.5-1.1"/>
<path stroke="#249fe5" d="M450 145.7l-1.8 1.8M452.1 143.5l-2.4 2.5-2.5 2.6M448.7 147.1l-2.4 2.9M447.8 148.7l-2.4 3.1M448.4 149.5l-2.5 36.5M544.2 127.3l-1.7-.8M545.7 126.8l-2.5-1.3M549.6 127.8l-2.4-1.4M551.1 127.4l-2.4-1.5M555.1 128.6l-2.5-1.6M556.6 128.3l-2.5-1.6M560.5 129.8l-2.4-1.7M562 129.6l-2.4-1.7M563.5 129.5l-2.4-1.8M567.5 131.2l-2.5-1.8M569 131.2l-2.5-1.9M570.5 131.2l-2.5-1.9M572 131.3l-2.5-2M575.9 133.4l-2.4-2M577.4 133.5l-2.4-2M578.9 133.7l-2.4-2.1M580.4 133.9l-2.4-2.1M582 134.1l-2.5-2.2M587.4 136.8l-2.4-2.2M588.9 137.2l-2.4-2.3M590.4 137.5l-2.4-2.2M591.9 137.9l-2.4-2.3M593.4 138.3l-2.4-2.3M594.9 138.7l-2.4-2.3M596.4 139.1l-2.4-2.3M597.9 139.6l-2.4-2.4M606.4 144l-2.5-2.4M607.9 144.5l-2.5-2.4M609.4 145.1l-2.5-2.4M610.9 145.7l-2.4-2.4M612.4 146.3l-2.4-2.4M613.9 146.9l-2.4-2.4M615.4 147.5l-2.4-2.4M616.9 148.2l-2.4-2.4M618.4 148.8l-2.4-2.4M619.9 149.5l-2.4-2.4M621.4 150.2l-2.4-2.4M622.9 150.9l-2.4-2.4M624.4 151.6l-2.4-2.4M625.9 152.3l-2.4-2.3M627.4 153.1l-2.4-2.4M628.9 153.8l-2.4-2.3M606.4 144l1.5 .5 1.5 .6 1.5 .6 1.5 .6 1.5 .6 1.5 .6 1.5 .7 1.5 .6 1.5 .7 1.5 .7 1.5 .7 1.5 .7 1.5 .7 1.5 .8 1.5 .7M587.4 136.8l1.5 .4 1.5 .3 1.5 .4 1.5 .4 1.5 .4 1.5 .4 1.5 .5 1.5 .4M575.9 133.4l1.5 .1 1.5 .2 1.5 .2 1.6 .2 1.5 .3M567.5 131.2l1.5 0 1.5 0 1.5 .1 1.5 .1M560.5 129.8l1.5-.2 1.5-.1 1.5-.1M555.1 128.6l1.5-.3 1.5-.2M549.6 127.8l1.5-.4 1.5-.4M544.2 127.3l1.5-.5 1.5-.4M542.5 125.8l.7-.3M452.6 143l1-1.1M449.7 146l1.5-1.6M448.7 147.1l1.5-1.4M447.8 148.7l1.5-1.3M448.4 149.5l1.5-1.2"/>
<path stroke="#1ea7e1" d="M453.6 141.9l-2.4 2.5-2.5 2.7M450.2 145.7l-2.4 3M449.3 147.4l-2.4 3.2M450.8 146.1l-2.4 3.4M449.9 148.3l-2.5 38.4M547.2 126.4l-2.5-1.4-.8-.5M548.7 125.9l-2.5-1.4M552.6 127l-2.4-1.5M554.1 126.7l-2.4-1.6M558.1 128.1l-2.5-1.7M559.6 127.9l-2.5-1.7M561.1 127.7l-2.5-1.8M565 129.4l-2.4-1.8M566.5 129.3l-2.4-1.9M568 129.3l-2.4-1.9M569.5 129.3l-2.4-2M573.5 131.4l-2.4-2.1M575 131.5l-2.4-2.1M576.5 131.6l-2.4-2.1M578 131.8l-2.4-2.2M583.5 134.4l-2.5-2.2M585 134.6l-2.5-2.2M586.5 134.9l-2.5-2.2M588 135.3l-2.5-2.3M589.5 135.6l-2.5-2.3M591 136l-2.5-2.4M592.5 136.4l-2.5-2.4M599.4 140l-2.4-2.3M600.9 140.5l-2.4-2.3M602.4 141.1l-2.4-2.4M603.9 141.6l-2.4-2.4M605.4 142.1l-2.4-2.4M606.9 142.7l-2.4-2.4M608.5 143.3l-2.5-2.4M610 143.9l-2.5-2.5M611.5 144.5l-2.5-2.4M613 145.1l-2.5-2.4M614.5 145.8l-2.5-2.5M616 146.4l-2.5-2.4M617.5 147.1l-2.5-2.4M619 147.8l-2.5-2.4M620.5 148.5l-2.5-2.4M622 149.2l-2.5-2.4M623.5 150l-2.5-2.4M625 150.7l-2.4-2.4M626.5 151.5l-2.4-2.4M599.4 140l1.5 .5 1.5 .6 1.5 .5 1.5 .5 1.5 .6 1.6 .6 1.5 .6 1.5 .6 1.5 .6 1.5 .7 1.5 .6 1.5 .7 1.5 .7 1.5 .7 1.5 .7 1.5 .8 1.5 .7 1.5 .8M583.5 134.4l1.5 .2 1.5 .3 1.5 .4 1.5 .3 1.5 .4 1.5 .4 1.5 .4M573.5 131.4l1.5 .1 1.5 .1 1.5 .2 1.5 .1M565 129.4l1.5-.1 1.5 0 1.5 0 1.6 0M558.1 128.1l1.5-.2 1.5-.2 1.5-.1M552.6 127l1.5-.3 1.5-.3M547.2 126.4l1.5-.5 1.5-.4M543.2 125.5l1.5-.5 1.5-.5M453.6 141.9l1-1M451.2 144.4l1.5-1.4M450.2 145.7l1.5-1.4M449.3 147.4l1.5-1.3 1.5-1.2M449.9 148.3l1.5-1.1"/>
<path stroke="#18addb" d="M454.8 140.8l-1.2 1.1M455.1 140.4l-2.4 2.6-2.5 2.7M454.2 141.5l-2.5 2.8-2.4 3.1M453.3 143l-2.5 3.1M452.3 144.9l-2.4 3.4M451.4 147.2l-2.5 40.2M452.9 146.2l-2.5 41.9M546.2 124.5l-1.6-1M550.2 125.5l-2.5-1.5-1.6-1M551.7 125.1l-2.4-1.5M555.6 126.4l-2.4-1.6-2.4-1.7M557.1 126.2l-2.4-1.8M558.6 125.9l-2.4-1.7M562.6 127.6l-2.4-1.9M564.1 127.4l-2.4-1.8M565.6 127.4l-2.4-2M571.1 129.3l-2.5-2M572.6 129.4l-2.5-2.1M574.1 129.5l-2.5-2.1M579.5 131.9l-2.4-2.1M581 132.2l-2.4-2.3M582.5 132.4l-2.4-2.2M584 132.7l-2.4-2.3M585.5 133l-2.4-2.3M587 133.3l-2.4-2.3M594 136.8l-2.5-2.4M595.5 137.2l-2.5-2.4M597 137.7l-2.5-2.4M598.5 138.2l-2.4-2.5M600 138.7l-2.4-2.5M601.5 139.2l-2.4-2.5M603 139.7l-2.4-2.4M604.5 140.3l-2.4-2.5M606 140.9l-2.4-2.5M607.5 141.4l-2.4-2.4M609 142.1l-2.4-2.5M610.5 142.7l-2.4-2.5M612 143.3l-2.4-2.4M613.5 144l-2.4-2.4M615 144.7l-2.4-2.5M616.5 145.4l-2.4-2.5M618 146.1l-2.4-2.4M619.5 146.8l-2.4-2.4M621 147.6l-2.4-2.5M622.6 148.3l-2.5-2.4M624.1 149.1l-2.5-2.4M594 136.8l1.5 .4 1.5 .5 1.5 .5 1.5 .5 1.5 .5 1.5 .5 1.5 .6 1.5 .6 1.5 .5 1.5 .7 1.5 .6 1.5 .6 1.5 .7 1.5 .7 1.5 .7 1.5 .7 1.5 .7 1.5 .8 1.6 .7 1.5 .8M579.5 131.9l1.5 .3 1.5 .2 1.5 .3 1.5 .3 1.5 .3 1.5 .3M571.1 129.3l1.5 .1 1.5 .1 1.5 .1M562.6 127.6l1.5-.2 1.5 0 1.5-.1M555.6 126.4l1.5-.2 1.5-.3 1.6-.2M550.2 125.5l1.5-.4 1.5-.3 1.5-.4M546.2 124.5l1.5-.5 1.6-.4M455.1 140.4l1.5-1.6M452.7 143l1.5-1.5 1.5-1.4M451.7 144.3l1.6-1.3 1.5-1.3M452.3 144.9l1.5-1.2M451.4 147.2l1.5-1 1.5-1.1"/>
<path stroke="#0cb3d3" d="M457 138.6l-1.9 1.8M456.6 138.8l-2.4 2.7M455.7 140.1l-2.4 2.9M454.8 141.7l-2.5 3.2M453.8 143.7l-2.4 3.5M454.4 145.1l-2.5 43.7M549.3 123.6l-2.5-1.6M550.8 123.1l-2.5-1.6M554.7 124.4l-2.4-1.6M556.2 124.2l-2.4-1.8M560.2 125.7l-2.5-1.8M561.7 125.6l-2.5-1.9M563.2 125.4l-2.5-1.9M567.1 127.3l-2.4-2M568.6 127.3l-2.4-2M570.1 127.3l-2.4-2.1M571.6 127.4l-2.4-2.1M575.6 129.6l-2.5-2.1M577.1 129.8l-2.5-2.2M578.6 129.9l-2.5-2.2M580.1 130.2l-2.5-2.3M581.6 130.4l-2.5-2.3M588.5 133.6l-2.4-2.3M590 134l-2.4-2.3M591.5 134.4l-2.4-2.4M593 134.8l-2.4-2.4M594.5 135.3l-2.4-2.4M596.1 135.7l-2.5-2.4M597.6 136.2l-2.5-2.4M599.1 136.7l-2.5-2.4M600.6 137.3l-2.5-2.5M602.1 137.8l-2.5-2.4M603.6 138.4l-2.5-2.4M588.5 133.6l1.5 .4 1.5 .4 1.5 .4 1.5 .5 1.6 .4 1.5 .5 1.5 .5 1.5 .6 1.5 .5 1.5 .6 1.5 .6M575.6 129.6l1.5 .2 1.5 .1 1.5 .3 1.5 .2 1.5 .3M567.1 127.3l1.5 0 1.5 0 1.5 .1 1.5 .1M560.2 125.7l1.5-.1 1.5-.2 1.5-.1M554.7 124.4l1.5-.2 1.5-.3M549.3 123.6l1.5-.5 1.5-.3M456.6 138.8l1.5-1.5M455.7 140.1l1.5-1.4M454.8 141.7l1.5-1.3M453.8 143.7l1.5-1.1M454.4 145.1l1.5-.9"/>
<path stroke="#01b8c9" d="M459.1 136.4l-2.5 2.4M458.1 137.3l-2.4 2.8M457.2 138.7l-2.4 3M456.3 140.4l-2.5 3.3M455.3 142.6l-2.4 3.6M456.8 141.5l-2.4 3.6M455.9 144.2l-2.5 45.3M457.4 143.3l-2.5 46.9M548.3 121.5l-.8-.5M552.3 122.8l-2.5-1.7M553.8 122.4l-2.5-1.7M557.7 123.9l-2.4-1.8M559.2 123.7l-2.4-1.9M560.7 123.5l-2.4-1.9M564.7 125.3l-2.5-1.9M566.2 125.3l-2.5-2.1M567.7 125.2l-2.5-2M573.1 127.5l-2.4-2.2M574.6 127.6l-2.4-2.2M576.1 127.7l-2.4-2.2M577.6 127.9l-2.4-2.2M583.1 130.7l-2.5-2.3M584.6 131l-2.5-2.4M586.1 131.3l-2.5-2.3M587.6 131.7l-2.4-2.4M589.1 132l-2.4-2.4M590.6 132.4l-2.4-2.4M592.1 132.9l-2.4-2.4M593.6 133.3l-2.4-2.4M605.1 139l-2.5-2.5M606.6 139.6l-2.5-2.4M608.1 140.2l-2.5-2.4M609.6 140.9l-2.5-2.5M611.1 141.6l-2.5-2.5M612.6 142.2l-2.5-2.4M614.1 142.9l-2.4-2.4M615.6 143.7l-2.4-2.5M617.1 144.4l-2.4-2.4M618.6 145.1l-2.4-2.4M620.1 145.9l-2.4-2.4M621.6 146.7l-2.4-2.4M605.1 139l1.5 .6 1.5 .6 1.5 .7 1.5 .7 1.5 .6 1.5 .7 1.5 .8 1.5 .7 1.5 .7 1.5 .8 1.5 .8M583.1 130.7l1.5 .3 1.5 .3 1.5 .4 1.5 .3 1.5 .4 1.5 .5 1.5 .4 1.5 .5M573.1 127.5l1.5 .1 1.5 .1 1.5 .2 1.5 .2M564.7 125.3l1.5 0 1.5-.1 1.5 .1M557.7 123.9l1.5-.2 1.5-.2 1.5-.1M552.3 122.8l1.5-.4 1.5-.3M546.8 122l1.5-.5 1.5-.4M459.1 136.4l1.5-1.6M458.1 137.3l1.5-1.4M457.2 138.7l1.5-1.4M456.3 140.4l1.5-1.2M455.3 142.6l1.5-1.1 1.5-1.1M455.9 144.2l1.5-.9 1.5-.9"/>
<path stroke="#08bcbe" d="M460.3 135.2l-1.2 1.2M460.6 134.8l-2.5 2.5M459.6 135.9l-2.4 2.8M458.7 137.3l-2.4 3.1M457.8 139.2l-2.5 3.4M458.3 140.4l-2.4 3.8M458.9 142.4l-2.5 48.5M549.8 121.1l-.8-.6M551.3 120.7l-1.6-1.1M555.3 122.1l-2.5-1.8M556.8 121.8l-2.5-1.8M558.3 121.6l-2.5-1.9M562.2 123.4l-2.4-2M563.7 123.2l-2.4-1.9M565.2 123.2l-2.4-2.1M569.2 125.3l-2.5-2.1M570.7 125.3l-2.5-2.1M572.2 125.4l-2.5-2.2M573.7 125.5l-2.5-2.2M579.1 128.1l-2.4-2.2M580.6 128.4l-2.4-2.3M582.1 128.6l-2.4-2.3M583.6 129l-2.4-2.4M585.2 129.3l-2.5-2.4M586.7 129.6l-2.5-2.3M588.2 130l-2.5-2.3M595.1 133.8l-2.4-2.4M596.6 134.3l-2.4-2.4M598.1 134.8l-2.4-2.4M599.6 135.4l-2.4-2.5M601.1 136l-2.4-2.5M602.6 136.5l-2.4-2.4M604.1 137.2l-2.4-2.5M605.6 137.8l-2.4-2.5M607.1 138.4l-2.4-2.4M608.6 139.1l-2.4-2.4M610.1 139.8l-2.4-2.4M611.7 140.5l-2.5-2.4M613.2 141.2l-2.5-2.4M614.7 142l-2.5-2.4M616.2 142.7l-2.5-2.4M617.7 143.5l-2.5-2.4M619.2 144.3l-2.5-2.4M595.1 133.8l1.5 .5 1.5 .5 1.5 .6 1.5 .6 1.5 .5 1.5 .7 1.5 .6 1.5 .6 1.5 .7 1.5 .7 1.6 .7 1.5 .7 1.5 .8 1.5 .7 1.5 .8 1.5 .8M579.1 128.1l1.5 .3 1.5 .2 1.5 .4 1.6 .3 1.5 .3 1.5 .4 1.5 .5M569.2 125.3l1.5 0 1.5 .1 1.5 .1 1.5 .2M562.2 123.4l1.5-.2 1.5 0 1.5 0M555.3 122.1l1.5-.3 1.5-.2 1.5-.2M549.8 121.1l1.5-.4 1.5-.4M460.6 134.8l1.5-1.5M459.6 135.9l1.5-1.4M458.7 137.3l1.5-1.3M457.8 139.2l1.5-1.2M458.3 140.4l1.5-1M458.9 142.4l1.5-.8"/>
<path stroke="#1cc0b4" d="M462.4 133.1l-1.8 1.7M462.1 133.3l-2.5 2.6M461.1 134.5l-2.4 2.8M460.2 136l-2.4 3.2M459.3 138l-2.5 3.5M460.8 136.9l-2.5 3.5M459.8 139.4l-2.4 3.9M461.3 138.5l-2.4 3.9M460.4 141.6l-2.4 50M461.9 140.9l-2.4 51.4M552.8 120.3l-1.6-1.1M554.3 120l-2.4-1.8M555.8 119.7l-2.4-1.8M559.8 121.4l-2.5-1.9M561.3 121.3l-2.5-2M562.8 121.1l-2.5-2M566.7 123.2l-2.4-2.1M568.2 123.2l-2.4-2.1M569.7 123.2l-2.4-2.1M571.2 123.3l-2.4-2.2M575.2 125.7l-2.5-2.3M576.7 125.9l-2.4-2.3M578.2 126.1l-2.4-2.3M579.7 126.3l-2.4-2.3M581.2 126.6l-2.4-2.3M582.7 126.9l-2.4-2.3M589.7 130.5l-2.5-2.4M591.2 130.9l-2.5-2.4M592.7 131.4l-2.5-2.4M594.2 131.9l-2.5-2.5M595.7 132.4l-2.5-2.4M597.2 132.9l-2.5-2.4M598.7 133.5l-2.5-2.4M600.2 134.1l-2.5-2.4M601.7 134.7l-2.5-2.4M603.2 135.3l-2.4-2.4M604.7 136l-2.4-2.4M606.2 136.7l-2.4-2.5M607.7 137.4l-2.4-2.5M609.2 138.1l-2.4-2.4M610.7 138.8l-2.4-2.4M612.2 139.6l-2.4-2.4M613.7 140.3l-2.4-2.4M615.2 141.1l-2.4-2.4M616.7 141.9l-2.4-2.4M589.7 130.5l1.5 .4 1.5 .5 1.5 .5 1.5 .5 1.5 .5 1.5 .6 1.5 .6 1.5 .6 1.5 .6 1.5 .7 1.5 .7 1.5 .7 1.5 .7 1.5 .7 1.5 .8 1.5 .7 1.5 .8 1.5 .8M575.2 125.7l1.5 .2 1.5 .2 1.5 .2 1.5 .3 1.5 .3 1.5 .4M566.7 123.2l1.5 0 1.5 0 1.5 .1 1.5 .1M559.8 121.4l1.5-.1 1.5-.2 1.5 0M552.8 120.3l1.5-.3 1.5-.3 1.5-.2M462.1 133.3l1.5-1.5M461.1 134.5l1.5-1.4M460.2 136l1.5-1.2M459.3 138l1.5-1.1 1.5-1.1M459.8 139.4l1.5-.9 1.5-.9M460.4 141.6l1.5-.7 1.5-.7"/>
<path stroke="#2bc3a8" d="M464.5 130.9l-2.4 2.4M466 129.4l-2.4 2.4-2.5 2.7M462.6 133.1l-2.4 2.9M461.7 134.8l-2.4 3.2M463.2 133.6l-2.4 3.3M462.3 135.8l-2.5 3.6M462.8 137.6l-2.4 4M463.4 140.2l-2.4 52.8M464.9 139.6l-2.4 54.1M557.3 119.5l-2.4-1.9M558.8 119.3l-2.4-1.9M564.3 121.1l-2.5-2.1M565.8 121.1l-2.4-2.1M567.3 121.1l-2.4-2.1M572.7 123.4l-2.4-2.2M574.3 123.6l-2.5-2.2M575.8 123.8l-2.5-2.3M577.3 124l-2.5-2.3M584.2 127.3l-2.4-2.4M585.7 127.7l-2.4-2.4M587.2 128.1l-2.4-2.4M588.7 128.5l-2.4-2.4M590.2 129l-2.4-2.4M591.7 129.4l-2.4-2.4M593.2 130l-2.4-2.5M594.7 130.5l-2.4-2.4M596.2 131.1l-2.4-2.4M597.7 131.7l-2.4-2.5M599.2 132.3l-2.4-2.4M600.8 132.9l-2.5-2.4M602.3 133.6l-2.5-2.4M603.8 134.2l-2.5-2.4M605.3 134.9l-2.5-2.3M606.8 135.7l-2.5-2.4M608.3 136.4l-2.5-2.4M609.8 137.2l-2.5-2.4M611.3 137.9l-2.5-2.3M612.8 138.7l-2.5-2.3M614.3 139.5l-2.5-2.3M584.2 127.3l1.5 .4 1.5 .4 1.5 .4 1.5 .5 1.5 .4 1.5 .6 1.5 .5 1.5 .6 1.5 .6 1.5 .6 1.6 .6 1.5 .7 1.5 .6 1.5 .7 1.5 .8 1.5 .7 1.5 .8 1.5 .7 1.5 .8 1.5 .8M572.7 123.4l1.6 .2 1.5 .2 1.5 .2 1.5 .3M564.3 121.1l1.5 0 1.5 0 1.5 0M557.3 119.5l1.5-.2 1.5-.2M551.9 118.2l1.5-.3M466 129.4l1.5-1.5M463.6 131.8l1.5-1.4M462.6 133.1l1.5-1.3M461.7 134.8l1.5-1.2 1.5-1.1M462.3 135.8l1.5-1M462.8 137.6l1.5-.8M463.4 140.2l1.5-.6 1.5-.5"/>
<path stroke="#34c79c" d="M467.9 127.7l-1.9 1.7M467.5 127.9l-2.4 2.5-2.5 2.7M466.6 129l-2.5 2.8-2.4 3M465.7 130.5l-2.5 3.1M464.7 132.5l-2.4 3.3M463.8 134.8l-2.5 3.7M465.3 133.9l-2.5 3.7M464.3 136.8l-2.4 4.1M465.8 136.1l-2.4 4.1M466.4 139.1l-2.4 55.3M553.4 117.9l-.6-.5M467.9 138.6l-2.4 56.5M554.9 117.6l-1.2-.9M556.4 117.4l-1.2-1M560.3 119.1l-2.4-1.9M561.8 119l-2.4-2M563.4 119l-2.5-2.1M568.8 121.1l-2.4-2.1M570.3 121.2l-2.4-2.1M571.8 121.4l-2.4-2.2M573.3 121.5l-2.4-2.2M578.8 124.3l-2.5-2.3M580.3 124.6l-2.5-2.3M581.8 124.9l-2.5-2.3M583.3 125.3l-2.5-2.4M584.8 125.7l-2.5-2.4M586.3 126.1l-2.5-2.4M587.8 126.6l-2.5-2.4M589.3 127l-2.5-2.3M590.8 127.5l-2.4-2.3M517.5 161.8l-2.4 56.2M611.8 137.2l-2.4-2.2M519 163.2l-2.4 55.5M578.8 124.3l1.5 .3 1.5 .3 1.5 .4 1.5 .4 1.5 .4 1.5 .5 1.5 .4 1.5 .5 1.5 .6M568.8 121.1l1.5 .1 1.5 .2 1.5 .1 1.5 .2M560.3 119.1l1.5-.1 1.6 0 1.5 0M553.4 117.9l1.5-.3 1.5-.2 1.5-.2M467.5 127.9l1.5-1.4M465.1 130.4l1.5-1.4 1.5-1.3M464.1 131.8l1.6-1.3 1.5-1.1M464.7 132.5l1.5-1.1M463.8 134.8l1.5-.9 1.5-.9M464.3 136.8l1.5-.7 1.5-.7M466.4 139.1l1.5-.5 1.5-.4M517.5 161.8l1.5 1.4"/>
<path stroke="#3fca8e" d="M470 125.6l-2.5 2.3M469 126.5l-2.4 2.5M468.1 127.7l-2.4 2.8M467.2 129.4l-2.5 3.1M466.2 131.4l-2.4 3.4M466.8 133l-2.5 3.8M467.3 135.4l-2.4 4.2M468.9 134.8l-2.5 4.3M469.4 138.2l-2.4 57.6M470.9 137.9l-2.4 58.6M557.9 117.2l-1.8-1.5M559.4 117l-2.4-1.9M560.9 116.9l-2.4-2M564.9 119l-2.5-2.1M566.4 119l-2.5-2.1M567.9 119.1l-2.5-2.2M569.4 119.2l-2.5-2.2M574.8 121.7l-2.4-2.2M576.3 122l-2.4-2.3M577.8 122.3l-2.4-2.3M579.3 122.6l-2.4-2.3M580.8 122.9l-2.4-2.3M582.3 123.3l-2.4-2.3M583.8 123.7l-2.4-2.3M592.3 128.1l-2.4-2.4M593.8 128.7l-2.4-2.4M595.3 129.2l-2.4-2.3M596.8 129.9l-2.4-2.4M598.3 130.5l-2.4-2.4M599.8 131.2l-2.4-2.4M601.3 131.8l-2.4-2.3M602.8 132.6l-2.4-2.4M604.3 133.3l-2.4-2.4M511.5 156.2l-2.4 59M605.8 134l-2.4-2.3M513 157.6l-2.4 58.3M607.3 134.8l-2.4-2.3M514.5 159l-2.4 57.6M608.8 135.6l-2.4-2.3M516 160.4l-2.4 56.9M610.3 136.4l-2.4-2.3M592.3 128.1l1.5 .6 1.5 .5 1.5 .7 1.5 .6 1.5 .7 1.5 .6 1.5 .8 1.5 .7 1.5 .7 1.5 .8 1.5 .8 1.5 .8 1.5 .8M574.8 121.7l1.5 .3 1.5 .3 1.5 .3 1.5 .3 1.5 .4 1.5 .4 1.5 .5M564.9 119l1.5 0 1.5 .1 1.5 .1 1.5 .1M557.9 117.2l1.5-.2 1.5-.1 1.5 0M470 125.6l1.5-1.4M469 126.5l1.5-1.3M468.1 127.7l1.5-1.2M467.2 129.4l1.5-1.2M466.2 131.4l1.5-1M466.8 133l1.5-.8M467.3 135.4l1.6-.6 1.5-.6M469.4 138.2l1.5-.3 1.5-.3M511.5 156.2l1.5 1.4 1.5 1.4 1.5 1.4 1.5 1.4"/>
<path stroke="#52cc7e" d="M470.6 125.1l-.6 .5M472.1 123.7l-.6 .5-2.5 2.3M470.5 125.2l-2.4 2.5M469.6 126.5l-2.4 2.9M468.7 128.2l-2.5 3.2M467.7 130.4l-2.4 3.5M469.2 129.4l-2.4 3.6M468.3 132.2l-2.5 3.9M469.8 131.4l-2.5 4M470.4 134.2l-2.5 4.4M471.9 133.8l-2.5 4.4M472.4 137.6l-2.4 59.6M473.9 137.5l-2.4 60.3M475.4 137.4l-2.4 61.1M562.4 116.9l-2.4-2M563.9 116.9l-2.4-2.1M565.4 116.9l-2.4-2.1M566.9 117l-2.4-2.1M570.9 119.3l-2.5-2.2M572.4 119.5l-2.5-2.2M573.9 119.7l-2.5-2.2M575.4 120l-2.5-2.2M576.9 120.3l-2.5-2.2M578.4 120.6l-2.5-2.2M585.3 124.2l-2.4-2.3M586.8 124.7l-2.4-2.4M588.4 125.2l-2.5-2.4M589.9 125.7l-2.5-2.3M591.4 126.3l-2.5-2.4M592.9 126.9l-2.5-2.4M594.4 127.5l-2.5-2.3M595.9 128.1l-2.5-2.3M505.5 151l-2.4 61.4M597.4 128.8l-2.5-2.3M507 152.3l-2.4 60.8M598.9 129.5l-2.5-2.3M508.5 153.6l-2.4 60.2M600.4 130.2l-2.5-2.3M510 154.9l-2.4 59.6M601.9 130.9l-2.5-2.2M603.4 131.7l-2.5-2.3M604.9 132.5l-2.5-2.3M606.4 133.3l-2.4-2.3M518.5 155.2l-2.5 5.2M607.9 134.1l-2.4-2.2M520 156.6l-2.5 5.2M609.4 135l-2.4-2.3M521.5 158.1l-2.5 5.1M585.3 124.2l1.5 .5 1.6 .5 1.5 .5 1.5 .6 1.5 .6 1.5 .6 1.5 .6 1.5 .7 1.5 .7 1.5 .7 1.5 .7 1.5 .8 1.5 .8 1.5 .8 1.5 .8 1.5 .9M570.9 119.3l1.5 .2 1.5 .2 1.5 .3 1.5 .3 1.5 .3 1.5 .4M562.4 116.9l1.5 0 1.5 0 1.5 .1 1.5 .1M557.7 115l.8-.1 1.5 0M471.5 124.2l1.5-1.4M470.5 125.2l1.5-1.3M469.6 126.5l1.5-1.2M468.7 128.2l1.5-1M467.7 130.4l1.5-1 1.5-.8M468.3 132.2l1.5-.8 1.5-.6M470.4 134.2l1.5-.4 1.5-.4M518.5 155.2l1.5 1.4 1.5 1.5M472.4 137.6l1.5-.1 1.5-.1 1.5 0M505.5 151l1.5 1.3 1.5 1.3 1.5 1.3 1.5 1.3"/>
<path stroke="#66cd6d" d="M475.4 120.6l-2.4 2.2-2.5 2.4M472 123.9l-2.4 2.6M471.1 125.3l-2.4 2.9M470.2 127.2l-2.5 3.2M471.7 126.2l-2.5 3.2M470.7 128.6l-2.4 3.6M472.2 127.8l-2.4 3.6M471.3 130.8l-2.4 4M472.8 130.2l-2.4 4M473.4 133.4l-2.5 4.5M474.9 133.1l-2.5 4.5M560 114.9l-.6-.5M476.9 137.4l-2.4 61.8M561.5 114.8l-.6-.5M478.4 137.4l-2.4 62.5M563 114.8l-1.2-1M479.9 137.6l-2.4 63M481.4 137.8l-2.4 63.5M568.4 117.1l-2.4-2.1M483 138.1l-2.5 63.9M569.9 117.3l-2.4-2.1M571.4 117.5l-2.4-2.1M572.9 117.8l-2.4-2.2M574.4 118.1l-2.4-2.2M579.9 121l-2.4-2.2M581.4 121.4l-2.4-2.2M582.9 121.9l-2.4-2.3M584.4 122.3l-2.4-2.2M496.5 144.3l-2.5 64M585.9 122.8l-2.4-2.2M498 145.3l-2.5 63.7M587.4 123.4l-2.4-2.3M499.5 146.4l-2.4 63.3M588.9 123.9l-2.4-2.2M501 147.5l-2.4 62.9M590.4 124.5l-2.4-2.2M502.5 148.6l-2.4 62.5M591.9 125.2l-2.4-2.3M504 149.8l-2.4 62M593.4 125.8l-2.4-2.2M594.9 126.5l-2.4-2.3M596.4 127.2l-2.4-2.3M597.9 127.9l-2.4-2.2M599.4 128.7l-2.4-2.3M514 151.1l-2.5 5.1M600.9 129.4l-2.4-2.2M515.5 152.4l-2.5 5.2M602.4 130.2l-2.4-2.2M517 153.8l-2.5 5.2M604 131l-2.5-2.1M605.5 131.9l-2.5-2.2M607 132.7l-2.5-2.1M579.9 121l1.5 .4 1.5 .5 1.5 .4 1.5 .5 1.5 .6 1.5 .5 1.5 .6 1.5 .7 1.5 .6 1.5 .7 1.5 .7 1.5 .7 1.5 .8 1.5 .7 1.5 .8 1.6 .8 1.5 .9 1.5 .8M568.4 117.1l1.5 .2 1.5 .2 1.5 .3 1.5 .3 1.5 .3M560 114.9l1.5-.1 1.5 0 1.5 .1M476.4 119.7l.5-.4M473 122.8l1.5-1.3M472 123.9l1.5-1.3M471.1 125.3l1.5-1.1M470.2 127.2l1.5-1 1.5-1M470.7 128.6l1.5-.8 1.5-.7M471.3 130.8l1.5-.6 1.5-.5M473.4 133.4l1.5-.3 1.5-.2M514 151.1l1.5 1.3 1.5 1.4 1.5 1.4M476.9 137.4l1.5 0 1.5 .2 1.5 .2 1.6 .3 1.5 .4M496.5 144.3l1.5 1 1.5 1.1 1.5 1.1 1.5 1.1 1.5 1.2 1.5 1.2"/>
<path stroke="#7dcc5c" d="M476.9 119.3l-2.4 2.2-2.5 2.4M476 120.2l-2.5 2.4-2.4 2.7M475 121.5l-2.4 2.7-2.4 3M474.1 123.2l-2.4 3M473.2 125.2l-2.5 3.4M473.7 127.1l-2.4 3.7M474.3 129.7l-2.4 4.1M475.8 129.2l-2.4 4.2M476.4 132.9l-2.5 4.6M477.9 132.7l-2.5 4.7M479.4 132.7l-2.5 4.7M564.5 114.9l-1.8-1.5M566 115l-1.8-1.5M567.5 115.2l-2.5-2.1M484.5 138.5l-2.5 64.2M569 115.4l-2.4-2.1M486 139l-2.5 64.4M570.5 115.6l-2.4-2.1M487.5 139.5l-2.5 64.6M489 140.2l-2.5 64.6M575.9 118.4l-2.4-2.2M490.5 140.9l-2.5 64.6M577.5 118.8l-2.5-2.2M492 141.6l-2.5 64.6M579 119.2l-2.5-2.2M493.5 142.5l-2.5 64.4M580.5 119.6l-2.5-2.2M495 143.4l-2.5 64.2M582 120.1l-2.5-2.2M583.5 120.6l-2.5-2.2M585 121.1l-2.5-2.2M586.5 121.7l-2.5-2.2M588 122.3l-2.5-2.2M589.5 122.9l-2.5-2.2M591 123.6l-2.5-2.2M508 145.9l-2.5 5.1M592.5 124.2l-2.5-2.1M509.5 147.1l-2.5 5.2M594 124.9l-2.4-2.1M511 148.4l-2.5 5.2M595.5 125.7l-2.4-2.2M512.5 149.7l-2.5 5.2M597 126.4l-2.4-2.1M598.5 127.2l-2.4-2.1M600 128l-2.4-2.1M519.4 149l-2.4 4.8M601.5 128.9l-2.4-2.1M520.9 150.4l-2.4 4.8M603 129.7l-2.4-2.1M522.4 151.8l-2.4 4.8M604.5 130.6l-2.4-2.1M523.9 153.2l-2.4 4.9M575.9 118.4l1.6 .4 1.5 .4 1.5 .4 1.5 .5 1.5 .5 1.5 .5 1.5 .6 1.5 .6 1.5 .6 1.5 .7 1.5 .6 1.5 .7 1.5 .8 1.5 .7 1.5 .8 1.5 .8 1.5 .9 1.5 .8 1.5 .9M564.5 114.9l1.5 .1 1.5 .2 1.5 .2 1.5 .2 1.5 .3M476.9 119.3l1.5-1.3M474.5 121.5l1.5-1.3 1.5-1.2M473.5 122.6l1.5-1.1 1.6-1.1M472.6 124.2l1.5-1 1.5-1M473.2 125.2l1.5-.8M473.7 127.1l1.5-.7M474.3 129.7l1.5-.5 1.5-.3M519.4 149l1.5 1.4 1.5 1.4 1.5 1.4M476.4 132.9l1.5-.2 1.5 0 1.5 0M508 145.9l1.5 1.2 1.5 1.3 1.5 1.3 1.5 1.4M484.5 138.5l1.5 .5 1.5 .5 1.5 .7 1.5 .7 1.5 .7 1.5 .9 1.5 .9 1.5 .9"/>
<path stroke="#94ca4a" d="M477.5 118.8l-.6 .5M478.4 118l-2.4 2.2M477.5 119l-2.5 2.5M476.6 120.4l-2.5 2.8M475.6 122.2l-2.4 3M474.7 124.4l-2.5 3.4M476.2 123.6l-2.5 3.5M475.2 126.4l-2.4 3.8M476.7 125.8l-2.4 3.9M477.3 128.9l-2.4 4.2M478.8 128.6l-2.4 4.3M480.3 128.4l-2.4 4.3M480.9 132.7l-2.5 4.7M482.4 132.8l-2.5 4.8M483.9 133l-2.5 4.8M485.4 133.3l-2.4 4.8M486.9 133.6l-2.4 4.9M566.6 113.3l-.7-.5M488.4 134.1l-2.4 4.9M572 115.9l-2.4-2.1M573.5 116.2l-2.4-2.1M575 116.6l-2.4-2.2M576.5 117l-2.4-2.2M495.9 137.4l-2.4 5.1M578 117.4l-2.4-2.1M497.4 138.3l-2.4 5.1M579.5 117.9l-2.4-2.2M498.9 139.2l-2.4 5.1M581 118.4l-2.4-2.2M500.4 140.2l-2.4 5.1M582.5 118.9l-2.4-2.1M501.9 141.3l-2.4 5.1M584 119.5l-2.4-2.2M503.4 142.4l-2.4 5.1M585.5 120.1l-2.4-2.1M504.9 143.5l-2.4 5.1M587 120.7l-2.4-2.1M506.4 144.7l-2.4 5.1M588.5 121.4l-2.4-2.1M590 122.1l-2.4-2.1M591.6 122.8l-2.5-2.1M593.1 123.5l-2.5-2.1M514.9 144.9l-2.4 4.8M594.6 124.3l-2.5-2.1M516.4 146.2l-2.4 4.9M596.1 125.1l-2.5-2.1M517.9 147.6l-2.4 4.8M597.6 125.9l-2.5-2M599.1 126.8l-2.5-2.1M600.6 127.6l-2.5-2M524.9 147.2l-2.5 4.6M602.1 128.5l-2.5-2M526.4 148.7l-2.5 4.5M572 115.9l1.5 .3 1.5 .4 1.5 .4 1.5 .4 1.5 .5 1.5 .5 1.5 .5 1.5 .6 1.5 .6 1.5 .6 1.5 .7 1.5 .7 1.6 .7 1.5 .7 1.5 .8 1.5 .8 1.5 .8 1.5 .9 1.5 .8 1.5 .9M565 113.1l1.6 .2 1.5 .2M478.4 118l1.5-1.3M477.5 119l1.5-1.1M476.6 120.4l1.5-1M475.6 122.2l1.5-.9M474.7 124.4l1.5-.8 1.5-.7M475.2 126.4l1.5-.6 1.5-.5M524.9 147.2l1.5 1.5M477.3 128.9l1.5-.3 1.5-.2 1.5-.1M514.9 144.9l1.5 1.3 1.5 1.4 1.5 1.4M480.9 132.7l1.5 .1 1.5 .2 1.5 .3 1.5 .3 1.5 .5 1.5 .5M495.9 137.4l1.5 .9 1.5 .9 1.5 1 1.5 1.1 1.5 1.1 1.5 1.1 1.5 1.2 1.6 1.2"/>
<path stroke="#aac73a" d="M480.9 116l-2.5 2M482.4 114.7l-2.5 2-2.4 2.3M479 117.9l-2.4 2.5M478.1 119.4l-2.5 2.8M477.1 121.3l-2.4 3.1M478.6 120.5l-2.4 3.1M477.7 122.9l-2.5 3.5M479.2 122.3l-2.5 3.5M478.2 125.3l-2.4 3.9M479.8 124.9l-2.5 4M481.3 124.6l-2.5 4M481.8 128.3l-2.4 4.4M483.3 128.3l-2.4 4.4M484.8 128.3l-2.4 4.5M568.1 113.5l-.7-.5M489.9 134.6l-2.4 4.9M569.6 113.8l-1.3-1M491.4 135.2l-2.4 5M571.1 114.1l-1.3-1M492.9 135.9l-2.4 5M572.6 114.4l-1.9-1.5M494.4 136.6l-2.4 5M574.1 114.8l-1.9-1.5M575.6 115.3l-2.5-2.1M577.1 115.7l-2.5-2M578.6 116.2l-2.5-2M507.4 138.7l-2.5 4.8M508.9 139.9l-2.5 4.8M510.4 141.1l-2.4 4.8M511.9 142.3l-2.4 4.8M513.4 143.6l-2.4 4.8M593.6 123l-2.4-1.9M520.4 143l-2.5 4.6M595.1 123.9l-2.4-2M521.9 144.4l-2.5 4.6M596.6 124.7l-2.4-1.9M523.4 145.8l-2.5 4.6M598.1 125.6l-2.4-1.9M599.6 126.5l-2.4-1.9M568.1 113.5l1.5 .3 1.5 .3 1.5 .3 1.5 .4 1.5 .5 1.5 .4 1.5 .5 1.5 .6M593.6 123l1.5 .9 1.5 .8 1.5 .9 1.5 .9M480.9 116l1.5-1.3 1.5-1.2M479.9 116.7l1.5-1.1M479 117.9l1.5-1.1M478.1 119.4l1.5-1M477.1 121.3l1.5-.8 1.5-.8M477.7 122.9l1.5-.6 1.5-.5M478.2 125.3l1.6-.4 1.5-.3 1.5-.2M520.4 143l1.5 1.4 1.5 1.4 1.5 1.4M481.8 128.3l1.5 0 1.5 0 1.5 .2M507.4 138.7l1.5 1.2 1.5 1.2 1.5 1.2 1.5 1.3 1.5 1.3M489.9 134.6l1.5 .6 1.5 .7 1.5 .7 1.5 .8"/>
<path stroke="#bfc32e" d="M484.2 113.4l-1.8 1.3M483.9 113.5l-2.5 2.1-2.4 2.3M482.9 114.5l-2.4 2.3-2.4 2.6M482 115.8l-2.4 2.6-2.5 2.9M481.1 117.6l-2.5 2.9M480.1 119.7l-2.4 3.2M481.6 119.1l-2.4 3.2M480.7 121.8l-2.5 3.5M482.2 121.3l-2.4 3.6M482.8 124.4l-2.5 4M484.3 124.2l-2.5 4.1M486.3 128.5l-2.4 4.5M487.8 128.7l-2.4 4.6M489.3 129.1l-2.4 4.5M490.8 129.5l-2.4 4.6M492.3 130l-2.4 4.6M493.9 130.5l-2.5 4.7M495.4 131.2l-2.5 4.7M496.9 131.9l-2.5 4.7M498.4 132.7l-2.5 4.7M499.9 133.6l-2.5 4.7M574.6 113.7l-.6-.5M501.4 134.5l-2.5 4.7M502.9 135.5l-2.5 4.7M580.1 116.8l-2.5-2.1M504.4 136.5l-2.5 4.8M581.6 117.3l-2.5-2M505.9 137.6l-2.5 4.8M583.1 118l-2.4-2.1M584.6 118.6l-2.4-2M586.1 119.3l-2.4-2.1M587.6 120l-2.4-2M514.3 137.8l-2.4 4.5M589.1 120.7l-2.4-2M515.8 139.1l-2.4 4.5M590.6 121.4l-2.4-1.9M517.3 140.4l-2.4 4.5M592.1 122.2l-2.4-1.9M518.8 141.7l-2.4 4.5M592.7 121.9l-2.5-1.8M594.2 122.8l-2.5-1.8M525.8 141.6l-2.4 4.2M595.7 123.7l-2.5-1.8M527.3 143l-2.4 4.2M597.2 124.6l-2.4-1.7M528.8 144.4l-2.4 4.3M580.1 116.8l1.5 .5 1.5 .7 1.5 .6 1.5 .7 1.5 .7 1.5 .7 1.5 .7 1.5 .8 1.5 .8M573.9 113.4l.7 .3 1.5 .5M592.7 121.9l1.5 .9 1.5 .9 1.5 .9M484.8 112.9l.8-.6M483.9 113.5l1.5-1.1M481.4 115.6l1.5-1.1 1.5-1M480.5 116.8l1.5-1 1.5-.9M479.6 118.4l1.5-.8 1.5-.8M480.1 119.7l1.5-.6 1.5-.6M480.7 121.8l1.5-.5 1.5-.3M525.8 141.6l1.5 1.4 1.5 1.4M482.8 124.4l1.5-.2 1.5 0M514.3 137.8l1.5 1.3 1.5 1.3 1.5 1.3 1.6 1.3M486.3 128.5l1.5 .2 1.5 .4 1.5 .4 1.5 .5 1.6 .5 1.5 .7 1.5 .7 1.5 .8 1.5 .9 1.5 .9 1.5 1 1.5 1 1.5 1.1 1.5 1.1"/>
<path stroke="#d2bf27" d="M487.1 111.2l-.8 .5-2.4 1.8M487.8 110.6l-2.4 1.8-2.5 2.1M484.4 113.5l-2.4 2.3M483.5 114.9l-2.4 2.7M482.6 116.8l-2.5 2.9M484.1 116.1l-2.5 3M483.1 118.5l-2.4 3.3M484.6 118l-2.4 3.3M483.7 121l-2.4 3.6M485.2 120.7l-2.4 3.7M486.7 120.5l-2.4 3.7M485.8 124.2l-2.5 4.1M487.3 124.2l-2.5 4.1M488.8 124.3l-2.5 4.2M490.3 124.5l-2.5 4.2M491.8 124.8l-2.5 4.3M576.1 114.2l-.6-.5M505.3 131l-2.4 4.5M577.6 114.7l-.6-.5M506.8 132l-2.4 4.5M579.1 115.3l-1.2-1M508.3 133.1l-2.4 4.5M580.7 115.9l-1.9-1.4M509.8 134.2l-2.4 4.5M582.2 116.6l-1.9-1.5M511.3 135.4l-2.4 4.5M583.7 117.2l-2.5-1.9M512.8 136.6l-2.4 4.5M585.2 118l-2.5-1.9M586.7 118.7l-2.5-1.9M588.2 119.5l-2.5-1.9M519.8 136.1l-2.5 4.3M589.7 120.3l-2.5-1.9M521.3 137.5l-2.5 4.2M591.2 121.1l-2.5-1.9M522.8 138.8l-2.4 4.2M524.3 140.2l-2.4 4.2M591.7 121l-2.4-1.7M593.2 121.9l-2.4-1.7M529.7 139l-2.4 4M594.8 122.9l-2.5-1.7M531.3 140.5l-2.5 3.9M576.1 114.2l1.5 .5 1.5 .6 1.6 .6 1.5 .7 1.5 .6 1.5 .8 1.5 .7 1.5 .8 1.5 .8 1.5 .8 1.5 .8M591.7 121l1.5 .9 1.6 1M486.3 111.7l1.5-1.1 1.5-1.1M485.4 112.4l1.5-1M484.4 113.5l1.5-.9M483.5 114.9l1.5-.8M482.6 116.8l1.5-.7 1.5-.6M483.1 118.5l1.5-.5 1.5-.4M529.7 139l1.6 1.5M483.7 121l1.5-.3 1.5-.2 1.5-.1M519.8 136.1l1.5 1.4 1.5 1.3 1.5 1.4 1.5 1.4M485.8 124.2l1.5 0 1.5 .1 1.5 .2 1.5 .3 1.5 .4M505.3 131l1.5 1 1.5 1.1 1.5 1.1 1.5 1.2 1.5 1.2 1.5 1.2"/>
<path stroke="#e2bc2b" d="M490.3 109l-2.5 1.6M489.3 109.5l-2.4 1.9-2.5 2.1M488.4 110.4l-2.5 2.2-2.4 2.3M487.5 111.7l-2.5 2.4-2.4 2.7M486.5 113.4l-2.4 2.7M485.6 115.5l-2.5 3M487.1 114.9l-2.5 3.1M486.1 117.6l-2.4 3.4M487.6 117.3l-2.4 3.4M488.2 120.4l-2.4 3.8M489.7 120.4l-2.4 3.8M491.2 120.5l-2.4 3.8M493.3 125.2l-2.5 4.3M494.8 125.7l-2.5 4.3M496.3 126.2l-2.4 4.3M497.8 126.9l-2.4 4.3M499.3 127.6l-2.4 4.3M500.8 128.3l-2.4 4.4M502.3 129.2l-2.4 4.4M503.8 130.1l-2.4 4.4M512.3 130.1l-2.5 4.1M513.8 131.2l-2.5 4.2M515.3 132.4l-2.5 4.2M516.8 133.6l-2.5 4.2M518.3 134.9l-2.5 4.2M587.2 118.4l-.6-.4M523.7 133.5l-2.4 4M588.7 119.2l-1.6-1.1M525.2 134.9l-2.4 3.9M590.2 120.1l-1.6-1.1M587 117.9l-1.6-1.1M526.7 136.2l-2.4 4M589.3 119.3l-2.4-1.6M528.2 137.6l-2.4 4M590.8 120.2l-2.4-1.5M592.3 121.2l-2.4-1.5M533.7 136.8l-2.4 3.7M581.2 115.3l.8 .4M583.5 116.4l.7 .4 1.5 .8 1.5 .8 1.5 .8 1.5 .9 1.5 .9M587.8 118.4l.7 .5M589.3 119.3l1.5 .9 1.5 1M489.3 109.5l1.5-1M486.9 111.4l1.5-1 1.5-.8M485.9 112.6l1.6-.9 1.5-.7M485 114.1l1.5-.7 1.5-.7M485.6 115.5l1.5-.6 1.5-.4M486.1 117.6l1.5-.3 1.5-.2M523.7 133.5l1.5 1.4 1.5 1.3 1.5 1.4 1.5 1.4M488.2 120.4l1.5 0 1.5 .1 1.5 .2M512.3 130.1l1.5 1.1 1.5 1.2 1.5 1.2 1.5 1.3 1.5 1.2M493.3 125.2l1.5 .5 1.5 .5 1.5 .7 1.5 .7 1.5 .7 1.5 .9 1.5 .9 1.5 .9"/>
<path stroke="#f1ba37" d="M493.4 106.9l-1.6 1-2.5 1.6M493.3 106.9l-2.5 1.6-2.4 1.9M492.3 107.7l-2.4 1.9-2.4 2.1M489 111l-2.5 2.4M490.5 110.3l-2.5 2.4-2.4 2.8M489.5 112.2l-2.4 2.7M488.6 114.5l-2.5 3.1M490.1 114.2l-2.5 3.1M489.1 117.1l-2.4 3.4M490.7 116.9l-2.5 3.5M492.2 116.9l-2.5 3.5M492.7 120.7l-2.4 3.8M494.2 120.9l-2.4 3.9M495.7 121.3l-2.4 3.9M497.2 121.7l-2.4 4M498.7 122.3l-2.4 3.9M500.2 122.9l-2.4 4M501.7 123.5l-2.4 4.1M503.2 124.3l-2.4 4M504.8 125.1l-2.5 4.1M506.3 126l-2.5 4.1M507.8 126.9l-2.5 4.1M509.3 127.9l-2.5 4.1M510.8 129l-2.5 4.1M517.7 128.5l-2.4 3.9M519.2 129.7l-2.4 3.9M520.7 131l-2.4 3.9M522.2 132.2l-2.4 3.9M584.7 116.4l-.8-.5M527.7 131.2l-2.5 3.7M585.4 116.8l-2.5-1.5M529.2 132.6l-2.5 3.6M586.9 117.7l-2.5-1.4M530.7 134l-2.5 3.6M588.4 118.7l-2.5-1.4M532.2 135.4l-2.5 3.6M589.9 119.7l-2.5-1.4M536.1 133.4l-2.4 3.4M585.4 116.8l1.5 .9 1.5 1 1.5 1M491.8 107.9l1.5-1 1.5-.9M490.8 108.5l1.5-.8 1.5-.9M489.9 109.6l1.5-.8M489 111l1.5-.7 1.5-.6M488 112.7l1.5-.5 1.5-.5M488.6 114.5l1.5-.3 1.5-.3M527.7 131.2l1.5 1.4 1.5 1.4 1.5 1.4 1.5 1.4M489.1 117.1l1.6-.2 1.5 0 1.5 .1M517.7 128.5l1.5 1.2 1.5 1.3 1.5 1.2 1.5 1.3M492.7 120.7l1.5 .2 1.5 .4 1.5 .4 1.5 .6 1.5 .6 1.5 .6 1.5 .8 1.6 .8 1.5 .9 1.5 .9 1.5 1 1.5 1.1 1.5 1.1"/>
<path stroke="#fcbd3d" d="M495.7 105.5l-2.4 1.4M498.8 103.7l-1.6 .8-2.4 1.5-2.5 1.7M496.3 105.2l-2.5 1.6-2.4 2-2.4 2.2M492.9 108.1l-2.4 2.2M492 109.7l-2.5 2.5M493.5 109.2l-2.5 2.5-2.4 2.8M492.5 111.4l-2.4 2.8M491.6 113.9l-2.5 3.2M493.1 113.8l-2.4 3.1M494.6 113.7l-2.4 3.2M493.7 117l-2.5 3.5M495.2 117.1l-2.5 3.6M496.7 117.4l-2.5 3.5M498.2 117.7l-2.5 3.6M499.7 118.1l-2.5 3.6M501.2 118.6l-2.5 3.7M502.7 119.2l-2.5 3.7M504.2 119.8l-2.5 3.7M505.7 120.6l-2.5 3.7M507.2 121.4l-2.4 3.7M508.7 122.2l-2.4 3.8M510.2 123.1l-2.4 3.8M511.7 124.1l-2.4 3.8M513.2 125.1l-2.4 3.9M514.7 126.2l-2.4 3.9M516.2 127.3l-2.4 3.9M521.7 126.1l-2.5 3.6M577.7 112.3l-.8-.5M523.2 127.4l-2.5 3.6M579.2 113.2l-.8-.5M524.7 128.6l-2.5 3.6M581.5 114.5l-1.6-1-2.4-1.3M526.2 129.9l-2.5 3.6M583.9 115.9l-2.5-1.5-2.4-1.3M530.1 127.9l-2.4 3.3M582.9 115.3l-2.4-1.3M531.6 129.2l-2.4 3.4M584.4 116.3l-2.4-1.3M533.1 130.6l-2.4 3.4M585.9 117.3l-2.4-1.3M534.6 132l-2.4 3.4M587.4 118.3l-2.4-1.3M538.6 130.3l-2.5 3.1M583.9 115.9l1.5 .9M579.9 113.5l1.5 .9 1.5 .9 1.5 1 1.5 1 1.5 1M495.7 105.5l1.5-1 1.5-.8M494.8 106l1.5-.8 1.5-.8M493.8 106.8l1.5-.7M491.4 108.8l1.5-.7 1.5-.6M492 109.7l1.5-.5 1.5-.4M491 111.7l1.5-.3 1.5-.3M530.1 127.9l1.5 1.3 1.5 1.4 1.5 1.4 1.5 1.4M491.6 113.9l1.5-.1 1.5-.1 1.5 0M521.7 126.1l1.5 1.3 1.5 1.2 1.5 1.3 1.5 1.3M493.7 117l1.5 .1 1.5 .3 1.5 .3 1.5 .4 1.5 .5 1.5 .6 1.5 .6 1.5 .8 1.5 .8 1.5 .8 1.5 .9 1.5 1 1.5 1 1.5 1.1 1.5 1.1 1.5 1.2"/>
<path stroke="#fec537" d="M501.2 102.5l-2.5 1.2-2.4 1.5M500.2 103l-2.4 1.4-2.5 1.7-2.4 2M496.8 105.5l-2.4 2-2.4 2.2M495.9 107l-2.4 2.2M495 108.8l-2.5 2.6M496.5 108.5l-2.5 2.6-2.4 2.8M495.5 110.9l-2.4 2.9M497 110.8l-2.4 2.9M496.1 113.7l-2.4 3.3M497.6 113.9l-2.4 3.2M499.1 114.1l-2.4 3.3M500.6 114.4l-2.4 3.3M502.1 114.8l-2.4 3.3M503.6 115.3l-2.4 3.3M505.1 115.8l-2.4 3.4M506.6 116.4l-2.4 3.4M508.1 117.1l-2.4 3.5M509.6 117.9l-2.4 3.5M511.1 118.8l-2.4 3.4M512.6 119.7l-2.4 3.4M514.1 120.6l-2.4 3.5M515.7 121.6l-2.5 3.5M517.2 122.7l-2.5 3.5M518.7 123.8l-2.5 3.5M520.2 124.9l-2.5 3.6M574.6 110.6l-1.6-1-2.5-1.2M524.1 122.8l-2.4 3.3M576.9 111.8l-2.4-1.4-2.5-1.2M525.6 124.1l-2.4 3.3M578.4 112.7l-2.4-1.4-2.5-1.2M527.1 125.3l-2.4 3.3M577.5 112.2l-2.5-1.2M528.6 126.6l-2.4 3.3M579 113.1l-2.5-1.2M532.6 124.8l-2.5 3.1M580.5 114l-2.5-1.2M534.1 126.2l-2.5 3M582 115l-2.5-1.2M535.6 127.5l-2.5 3.1M583.5 116l-2.5-1.1M537.1 128.9l-2.5 3.1M585 117l-2.5-1.1-2.4-.9M541 127.5l-2.4 2.8M575.4 111l.7 .4M576.9 111.8l1.5 .9 1.5 .8M573 109.6l1.5 .8 1.5 .9 1.5 .9 1.5 .9 1.5 .9 1.5 1 1.5 1 1.5 1M501.2 102.5l1.5-.8M498.7 103.7l1.5-.7 1.5-.7M497.8 104.4l1.5-.6M495.3 106.1l1.5-.6 1.6-.5M494.4 107.5l1.5-.5 1.5-.5M495 108.8l1.5-.3 1.5-.2M532.6 124.8l1.5 1.4 1.5 1.3 1.5 1.4 1.5 1.4M494 111.1l1.5-.2 1.5-.1 1.5 0M524.1 122.8l1.5 1.3 1.5 1.2 1.5 1.3 1.5 1.3M496.1 113.7l1.5 .2 1.5 .2 1.5 .3 1.5 .4 1.5 .5 1.5 .5 1.5 .6 1.5 .7 1.5 .8 1.5 .9 1.5 .9 1.5 .9 1.6 1 1.5 1.1 1.5 1.1 1.5 1.1 1.5 1.2"/>
<path stroke="#fccf30" d="M505.1 100.7l-2.4 1-2.5 1.3M508.2 99.5l-1.6 .6-2.4 1-2.5 1.2-2.4 1.5-2.5 1.7M503.2 101.8l-2.4 1.4-2.4 1.8-2.5 2M499.9 104.5l-2.5 2-2.4 2.3M498.9 106.2l-2.4 2.3M500.4 106l-2.4 2.3-2.5 2.6M499.5 108.2l-2.5 2.6M501 108.2l-2.5 2.6-2.4 2.9M500 110.9l-2.4 3M501.6 111.1l-2.5 3M503.1 111.4l-2.5 3M504.6 111.8l-2.5 3M506.1 112.2l-2.5 3.1M507.6 112.7l-2.5 3.1M509.1 113.4l-2.5 3M510.6 114l-2.5 3.1M512.1 114.8l-2.5 3.1M513.6 115.6l-2.5 3.2M560.7 103.8l-1.7-.8M515.1 116.5l-2.5 3.2M562.2 104.4l-1.7-.8M516.6 117.4l-2.5 3.2M564.5 105.4l-2.4-1.1M518.1 118.4l-2.4 3.2M566.8 106.5l-.8-.4-2.4-1.2M519.6 119.5l-2.4 3.2M569.1 107.7l-1.6-.9-2.4-1.1M521.1 120.5l-2.4 3.3M571.4 108.8l-2.4-1.2-2.4-1.1M522.6 121.7l-2.4 3.2M570.5 108.4l-2.4-1.1M526.5 119.8l-2.4 3M572 109.2l-2.4-1.1M528.1 121l-2.5 3.1M573.5 110.1l-2.4-1.1M529.6 122.3l-2.5 3M575 111l-2.4-1.1M531.1 123.5l-2.5 3.1M576.5 111.9l-2.4-1M535 122.1l-2.4 2.7M578 112.8l-2.4-1M536.5 123.4l-2.4 2.8M579.5 113.8l-2.4-.9-2.5-.9M538 124.7l-2.4 2.8M581 114.9l-2.4-1-2.4-.8M542 123.5l-2.5 2.6-2.4 2.8M580.1 115l-2.4-.8M543.5 124.9l-2.5 2.6M564.5 105.4l.7 .4M566 106.1l1.5 .7 1.5 .8 1.5 .8 1.5 .8 1.5 .9 1.5 .9 1.5 .9 1.5 .9 1.5 1 1.5 1.1 1.5 1M577.1 112.9l1.5 1 1.5 1.1M505.9 100.4l.7-.3 1.5-.6M502.7 101.7l1.5-.6 1.5-.6M501.7 102.3l1.5-.5 1.5-.5M499.3 103.8l1.5-.6 1.5-.4M498.4 105l1.5-.5 1.5-.3M542 123.5l1.5 1.4M497.4 106.5l1.5-.3 1.5-.2 1.5-.1M535 122.1l1.5 1.3 1.5 1.3 1.5 1.4 1.5 1.4M498 108.3l1.5-.1 1.5 0 1.5 .1M526.5 119.8l1.6 1.2 1.5 1.3 1.5 1.2 1.5 1.3M498.5 110.8l1.5 .1 1.6 .2 1.5 .3 1.5 .4 1.5 .4 1.5 .5 1.5 .7 1.5 .6 1.5 .8 1.5 .8 1.5 .9 1.5 .9 1.5 1 1.5 1.1 1.5 1 1.5 1.2 1.5 1.1"/>
<path stroke="#f8d92c" d="M511.4 98.5l-.8 .2-2.5 .8-2.4 1-2.5 1.3M514.5 97.6l-2.4 .6-2.5 .8-2.4 1-2.5 1.3-2.4 1.5-2.4 1.7M506.2 100.9l-2.4 1.5-2.4 1.8-2.5 2M505.3 102.2l-2.4 1.8-2.5 2M504.4 103.8l-2.5 2.1-2.4 2.3M503.4 105.8l-2.4 2.4M504.9 105.9l-2.4 2.4-2.5 2.6M504 108.4l-2.4 2.7M505.5 108.7l-2.4 2.7M507 109l-2.4 2.8M508.5 109.5l-2.4 2.7M510 110l-2.4 2.7M511.5 110.6l-2.4 2.8M551.3 100.1l-1.7-.6M513 111.2l-2.4 2.8M514.5 112l-2.4 2.8M555.9 101.8l-.8-.4M516 112.8l-2.4 2.8M559 103l-2.4-1M517.5 113.6l-2.4 2.9M560.5 103.6l-2.4-1M519 114.5l-2.4 2.9M562.1 104.3l-2.5-1M520.5 115.5l-2.4 2.9M563.6 104.9l-2.5-.9M522 116.5l-2.4 3M565.1 105.7l-2.5-1M523.5 117.6l-2.4 2.9M566.6 106.5l-2.5-1M527.5 116l-2.5 2.7-2.4 3M568.1 107.3l-2.5-1M529 117.1l-2.5 2.7M569.6 108.1l-2.5-.9M530.5 118.3l-2.4 2.7M571.1 109l-2.5-.9-2.4-.7M532 119.5l-2.4 2.8M572.6 109.9l-2.5-.9-2.4-.7M535.9 118.3l-2.4 2.5-2.4 2.7M574.1 110.9l-2.5-.9-2.4-.7M537.4 119.6l-2.4 2.5M575.6 111.8l-2.5-.8-2.4-.7M539 120.8l-2.5 2.6M574.6 112l-2.4-.6M542.9 119.9l-2.4 2.3-2.5 2.5M576.2 113.1l-2.5-.6-2.4-.5M544.4 121.2l-2.4 2.3M577.7 114.2l-2.5-.6-2.4-.4M548.3 120.6l-2.4 2-2.4 2.3M559 103l1.5 .6 1.6 .7 1.5 .6 1.5 .8 1.5 .8 1.5 .8 1.5 .8 1.5 .9 1.5 .9 1.5 1 1.5 .9 1.5 1.1M568.6 108.1l1.5 .9 1.5 1 1.5 1 1.5 1 1.6 1.1 1.5 1.1M573.7 112.5l1.5 1.1M510.6 98.7l1.5-.5 1.5-.4M508.1 99.5l1.5-.5 1.5-.4M505.7 100.5l1.5-.5 1.5-.4M504.7 101.3l1.5-.4 1.5-.3M502.3 102.8l1.5-.4 1.5-.2 1.5-.2M542.9 119.9l1.5 1.3 1.5 1.4M501.4 104.2l1.5-.2 1.5-.2 1.5-.1M535.9 118.3l1.5 1.3 1.6 1.2 1.5 1.4 1.5 1.3M501.9 105.9l1.5-.1 1.5 .1 1.5 .1M527.5 116l1.5 1.1 1.5 1.2 1.5 1.2 1.5 1.3 1.5 1.3M502.5 108.3l1.5 .1 1.5 .3 1.5 .3 1.5 .5 1.5 .5 1.5 .6 1.5 .6 1.5 .8 1.5 .8 1.5 .8 1.5 .9 1.5 1 1.5 1 1.5 1.1 1.5 1.1 1.5 1.1"/>
<path stroke="#f5e327" d="M517.6 97l-1.6 .2-2.4 .6-2.5 .8-2.4 1-2.5 1.3M521.6 96.4l-1.6 .1-2.5 .4-2.4 .6-2.5 .8-2.4 1.1-2.5 1.2-2.4 1.6M523.9 96.1l-2.4 .2-2.5 .4M511.7 99.2l-2.4 1.3-2.5 1.5-2.4 1.8M527.8 96l-2.4 0M510.8 100.4l-2.5 1.5-2.4 1.8-2.5 2.1M509.8 102l-2.4 1.8-2.5 2.1M508.9 103.9l-2.5 2.1-2.4 2.4M537.2 96.7l-2.4-.4M510.4 104.1l-2.5 2.2-2.4 2.4M511.9 104.4l-2.5 2.2-2.4 2.4M541.9 97.5l-1.6-.3M510.9 107l-2.4 2.5M545 98.3l-.8-.3-2.4-.5M512.5 107.5l-2.5 2.5M548.1 99.1l-2.4-.7M514 108.1l-2.5 2.5M549.6 99.5l-2.4-.7M515.5 108.7l-2.5 2.5M552.8 100.6l-1.6-.6-2.5-.7M517 109.4l-2.5 2.6M555.1 101.4l-2.4-.9-2.5-.7M518.5 110.2l-2.5 2.6M556.6 102l-2.4-.9-2.5-.7M520 111l-2.5 2.6M558.1 102.6l-2.4-.9-2.5-.6M521.5 111.9l-2.5 2.6M559.6 103.3l-2.4-.9-2.5-.6M523 112.9l-2.5 2.6M561.1 104l-2.4-.9-2.5-.6M526.9 111.5l-2.4 2.4-2.5 2.6M562.6 104.7l-2.4-.8-2.5-.6M528.4 112.5l-2.4 2.4-2.5 2.7M564.1 105.5l-2.4-.8-2.5-.6M529.9 113.6l-2.4 2.4M565.6 106.3l-2.4-.8-2.5-.5M531.4 114.7l-2.4 2.4M567.1 107.2l-2.4-.8-2.5-.5M535.4 113.7l-2.5 2.2-2.4 2.4M566.2 107.4l-2.5-.6M536.9 114.9l-2.5 2.2-2.4 2.4M567.7 108.3l-2.4-.5-2.5-.4M538.4 116.1l-2.5 2.2M569.2 109.3l-2.4-.5-2.5-.3M542.3 115.3l-2.4 2-2.5 2.3M570.7 110.3l-2.4-.5-2.5-.3M543.8 116.6l-2.4 2-2.4 2.2M572.2 111.4l-2.4-.5-2.5-.3-2.4 0M547.8 116.1l-2.5 1.8-2.4 2M571.3 112l-2.5-.2-2.4-.1-2.5 .2M551.7 115.9l-2.4 1.5-2.5 1.8-2.4 2M572.8 113.2l-2.5-.3-2.4 0-2.5 .2-2.4 .3M555.7 115.9l-2.5 1.3-2.4 1.6-2.5 1.8M555.1 101.4l1.5 .6 1.5 .6 1.5 .7 1.5 .7 1.5 .7 1.5 .8 1.5 .8 1.5 .9 1.5 .9M548.1 99.1l1.5 .4 1.6 .5 1.5 .5 1.5 .6 1.5 .6 1.5 .7 1.5 .7 1.5 .8 1.5 .8 1.5 .8 1.5 .9 1.5 1 1.5 .9 1.5 1 1.5 1 1.5 1.1 1.5 1.1M544.2 98l1.5 .4M565.3 107.8l1.5 1 1.5 1 1.5 1.1 1.5 1.1 1.5 1.2M567.3 110.6l1.5 1.2 1.5 1.1M566.4 111.7l1.5 1.2M527.8 96l1.6 0M523.9 96.1l1.5-.1M519.2 96.7l.8-.2 1.5-.2 1.5-.1M516 97.2l1.5-.3 1.5-.2M513.6 97.8l1.5-.3 1.5-.2M511.1 98.6l1.5-.3 1.5-.2M551.7 115.9l1.5 1.3M508.7 99.6l1.5-.2 1.5-.2 1.5-.1M547.8 116.1l1.5 1.3 1.5 1.4M507.7 100.6l1.6-.1 1.5-.1 1.5 0M542.3 115.3l1.5 1.3 1.5 1.3 1.5 1.3 1.5 1.4M506.8 102l1.5-.1 1.5 .1 1.5 .1M535.4 113.7l1.5 1.2 1.5 1.2 1.5 1.2 1.5 1.3 1.5 1.3M505.9 103.7l1.5 .1 1.5 .1 1.5 .2 1.5 .3 1.5 .4M526.9 111.5l1.5 1 1.5 1.1 1.5 1.1 1.5 1.2 1.5 1.2 1.5 1.2M506.4 106l1.5 .3 1.5 .3 1.5 .4 1.6 .5 1.5 .6 1.5 .6 1.5 .7 1.5 .8 1.5 .8 1.5 .9 1.5 1 1.5 1 1.5 1 1.5 1.1"/>
<path stroke="#f5ed22" d="M519 96.7l-2.4 .6-2.5 .8-2.4 1.1M525.4 96l-2.4 .2-2.5 .4-2.4 .6-2.5 .8-2.4 1.1-2.4 1.3M529.4 96l-2.5 0-2.4 .1-2.5 .4-2.4 .6-2.5 .9-2.4 1.1-2.4 1.3-2.5 1.6M533.3 96.2l-2.4-.2-2.5 0-2.4 .2-2.5 .4M518.6 98.1l-2.4 1-2.4 1.4-2.5 1.6-2.4 1.8M534.8 96.3l-2.4-.2-2.5 0-2.4 .2M517.7 99.3l-2.4 1.4-2.5 1.6-2.4 1.8M538.7 96.9l-2.4-.4-2.4-.2-2.5 0M516.8 100.9l-2.5 1.7-2.4 1.8M540.3 97.2l-2.5-.4-2.4-.2M515.8 102.9l-2.4 1.9-2.5 2.2M541.8 97.5l-2.5-.4-2.4-.2M517.3 103.4l-2.4 1.9-2.4 2.2M545.7 98.4l-2.4-.6-2.5-.3-2.4-.2M518.8 103.9l-2.4 1.9-2.4 2.3M547.2 98.8l-2.4-.5-2.5-.4M520.3 104.5l-2.4 2-2.4 2.2M548.7 99.3l-2.4-.5-2.5-.4M521.8 105.2l-2.4 2-2.4 2.2M550.2 99.8l-2.4-.5-2.5-.3M523.4 105.9l-2.5 2-2.4 2.3M551.7 100.4l-2.4-.5-2.5-.3M524.9 106.7l-2.5 2-2.4 2.3M553.2 101.1l-2.4-.5-2.5-.3M526.4 107.5l-2.5 2.1-2.4 2.3M554.7 101.8l-2.4-.5-2.5-.3M527.9 108.4l-2.5 2.1-2.4 2.4M556.2 102.5l-2.4-.5-2.5-.2M531.8 107.6l-2.4 1.8-2.5 2.1M557.7 103.3l-2.4-.5-2.5-.2M533.3 108.6l-2.4 1.8-2.5 2.1M559.2 104.1l-2.4-.4-2.4-.3M534.8 109.6l-2.4 1.9-2.5 2.1M560.7 105l-2.4-.4-2.4-.2M538.8 109l-2.5 1.7-2.4 1.9-2.5 2.1M562.2 105.9l-2.4-.4-2.4-.2-2.5 0M540.3 110.1l-2.5 1.7-2.4 1.9M563.7 106.8l-2.4-.4-2.4-.1-2.5 0M544.2 109.8l-2.4 1.5-2.5 1.6-2.4 2M562.8 107.4l-2.4-.1-2.5 .1-2.4 .2M548.2 109.8l-2.5 1.2-2.4 1.4-2.5 1.7-2.4 2M564.3 108.5l-2.4-.1-2.5 0-2.4 .3-2.5 .5-2.4 .8-2.4 1-2.5 1.2-2.4 1.4-2.5 1.7M565.8 109.5l-2.4-.1-2.5 .1-2.4 .4-2.5 .5-2.4 .8-2.4 1-2.5 1.2-2.4 1.5-2.5 1.7M564.9 110.6l-2.5 .1-2.4 .3-2.4 .6-2.5 .8-2.4 1-2.5 1.2-2.4 1.5M563.9 111.9l-2.4 .3-2.4 .6-2.5 .8-2.4 1-2.5 1.3M563 113.4l-2.4 .6-2.5 .9-2.4 1M545.7 98.4l1.5 .4 1.5 .5 1.5 .5 1.5 .6 1.5 .7 1.5 .7 1.5 .7 1.5 .8 1.5 .8 1.5 .9 1.5 .9 1.5 .9 1.6 1M538.7 96.9l1.6 .3 1.5 .3 1.5 .3 1.5 .5 1.5 .5 1.5 .5 1.5 .6 1.5 .7 1.5 .7 1.5 .7 1.5 .8 1.5 .9 1.5 .9 1.5 .9 1.5 .9 1.5 1 1.5 1.1 1.5 1 1.5 1.1M534.8 96.3l1.5 .2 1.5 .3 1.5 .3 1.5 .4 1.5 .4M557.4 105.3l1.5 1 1.5 1 1.5 1.1 1.5 1 1.5 1.2 1.5 1.1M529.4 96l.7 0M530.9 96l1.5 .1 1.5 .2 1.5 .3M557.9 107.4l1.5 1 1.5 1.1 1.5 1.2 1.5 1.2 1.5 1.2M525.4 96l1.5 0 1.5 0 1.5 .1 1.5 .2M557 108.7l1.5 1.2 1.5 1.1 1.5 1.2 1.5 1.2M523 96.2l1.5-.1 1.5 .1 1.5 .1M554.5 109.2l1.5 1.2 1.6 1.2 1.5 1.2 1.5 1.2M519 96.7l1.5-.1 1.5-.1 1.5 .1M552.1 110l1.5 1.2 1.5 1.2 1.5 1.2 1.5 1.3M516.6 97.3l1.5-.1 1.5-.1 1.5 .1M548.2 109.8l1.5 1.2 1.5 1.2 1.5 1.2 1.5 1.2 1.5 1.3M514.1 98.1l1.5-.1 1.5 0 1.5 .1 1.6 .1M544.2 109.8l1.5 1.2 1.5 1.2 1.5 1.2 1.5 1.2 1.5 1.3M513.2 99.1l1.5 0 1.5 0 1.5 .2 1.5 .3M538.8 109l1.5 1.1 1.5 1.2 1.5 1.1 1.5 1.2 1.5 1.3 1.5 1.2M512.3 100.4l1.5 .1 1.5 .2 1.5 .2 1.5 .4M531.8 107.6l1.5 1 1.5 1 1.5 1.1 1.5 1.1 1.5 1.1 1.5 1.2 1.5 1.2M511.3 102.1l1.5 .2 1.5 .3 1.5 .3 1.5 .5 1.5 .5 1.5 .6 1.5 .7 1.6 .7 1.5 .8 1.5 .8 1.5 .9 1.5 1 1.5 1 1.5 1.1 1.5 1.1 1.5 1.1M513.4 104.8l1.5 .5 1.5 .5 1.5 .7 1.5 .7 1.5 .7 1.5 .8 1.5 .9 1.5 .9 1.5 1"/>
<path stroke="#f8f61a" d="M523.5 96.6l-2.4 .6-2.5 .9M527.5 96.3l-2.5 .4-2.4 .7-2.4 .8-2.5 1.1M531.4 96.3l-2.4 .2-2.5 .4-2.4 .7-2.4 .9-2.5 1.1-2.4 1.3M535.4 96.6l-2.5 0-2.4 .2-2.5 .4-2.4 .7-2.4 .9-2.5 1.1-2.4 1.4-2.5 1.6M536.9 96.9l-2.5 0-2.4 .2-2.5 .5-2.4 .7-2.4 .9-2.5 1.1-2.4 1.4-2.5 1.7M538.4 97.3l-2.5 0-2.4 .3-2.5 .4-2.4 .7-2.4 .9-2.5 1.2-2.4 1.4-2.5 1.7M542.3 97.9l-2.4-.1-2.5 0-2.4 .3-2.4 .4-2.5 .7-2.4 1-2.5 1.2-2.4 1.4-2.5 1.7M543.8 98.4l-2.4-.1-2.5 0-2.4 .3-2.4 .5-2.5 .7-2.4 1-2.5 1.2-2.4 1.4-2.5 1.8M545.3 99l-2.4-.1-2.5 0-2.4 .3-2.4 .5-2.5 .8-2.4 1-2.5 1.2-2.4 1.5-2.4 1.7M546.8 99.6l-2.4-.1-2.5 .1-2.4 .3-2.4 .5-2.5 .8-2.4 1-2.5 1.2-2.4 1.5-2.4 1.8M548.3 100.3l-2.4-.1-2.4 .1-2.5 .3-2.4 .6-2.5 .7-2.4 1.1-2.5 1.2-2.4 1.6-2.4 1.7M549.8 101l-2.4-.1-2.4 .1-2.5 .4-2.4 .6-2.5 .8-2.4 1-2.5 1.3-2.4 1.5-2.4 1.8M551.3 101.8l-2.4-.1-2.4 .2-2.5 .3-2.4 .6-2.5 .8-2.4 1.1-2.5 1.3-2.4 1.6M552.8 102.6l-2.4-.1-2.4 .2-2.5 .4-2.4 .6-2.5 .9-2.4 1-2.4 1.4-2.5 1.6M554.4 103.4l-2.5 0-2.4 .2-2.5 .4-2.4 .7-2.5 .8-2.4 1.1-2.4 1.4-2.5 1.6M555.9 104.4l-2.5-.1-2.4 .3-2.5 .4-2.4 .6-2.5 .9-2.4 1.2-2.4 1.3M554.9 105.3l-2.4 .2-2.5 .5-2.4 .7-2.5 .9-2.4 1.1-2.4 1.4M556.4 106.3l-2.4 .3-2.5 .4-2.4 .7-2.4 1-2.5 1.1M555.5 107.6l-2.5 .5-2.4 .7-2.4 1M542.3 97.9l1.5 .5 1.5 .6 1.5 .6 1.5 .7 1.5 .7 1.5 .8 1.5 .8 1.6 .8 1.5 1 1.5 .9M535.4 96.6l1.5 .3 1.5 .4 1.5 .5 1.5 .5 1.5 .6 1.5 .6 1.5 .7 1.5 .7 1.5 .8 1.5 .8 1.5 .9 1.5 .9 1.5 1 1.5 1 1.5 1.1M531.4 96.3l1.5 .3 1.5 .3 1.5 .4 1.5 .5 1.5 .5 1.5 .6 1.5 .7 1.6 .7 1.5 .7 1.5 .9 1.5 .8 1.5 .9 1.5 1 1.5 .9 1.5 1.1 1.5 1 1.5 1.1M527.5 96.3l1.5 .2 1.5 .3 1.5 .3 1.5 .5 1.5 .5 1.5 .5 1.5 .6 1.5 .7 1.5 .7 1.5 .8 1.5 .8 1.5 .9 1.5 .9 1.5 1 1.5 1 1.5 1 1.5 1.1 1.5 1.1M523.5 96.6l1.5 .1 1.5 .2 1.5 .3 1.5 .4 1.5 .4 1.6 .5 1.5 .6 1.5 .6 1.5 .7 1.5 .8 1.5 .8 1.5 .8 1.5 .9 1.5 1 1.5 .9 1.5 1.1 1.5 1 1.5 1.1 1.5 1.2M521.1 97.2l1.5 .2 1.5 .2 1.5 .3 1.5 .4 1.5 .4 1.5 .5 1.5 .6 1.5 .7 1.5 .7 1.5 .7 1.5 .9 1.5 .8 1.5 1 1.5 .9 1.5 1 1.5 1.1 1.6 1.1 1.5 1.1M520.2 98.2l1.5 .3 1.5 .3 1.5 .4 1.5 .4 1.5 .6 1.5 .6 1.5 .7 1.5 .7 1.5 .8 1.5 .8 1.5 .9 1.5 .9 1.5 1 1.5 1.1 1.5 1 1.5 1.1M519.2 99.6l1.5 .3 1.5 .4 1.5 .5 1.5 .6 1.5 .6 1.5 .7 1.5 .7 1.5 .8 1.5 .9 1.5 .9 1.6 1 1.5 1 1.5 1M518.3 101.3l1.5 .4 1.5 .5 1.5 .6 1.5 .6 1.5 .8 1.5 .7 1.5 .9 1.5 .8 1.5 1"/></g><path d="M396.3 163.1L516.6 218.7" stroke="#50448c" stroke-width="0.65" fill="none"/>
<text x="31.2" y="163.8" text-anchor="end">0</text>
<text x="31.2" y="133.8" text-anchor="end">0.05</text>
<text x="31.2" y="103.8" text-anchor="end">0.1</text>
<text x="31.2" y="73.8" text-anchor="end">0.15</text>
<text x="31.2" y="43.8" text-anchor="end">0.2</text>
<text x="31.2" y="174.3" text-anchor="end">0</text>
<text x="61.3" y="188.2" text-anchor="end">0.5</text>
<text x="91.4" y="202.1" text-anchor="end">1</text>
<text x="121.5" y="216.1" text-anchor="end">1.5</text>
<text x="151.7" y="230.0" text-anchor="end">2</text>
<text x="322.0" y="188.9">0</text>
<text x="290.6" y="197.4">0.2</text>
<text x="259.3" y="205.8">0.4</text>
<text x="228.0" y="214.2">0.6</text>
<text x="196.6" y="222.6">0.8</text>
<text x="165.3" y="231.0">1</text>
<text class="s" x="71.6" y="228.0" textLength="30.8" lengthAdjust="spacingAndGlyphs">t-values</text>
<text class="s" x="224.1" y="231.7" textLength="32.6" lengthAdjust="spacingAndGlyphs">x-values</text>
<text class="s" transform="translate(8.5,156.5) rotate(-90)" textLength="106" lengthAdjust="spacingAndGlyphs">Numerical Solution U(x,t)</text><text x="389.0" y="163.7" text-anchor="end">0</text>
<text x="389.0" y="139.7" text-anchor="end">0.05</text>
<text x="389.0" y="115.7" text-anchor="end">0.1</text>
<text x="389.0" y="91.8" text-anchor="end">0.15</text>
<text x="389.0" y="67.8" text-anchor="end">0.2</text>
<text x="389.0" y="43.8" text-anchor="end">0.25</text>
<text x="389.0" y="174.2" text-anchor="end">0</text>
<text x="419.0" y="188.1" text-anchor="end">0.5</text>
<text x="449.1" y="202.0" text-anchor="end">1</text>
<text x="479.2" y="215.9" text-anchor="end">1.5</text>
<text x="509.3" y="229.8" text-anchor="end">2</text>
<text x="679.2" y="188.9">0</text>
<text x="647.9" y="197.3">0.2</text>
<text x="616.7" y="205.7">0.4</text>
<text x="585.4" y="214.1">0.6</text>
<text x="554.1" y="222.4">0.8</text>
<text x="522.9" y="230.8">1</text>
<text class="s" x="429.0" y="228.0" textLength="30.8" lengthAdjust="spacingAndGlyphs">t-values</text>
<text class="s" x="581.5" y="231.7" textLength="32.6" lengthAdjust="spacingAndGlyphs">x-values</text>
<text class="s" transform="translate(365.9,156.5) rotate(-90)" textLength="106" lengthAdjust="spacingAndGlyphs">Numerical Solution U(x,t)</text><text class="c" y="265.5"><tspan x="139.0" y="265.5">(a) </tspan><tspan x="155.1" y="265.5" font-style="italic" textLength="4.8" lengthAdjust="spacingAndGlyphs">ε</tspan><tspan x="165.6" y="268.1" style="font-size:15px" stroke="#222" stroke-width="0.35" textLength="9.3" lengthAdjust="spacingAndGlyphs">=</tspan><tspan x="179.7" y="265.6">2</tspan><tspan x="187.4" y="261.8" stroke="#222" stroke-width="0.3" textLength="7" lengthAdjust="spacingAndGlyphs">−</tspan><tspan x="195.9" y="260.9" style="font-size:8.4px">4</tspan></text><text class="c" y="265.5"><tspan x="493.3" y="265.5">(b) </tspan><tspan x="509.4" y="265.5" font-style="italic" textLength="4.8" lengthAdjust="spacingAndGlyphs">ε</tspan><tspan x="520.6" y="268.1" style="font-size:15px" stroke="#222" stroke-width="0.35" textLength="9.3" lengthAdjust="spacingAndGlyphs">=</tspan><tspan x="534.7" y="265.6">2</tspan><tspan x="542.4" y="261.8" stroke="#222" stroke-width="0.3" textLength="7" lengthAdjust="spacingAndGlyphs">−</tspan><tspan x="551.2" y="260.9" style="font-size:8.4px">1</tspan><tspan x="556.4" y="260.9" style="font-size:8.4px">2</tspan></text>
</svg></body></html>
